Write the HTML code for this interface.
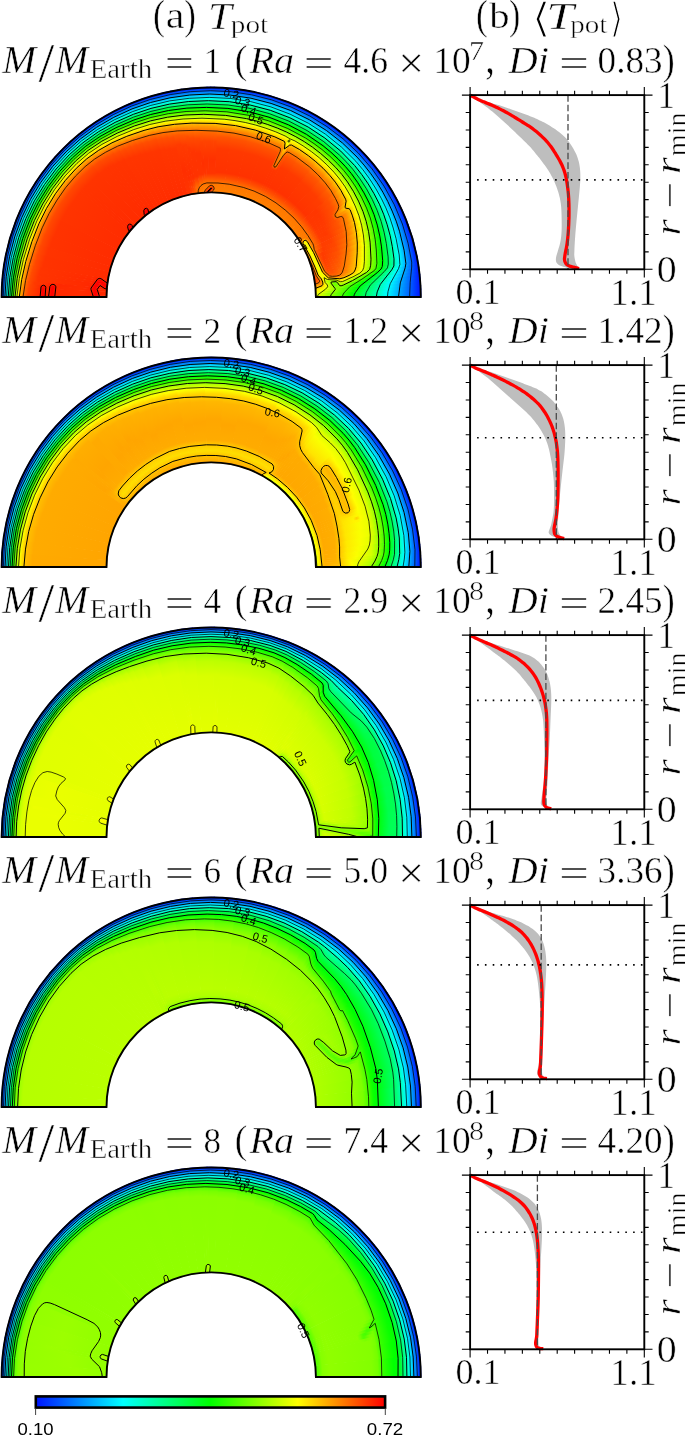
<!DOCTYPE html>
<html><head><meta charset="utf-8"><title>Tpot</title>
<style>
html,body{margin:0;padding:0;background:#fff;overflow:hidden;}
svg{display:block;}
.s{font-family:"Liberation Serif",serif;}
.i{font-family:"Liberation Serif",serif;font-style:italic;}
.a{font-family:"Liberation Sans",sans-serif;}
.d{font-family:"DejaVu Serif","Liberation Serif",serif;}
</style></head>
<body>
<svg width="685" height="1437" viewBox="0 0 685 1437">
<defs>
<linearGradient id="cb" x1="0" x2="1" y1="0" y2="0"><stop offset="0" stop-color="#0014ff"/><stop offset=".25" stop-color="#00ffff"/><stop offset=".5" stop-color="#00ff00"/><stop offset=".75" stop-color="#ffff00"/><stop offset="1" stop-color="#ff0000"/></linearGradient>
<radialGradient id="g0_0" gradientUnits="userSpaceOnUse" cx="211.2" cy="297" r="209.6"><stop offset="0.4995" stop-color="#f1ff00"/><stop offset="0.6228" stop-color="#4aff00"/><stop offset="0.6731" stop-color="#00ff01"/><stop offset="0.8390" stop-color="#00fcff"/><stop offset="1.0000" stop-color="#0014ff"/></radialGradient>
<radialGradient id="g0_1" gradientUnits="userSpaceOnUse" cx="211.2" cy="297" r="209.6"><stop offset="0.4995" stop-color="#fff800"/><stop offset="0.5171" stop-color="#f1ff00"/><stop offset="0.6429" stop-color="#40ff00"/><stop offset="0.6856" stop-color="#00ff03"/><stop offset="0.8441" stop-color="#00fcff"/><stop offset="1.0000" stop-color="#0014ff"/></radialGradient>
<radialGradient id="g0_2" gradientUnits="userSpaceOnUse" cx="211.2" cy="297" r="209.6"><stop offset="0.4995" stop-color="#ffe400"/><stop offset="0.5247" stop-color="#fcff00"/><stop offset="0.5825" stop-color="#a6ff00"/><stop offset="0.6630" stop-color="#32ff00"/><stop offset="0.6957" stop-color="#00ff03"/><stop offset="0.8491" stop-color="#00fdff"/><stop offset="1.0000" stop-color="#0014ff"/></radialGradient>
<radialGradient id="g0_3" gradientUnits="userSpaceOnUse" cx="211.2" cy="297" r="209.6"><stop offset="0.4995" stop-color="#ffcd00"/><stop offset="0.5423" stop-color="#faff00"/><stop offset="0.5750" stop-color="#baff00"/><stop offset="0.5951" stop-color="#87ff00"/><stop offset="0.6228" stop-color="#86ff00"/><stop offset="0.7083" stop-color="#00ff02"/><stop offset="0.8541" stop-color="#00ffff"/><stop offset="1.0000" stop-color="#0014ff"/></radialGradient>
<radialGradient id="g0_4" gradientUnits="userSpaceOnUse" cx="211.2" cy="297" r="209.6"><stop offset="0.4995" stop-color="#ffa800"/><stop offset="0.5297" stop-color="#ffcd00"/><stop offset="0.5498" stop-color="#ffff00"/><stop offset="0.5775" stop-color="#a6ff00"/><stop offset="0.5926" stop-color="#6dff00"/><stop offset="0.6001" stop-color="#6dff00"/><stop offset="0.6177" stop-color="#a5ff00"/><stop offset="0.6303" stop-color="#a7ff00"/><stop offset="0.7284" stop-color="#00ff02"/><stop offset="0.8642" stop-color="#00ffff"/><stop offset="1.0000" stop-color="#0014ff"/></radialGradient>
<radialGradient id="g0_5" gradientUnits="userSpaceOnUse" cx="211.2" cy="297" r="209.6"><stop offset="0.4995" stop-color="#ff8100"/><stop offset="0.5247" stop-color="#ff9d00"/><stop offset="0.5347" stop-color="#ffbd00"/><stop offset="0.5473" stop-color="#feff00"/><stop offset="0.5775" stop-color="#8fff00"/><stop offset="0.5926" stop-color="#6dff00"/><stop offset="0.5976" stop-color="#6cff00"/><stop offset="0.6052" stop-color="#8cff00"/><stop offset="0.6152" stop-color="#c6ff00"/><stop offset="0.6228" stop-color="#dbff00"/><stop offset="0.6353" stop-color="#d8ff00"/><stop offset="0.7234" stop-color="#38ff00"/><stop offset="0.7535" stop-color="#00ff05"/><stop offset="0.8768" stop-color="#00feff"/><stop offset="1.0000" stop-color="#0014ff"/></radialGradient>
<radialGradient id="g0_6" gradientUnits="userSpaceOnUse" cx="211.2" cy="297" r="209.6"><stop offset="0.4995" stop-color="#ff6300"/><stop offset="0.5196" stop-color="#ff7800"/><stop offset="0.5297" stop-color="#ff9900"/><stop offset="0.5398" stop-color="#ffda00"/><stop offset="0.5448" stop-color="#fcff00"/><stop offset="0.5523" stop-color="#c8ff00"/><stop offset="0.5674" stop-color="#a9ff00"/><stop offset="0.5825" stop-color="#a9ff00"/><stop offset="0.6001" stop-color="#c7ff00"/><stop offset="0.6127" stop-color="#fdff00"/><stop offset="0.6228" stop-color="#ffe900"/><stop offset="0.6378" stop-color="#fff200"/><stop offset="0.6504" stop-color="#f8ff00"/><stop offset="0.7334" stop-color="#57ff00"/><stop offset="0.7737" stop-color="#00ff00"/><stop offset="0.8868" stop-color="#00fffe"/><stop offset="1.0000" stop-color="#0014ff"/></radialGradient>
<radialGradient id="g0_7" gradientUnits="userSpaceOnUse" cx="211.2" cy="297" r="209.6"><stop offset="0.4995" stop-color="#ff4b00"/><stop offset="0.5146" stop-color="#ff5b00"/><stop offset="0.5247" stop-color="#ff7d00"/><stop offset="0.5347" stop-color="#ffc000"/><stop offset="0.5423" stop-color="#fffc00"/><stop offset="0.5498" stop-color="#d8ff00"/><stop offset="0.5549" stop-color="#d2ff00"/><stop offset="0.5750" stop-color="#fffc00"/><stop offset="0.6001" stop-color="#ffbe00"/><stop offset="0.6202" stop-color="#ffa600"/><stop offset="0.6429" stop-color="#ffba00"/><stop offset="0.6856" stop-color="#fdff00"/><stop offset="0.7560" stop-color="#66ff00"/><stop offset="0.7988" stop-color="#00ff02"/><stop offset="0.8994" stop-color="#00ffff"/><stop offset="1.0000" stop-color="#0014ff"/></radialGradient>
<radialGradient id="g0_8" gradientUnits="userSpaceOnUse" cx="211.2" cy="297" r="209.6"><stop offset="0.4995" stop-color="#ff4000"/><stop offset="0.5121" stop-color="#ff5300"/><stop offset="0.5222" stop-color="#ff7f00"/><stop offset="0.5398" stop-color="#fdff00"/><stop offset="0.5448" stop-color="#e8ff00"/><stop offset="0.5498" stop-color="#e6ff00"/><stop offset="0.5549" stop-color="#f8ff00"/><stop offset="0.5574" stop-color="#fff700"/><stop offset="0.5674" stop-color="#ffae00"/><stop offset="0.5750" stop-color="#ff9500"/><stop offset="0.5951" stop-color="#ff7600"/><stop offset="0.6202" stop-color="#ff7600"/><stop offset="0.6680" stop-color="#ffab00"/><stop offset="0.7158" stop-color="#feff00"/><stop offset="0.7787" stop-color="#69ff00"/><stop offset="0.8189" stop-color="#00ff03"/><stop offset="0.9095" stop-color="#00feff"/><stop offset="1.0000" stop-color="#0014ff"/></radialGradient>
<radialGradient id="g0_9" gradientUnits="userSpaceOnUse" cx="211.2" cy="297" r="209.6"><stop offset="0.4995" stop-color="#ff4000"/><stop offset="0.5096" stop-color="#ff5a00"/><stop offset="0.5196" stop-color="#ff9200"/><stop offset="0.5322" stop-color="#fff200"/><stop offset="0.5347" stop-color="#fdff00"/><stop offset="0.5398" stop-color="#ecff00"/><stop offset="0.5448" stop-color="#efff00"/><stop offset="0.5498" stop-color="#fffa00"/><stop offset="0.5674" stop-color="#ff8000"/><stop offset="0.5775" stop-color="#ff5e00"/><stop offset="0.6077" stop-color="#ff6000"/><stop offset="0.6605" stop-color="#ff8e00"/><stop offset="0.7083" stop-color="#ffd800"/><stop offset="0.7284" stop-color="#fdff00"/><stop offset="0.7887" stop-color="#67ff00"/><stop offset="0.8265" stop-color="#00ff03"/><stop offset="0.9145" stop-color="#00fbff"/><stop offset="1.0000" stop-color="#0014ff"/></radialGradient>
<radialGradient id="g0_10" gradientUnits="userSpaceOnUse" cx="211.2" cy="297" r="209.6"><stop offset="0.4995" stop-color="#ff4200"/><stop offset="0.5071" stop-color="#ff5b00"/><stop offset="0.5146" stop-color="#ff8e00"/><stop offset="0.5247" stop-color="#ffe400"/><stop offset="0.5297" stop-color="#fcff00"/><stop offset="0.5347" stop-color="#eeff00"/><stop offset="0.5398" stop-color="#f5ff00"/><stop offset="0.5423" stop-color="#ffff00"/><stop offset="0.5624" stop-color="#ff7600"/><stop offset="0.5725" stop-color="#ff5600"/><stop offset="0.5901" stop-color="#ff5100"/><stop offset="0.6504" stop-color="#ff7a00"/><stop offset="0.6982" stop-color="#ffba00"/><stop offset="0.7334" stop-color="#ffff00"/><stop offset="0.7913" stop-color="#6dff00"/><stop offset="0.8290" stop-color="#01ff00"/><stop offset="0.9145" stop-color="#00fffd"/><stop offset="1.0000" stop-color="#0014ff"/></radialGradient>
<radialGradient id="g0_11" gradientUnits="userSpaceOnUse" cx="211.2" cy="297" r="209.6"><stop offset="0.4995" stop-color="#ff4400"/><stop offset="0.5071" stop-color="#ff6000"/><stop offset="0.5146" stop-color="#ff9800"/><stop offset="0.5247" stop-color="#fff200"/><stop offset="0.5272" stop-color="#fcff00"/><stop offset="0.5322" stop-color="#f0ff00"/><stop offset="0.5372" stop-color="#ffff00"/><stop offset="0.5523" stop-color="#ff8b00"/><stop offset="0.5599" stop-color="#ff6400"/><stop offset="0.5699" stop-color="#ff4d00"/><stop offset="0.5976" stop-color="#ff5000"/><stop offset="0.6580" stop-color="#ff7c00"/><stop offset="0.7057" stop-color="#ffbe00"/><stop offset="0.7384" stop-color="#feff00"/><stop offset="0.7963" stop-color="#69ff00"/><stop offset="0.8315" stop-color="#03ff00"/><stop offset="0.9170" stop-color="#00feff"/><stop offset="1.0000" stop-color="#0014ff"/></radialGradient>
<radialGradient id="g0_12" gradientUnits="userSpaceOnUse" cx="211.2" cy="297" r="209.6"><stop offset="0.4995" stop-color="#ff4600"/><stop offset="0.5071" stop-color="#ff6600"/><stop offset="0.5146" stop-color="#ffa200"/><stop offset="0.5247" stop-color="#fff900"/><stop offset="0.5297" stop-color="#f1ff00"/><stop offset="0.5347" stop-color="#f9ff00"/><stop offset="0.5372" stop-color="#fff700"/><stop offset="0.5523" stop-color="#ff7a00"/><stop offset="0.5599" stop-color="#ff5600"/><stop offset="0.5699" stop-color="#ff4700"/><stop offset="0.6278" stop-color="#ff5e00"/><stop offset="0.6806" stop-color="#ff9100"/><stop offset="0.7259" stop-color="#ffdd00"/><stop offset="0.7435" stop-color="#fbff00"/><stop offset="0.8013" stop-color="#63ff00"/><stop offset="0.8340" stop-color="#02ff00"/><stop offset="0.9170" stop-color="#00fffd"/><stop offset="1.0000" stop-color="#0014ff"/></radialGradient>
<radialGradient id="g0_13" gradientUnits="userSpaceOnUse" cx="211.2" cy="297" r="209.6"><stop offset="0.4995" stop-color="#ff4800"/><stop offset="0.5071" stop-color="#ff6d00"/><stop offset="0.5222" stop-color="#ffef00"/><stop offset="0.5247" stop-color="#ffff00"/><stop offset="0.5297" stop-color="#f2ff00"/><stop offset="0.5347" stop-color="#fffe00"/><stop offset="0.5423" stop-color="#ffc300"/><stop offset="0.5523" stop-color="#ff7100"/><stop offset="0.5599" stop-color="#ff5000"/><stop offset="0.5725" stop-color="#ff4400"/><stop offset="0.6378" stop-color="#ff6200"/><stop offset="0.6881" stop-color="#ff9600"/><stop offset="0.7334" stop-color="#ffe500"/><stop offset="0.7460" stop-color="#fdff00"/><stop offset="0.8038" stop-color="#63ff00"/><stop offset="0.8365" stop-color="#01ff00"/><stop offset="0.9195" stop-color="#00fdff"/><stop offset="1.0000" stop-color="#0014ff"/></radialGradient>
<radialGradient id="g0_14" gradientUnits="userSpaceOnUse" cx="211.2" cy="297" r="209.6"><stop offset="0.4995" stop-color="#ff4c00"/><stop offset="0.5071" stop-color="#ff7400"/><stop offset="0.5222" stop-color="#fff600"/><stop offset="0.5272" stop-color="#f3ff00"/><stop offset="0.5322" stop-color="#fbff00"/><stop offset="0.5347" stop-color="#fff600"/><stop offset="0.5498" stop-color="#ff7800"/><stop offset="0.5574" stop-color="#ff5200"/><stop offset="0.5674" stop-color="#ff4300"/><stop offset="0.6278" stop-color="#ff5700"/><stop offset="0.6806" stop-color="#ff8500"/><stop offset="0.7259" stop-color="#ffcd00"/><stop offset="0.7510" stop-color="#fbff00"/><stop offset="0.8089" stop-color="#5dff00"/><stop offset="0.8390" stop-color="#01ff00"/><stop offset="0.9195" stop-color="#00fffd"/><stop offset="1.0000" stop-color="#0014ff"/></radialGradient>
<radialGradient id="g0_15" gradientUnits="userSpaceOnUse" cx="211.2" cy="297" r="209.6"><stop offset="0.4995" stop-color="#ff4f00"/><stop offset="0.5071" stop-color="#ff7d00"/><stop offset="0.5196" stop-color="#ffec00"/><stop offset="0.5222" stop-color="#fffd00"/><stop offset="0.5272" stop-color="#f4ff00"/><stop offset="0.5322" stop-color="#fffc00"/><stop offset="0.5398" stop-color="#ffc100"/><stop offset="0.5498" stop-color="#ff6e00"/><stop offset="0.5574" stop-color="#ff4d00"/><stop offset="0.5699" stop-color="#ff4000"/><stop offset="0.6404" stop-color="#ff5b00"/><stop offset="0.6907" stop-color="#ff8b00"/><stop offset="0.7359" stop-color="#ffd800"/><stop offset="0.7535" stop-color="#feff00"/><stop offset="0.8089" stop-color="#67ff00"/><stop offset="0.8416" stop-color="#02ff00"/><stop offset="0.9220" stop-color="#00fdff"/><stop offset="1.0000" stop-color="#0014ff"/></radialGradient>
<radialGradient id="g0_16" gradientUnits="userSpaceOnUse" cx="211.2" cy="297" r="209.6"><stop offset="0.4995" stop-color="#ff5400"/><stop offset="0.5071" stop-color="#ff8600"/><stop offset="0.5196" stop-color="#fff400"/><stop offset="0.5222" stop-color="#fdff00"/><stop offset="0.5272" stop-color="#f5ff00"/><stop offset="0.5297" stop-color="#fcff00"/><stop offset="0.5347" stop-color="#ffe200"/><stop offset="0.5473" stop-color="#ff7600"/><stop offset="0.5549" stop-color="#ff5000"/><stop offset="0.5649" stop-color="#ff3f00"/><stop offset="0.6278" stop-color="#ff5000"/><stop offset="0.6831" stop-color="#ff7c00"/><stop offset="0.7284" stop-color="#ffc000"/><stop offset="0.7586" stop-color="#fcff00"/><stop offset="0.8139" stop-color="#61ff00"/><stop offset="0.8441" stop-color="#02ff00"/><stop offset="0.9220" stop-color="#00fffd"/><stop offset="1.0000" stop-color="#0014ff"/></radialGradient>
<radialGradient id="g0_17" gradientUnits="userSpaceOnUse" cx="211.2" cy="297" r="209.6"><stop offset="0.4995" stop-color="#ff5c00"/><stop offset="0.5071" stop-color="#ff9400"/><stop offset="0.5171" stop-color="#ffee00"/><stop offset="0.5196" stop-color="#fffd00"/><stop offset="0.5247" stop-color="#f6ff00"/><stop offset="0.5297" stop-color="#fff800"/><stop offset="0.5398" stop-color="#ffa300"/><stop offset="0.5473" stop-color="#ff6800"/><stop offset="0.5549" stop-color="#ff4800"/><stop offset="0.5674" stop-color="#ff3b00"/><stop offset="0.6429" stop-color="#ff5400"/><stop offset="0.6957" stop-color="#ff8200"/><stop offset="0.7384" stop-color="#ffc700"/><stop offset="0.7636" stop-color="#feff00"/><stop offset="0.8164" stop-color="#68ff00"/><stop offset="0.8491" stop-color="#00ff02"/><stop offset="0.9246" stop-color="#00ffff"/><stop offset="1.0000" stop-color="#0014ff"/></radialGradient>
<radialGradient id="g0_18" gradientUnits="userSpaceOnUse" cx="211.2" cy="297" r="209.6"><stop offset="0.4995" stop-color="#ff6400"/><stop offset="0.5096" stop-color="#ffb900"/><stop offset="0.5171" stop-color="#fff700"/><stop offset="0.5222" stop-color="#f7ff00"/><stop offset="0.5272" stop-color="#fffb00"/><stop offset="0.5347" stop-color="#ffc000"/><stop offset="0.5448" stop-color="#ff6b00"/><stop offset="0.5523" stop-color="#ff4800"/><stop offset="0.5699" stop-color="#ff3b00"/><stop offset="0.6404" stop-color="#ff4c00"/><stop offset="0.6957" stop-color="#ff7600"/><stop offset="0.7384" stop-color="#ffb600"/><stop offset="0.7711" stop-color="#ffff00"/><stop offset="0.8214" stop-color="#6bff00"/><stop offset="0.8541" stop-color="#00ff02"/><stop offset="0.9271" stop-color="#00ffff"/><stop offset="1.0000" stop-color="#0014ff"/></radialGradient>
<radialGradient id="g0_19" gradientUnits="userSpaceOnUse" cx="211.2" cy="297" r="209.6"><stop offset="0.4995" stop-color="#ff7800"/><stop offset="0.5020" stop-color="#ff7c00"/><stop offset="0.5146" stop-color="#ffec00"/><stop offset="0.5171" stop-color="#fffc00"/><stop offset="0.5222" stop-color="#f8ff00"/><stop offset="0.5247" stop-color="#fdff00"/><stop offset="0.5297" stop-color="#ffe300"/><stop offset="0.5423" stop-color="#ff7400"/><stop offset="0.5473" stop-color="#ff5b00"/><stop offset="0.5800" stop-color="#ff3c00"/><stop offset="0.6404" stop-color="#ff4700"/><stop offset="0.6982" stop-color="#ff6e00"/><stop offset="0.7410" stop-color="#ffab00"/><stop offset="0.7787" stop-color="#feff00"/><stop offset="0.8290" stop-color="#64ff00"/><stop offset="0.8592" stop-color="#00ff04"/><stop offset="0.9296" stop-color="#00feff"/><stop offset="1.0000" stop-color="#0014ff"/></radialGradient>
<radialGradient id="g0_20" gradientUnits="userSpaceOnUse" cx="211.2" cy="297" r="209.6"><stop offset="0.4995" stop-color="#ff8000"/><stop offset="0.5020" stop-color="#ff8400"/><stop offset="0.5146" stop-color="#fff200"/><stop offset="0.5171" stop-color="#ffff00"/><stop offset="0.5222" stop-color="#faff00"/><stop offset="0.5247" stop-color="#fffc00"/><stop offset="0.5322" stop-color="#ffc400"/><stop offset="0.5398" stop-color="#ff7f00"/><stop offset="0.5423" stop-color="#ff7200"/><stop offset="0.5850" stop-color="#ff3d00"/><stop offset="0.6303" stop-color="#ff4000"/><stop offset="0.6932" stop-color="#ff6000"/><stop offset="0.7359" stop-color="#ff9400"/><stop offset="0.7737" stop-color="#ffe100"/><stop offset="0.7862" stop-color="#fcff00"/><stop offset="0.8340" stop-color="#65ff00"/><stop offset="0.8617" stop-color="#03ff00"/><stop offset="0.9321" stop-color="#00fdff"/><stop offset="1.0000" stop-color="#0014ff"/></radialGradient>
<radialGradient id="g0_21" gradientUnits="userSpaceOnUse" cx="211.2" cy="297" r="209.6"><stop offset="0.4995" stop-color="#ff8100"/><stop offset="0.5020" stop-color="#ff8b00"/><stop offset="0.5121" stop-color="#ffe700"/><stop offset="0.5171" stop-color="#fcff00"/><stop offset="0.5222" stop-color="#fdff00"/><stop offset="0.5272" stop-color="#ffe600"/><stop offset="0.5372" stop-color="#ff8b00"/><stop offset="0.5398" stop-color="#ff7a00"/><stop offset="0.5901" stop-color="#ff3b00"/><stop offset="0.6404" stop-color="#ff3f00"/><stop offset="0.7007" stop-color="#ff5f00"/><stop offset="0.7435" stop-color="#ff9400"/><stop offset="0.7812" stop-color="#ffe300"/><stop offset="0.7913" stop-color="#ffff00"/><stop offset="0.8365" stop-color="#6eff00"/><stop offset="0.8667" stop-color="#00ff01"/><stop offset="0.9346" stop-color="#00fbff"/><stop offset="1.0000" stop-color="#0014ff"/></radialGradient>
<radialGradient id="g0_22" gradientUnits="userSpaceOnUse" cx="211.2" cy="297" r="209.6"><stop offset="0.4995" stop-color="#ff8100"/><stop offset="0.5121" stop-color="#ffed00"/><stop offset="0.5146" stop-color="#fffb00"/><stop offset="0.5196" stop-color="#faff00"/><stop offset="0.5222" stop-color="#fffd00"/><stop offset="0.5272" stop-color="#ffde00"/><stop offset="0.5372" stop-color="#ff8200"/><stop offset="0.5498" stop-color="#ff7100"/><stop offset="0.5875" stop-color="#ff3c00"/><stop offset="0.6253" stop-color="#ff3900"/><stop offset="0.6957" stop-color="#ff5500"/><stop offset="0.7410" stop-color="#ff8400"/><stop offset="0.7762" stop-color="#ffc800"/><stop offset="0.7963" stop-color="#fffd00"/><stop offset="0.8315" stop-color="#8fff00"/><stop offset="0.8692" stop-color="#03ff00"/><stop offset="0.9346" stop-color="#00fffc"/><stop offset="1.0000" stop-color="#0014ff"/></radialGradient>
<radialGradient id="g0_23" gradientUnits="userSpaceOnUse" cx="211.2" cy="297" r="209.6"><stop offset="0.4995" stop-color="#ff8100"/><stop offset="0.5121" stop-color="#ffe600"/><stop offset="0.5171" stop-color="#fff800"/><stop offset="0.5222" stop-color="#fff000"/><stop offset="0.5297" stop-color="#ffbb00"/><stop offset="0.5372" stop-color="#ff7c00"/><stop offset="0.5649" stop-color="#ff5a00"/><stop offset="0.5901" stop-color="#ff3a00"/><stop offset="0.6404" stop-color="#ff3b00"/><stop offset="0.7057" stop-color="#ff5900"/><stop offset="0.7485" stop-color="#ff8900"/><stop offset="0.7837" stop-color="#ffd000"/><stop offset="0.8013" stop-color="#feff00"/><stop offset="0.8466" stop-color="#64ff00"/><stop offset="0.8717" stop-color="#03ff00"/><stop offset="0.9371" stop-color="#00fdff"/><stop offset="1.0000" stop-color="#0014ff"/></radialGradient>
<radialGradient id="g0_24" gradientUnits="userSpaceOnUse" cx="211.2" cy="297" r="209.6"><stop offset="0.4995" stop-color="#ff8000"/><stop offset="0.5046" stop-color="#ff8100"/><stop offset="0.5146" stop-color="#ffac00"/><stop offset="0.5222" stop-color="#ffaa00"/><stop offset="0.5322" stop-color="#ff7e00"/><stop offset="0.5574" stop-color="#ff6600"/><stop offset="0.5875" stop-color="#ff3b00"/><stop offset="0.6278" stop-color="#ff3800"/><stop offset="0.6932" stop-color="#ff4f00"/><stop offset="0.7510" stop-color="#ff8900"/><stop offset="0.7837" stop-color="#ffca00"/><stop offset="0.8038" stop-color="#fdff00"/><stop offset="0.8466" stop-color="#6bff00"/><stop offset="0.8743" stop-color="#00ff01"/><stop offset="0.9371" stop-color="#00fffe"/><stop offset="1.0000" stop-color="#0014ff"/></radialGradient>
<radialGradient id="g0_25" gradientUnits="userSpaceOnUse" cx="211.2" cy="297" r="209.6"><stop offset="0.4995" stop-color="#ff8000"/><stop offset="0.5423" stop-color="#ff7800"/><stop offset="0.5901" stop-color="#ff3900"/><stop offset="0.6429" stop-color="#ff3a00"/><stop offset="0.6907" stop-color="#ff4d00"/><stop offset="0.7133" stop-color="#ff7f00"/><stop offset="0.7560" stop-color="#ff9c00"/><stop offset="0.7862" stop-color="#ffcf00"/><stop offset="0.8063" stop-color="#fcff00"/><stop offset="0.8491" stop-color="#68ff00"/><stop offset="0.8768" stop-color="#00ff05"/><stop offset="0.9371" stop-color="#00fffb"/><stop offset="1.0000" stop-color="#0014ff"/></radialGradient>
<radialGradient id="g0_26" gradientUnits="userSpaceOnUse" cx="211.2" cy="297" r="209.6"><stop offset="0.4995" stop-color="#ff8000"/><stop offset="0.5423" stop-color="#ff7800"/><stop offset="0.5901" stop-color="#ff3800"/><stop offset="0.6429" stop-color="#ff3900"/><stop offset="0.6907" stop-color="#ff4b00"/><stop offset="0.7158" stop-color="#ff8000"/><stop offset="0.7762" stop-color="#ffd200"/><stop offset="0.7963" stop-color="#ffef00"/><stop offset="0.8089" stop-color="#faff00"/><stop offset="0.8441" stop-color="#82ff00"/><stop offset="0.8768" stop-color="#01ff00"/><stop offset="0.9396" stop-color="#00fcff"/><stop offset="1.0000" stop-color="#0014ff"/></radialGradient>
<radialGradient id="g0_27" gradientUnits="userSpaceOnUse" cx="211.2" cy="297" r="209.6"><stop offset="0.4995" stop-color="#ff8000"/><stop offset="0.5423" stop-color="#ff7700"/><stop offset="0.5901" stop-color="#ff3800"/><stop offset="0.6429" stop-color="#ff3800"/><stop offset="0.6982" stop-color="#ff4d00"/><stop offset="0.7460" stop-color="#ff8600"/><stop offset="0.7812" stop-color="#ffd100"/><stop offset="0.7938" stop-color="#ffe600"/><stop offset="0.8114" stop-color="#fbff00"/><stop offset="0.8491" stop-color="#76ff00"/><stop offset="0.8793" stop-color="#00ff03"/><stop offset="0.9396" stop-color="#00feff"/><stop offset="1.0000" stop-color="#0014ff"/></radialGradient>
<radialGradient id="g0_28" gradientUnits="userSpaceOnUse" cx="211.2" cy="297" r="209.6"><stop offset="0.4995" stop-color="#ff8000"/><stop offset="0.5423" stop-color="#ff7700"/><stop offset="0.5901" stop-color="#ff3800"/><stop offset="0.6454" stop-color="#ff3800"/><stop offset="0.7133" stop-color="#ff5100"/><stop offset="0.7535" stop-color="#ff7c00"/><stop offset="0.7887" stop-color="#ffc200"/><stop offset="0.8139" stop-color="#fbff00"/><stop offset="0.8566" stop-color="#60ff00"/><stop offset="0.8793" stop-color="#03ff00"/><stop offset="0.9396" stop-color="#00fffd"/><stop offset="1.0000" stop-color="#0014ff"/></radialGradient>
<radialGradient id="g0_29" gradientUnits="userSpaceOnUse" cx="211.2" cy="297" r="209.6"><stop offset="0.4995" stop-color="#ff8000"/><stop offset="0.5423" stop-color="#ff7700"/><stop offset="0.5901" stop-color="#ff3700"/><stop offset="0.6454" stop-color="#ff3700"/><stop offset="0.7158" stop-color="#ff4f00"/><stop offset="0.7586" stop-color="#ff7b00"/><stop offset="0.7913" stop-color="#ffba00"/><stop offset="0.8164" stop-color="#fdff00"/><stop offset="0.8566" stop-color="#69ff00"/><stop offset="0.8818" stop-color="#01ff00"/><stop offset="0.9422" stop-color="#00fbff"/><stop offset="1.0000" stop-color="#0014ff"/></radialGradient>
<radialGradient id="g0_30" gradientUnits="userSpaceOnUse" cx="211.2" cy="297" r="209.6"><stop offset="0.4995" stop-color="#ff8000"/><stop offset="0.5423" stop-color="#ff7700"/><stop offset="0.5901" stop-color="#ff3700"/><stop offset="0.6479" stop-color="#ff3600"/><stop offset="0.7208" stop-color="#ff4f00"/><stop offset="0.7611" stop-color="#ff7700"/><stop offset="0.7938" stop-color="#ffb500"/><stop offset="0.8189" stop-color="#fffd00"/><stop offset="0.8516" stop-color="#8aff00"/><stop offset="0.8843" stop-color="#01ff00"/><stop offset="0.9422" stop-color="#00fffe"/><stop offset="1.0000" stop-color="#0014ff"/></radialGradient>
<radialGradient id="g0_31" gradientUnits="userSpaceOnUse" cx="211.2" cy="297" r="209.6"><stop offset="0.4995" stop-color="#ff8000"/><stop offset="0.5398" stop-color="#ff7800"/><stop offset="0.5699" stop-color="#ff4f00"/><stop offset="0.5951" stop-color="#ff3300"/><stop offset="0.6881" stop-color="#ff3d00"/><stop offset="0.7435" stop-color="#ff5c00"/><stop offset="0.7787" stop-color="#ff8b00"/><stop offset="0.8089" stop-color="#ffd100"/><stop offset="0.8240" stop-color="#ffff00"/><stop offset="0.8642" stop-color="#64ff00"/><stop offset="0.8868" stop-color="#02ff00"/><stop offset="0.9447" stop-color="#00fbff"/><stop offset="1.0000" stop-color="#0014ff"/></radialGradient>
<radialGradient id="g0_32" gradientUnits="userSpaceOnUse" cx="211.2" cy="297" r="209.6"><stop offset="0.4995" stop-color="#ff7f00"/><stop offset="0.5398" stop-color="#ff7800"/><stop offset="0.5699" stop-color="#ff4f00"/><stop offset="0.5951" stop-color="#ff3300"/><stop offset="0.6932" stop-color="#ff3c00"/><stop offset="0.7485" stop-color="#ff5a00"/><stop offset="0.7837" stop-color="#ff8a00"/><stop offset="0.8139" stop-color="#ffd100"/><stop offset="0.8290" stop-color="#fcff00"/><stop offset="0.8667" stop-color="#68ff00"/><stop offset="0.8893" stop-color="#03ff00"/><stop offset="0.9447" stop-color="#00fffc"/><stop offset="1.0000" stop-color="#0014ff"/></radialGradient>
<radialGradient id="g0_33" gradientUnits="userSpaceOnUse" cx="211.2" cy="297" r="209.6"><stop offset="0.4995" stop-color="#ff7f00"/><stop offset="0.5398" stop-color="#ff7800"/><stop offset="0.5699" stop-color="#ff4e00"/><stop offset="0.5951" stop-color="#ff3300"/><stop offset="0.6957" stop-color="#ff3b00"/><stop offset="0.7510" stop-color="#ff5700"/><stop offset="0.7862" stop-color="#ff8500"/><stop offset="0.8164" stop-color="#ffcc00"/><stop offset="0.8315" stop-color="#fffd00"/><stop offset="0.8617" stop-color="#8bff00"/><stop offset="0.8919" stop-color="#03ff00"/><stop offset="0.9472" stop-color="#00fcff"/><stop offset="1.0000" stop-color="#0014ff"/></radialGradient>
<radialGradient id="g0_34" gradientUnits="userSpaceOnUse" cx="211.2" cy="297" r="209.6"><stop offset="0.4995" stop-color="#ff7f00"/><stop offset="0.5398" stop-color="#ff7800"/><stop offset="0.5699" stop-color="#ff4e00"/><stop offset="0.5951" stop-color="#ff3200"/><stop offset="0.7007" stop-color="#ff3a00"/><stop offset="0.7560" stop-color="#ff5700"/><stop offset="0.7913" stop-color="#ff8600"/><stop offset="0.8214" stop-color="#ffd000"/><stop offset="0.8365" stop-color="#fcff00"/><stop offset="0.8743" stop-color="#60ff00"/><stop offset="0.8944" stop-color="#02ff00"/><stop offset="0.9472" stop-color="#00fffd"/><stop offset="1.0000" stop-color="#0014ff"/></radialGradient>
<radialGradient id="g0_35" gradientUnits="userSpaceOnUse" cx="211.2" cy="297" r="209.6"><stop offset="0.4995" stop-color="#ff7f00"/><stop offset="0.5398" stop-color="#ff7800"/><stop offset="0.5699" stop-color="#ff4e00"/><stop offset="0.5951" stop-color="#ff3200"/><stop offset="0.7007" stop-color="#ff3900"/><stop offset="0.7560" stop-color="#ff5400"/><stop offset="0.7913" stop-color="#ff8100"/><stop offset="0.8189" stop-color="#ffc200"/><stop offset="0.8390" stop-color="#faff00"/><stop offset="0.8743" stop-color="#67ff00"/><stop offset="0.8969" stop-color="#00ff03"/><stop offset="0.9472" stop-color="#00fffa"/><stop offset="0.9623" stop-color="#00bfff"/><stop offset="1.0000" stop-color="#0014ff"/></radialGradient>
<radialGradient id="g0_36" gradientUnits="userSpaceOnUse" cx="211.2" cy="297" r="209.6"><stop offset="0.4995" stop-color="#ff7f00"/><stop offset="0.5398" stop-color="#ff7800"/><stop offset="0.5699" stop-color="#ff4e00"/><stop offset="0.5951" stop-color="#ff3200"/><stop offset="0.6856" stop-color="#ff3800"/><stop offset="0.7535" stop-color="#ff5800"/><stop offset="0.7887" stop-color="#ff8300"/><stop offset="0.8189" stop-color="#ffc900"/><stop offset="0.8365" stop-color="#fffd00"/><stop offset="0.8541" stop-color="#c2ff00"/><stop offset="0.8969" stop-color="#00ff01"/><stop offset="0.9472" stop-color="#00fff9"/><stop offset="0.9547" stop-color="#00e2ff"/><stop offset="1.0000" stop-color="#0014ff"/></radialGradient>
<radialGradient id="g0_37" gradientUnits="userSpaceOnUse" cx="211.2" cy="297" r="209.6"><stop offset="0.4995" stop-color="#ff7f00"/><stop offset="0.5398" stop-color="#ff7800"/><stop offset="0.5699" stop-color="#ff4e00"/><stop offset="0.5951" stop-color="#ff3200"/><stop offset="0.6756" stop-color="#ff3600"/><stop offset="0.6831" stop-color="#ff4700"/><stop offset="0.6932" stop-color="#ff7000"/><stop offset="0.7586" stop-color="#ff9c00"/><stop offset="0.7963" stop-color="#ffd100"/><stop offset="0.8164" stop-color="#fffe00"/><stop offset="0.8315" stop-color="#dcff00"/><stop offset="0.8416" stop-color="#e8ff00"/><stop offset="0.8516" stop-color="#cdff00"/><stop offset="0.8969" stop-color="#00ff01"/><stop offset="0.9472" stop-color="#00fff8"/><stop offset="0.9547" stop-color="#00e3ff"/><stop offset="1.0000" stop-color="#0014ff"/></radialGradient>
<radialGradient id="g0_38" gradientUnits="userSpaceOnUse" cx="211.2" cy="297" r="209.6"><stop offset="0.4995" stop-color="#ff7f00"/><stop offset="0.5398" stop-color="#ff7800"/><stop offset="0.5699" stop-color="#ff4e00"/><stop offset="0.5951" stop-color="#ff3200"/><stop offset="0.6756" stop-color="#ff3600"/><stop offset="0.6831" stop-color="#ff4700"/><stop offset="0.6932" stop-color="#ff7000"/><stop offset="0.7586" stop-color="#ff7600"/><stop offset="0.7913" stop-color="#ff9400"/><stop offset="0.8189" stop-color="#ffcb00"/><stop offset="0.8390" stop-color="#fbff00"/><stop offset="0.8642" stop-color="#98ff00"/><stop offset="0.8969" stop-color="#00ff00"/><stop offset="0.9472" stop-color="#00fff8"/><stop offset="0.9522" stop-color="#00efff"/><stop offset="1.0000" stop-color="#0014ff"/></radialGradient>
<radialGradient id="g0_39" gradientUnits="userSpaceOnUse" cx="211.2" cy="297" r="209.6"><stop offset="0.4995" stop-color="#ff7f00"/><stop offset="0.5398" stop-color="#ff7800"/><stop offset="0.5699" stop-color="#ff4e00"/><stop offset="0.5951" stop-color="#ff3200"/><stop offset="0.7032" stop-color="#ff3900"/><stop offset="0.7586" stop-color="#ff5400"/><stop offset="0.7938" stop-color="#ff8200"/><stop offset="0.8214" stop-color="#ffc300"/><stop offset="0.8390" stop-color="#fffd00"/><stop offset="0.8692" stop-color="#84ff00"/><stop offset="0.8969" stop-color="#02ff00"/><stop offset="0.9497" stop-color="#00fbff"/><stop offset="1.0000" stop-color="#0014ff"/></radialGradient>
<radialGradient id="g0_40" gradientUnits="userSpaceOnUse" cx="211.2" cy="297" r="209.6"><stop offset="0.4995" stop-color="#ff7f00"/><stop offset="0.5398" stop-color="#ff7800"/><stop offset="0.5699" stop-color="#ff4e00"/><stop offset="0.5951" stop-color="#ff3200"/><stop offset="0.7057" stop-color="#ff3900"/><stop offset="0.7611" stop-color="#ff5500"/><stop offset="0.7963" stop-color="#ff8400"/><stop offset="0.8240" stop-color="#ffc700"/><stop offset="0.8416" stop-color="#fbff00"/><stop offset="0.8768" stop-color="#66ff00"/><stop offset="0.8969" stop-color="#05ff00"/><stop offset="0.9095" stop-color="#00ff39"/><stop offset="0.9497" stop-color="#00fcff"/><stop offset="1.0000" stop-color="#0014ff"/></radialGradient>
<radialGradient id="g0_41" gradientUnits="userSpaceOnUse" cx="211.2" cy="297" r="209.6"><stop offset="0.4995" stop-color="#ff7f00"/><stop offset="0.5398" stop-color="#ff7800"/><stop offset="0.5699" stop-color="#ff4e00"/><stop offset="0.5951" stop-color="#ff3200"/><stop offset="0.7057" stop-color="#ff3900"/><stop offset="0.7611" stop-color="#ff5300"/><stop offset="0.7963" stop-color="#ff8000"/><stop offset="0.8240" stop-color="#ffc200"/><stop offset="0.8416" stop-color="#fffd00"/><stop offset="0.8692" stop-color="#8eff00"/><stop offset="0.8994" stop-color="#00ff02"/><stop offset="0.9497" stop-color="#00ffff"/><stop offset="1.0000" stop-color="#0014ff"/></radialGradient>
<radialGradient id="g0_42" gradientUnits="userSpaceOnUse" cx="211.2" cy="297" r="209.6"><stop offset="0.4995" stop-color="#ff7f00"/><stop offset="0.5398" stop-color="#ff7800"/><stop offset="0.5699" stop-color="#ff4e00"/><stop offset="0.5951" stop-color="#ff3200"/><stop offset="0.7083" stop-color="#ff3800"/><stop offset="0.7636" stop-color="#ff5300"/><stop offset="0.7988" stop-color="#ff8100"/><stop offset="0.8265" stop-color="#ffc400"/><stop offset="0.8441" stop-color="#feff00"/><stop offset="0.8793" stop-color="#66ff00"/><stop offset="0.8994" stop-color="#03ff00"/><stop offset="0.9497" stop-color="#00fffc"/><stop offset="1.0000" stop-color="#0014ff"/></radialGradient>
<radialGradient id="g0_43" gradientUnits="userSpaceOnUse" cx="211.2" cy="297" r="209.6"><stop offset="0.4995" stop-color="#ff7f00"/><stop offset="0.5222" stop-color="#ff7400"/><stop offset="0.5372" stop-color="#ff7900"/><stop offset="0.5649" stop-color="#ff5600"/><stop offset="0.5901" stop-color="#ff3400"/><stop offset="0.6555" stop-color="#ff3100"/><stop offset="0.7410" stop-color="#ff4300"/><stop offset="0.7837" stop-color="#ff6700"/><stop offset="0.8139" stop-color="#ff9e00"/><stop offset="0.8416" stop-color="#fff200"/><stop offset="0.8466" stop-color="#f9ff00"/><stop offset="0.8818" stop-color="#5eff00"/><stop offset="0.8994" stop-color="#07ff00"/><stop offset="0.9044" stop-color="#00ff12"/><stop offset="0.9497" stop-color="#00fffa"/><stop offset="1.0000" stop-color="#0014ff"/></radialGradient>
<radialGradient id="g0_44" gradientUnits="userSpaceOnUse" cx="211.2" cy="297" r="209.6"><stop offset="0.4995" stop-color="#ff7a00"/><stop offset="0.5071" stop-color="#ff6600"/><stop offset="0.5171" stop-color="#ff3100"/><stop offset="0.5196" stop-color="#ff3200"/><stop offset="0.5297" stop-color="#ff6b00"/><stop offset="0.5372" stop-color="#ff7800"/><stop offset="0.5624" stop-color="#ff5b00"/><stop offset="0.5901" stop-color="#ff3400"/><stop offset="0.6555" stop-color="#ff3100"/><stop offset="0.7435" stop-color="#ff4400"/><stop offset="0.7837" stop-color="#ff6600"/><stop offset="0.8139" stop-color="#ff9c00"/><stop offset="0.8416" stop-color="#fff000"/><stop offset="0.8466" stop-color="#fbff00"/><stop offset="0.8818" stop-color="#60ff00"/><stop offset="0.9019" stop-color="#00ff04"/><stop offset="0.9497" stop-color="#00fffa"/><stop offset="0.9648" stop-color="#00bcff"/><stop offset="1.0000" stop-color="#0014ff"/></radialGradient>
<radialGradient id="g0_45" gradientUnits="userSpaceOnUse" cx="211.2" cy="297" r="209.6"><stop offset="0.4995" stop-color="#ff6100"/><stop offset="0.5096" stop-color="#ff2700"/><stop offset="0.5146" stop-color="#ff1d00"/><stop offset="0.5196" stop-color="#ff2d00"/><stop offset="0.5297" stop-color="#ff6b00"/><stop offset="0.5372" stop-color="#ff7800"/><stop offset="0.5624" stop-color="#ff5b00"/><stop offset="0.5901" stop-color="#ff3400"/><stop offset="0.6555" stop-color="#ff3100"/><stop offset="0.7435" stop-color="#ff4300"/><stop offset="0.7837" stop-color="#ff6500"/><stop offset="0.8139" stop-color="#ff9b00"/><stop offset="0.8416" stop-color="#ffee00"/><stop offset="0.8466" stop-color="#fdff00"/><stop offset="0.8818" stop-color="#62ff00"/><stop offset="0.9019" stop-color="#00ff02"/><stop offset="0.9497" stop-color="#00fff9"/><stop offset="0.9572" stop-color="#00e1ff"/><stop offset="1.0000" stop-color="#0014ff"/></radialGradient>
<radialGradient id="g0_46" gradientUnits="userSpaceOnUse" cx="211.2" cy="297" r="209.6"><stop offset="0.4995" stop-color="#ff2f00"/><stop offset="0.5046" stop-color="#ff1d00"/><stop offset="0.5096" stop-color="#ff2500"/><stop offset="0.5222" stop-color="#ff6b00"/><stop offset="0.5297" stop-color="#ff7a00"/><stop offset="0.5498" stop-color="#ff6e00"/><stop offset="0.5901" stop-color="#ff3400"/><stop offset="0.6555" stop-color="#ff3100"/><stop offset="0.7435" stop-color="#ff4300"/><stop offset="0.7862" stop-color="#ff6700"/><stop offset="0.8164" stop-color="#ff9f00"/><stop offset="0.8441" stop-color="#fff500"/><stop offset="0.8466" stop-color="#ffff00"/><stop offset="0.8793" stop-color="#70ff00"/><stop offset="0.9019" stop-color="#00ff00"/><stop offset="0.9497" stop-color="#00fff8"/><stop offset="0.9547" stop-color="#00eeff"/><stop offset="1.0000" stop-color="#0014ff"/></radialGradient>
<radialGradient id="g0_47" gradientUnits="userSpaceOnUse" cx="211.2" cy="297" r="209.6"><stop offset="0.4995" stop-color="#ff3200"/><stop offset="0.5020" stop-color="#ff2f00"/><stop offset="0.5071" stop-color="#ff4700"/><stop offset="0.5146" stop-color="#ff6e00"/><stop offset="0.5247" stop-color="#ff7d00"/><stop offset="0.5498" stop-color="#ff6d00"/><stop offset="0.5901" stop-color="#ff3400"/><stop offset="0.6580" stop-color="#ff3100"/><stop offset="0.7460" stop-color="#ff4400"/><stop offset="0.7862" stop-color="#ff6600"/><stop offset="0.8164" stop-color="#ff9d00"/><stop offset="0.8441" stop-color="#fff200"/><stop offset="0.8491" stop-color="#f8ff00"/><stop offset="0.8843" stop-color="#5bff00"/><stop offset="0.9019" stop-color="#02ff00"/><stop offset="0.9522" stop-color="#00fbff"/><stop offset="1.0000" stop-color="#0014ff"/></radialGradient>
<radialGradient id="g0_48" gradientUnits="userSpaceOnUse" cx="211.2" cy="297" r="209.6"><stop offset="0.4995" stop-color="#ff7100"/><stop offset="0.5247" stop-color="#ff7d00"/><stop offset="0.5523" stop-color="#ff6800"/><stop offset="0.5875" stop-color="#ff3500"/><stop offset="0.6404" stop-color="#ff2f00"/><stop offset="0.7410" stop-color="#ff4100"/><stop offset="0.7837" stop-color="#ff6100"/><stop offset="0.8139" stop-color="#ff9500"/><stop offset="0.8416" stop-color="#ffe600"/><stop offset="0.8491" stop-color="#fcff00"/><stop offset="0.8843" stop-color="#5eff00"/><stop offset="0.9019" stop-color="#05ff00"/><stop offset="0.9296" stop-color="#00ff8b"/><stop offset="0.9522" stop-color="#00fcff"/><stop offset="1.0000" stop-color="#0014ff"/></radialGradient>
<radialGradient id="g0_49" gradientUnits="userSpaceOnUse" cx="211.2" cy="297" r="209.6"><stop offset="0.4995" stop-color="#ff7e00"/><stop offset="0.5372" stop-color="#ff7200"/><stop offset="0.5875" stop-color="#ff3300"/><stop offset="0.6881" stop-color="#ff3300"/><stop offset="0.7586" stop-color="#ff4900"/><stop offset="0.7963" stop-color="#ff7000"/><stop offset="0.8240" stop-color="#ffaa00"/><stop offset="0.8491" stop-color="#fffd00"/><stop offset="0.8768" stop-color="#88ff00"/><stop offset="0.9044" stop-color="#00ff04"/><stop offset="0.9522" stop-color="#00feff"/><stop offset="1.0000" stop-color="#0014ff"/></radialGradient>
<radialGradient id="g0_50" gradientUnits="userSpaceOnUse" cx="211.2" cy="297" r="209.6"><stop offset="0.4995" stop-color="#ff7400"/><stop offset="0.5347" stop-color="#ff6400"/><stop offset="0.5800" stop-color="#ff3200"/><stop offset="0.6982" stop-color="#ff3400"/><stop offset="0.7636" stop-color="#ff4a00"/><stop offset="0.7988" stop-color="#ff6f00"/><stop offset="0.8265" stop-color="#ffaa00"/><stop offset="0.8516" stop-color="#ffff00"/><stop offset="0.8843" stop-color="#6bff00"/><stop offset="0.9044" stop-color="#03ff00"/><stop offset="0.9522" stop-color="#00fffc"/><stop offset="1.0000" stop-color="#0014ff"/></radialGradient>
<radialGradient id="g0_51" gradientUnits="userSpaceOnUse" cx="211.2" cy="297" r="209.6"><stop offset="0.4995" stop-color="#ff6400"/><stop offset="0.5347" stop-color="#ff5100"/><stop offset="0.5750" stop-color="#ff3000"/><stop offset="0.7183" stop-color="#ff3700"/><stop offset="0.7737" stop-color="#ff4f00"/><stop offset="0.8063" stop-color="#ff7800"/><stop offset="0.8340" stop-color="#ffba00"/><stop offset="0.8541" stop-color="#fcff00"/><stop offset="0.8868" stop-color="#65ff00"/><stop offset="0.9069" stop-color="#00ff04"/><stop offset="0.9522" stop-color="#00fff9"/><stop offset="0.9623" stop-color="#00d2ff"/><stop offset="1.0000" stop-color="#0014ff"/></radialGradient>
<radialGradient id="g0_52" gradientUnits="userSpaceOnUse" cx="211.2" cy="297" r="209.6"><stop offset="0.4995" stop-color="#ff5600"/><stop offset="0.5498" stop-color="#ff3800"/><stop offset="0.5976" stop-color="#ff2e00"/><stop offset="0.7359" stop-color="#ff3b00"/><stop offset="0.7837" stop-color="#ff5700"/><stop offset="0.8139" stop-color="#ff8300"/><stop offset="0.8390" stop-color="#ffc600"/><stop offset="0.8541" stop-color="#fffd00"/><stop offset="0.8793" stop-color="#90ff00"/><stop offset="0.9069" stop-color="#00ff00"/><stop offset="0.9522" stop-color="#00fff7"/><stop offset="0.9572" stop-color="#00edff"/><stop offset="1.0000" stop-color="#0014ff"/></radialGradient>
<radialGradient id="g0_53" gradientUnits="userSpaceOnUse" cx="211.2" cy="297" r="209.6"><stop offset="0.4995" stop-color="#ff4700"/><stop offset="0.5750" stop-color="#ff2e00"/><stop offset="0.7334" stop-color="#ff3900"/><stop offset="0.7837" stop-color="#ff5500"/><stop offset="0.8139" stop-color="#ff8000"/><stop offset="0.8390" stop-color="#ffc100"/><stop offset="0.8566" stop-color="#fcff00"/><stop offset="0.8893" stop-color="#62ff00"/><stop offset="0.9069" stop-color="#05ff00"/><stop offset="0.9547" stop-color="#00fcff"/><stop offset="1.0000" stop-color="#0014ff"/></radialGradient>
<radialGradient id="g0_54" gradientUnits="userSpaceOnUse" cx="211.2" cy="297" r="209.6"><stop offset="0.4995" stop-color="#ff3600"/><stop offset="0.6127" stop-color="#ff2e00"/><stop offset="0.7435" stop-color="#ff3b00"/><stop offset="0.7887" stop-color="#ff5700"/><stop offset="0.8189" stop-color="#ff8500"/><stop offset="0.8441" stop-color="#ffcb00"/><stop offset="0.8592" stop-color="#faff00"/><stop offset="0.8919" stop-color="#5dff00"/><stop offset="0.9095" stop-color="#00ff02"/><stop offset="0.9547" stop-color="#00ffff"/><stop offset="1.0000" stop-color="#0014ff"/></radialGradient>
<radialGradient id="g0_55" gradientUnits="userSpaceOnUse" cx="211.2" cy="297" r="209.6"><stop offset="0.4995" stop-color="#ff2e00"/><stop offset="0.7284" stop-color="#ff3600"/><stop offset="0.7837" stop-color="#ff4e00"/><stop offset="0.8164" stop-color="#ff7900"/><stop offset="0.8416" stop-color="#ffb800"/><stop offset="0.8617" stop-color="#faff00"/><stop offset="0.8919" stop-color="#68ff00"/><stop offset="0.9095" stop-color="#07ff00"/><stop offset="0.9145" stop-color="#00ff15"/><stop offset="0.9547" stop-color="#00fffa"/><stop offset="1.0000" stop-color="#0014ff"/></radialGradient>
<radialGradient id="g0_56" gradientUnits="userSpaceOnUse" cx="211.2" cy="297" r="209.6"><stop offset="0.4995" stop-color="#ff2d00"/><stop offset="0.7334" stop-color="#ff3600"/><stop offset="0.7887" stop-color="#ff4f00"/><stop offset="0.8189" stop-color="#ff7700"/><stop offset="0.8441" stop-color="#ffb600"/><stop offset="0.8642" stop-color="#fbff00"/><stop offset="0.8944" stop-color="#66ff00"/><stop offset="0.9120" stop-color="#03ff00"/><stop offset="0.9572" stop-color="#00fbff"/><stop offset="1.0000" stop-color="#0014ff"/></radialGradient>
<radialGradient id="g0_57" gradientUnits="userSpaceOnUse" cx="211.2" cy="297" r="209.6"><stop offset="0.4995" stop-color="#ff2d00"/><stop offset="0.7384" stop-color="#ff3600"/><stop offset="0.7913" stop-color="#ff4e00"/><stop offset="0.8214" stop-color="#ff7500"/><stop offset="0.8466" stop-color="#ffb400"/><stop offset="0.8667" stop-color="#fcff00"/><stop offset="0.8969" stop-color="#63ff00"/><stop offset="0.9145" stop-color="#00ff01"/><stop offset="0.9572" stop-color="#00ffff"/><stop offset="1.0000" stop-color="#0014ff"/></radialGradient>
<radialGradient id="g0_58" gradientUnits="userSpaceOnUse" cx="211.2" cy="297" r="209.6"><stop offset="0.4995" stop-color="#ff2d00"/><stop offset="0.7435" stop-color="#ff3500"/><stop offset="0.7963" stop-color="#ff4d00"/><stop offset="0.8265" stop-color="#ff7600"/><stop offset="0.8491" stop-color="#ffb000"/><stop offset="0.8692" stop-color="#fffe00"/><stop offset="0.8969" stop-color="#72ff00"/><stop offset="0.9170" stop-color="#00ff04"/><stop offset="0.9572" stop-color="#00fff8"/><stop offset="0.9648" stop-color="#00dbff"/><stop offset="1.0000" stop-color="#0014ff"/></radialGradient>
<radialGradient id="g0_59" gradientUnits="userSpaceOnUse" cx="211.2" cy="297" r="209.6"><stop offset="0.4995" stop-color="#ff2d00"/><stop offset="0.7485" stop-color="#ff3500"/><stop offset="0.8013" stop-color="#ff4e00"/><stop offset="0.8315" stop-color="#ff7800"/><stop offset="0.8541" stop-color="#ffb500"/><stop offset="0.8717" stop-color="#fffc00"/><stop offset="0.8919" stop-color="#9cff00"/><stop offset="0.9170" stop-color="#08ff00"/><stop offset="0.9220" stop-color="#00ff17"/><stop offset="0.9598" stop-color="#00fcff"/><stop offset="1.0000" stop-color="#0014ff"/></radialGradient>
<radialGradient id="g0_60" gradientUnits="userSpaceOnUse" cx="211.2" cy="297" r="209.6"><stop offset="0.4995" stop-color="#ff2d00"/><stop offset="0.7535" stop-color="#ff3500"/><stop offset="0.8038" stop-color="#ff4c00"/><stop offset="0.8340" stop-color="#ff7600"/><stop offset="0.8566" stop-color="#ffb300"/><stop offset="0.8743" stop-color="#fffb00"/><stop offset="0.8893" stop-color="#b6ff00"/><stop offset="0.9195" stop-color="#03ff00"/><stop offset="0.9598" stop-color="#00fffc"/><stop offset="1.0000" stop-color="#0014ff"/></radialGradient>
<radialGradient id="g0_61" gradientUnits="userSpaceOnUse" cx="211.2" cy="297" r="209.6"><stop offset="0.4995" stop-color="#ff2d00"/><stop offset="0.7586" stop-color="#ff3500"/><stop offset="0.8089" stop-color="#ff4d00"/><stop offset="0.8365" stop-color="#ff7300"/><stop offset="0.8592" stop-color="#ffb000"/><stop offset="0.8768" stop-color="#fff900"/><stop offset="0.8843" stop-color="#e0ff00"/><stop offset="0.9145" stop-color="#2fff00"/><stop offset="0.9220" stop-color="#00ff01"/><stop offset="0.9598" stop-color="#00fff6"/><stop offset="0.9648" stop-color="#00e9ff"/><stop offset="1.0000" stop-color="#0014ff"/></radialGradient>
<radialGradient id="g0_62" gradientUnits="userSpaceOnUse" cx="211.2" cy="297" r="209.6"><stop offset="0.4995" stop-color="#ff2d00"/><stop offset="0.7636" stop-color="#ff3500"/><stop offset="0.8139" stop-color="#ff4d00"/><stop offset="0.8416" stop-color="#ff7500"/><stop offset="0.8642" stop-color="#ffb600"/><stop offset="0.8818" stop-color="#fcff00"/><stop offset="0.9069" stop-color="#6dff00"/><stop offset="0.9246" stop-color="#00ff04"/><stop offset="0.9623" stop-color="#00feff"/><stop offset="1.0000" stop-color="#0014ff"/></radialGradient>
<radialGradient id="g0_63" gradientUnits="userSpaceOnUse" cx="211.2" cy="297" r="209.6"><stop offset="0.4995" stop-color="#ff2d00"/><stop offset="0.7686" stop-color="#ff3500"/><stop offset="0.8164" stop-color="#ff4b00"/><stop offset="0.8441" stop-color="#ff7200"/><stop offset="0.8642" stop-color="#ffa900"/><stop offset="0.8843" stop-color="#feff00"/><stop offset="0.9095" stop-color="#6cff00"/><stop offset="0.9246" stop-color="#09ff00"/><stop offset="0.9296" stop-color="#00ff19"/><stop offset="0.9623" stop-color="#00fffa"/><stop offset="0.9749" stop-color="#00b4ff"/><stop offset="1.0000" stop-color="#0014ff"/></radialGradient>
<radialGradient id="g0_64" gradientUnits="userSpaceOnUse" cx="211.2" cy="297" r="209.6"><stop offset="0.4995" stop-color="#ff2c00"/><stop offset="0.7737" stop-color="#ff3400"/><stop offset="0.8214" stop-color="#ff4b00"/><stop offset="0.8491" stop-color="#ff7300"/><stop offset="0.8692" stop-color="#ffae00"/><stop offset="0.8868" stop-color="#fffd00"/><stop offset="0.9069" stop-color="#8cff00"/><stop offset="0.9271" stop-color="#05ff00"/><stop offset="0.9396" stop-color="#00ff52"/><stop offset="0.9623" stop-color="#00fff3"/><stop offset="0.9648" stop-color="#00faff"/><stop offset="1.0000" stop-color="#0014ff"/></radialGradient>
<radialGradient id="g0_65" gradientUnits="userSpaceOnUse" cx="211.2" cy="297" r="209.6"><stop offset="0.4995" stop-color="#ff2c00"/><stop offset="0.7787" stop-color="#ff3400"/><stop offset="0.8265" stop-color="#ff4b00"/><stop offset="0.8516" stop-color="#ff7000"/><stop offset="0.8717" stop-color="#ffab00"/><stop offset="0.8893" stop-color="#fffb00"/><stop offset="0.9019" stop-color="#bbff00"/><stop offset="0.9296" stop-color="#01ff00"/><stop offset="0.9648" stop-color="#00fffe"/><stop offset="1.0000" stop-color="#0014ff"/></radialGradient>
<radialGradient id="g0_66" gradientUnits="userSpaceOnUse" cx="211.2" cy="297" r="209.6"><stop offset="0.4995" stop-color="#ff2500"/><stop offset="0.5071" stop-color="#ff0f00"/><stop offset="0.5096" stop-color="#ff0200"/><stop offset="0.5196" stop-color="#ff0000"/><stop offset="0.5272" stop-color="#ff2500"/><stop offset="0.5423" stop-color="#ff2d00"/><stop offset="0.7837" stop-color="#ff3400"/><stop offset="0.8290" stop-color="#ff4a00"/><stop offset="0.8541" stop-color="#ff7000"/><stop offset="0.8743" stop-color="#ffab00"/><stop offset="0.8919" stop-color="#fffd00"/><stop offset="0.9120" stop-color="#86ff00"/><stop offset="0.9296" stop-color="#0aff00"/><stop offset="0.9321" stop-color="#00ff08"/><stop offset="0.9648" stop-color="#00fff9"/><stop offset="0.9723" stop-color="#00d1ff"/><stop offset="1.0000" stop-color="#0014ff"/></radialGradient>
<radialGradient id="g0_67" gradientUnits="userSpaceOnUse" cx="211.2" cy="297" r="209.6"><stop offset="0.4995" stop-color="#ff0000"/><stop offset="0.5196" stop-color="#ff0000"/><stop offset="0.5272" stop-color="#ff2500"/><stop offset="0.5423" stop-color="#ff2d00"/><stop offset="0.7862" stop-color="#ff3400"/><stop offset="0.8315" stop-color="#ff4b00"/><stop offset="0.8566" stop-color="#ff7200"/><stop offset="0.8768" stop-color="#ffaf00"/><stop offset="0.8944" stop-color="#faff00"/><stop offset="0.9170" stop-color="#6aff00"/><stop offset="0.9321" stop-color="#00ff02"/><stop offset="0.9648" stop-color="#00fff6"/><stop offset="0.9673" stop-color="#00f6ff"/><stop offset="1.0000" stop-color="#0014ff"/></radialGradient>
<radialGradient id="g0_68" gradientUnits="userSpaceOnUse" cx="211.2" cy="297" r="209.6"><stop offset="0.4995" stop-color="#ff0000"/><stop offset="0.5071" stop-color="#ff0000"/><stop offset="0.5146" stop-color="#ff1f00"/><stop offset="0.5272" stop-color="#ff2c00"/><stop offset="0.7887" stop-color="#ff3400"/><stop offset="0.8340" stop-color="#ff4c00"/><stop offset="0.8592" stop-color="#ff7400"/><stop offset="0.8793" stop-color="#ffb400"/><stop offset="0.8944" stop-color="#fffd00"/><stop offset="0.9120" stop-color="#94ff00"/><stop offset="0.9321" stop-color="#04ff00"/><stop offset="0.9648" stop-color="#00fff3"/><stop offset="0.9673" stop-color="#00f9ff"/><stop offset="1.0000" stop-color="#0014ff"/></radialGradient>
<radialGradient id="g0_69" gradientUnits="userSpaceOnUse" cx="211.2" cy="297" r="209.6"><stop offset="0.4995" stop-color="#ff2c00"/><stop offset="0.7913" stop-color="#ff3400"/><stop offset="0.8365" stop-color="#ff4b00"/><stop offset="0.8617" stop-color="#ff7300"/><stop offset="0.8793" stop-color="#ffaa00"/><stop offset="0.8969" stop-color="#ffff00"/><stop offset="0.9195" stop-color="#6bff00"/><stop offset="0.9346" stop-color="#00ff05"/><stop offset="0.9673" stop-color="#00feff"/><stop offset="1.0000" stop-color="#0014ff"/></radialGradient>
<radialGradient id="g0_70" gradientUnits="userSpaceOnUse" cx="211.2" cy="297" r="209.6"><stop offset="0.4995" stop-color="#ff2c00"/><stop offset="0.7963" stop-color="#ff3400"/><stop offset="0.8390" stop-color="#ff4900"/><stop offset="0.8642" stop-color="#ff7100"/><stop offset="0.8818" stop-color="#ffa800"/><stop offset="0.8994" stop-color="#ffff00"/><stop offset="0.9220" stop-color="#67ff00"/><stop offset="0.9346" stop-color="#08ff00"/><stop offset="0.9396" stop-color="#00ff1f"/><stop offset="0.9673" stop-color="#00fffa"/><stop offset="1.0000" stop-color="#0014ff"/></radialGradient>
<radialGradient id="g0_71" gradientUnits="userSpaceOnUse" cx="211.2" cy="297" r="209.6"><stop offset="0.4995" stop-color="#ff2c00"/><stop offset="0.7963" stop-color="#ff3400"/><stop offset="0.8416" stop-color="#ff4a00"/><stop offset="0.8642" stop-color="#ff6e00"/><stop offset="0.8818" stop-color="#ffa300"/><stop offset="0.8994" stop-color="#fff900"/><stop offset="0.9069" stop-color="#d6ff00"/><stop offset="0.9321" stop-color="#20ff00"/><stop offset="0.9371" stop-color="#00ff07"/><stop offset="0.9673" stop-color="#00fff8"/><stop offset="0.9723" stop-color="#00e1ff"/><stop offset="1.0000" stop-color="#0014ff"/></radialGradient>
<radialGradient id="g0_72" gradientUnits="userSpaceOnUse" cx="211.2" cy="297" r="209.6"><stop offset="0.4995" stop-color="#ff2300"/><stop offset="0.5096" stop-color="#ff0000"/><stop offset="0.5171" stop-color="#ff0000"/><stop offset="0.5247" stop-color="#ff2500"/><stop offset="0.5398" stop-color="#ff2c00"/><stop offset="0.7988" stop-color="#ff3400"/><stop offset="0.8416" stop-color="#ff4a00"/><stop offset="0.8642" stop-color="#ff6c00"/><stop offset="0.8818" stop-color="#ffa200"/><stop offset="0.8994" stop-color="#fff700"/><stop offset="0.9044" stop-color="#e9ff00"/><stop offset="0.9271" stop-color="#49ff00"/><stop offset="0.9371" stop-color="#00ff05"/><stop offset="0.9673" stop-color="#00fff7"/><stop offset="0.9723" stop-color="#00e1ff"/><stop offset="1.0000" stop-color="#0014ff"/></radialGradient>
<radialGradient id="g0_73" gradientUnits="userSpaceOnUse" cx="211.2" cy="297" r="209.6"><stop offset="0.4995" stop-color="#ff0000"/><stop offset="0.5171" stop-color="#ff0000"/><stop offset="0.5247" stop-color="#ff2500"/><stop offset="0.5398" stop-color="#ff2c00"/><stop offset="0.7988" stop-color="#ff3400"/><stop offset="0.8416" stop-color="#ff4900"/><stop offset="0.8642" stop-color="#ff6c00"/><stop offset="0.8818" stop-color="#ffa100"/><stop offset="0.8994" stop-color="#fff600"/><stop offset="0.9019" stop-color="#f9ff00"/><stop offset="0.9246" stop-color="#5dff00"/><stop offset="0.9371" stop-color="#00ff04"/><stop offset="0.9673" stop-color="#00fff6"/><stop offset="0.9723" stop-color="#00e2ff"/><stop offset="1.0000" stop-color="#0014ff"/></radialGradient>
<radialGradient id="g0_74" gradientUnits="userSpaceOnUse" cx="211.2" cy="297" r="209.6"><stop offset="0.4995" stop-color="#ff0000"/><stop offset="0.5071" stop-color="#ff0100"/><stop offset="0.5146" stop-color="#ff2200"/><stop offset="0.5297" stop-color="#ff2c00"/><stop offset="0.7988" stop-color="#ff3400"/><stop offset="0.8416" stop-color="#ff4900"/><stop offset="0.8667" stop-color="#ff7100"/><stop offset="0.8843" stop-color="#ffaa00"/><stop offset="0.9019" stop-color="#fbff00"/><stop offset="0.9246" stop-color="#5eff00"/><stop offset="0.9371" stop-color="#00ff03"/><stop offset="0.9673" stop-color="#00fff6"/><stop offset="0.9698" stop-color="#00f5ff"/><stop offset="1.0000" stop-color="#0014ff"/></radialGradient>
<radialGradient id="g0_75" gradientUnits="userSpaceOnUse" cx="211.2" cy="297" r="209.6"><stop offset="0.4995" stop-color="#ff2c00"/><stop offset="0.7988" stop-color="#ff3400"/><stop offset="0.8416" stop-color="#ff4800"/><stop offset="0.8667" stop-color="#ff6f00"/><stop offset="0.8843" stop-color="#ffa700"/><stop offset="0.9019" stop-color="#feff00"/><stop offset="0.9220" stop-color="#75ff00"/><stop offset="0.9371" stop-color="#00ff00"/><stop offset="0.9673" stop-color="#00fff4"/><stop offset="0.9698" stop-color="#00f6ff"/><stop offset="1.0000" stop-color="#0014ff"/></radialGradient>
<radialGradient id="g0_76" gradientUnits="userSpaceOnUse" cx="211.2" cy="297" r="209.6"><stop offset="0.4995" stop-color="#ff2c00"/><stop offset="0.8013" stop-color="#ff3400"/><stop offset="0.8441" stop-color="#ff4900"/><stop offset="0.8667" stop-color="#ff6d00"/><stop offset="0.8843" stop-color="#ffa400"/><stop offset="0.9019" stop-color="#fffc00"/><stop offset="0.9170" stop-color="#9eff00"/><stop offset="0.9371" stop-color="#03ff00"/><stop offset="0.9673" stop-color="#00fff2"/><stop offset="0.9698" stop-color="#00f8ff"/><stop offset="1.0000" stop-color="#0014ff"/></radialGradient>
<radialGradient id="g0_77" gradientUnits="userSpaceOnUse" cx="211.2" cy="297" r="209.6"><stop offset="0.4995" stop-color="#ff2c00"/><stop offset="0.8013" stop-color="#ff3300"/><stop offset="0.8441" stop-color="#ff4800"/><stop offset="0.8667" stop-color="#ff6a00"/><stop offset="0.8843" stop-color="#ffa000"/><stop offset="0.9019" stop-color="#fff700"/><stop offset="0.9044" stop-color="#f8ff00"/><stop offset="0.9271" stop-color="#58ff00"/><stop offset="0.9371" stop-color="#08ff00"/><stop offset="0.9422" stop-color="#00ff21"/><stop offset="0.9673" stop-color="#00fff0"/><stop offset="0.9698" stop-color="#00faff"/><stop offset="1.0000" stop-color="#0014ff"/></radialGradient>
<radialGradient id="g0_78" gradientUnits="userSpaceOnUse" cx="211.2" cy="297" r="209.6"><stop offset="0.4995" stop-color="#ff2c00"/><stop offset="0.8038" stop-color="#ff3300"/><stop offset="0.8466" stop-color="#ff4800"/><stop offset="0.8692" stop-color="#ff6c00"/><stop offset="0.8868" stop-color="#ffa400"/><stop offset="0.9044" stop-color="#fffe00"/><stop offset="0.9246" stop-color="#73ff00"/><stop offset="0.9371" stop-color="#0fff00"/><stop offset="0.9396" stop-color="#00ff06"/><stop offset="0.9698" stop-color="#00fdff"/><stop offset="1.0000" stop-color="#0014ff"/></radialGradient>
<radialGradient id="g0_79" gradientUnits="userSpaceOnUse" cx="211.2" cy="297" r="209.6"><stop offset="0.4995" stop-color="#ff2c00"/><stop offset="0.8089" stop-color="#ff3400"/><stop offset="0.8491" stop-color="#ff4800"/><stop offset="0.8717" stop-color="#ff6c00"/><stop offset="0.8893" stop-color="#ffa600"/><stop offset="0.9069" stop-color="#fbff00"/><stop offset="0.9271" stop-color="#6aff00"/><stop offset="0.9396" stop-color="#03ff00"/><stop offset="0.9698" stop-color="#00fffc"/><stop offset="1.0000" stop-color="#0014ff"/></radialGradient>
<radialGradient id="g0_80" gradientUnits="userSpaceOnUse" cx="211.2" cy="297" r="209.6"><stop offset="0.4995" stop-color="#ff2c00"/><stop offset="0.8114" stop-color="#ff3300"/><stop offset="0.8516" stop-color="#ff4800"/><stop offset="0.8743" stop-color="#ff6c00"/><stop offset="0.8919" stop-color="#ffa700"/><stop offset="0.9069" stop-color="#fff700"/><stop offset="0.9120" stop-color="#e6ff00"/><stop offset="0.9346" stop-color="#38ff00"/><stop offset="0.9396" stop-color="#0eff00"/><stop offset="0.9422" stop-color="#00ff08"/><stop offset="0.9698" stop-color="#00fff7"/><stop offset="0.9749" stop-color="#00deff"/><stop offset="1.0000" stop-color="#0014ff"/></radialGradient>
<radialGradient id="g0_81" gradientUnits="userSpaceOnUse" cx="211.2" cy="297" r="209.6"><stop offset="0.4995" stop-color="#ff2c00"/><stop offset="0.8139" stop-color="#ff3300"/><stop offset="0.8541" stop-color="#ff4700"/><stop offset="0.8768" stop-color="#ff6c00"/><stop offset="0.8944" stop-color="#ffa800"/><stop offset="0.9095" stop-color="#fffb00"/><stop offset="0.9195" stop-color="#bdff00"/><stop offset="0.9422" stop-color="#03ff00"/><stop offset="0.9698" stop-color="#00fff2"/><stop offset="0.9723" stop-color="#00f7ff"/><stop offset="1.0000" stop-color="#0014ff"/></radialGradient>
<radialGradient id="g0_82" gradientUnits="userSpaceOnUse" cx="211.2" cy="297" r="209.6"><stop offset="0.4995" stop-color="#ff2c00"/><stop offset="0.5423" stop-color="#ff2200"/><stop offset="0.5699" stop-color="#ff2c00"/><stop offset="0.8214" stop-color="#ff3400"/><stop offset="0.8592" stop-color="#ff4a00"/><stop offset="0.8793" stop-color="#ff6d00"/><stop offset="0.8944" stop-color="#ffa000"/><stop offset="0.9120" stop-color="#fdff00"/><stop offset="0.9321" stop-color="#62ff00"/><stop offset="0.9422" stop-color="#0cff00"/><stop offset="0.9447" stop-color="#00ff0b"/><stop offset="0.9723" stop-color="#00fbff"/><stop offset="1.0000" stop-color="#0014ff"/></radialGradient>
<radialGradient id="g0_83" gradientUnits="userSpaceOnUse" cx="211.2" cy="297" r="209.6"><stop offset="0.4995" stop-color="#ff2b00"/><stop offset="0.5222" stop-color="#ff1800"/><stop offset="0.5372" stop-color="#ff0200"/><stop offset="0.5574" stop-color="#ff2900"/><stop offset="0.8265" stop-color="#ff3500"/><stop offset="0.8617" stop-color="#ff4b00"/><stop offset="0.8818" stop-color="#ff6f00"/><stop offset="0.8969" stop-color="#ffa500"/><stop offset="0.9120" stop-color="#fffa00"/><stop offset="0.9195" stop-color="#cfff00"/><stop offset="0.9447" stop-color="#00ff04"/><stop offset="0.9723" stop-color="#00feff"/><stop offset="1.0000" stop-color="#0014ff"/></radialGradient>
<radialGradient id="g0_84" gradientUnits="userSpaceOnUse" cx="211.2" cy="297" r="209.6"><stop offset="0.4995" stop-color="#ff1f00"/><stop offset="0.5222" stop-color="#ff0000"/><stop offset="0.5448" stop-color="#ff0000"/><stop offset="0.5599" stop-color="#ff2600"/><stop offset="0.5951" stop-color="#ff2c00"/><stop offset="0.8265" stop-color="#ff3400"/><stop offset="0.8642" stop-color="#ff4b00"/><stop offset="0.8843" stop-color="#ff7200"/><stop offset="0.8994" stop-color="#ffaa00"/><stop offset="0.9145" stop-color="#fbff00"/><stop offset="0.9321" stop-color="#72ff00"/><stop offset="0.9447" stop-color="#02ff00"/><stop offset="0.9723" stop-color="#00fffd"/><stop offset="1.0000" stop-color="#0014ff"/></radialGradient>
<radialGradient id="g0_85" gradientUnits="userSpaceOnUse" cx="211.2" cy="297" r="209.6"><stop offset="0.4995" stop-color="#ff0700"/><stop offset="0.5146" stop-color="#ff0000"/><stop offset="0.5272" stop-color="#ff0a00"/><stop offset="0.5347" stop-color="#ff1300"/><stop offset="0.5423" stop-color="#ff0000"/><stop offset="0.5523" stop-color="#ff0400"/><stop offset="0.5674" stop-color="#ff2800"/><stop offset="0.8315" stop-color="#ff3500"/><stop offset="0.8667" stop-color="#ff4c00"/><stop offset="0.8868" stop-color="#ff7500"/><stop offset="0.9019" stop-color="#ffb000"/><stop offset="0.9145" stop-color="#fffa00"/><stop offset="0.9220" stop-color="#ccff00"/><stop offset="0.9447" stop-color="#09ff00"/><stop offset="0.9472" stop-color="#00ff0e"/><stop offset="0.9723" stop-color="#00fff9"/><stop offset="0.9824" stop-color="#00adff"/><stop offset="1.0000" stop-color="#0014ff"/></radialGradient>
<radialGradient id="g0_86" gradientUnits="userSpaceOnUse" cx="211.2" cy="297" r="209.6"><stop offset="0.4995" stop-color="#ff0700"/><stop offset="0.5071" stop-color="#ff0400"/><stop offset="0.5322" stop-color="#ff2600"/><stop offset="0.5473" stop-color="#ff0100"/><stop offset="0.5574" stop-color="#ff0200"/><stop offset="0.5725" stop-color="#ff2700"/><stop offset="0.6328" stop-color="#ff2c00"/><stop offset="0.8290" stop-color="#ff3400"/><stop offset="0.8667" stop-color="#ff4a00"/><stop offset="0.8868" stop-color="#ff7000"/><stop offset="0.9019" stop-color="#ffa900"/><stop offset="0.9170" stop-color="#fbff00"/><stop offset="0.9346" stop-color="#6cff00"/><stop offset="0.9447" stop-color="#11ff00"/><stop offset="0.9472" stop-color="#00ff06"/><stop offset="0.9723" stop-color="#00fff5"/><stop offset="0.9749" stop-color="#00f2ff"/><stop offset="1.0000" stop-color="#0014ff"/></radialGradient>
<radialGradient id="g0_87" gradientUnits="userSpaceOnUse" cx="211.2" cy="297" r="209.6"><stop offset="0.4995" stop-color="#ff2000"/><stop offset="0.5347" stop-color="#ff2900"/><stop offset="0.5473" stop-color="#ff1100"/><stop offset="0.5549" stop-color="#ff0000"/><stop offset="0.5649" stop-color="#ff0600"/><stop offset="0.5775" stop-color="#ff2600"/><stop offset="0.6202" stop-color="#ff2c00"/><stop offset="0.7435" stop-color="#ff2800"/><stop offset="0.7586" stop-color="#ff1e00"/><stop offset="0.7837" stop-color="#ff2e00"/><stop offset="0.8466" stop-color="#ff3900"/><stop offset="0.8743" stop-color="#ff5100"/><stop offset="0.8919" stop-color="#ff7a00"/><stop offset="0.9069" stop-color="#ffbb00"/><stop offset="0.9170" stop-color="#fffa00"/><stop offset="0.9246" stop-color="#cbff00"/><stop offset="0.9472" stop-color="#01ff00"/><stop offset="0.9723" stop-color="#00fff1"/><stop offset="0.9749" stop-color="#00f5ff"/><stop offset="1.0000" stop-color="#0014ff"/></radialGradient>
<radialGradient id="g0_88" gradientUnits="userSpaceOnUse" cx="211.2" cy="297" r="209.6"><stop offset="0.4995" stop-color="#ff2b00"/><stop offset="0.5398" stop-color="#ff2800"/><stop offset="0.5549" stop-color="#ff0100"/><stop offset="0.5649" stop-color="#ff0400"/><stop offset="0.5775" stop-color="#ff2600"/><stop offset="0.6202" stop-color="#ff2c00"/><stop offset="0.7359" stop-color="#ff2a00"/><stop offset="0.7460" stop-color="#ff1600"/><stop offset="0.7535" stop-color="#ff0000"/><stop offset="0.7611" stop-color="#ff0200"/><stop offset="0.7737" stop-color="#ff2600"/><stop offset="0.7837" stop-color="#ff2c00"/><stop offset="0.7938" stop-color="#ff1800"/><stop offset="0.8013" stop-color="#ff0500"/><stop offset="0.8089" stop-color="#ff1400"/><stop offset="0.8189" stop-color="#ff2e00"/><stop offset="0.8667" stop-color="#ff4500"/><stop offset="0.8868" stop-color="#ff6600"/><stop offset="0.9019" stop-color="#ff9a00"/><stop offset="0.9145" stop-color="#ffe000"/><stop offset="0.9195" stop-color="#fbff00"/><stop offset="0.9371" stop-color="#68ff00"/><stop offset="0.9472" stop-color="#09ff00"/><stop offset="0.9497" stop-color="#00ff0f"/><stop offset="0.9723" stop-color="#00ffed"/><stop offset="0.9749" stop-color="#00f9ff"/><stop offset="1.0000" stop-color="#0014ff"/></radialGradient>
<radialGradient id="g0_89" gradientUnits="userSpaceOnUse" cx="211.2" cy="297" r="209.6"><stop offset="0.4995" stop-color="#ff2c00"/><stop offset="0.5347" stop-color="#ff2700"/><stop offset="0.5498" stop-color="#ff0000"/><stop offset="0.5599" stop-color="#ff0500"/><stop offset="0.5725" stop-color="#ff2700"/><stop offset="0.6278" stop-color="#ff2c00"/><stop offset="0.7384" stop-color="#ff2900"/><stop offset="0.7485" stop-color="#ff1400"/><stop offset="0.7560" stop-color="#ff0000"/><stop offset="0.7636" stop-color="#ff0300"/><stop offset="0.7762" stop-color="#ff2600"/><stop offset="0.7862" stop-color="#ff2a00"/><stop offset="0.7963" stop-color="#ff0d00"/><stop offset="0.8013" stop-color="#ff0000"/><stop offset="0.8063" stop-color="#ff0300"/><stop offset="0.8189" stop-color="#ff2b00"/><stop offset="0.8717" stop-color="#ff4700"/><stop offset="0.8919" stop-color="#ff6c00"/><stop offset="0.9069" stop-color="#ffa700"/><stop offset="0.9195" stop-color="#fff400"/><stop offset="0.9220" stop-color="#f7ff00"/><stop offset="0.9396" stop-color="#5fff00"/><stop offset="0.9497" stop-color="#00ff03"/><stop offset="0.9749" stop-color="#00feff"/><stop offset="1.0000" stop-color="#0014ff"/></radialGradient>
<radialGradient id="g0_90" gradientUnits="userSpaceOnUse" cx="211.2" cy="297" r="209.6"><stop offset="0.4995" stop-color="#ff2c00"/><stop offset="0.5297" stop-color="#ff2700"/><stop offset="0.5448" stop-color="#ff0000"/><stop offset="0.5549" stop-color="#ff0600"/><stop offset="0.5674" stop-color="#ff2700"/><stop offset="0.6504" stop-color="#ff2c00"/><stop offset="0.7410" stop-color="#ff2900"/><stop offset="0.7535" stop-color="#ff0a00"/><stop offset="0.7611" stop-color="#ff0000"/><stop offset="0.7686" stop-color="#ff0c00"/><stop offset="0.7787" stop-color="#ff2700"/><stop offset="0.7887" stop-color="#ff2800"/><stop offset="0.8013" stop-color="#ff0000"/><stop offset="0.8063" stop-color="#ff0000"/><stop offset="0.8189" stop-color="#ff2900"/><stop offset="0.8743" stop-color="#ff4600"/><stop offset="0.8944" stop-color="#ff6c00"/><stop offset="0.9095" stop-color="#ffa800"/><stop offset="0.9220" stop-color="#fff800"/><stop offset="0.9271" stop-color="#dfff00"/><stop offset="0.9472" stop-color="#23ff00"/><stop offset="0.9497" stop-color="#0aff00"/><stop offset="0.9522" stop-color="#00ff0f"/><stop offset="0.9749" stop-color="#00fff9"/><stop offset="0.9824" stop-color="#00bcff"/><stop offset="1.0000" stop-color="#0014ff"/></radialGradient>
<radialGradient id="g1_0" gradientUnits="userSpaceOnUse" cx="211.2" cy="567" r="209.6"><stop offset="0.4995" stop-color="#e2ff00"/><stop offset="0.5096" stop-color="#f4ff00"/><stop offset="0.5146" stop-color="#fff700"/><stop offset="0.5297" stop-color="#ffc300"/><stop offset="0.5448" stop-color="#ffb100"/><stop offset="0.6052" stop-color="#ffbc00"/><stop offset="0.6731" stop-color="#fcff00"/><stop offset="0.7485" stop-color="#b6ff00"/><stop offset="0.7837" stop-color="#6fff00"/><stop offset="0.8265" stop-color="#00ff02"/><stop offset="0.9145" stop-color="#00fcff"/><stop offset="1.0000" stop-color="#0014ff"/></radialGradient>
<radialGradient id="g1_1" gradientUnits="userSpaceOnUse" cx="211.2" cy="567" r="209.6"><stop offset="0.4995" stop-color="#e3ff00"/><stop offset="0.5096" stop-color="#f5ff00"/><stop offset="0.5146" stop-color="#fff600"/><stop offset="0.5297" stop-color="#ffc200"/><stop offset="0.5448" stop-color="#ffaf00"/><stop offset="0.6026" stop-color="#ffb900"/><stop offset="0.6705" stop-color="#feff00"/><stop offset="0.7535" stop-color="#bdff00"/><stop offset="0.7837" stop-color="#83ff00"/><stop offset="0.8315" stop-color="#02ff00"/><stop offset="0.9170" stop-color="#00feff"/><stop offset="1.0000" stop-color="#0014ff"/></radialGradient>
<radialGradient id="g1_2" gradientUnits="userSpaceOnUse" cx="211.2" cy="567" r="209.6"><stop offset="0.4995" stop-color="#e3ff00"/><stop offset="0.5096" stop-color="#f6ff00"/><stop offset="0.5121" stop-color="#ffff00"/><stop offset="0.5297" stop-color="#ffc100"/><stop offset="0.5448" stop-color="#ffae00"/><stop offset="0.5976" stop-color="#ffb400"/><stop offset="0.6655" stop-color="#fffa00"/><stop offset="0.7460" stop-color="#cfff00"/><stop offset="0.7711" stop-color="#b1ff00"/><stop offset="0.8089" stop-color="#56ff00"/><stop offset="0.8390" stop-color="#00ff02"/><stop offset="0.9195" stop-color="#00fffe"/><stop offset="1.0000" stop-color="#0014ff"/></radialGradient>
<radialGradient id="g1_3" gradientUnits="userSpaceOnUse" cx="211.2" cy="567" r="209.6"><stop offset="0.4995" stop-color="#e4ff00"/><stop offset="0.5096" stop-color="#f6ff00"/><stop offset="0.5121" stop-color="#ffff00"/><stop offset="0.5297" stop-color="#ffc000"/><stop offset="0.5448" stop-color="#ffac00"/><stop offset="0.5951" stop-color="#ffb200"/><stop offset="0.6555" stop-color="#fff100"/><stop offset="0.6907" stop-color="#f9ff00"/><stop offset="0.7661" stop-color="#c7ff00"/><stop offset="0.7938" stop-color="#90ff00"/><stop offset="0.8441" stop-color="#00ff01"/><stop offset="0.9220" stop-color="#00fffe"/><stop offset="1.0000" stop-color="#0014ff"/></radialGradient>
<radialGradient id="g1_4" gradientUnits="userSpaceOnUse" cx="211.2" cy="567" r="209.6"><stop offset="0.4995" stop-color="#e4ff00"/><stop offset="0.5096" stop-color="#f7ff00"/><stop offset="0.5121" stop-color="#fffe00"/><stop offset="0.5297" stop-color="#ffbf00"/><stop offset="0.5448" stop-color="#ffac00"/><stop offset="0.5951" stop-color="#ffb100"/><stop offset="0.6504" stop-color="#ffec00"/><stop offset="0.6982" stop-color="#fbff00"/><stop offset="0.7686" stop-color="#d2ff00"/><stop offset="0.7963" stop-color="#9cff00"/><stop offset="0.8466" stop-color="#09ff00"/><stop offset="0.8516" stop-color="#00ff08"/><stop offset="0.9246" stop-color="#00fffd"/><stop offset="1.0000" stop-color="#0014ff"/></radialGradient>
<radialGradient id="g1_5" gradientUnits="userSpaceOnUse" cx="211.2" cy="567" r="209.6"><stop offset="0.4995" stop-color="#e5ff00"/><stop offset="0.5096" stop-color="#f7ff00"/><stop offset="0.5146" stop-color="#fff400"/><stop offset="0.5297" stop-color="#ffbe00"/><stop offset="0.5448" stop-color="#ffab00"/><stop offset="0.5951" stop-color="#ffaf00"/><stop offset="0.6529" stop-color="#ffea00"/><stop offset="0.7083" stop-color="#faff00"/><stop offset="0.7711" stop-color="#dbff00"/><stop offset="0.7963" stop-color="#aaff00"/><stop offset="0.8416" stop-color="#27ff00"/><stop offset="0.8541" stop-color="#00ff02"/><stop offset="0.9271" stop-color="#00fffe"/><stop offset="1.0000" stop-color="#0014ff"/></radialGradient>
<radialGradient id="g1_6" gradientUnits="userSpaceOnUse" cx="211.2" cy="567" r="209.6"><stop offset="0.4995" stop-color="#e5ff00"/><stop offset="0.5096" stop-color="#f8ff00"/><stop offset="0.5146" stop-color="#fff300"/><stop offset="0.5297" stop-color="#ffbe00"/><stop offset="0.5448" stop-color="#ffaa00"/><stop offset="0.5976" stop-color="#ffae00"/><stop offset="0.6555" stop-color="#ffe900"/><stop offset="0.7183" stop-color="#faff00"/><stop offset="0.7711" stop-color="#e4ff00"/><stop offset="0.7963" stop-color="#b8ff00"/><stop offset="0.8390" stop-color="#3dff00"/><stop offset="0.8566" stop-color="#03ff00"/><stop offset="0.9296" stop-color="#00feff"/><stop offset="1.0000" stop-color="#0014ff"/></radialGradient>
<radialGradient id="g1_7" gradientUnits="userSpaceOnUse" cx="211.2" cy="567" r="209.6"><stop offset="0.4995" stop-color="#e5ff00"/><stop offset="0.5096" stop-color="#f8ff00"/><stop offset="0.5146" stop-color="#fff300"/><stop offset="0.5297" stop-color="#ffbe00"/><stop offset="0.5448" stop-color="#ffaa00"/><stop offset="0.6026" stop-color="#ffaf00"/><stop offset="0.6580" stop-color="#ffe700"/><stop offset="0.7259" stop-color="#faff00"/><stop offset="0.7737" stop-color="#eaff00"/><stop offset="0.7963" stop-color="#c4ff00"/><stop offset="0.8340" stop-color="#5bff00"/><stop offset="0.8617" stop-color="#00ff03"/><stop offset="0.9321" stop-color="#00fbff"/><stop offset="1.0000" stop-color="#0014ff"/></radialGradient>
<radialGradient id="g1_8" gradientUnits="userSpaceOnUse" cx="211.2" cy="567" r="209.6"><stop offset="0.4995" stop-color="#e5ff00"/><stop offset="0.5096" stop-color="#f8ff00"/><stop offset="0.5146" stop-color="#fff300"/><stop offset="0.5297" stop-color="#ffbd00"/><stop offset="0.5448" stop-color="#ffaa00"/><stop offset="0.6052" stop-color="#ffae00"/><stop offset="0.6605" stop-color="#ffe600"/><stop offset="0.7359" stop-color="#faff00"/><stop offset="0.7787" stop-color="#ebff00"/><stop offset="0.8038" stop-color="#bcff00"/><stop offset="0.8441" stop-color="#45ff00"/><stop offset="0.8642" stop-color="#00ff01"/><stop offset="0.9321" stop-color="#00fffe"/><stop offset="1.0000" stop-color="#0014ff"/></radialGradient>
<radialGradient id="g1_9" gradientUnits="userSpaceOnUse" cx="211.2" cy="567" r="209.6"><stop offset="0.4995" stop-color="#e5ff00"/><stop offset="0.5096" stop-color="#f8ff00"/><stop offset="0.5146" stop-color="#fff300"/><stop offset="0.5297" stop-color="#ffbd00"/><stop offset="0.5448" stop-color="#ffaa00"/><stop offset="0.6077" stop-color="#ffae00"/><stop offset="0.6630" stop-color="#ffe500"/><stop offset="0.7208" stop-color="#fff600"/><stop offset="0.7359" stop-color="#fff500"/><stop offset="0.7485" stop-color="#faff00"/><stop offset="0.7837" stop-color="#e8ff00"/><stop offset="0.8089" stop-color="#b6ff00"/><stop offset="0.8491" stop-color="#3bff00"/><stop offset="0.8667" stop-color="#00ff04"/><stop offset="0.9346" stop-color="#00fbff"/><stop offset="1.0000" stop-color="#0014ff"/></radialGradient>
<radialGradient id="g1_10" gradientUnits="userSpaceOnUse" cx="211.2" cy="567" r="209.6"><stop offset="0.4995" stop-color="#e5ff00"/><stop offset="0.5096" stop-color="#f8ff00"/><stop offset="0.5146" stop-color="#fff300"/><stop offset="0.5297" stop-color="#ffbd00"/><stop offset="0.5448" stop-color="#ffaa00"/><stop offset="0.6077" stop-color="#ffad00"/><stop offset="0.6630" stop-color="#ffe400"/><stop offset="0.7158" stop-color="#fff300"/><stop offset="0.7309" stop-color="#ffd200"/><stop offset="0.7384" stop-color="#ffde00"/><stop offset="0.7485" stop-color="#fffe00"/><stop offset="0.7862" stop-color="#e6ff00"/><stop offset="0.8114" stop-color="#b3ff00"/><stop offset="0.8516" stop-color="#35ff00"/><stop offset="0.8667" stop-color="#00ff01"/><stop offset="0.9346" stop-color="#00fcff"/><stop offset="1.0000" stop-color="#0014ff"/></radialGradient>
<radialGradient id="g1_11" gradientUnits="userSpaceOnUse" cx="211.2" cy="567" r="209.6"><stop offset="0.4995" stop-color="#e5ff00"/><stop offset="0.5096" stop-color="#f8ff00"/><stop offset="0.5146" stop-color="#fff300"/><stop offset="0.5297" stop-color="#ffbd00"/><stop offset="0.5448" stop-color="#ffa900"/><stop offset="0.6102" stop-color="#ffae00"/><stop offset="0.6630" stop-color="#ffe100"/><stop offset="0.7158" stop-color="#ffef00"/><stop offset="0.7384" stop-color="#fff700"/><stop offset="0.7535" stop-color="#f8ff00"/><stop offset="0.7862" stop-color="#e8ff00"/><stop offset="0.8114" stop-color="#b5ff00"/><stop offset="0.8516" stop-color="#38ff00"/><stop offset="0.8667" stop-color="#02ff00"/><stop offset="0.9346" stop-color="#00fdff"/><stop offset="1.0000" stop-color="#0014ff"/></radialGradient>
<radialGradient id="g1_12" gradientUnits="userSpaceOnUse" cx="211.2" cy="567" r="209.6"><stop offset="0.4995" stop-color="#e5ff00"/><stop offset="0.5096" stop-color="#f8ff00"/><stop offset="0.5146" stop-color="#fff300"/><stop offset="0.5297" stop-color="#ffbd00"/><stop offset="0.5448" stop-color="#ffa900"/><stop offset="0.6102" stop-color="#ffad00"/><stop offset="0.6605" stop-color="#ffdd00"/><stop offset="0.7083" stop-color="#ffdd00"/><stop offset="0.7485" stop-color="#fcff00"/><stop offset="0.7862" stop-color="#e9ff00"/><stop offset="0.8089" stop-color="#beff00"/><stop offset="0.8466" stop-color="#4cff00"/><stop offset="0.8692" stop-color="#00ff05"/><stop offset="0.9346" stop-color="#00ffff"/><stop offset="1.0000" stop-color="#0014ff"/></radialGradient>
<radialGradient id="g1_13" gradientUnits="userSpaceOnUse" cx="211.2" cy="567" r="209.6"><stop offset="0.4995" stop-color="#e5ff00"/><stop offset="0.5096" stop-color="#f8ff00"/><stop offset="0.5146" stop-color="#fff300"/><stop offset="0.5297" stop-color="#ffbd00"/><stop offset="0.5448" stop-color="#ffa900"/><stop offset="0.6127" stop-color="#ffad00"/><stop offset="0.6605" stop-color="#ffd800"/><stop offset="0.7032" stop-color="#ffc800"/><stop offset="0.7284" stop-color="#ffe500"/><stop offset="0.7510" stop-color="#feff00"/><stop offset="0.7887" stop-color="#e7ff00"/><stop offset="0.8139" stop-color="#b4ff00"/><stop offset="0.8541" stop-color="#35ff00"/><stop offset="0.8692" stop-color="#00ff02"/><stop offset="0.9346" stop-color="#00fffe"/><stop offset="1.0000" stop-color="#0014ff"/></radialGradient>
<radialGradient id="g1_14" gradientUnits="userSpaceOnUse" cx="211.2" cy="567" r="209.6"><stop offset="0.4995" stop-color="#e6ff00"/><stop offset="0.5096" stop-color="#f8ff00"/><stop offset="0.5146" stop-color="#fff300"/><stop offset="0.5297" stop-color="#ffbd00"/><stop offset="0.5448" stop-color="#ffa900"/><stop offset="0.6177" stop-color="#ffae00"/><stop offset="0.6605" stop-color="#ffd300"/><stop offset="0.6856" stop-color="#ffc400"/><stop offset="0.7057" stop-color="#ffb900"/><stop offset="0.7259" stop-color="#ffd200"/><stop offset="0.7535" stop-color="#fffe00"/><stop offset="0.7938" stop-color="#e4ff00"/><stop offset="0.8189" stop-color="#aeff00"/><stop offset="0.8592" stop-color="#2bff00"/><stop offset="0.8717" stop-color="#00ff04"/><stop offset="0.9346" stop-color="#00fffa"/><stop offset="0.9774" stop-color="#0067ff"/><stop offset="1.0000" stop-color="#0014ff"/></radialGradient>
<radialGradient id="g1_15" gradientUnits="userSpaceOnUse" cx="211.2" cy="567" r="209.6"><stop offset="0.4995" stop-color="#e6ff00"/><stop offset="0.5096" stop-color="#f8ff00"/><stop offset="0.5146" stop-color="#fff200"/><stop offset="0.5297" stop-color="#ffbd00"/><stop offset="0.5448" stop-color="#ffa900"/><stop offset="0.6228" stop-color="#ffac00"/><stop offset="0.6680" stop-color="#ffd300"/><stop offset="0.6932" stop-color="#ffc300"/><stop offset="0.7133" stop-color="#ffb900"/><stop offset="0.7334" stop-color="#ffd300"/><stop offset="0.7611" stop-color="#feff00"/><stop offset="0.8013" stop-color="#dfff00"/><stop offset="0.8265" stop-color="#a5ff00"/><stop offset="0.8667" stop-color="#1cff00"/><stop offset="0.8743" stop-color="#00ff01"/><stop offset="0.9371" stop-color="#00fffe"/><stop offset="1.0000" stop-color="#0014ff"/></radialGradient>
<radialGradient id="g1_16" gradientUnits="userSpaceOnUse" cx="211.2" cy="567" r="209.6"><stop offset="0.4995" stop-color="#e6ff00"/><stop offset="0.5096" stop-color="#f9ff00"/><stop offset="0.5146" stop-color="#fff200"/><stop offset="0.5297" stop-color="#ffbd00"/><stop offset="0.5448" stop-color="#ffa900"/><stop offset="0.6303" stop-color="#ffad00"/><stop offset="0.6731" stop-color="#ffd100"/><stop offset="0.6982" stop-color="#ffc000"/><stop offset="0.7183" stop-color="#ffb800"/><stop offset="0.7410" stop-color="#ffd800"/><stop offset="0.7661" stop-color="#feff00"/><stop offset="0.8063" stop-color="#dfff00"/><stop offset="0.8290" stop-color="#acff00"/><stop offset="0.8667" stop-color="#2aff00"/><stop offset="0.8768" stop-color="#03ff00"/><stop offset="0.9396" stop-color="#00fdff"/><stop offset="1.0000" stop-color="#0014ff"/></radialGradient>
<radialGradient id="g1_17" gradientUnits="userSpaceOnUse" cx="211.2" cy="567" r="209.6"><stop offset="0.4995" stop-color="#e6ff00"/><stop offset="0.5096" stop-color="#f9ff00"/><stop offset="0.5146" stop-color="#fff200"/><stop offset="0.5297" stop-color="#ffbc00"/><stop offset="0.5448" stop-color="#ffa900"/><stop offset="0.6353" stop-color="#ffac00"/><stop offset="0.6781" stop-color="#ffcd00"/><stop offset="0.7183" stop-color="#ffb500"/><stop offset="0.7384" stop-color="#ffcc00"/><stop offset="0.7686" stop-color="#fffe00"/><stop offset="0.8114" stop-color="#e0ff00"/><stop offset="0.8340" stop-color="#acff00"/><stop offset="0.8692" stop-color="#30ff00"/><stop offset="0.8818" stop-color="#00ff03"/><stop offset="0.9396" stop-color="#00fff9"/><stop offset="0.9497" stop-color="#00dcff"/><stop offset="1.0000" stop-color="#0014ff"/></radialGradient>
<radialGradient id="g1_18" gradientUnits="userSpaceOnUse" cx="211.2" cy="567" r="209.6"><stop offset="0.4995" stop-color="#e6ff00"/><stop offset="0.5096" stop-color="#f9ff00"/><stop offset="0.5146" stop-color="#fff200"/><stop offset="0.5297" stop-color="#ffbc00"/><stop offset="0.5448" stop-color="#ffa800"/><stop offset="0.6429" stop-color="#ffac00"/><stop offset="0.6831" stop-color="#ffc900"/><stop offset="0.7208" stop-color="#ffb300"/><stop offset="0.7410" stop-color="#ffc900"/><stop offset="0.7737" stop-color="#fffd00"/><stop offset="0.8139" stop-color="#e5ff00"/><stop offset="0.8340" stop-color="#bcff00"/><stop offset="0.8642" stop-color="#55ff00"/><stop offset="0.8843" stop-color="#03ff00"/><stop offset="0.9422" stop-color="#00fffc"/><stop offset="1.0000" stop-color="#0014ff"/></radialGradient>
<radialGradient id="g1_19" gradientUnits="userSpaceOnUse" cx="211.2" cy="567" r="209.6"><stop offset="0.4995" stop-color="#e6ff00"/><stop offset="0.5096" stop-color="#f9ff00"/><stop offset="0.5146" stop-color="#fff200"/><stop offset="0.5297" stop-color="#ffbc00"/><stop offset="0.5448" stop-color="#ffa800"/><stop offset="0.6454" stop-color="#ffab00"/><stop offset="0.6856" stop-color="#ffc600"/><stop offset="0.7234" stop-color="#ffb300"/><stop offset="0.7435" stop-color="#ffcb00"/><stop offset="0.7762" stop-color="#fffd00"/><stop offset="0.8189" stop-color="#e3ff00"/><stop offset="0.8390" stop-color="#b7ff00"/><stop offset="0.8692" stop-color="#4cff00"/><stop offset="0.8868" stop-color="#03ff00"/><stop offset="0.9447" stop-color="#00fdff"/><stop offset="1.0000" stop-color="#0014ff"/></radialGradient>
<radialGradient id="g1_20" gradientUnits="userSpaceOnUse" cx="211.2" cy="567" r="209.6"><stop offset="0.4995" stop-color="#e6ff00"/><stop offset="0.5096" stop-color="#f9ff00"/><stop offset="0.5146" stop-color="#fff200"/><stop offset="0.5297" stop-color="#ffbc00"/><stop offset="0.5448" stop-color="#ffa800"/><stop offset="0.6479" stop-color="#ffab00"/><stop offset="0.6907" stop-color="#ffc800"/><stop offset="0.7259" stop-color="#ffc100"/><stop offset="0.7787" stop-color="#fffe00"/><stop offset="0.8214" stop-color="#e2ff00"/><stop offset="0.8416" stop-color="#b5ff00"/><stop offset="0.8717" stop-color="#47ff00"/><stop offset="0.8893" stop-color="#00ff03"/><stop offset="0.9447" stop-color="#00ffff"/><stop offset="1.0000" stop-color="#0014ff"/></radialGradient>
<radialGradient id="g1_21" gradientUnits="userSpaceOnUse" cx="211.2" cy="567" r="209.6"><stop offset="0.4995" stop-color="#e6ff00"/><stop offset="0.5096" stop-color="#f9ff00"/><stop offset="0.5146" stop-color="#fff200"/><stop offset="0.5297" stop-color="#ffbc00"/><stop offset="0.5448" stop-color="#ffa800"/><stop offset="0.6504" stop-color="#ffab00"/><stop offset="0.6982" stop-color="#ffcf00"/><stop offset="0.7359" stop-color="#ffd800"/><stop offset="0.7837" stop-color="#fcff00"/><stop offset="0.8214" stop-color="#e3ff00"/><stop offset="0.8416" stop-color="#b9ff00"/><stop offset="0.8717" stop-color="#4cff00"/><stop offset="0.8893" stop-color="#01ff00"/><stop offset="0.9447" stop-color="#00fffc"/><stop offset="1.0000" stop-color="#0014ff"/></radialGradient>
<radialGradient id="g1_22" gradientUnits="userSpaceOnUse" cx="211.2" cy="567" r="209.6"><stop offset="0.4995" stop-color="#e6ff00"/><stop offset="0.5096" stop-color="#f9ff00"/><stop offset="0.5146" stop-color="#fff200"/><stop offset="0.5297" stop-color="#ffbc00"/><stop offset="0.5448" stop-color="#ffa800"/><stop offset="0.6555" stop-color="#ffac00"/><stop offset="0.7133" stop-color="#ffe000"/><stop offset="0.7887" stop-color="#faff00"/><stop offset="0.8265" stop-color="#dfff00"/><stop offset="0.8466" stop-color="#b1ff00"/><stop offset="0.8768" stop-color="#40ff00"/><stop offset="0.8919" stop-color="#00ff02"/><stop offset="0.9472" stop-color="#00fbff"/><stop offset="1.0000" stop-color="#0014ff"/></radialGradient>
<radialGradient id="g1_23" gradientUnits="userSpaceOnUse" cx="211.2" cy="567" r="209.6"><stop offset="0.4995" stop-color="#e6ff00"/><stop offset="0.5096" stop-color="#f9ff00"/><stop offset="0.5146" stop-color="#fff200"/><stop offset="0.5297" stop-color="#ffbc00"/><stop offset="0.5448" stop-color="#ffa800"/><stop offset="0.6630" stop-color="#ffab00"/><stop offset="0.7234" stop-color="#ffe400"/><stop offset="0.7913" stop-color="#faff00"/><stop offset="0.8315" stop-color="#daff00"/><stop offset="0.8516" stop-color="#acff00"/><stop offset="0.8793" stop-color="#42ff00"/><stop offset="0.8944" stop-color="#00ff02"/><stop offset="0.9472" stop-color="#00fffe"/><stop offset="1.0000" stop-color="#0014ff"/></radialGradient>
<radialGradient id="g1_24" gradientUnits="userSpaceOnUse" cx="211.2" cy="567" r="209.6"><stop offset="0.4995" stop-color="#e6ff00"/><stop offset="0.5096" stop-color="#f9ff00"/><stop offset="0.5146" stop-color="#fff200"/><stop offset="0.5297" stop-color="#ffbc00"/><stop offset="0.5448" stop-color="#ffa800"/><stop offset="0.6705" stop-color="#ffab00"/><stop offset="0.7309" stop-color="#ffe500"/><stop offset="0.7963" stop-color="#faff00"/><stop offset="0.8340" stop-color="#dbff00"/><stop offset="0.8541" stop-color="#acff00"/><stop offset="0.8818" stop-color="#40ff00"/><stop offset="0.8969" stop-color="#00ff05"/><stop offset="0.9472" stop-color="#00fff9"/><stop offset="0.9572" stop-color="#00d6ff"/><stop offset="1.0000" stop-color="#0014ff"/></radialGradient>
<radialGradient id="g1_25" gradientUnits="userSpaceOnUse" cx="211.2" cy="567" r="209.6"><stop offset="0.4995" stop-color="#e6ff00"/><stop offset="0.5096" stop-color="#f9ff00"/><stop offset="0.5146" stop-color="#fff200"/><stop offset="0.5297" stop-color="#ffbc00"/><stop offset="0.5448" stop-color="#ffa800"/><stop offset="0.6756" stop-color="#ffac00"/><stop offset="0.7410" stop-color="#ffe400"/><stop offset="0.8139" stop-color="#faff00"/><stop offset="0.8365" stop-color="#e0ff00"/><stop offset="0.8566" stop-color="#a9ff00"/><stop offset="0.8868" stop-color="#2eff00"/><stop offset="0.8969" stop-color="#00ff01"/><stop offset="0.9497" stop-color="#00fbff"/><stop offset="1.0000" stop-color="#0014ff"/></radialGradient>
<radialGradient id="g1_26" gradientUnits="userSpaceOnUse" cx="211.2" cy="567" r="209.6"><stop offset="0.4995" stop-color="#e6ff00"/><stop offset="0.5096" stop-color="#f9ff00"/><stop offset="0.5146" stop-color="#fff200"/><stop offset="0.5297" stop-color="#ffbc00"/><stop offset="0.5448" stop-color="#ffa800"/><stop offset="0.6806" stop-color="#ffac00"/><stop offset="0.7535" stop-color="#ffe200"/><stop offset="0.8240" stop-color="#fbff00"/><stop offset="0.8441" stop-color="#d3ff00"/><stop offset="0.8692" stop-color="#7dff00"/><stop offset="0.8969" stop-color="#02ff00"/><stop offset="0.9497" stop-color="#00fcff"/><stop offset="1.0000" stop-color="#0014ff"/></radialGradient>
<radialGradient id="g1_27" gradientUnits="userSpaceOnUse" cx="211.2" cy="567" r="209.6"><stop offset="0.4995" stop-color="#e6ff00"/><stop offset="0.5096" stop-color="#f9ff00"/><stop offset="0.5146" stop-color="#fff200"/><stop offset="0.5297" stop-color="#ffbc00"/><stop offset="0.5423" stop-color="#ffaa00"/><stop offset="0.6831" stop-color="#ffaa00"/><stop offset="0.7686" stop-color="#ffdb00"/><stop offset="0.8139" stop-color="#ffee00"/><stop offset="0.8290" stop-color="#fbff00"/><stop offset="0.8516" stop-color="#c0ff00"/><stop offset="0.8818" stop-color="#4aff00"/><stop offset="0.8969" stop-color="#04ff00"/><stop offset="0.9346" stop-color="#00ffb5"/><stop offset="0.9497" stop-color="#00fdff"/><stop offset="1.0000" stop-color="#0014ff"/></radialGradient>
<radialGradient id="g1_28" gradientUnits="userSpaceOnUse" cx="211.2" cy="567" r="209.6"><stop offset="0.4995" stop-color="#e6ff00"/><stop offset="0.5096" stop-color="#f9ff00"/><stop offset="0.5146" stop-color="#fff200"/><stop offset="0.5297" stop-color="#ffbc00"/><stop offset="0.5398" stop-color="#ffb000"/><stop offset="0.6479" stop-color="#ffa600"/><stop offset="0.7133" stop-color="#ffb200"/><stop offset="0.8089" stop-color="#ffe000"/><stop offset="0.8290" stop-color="#ffff00"/><stop offset="0.8541" stop-color="#baff00"/><stop offset="0.8843" stop-color="#41ff00"/><stop offset="0.8994" stop-color="#00ff05"/><stop offset="0.9497" stop-color="#00feff"/><stop offset="1.0000" stop-color="#0014ff"/></radialGradient>
<radialGradient id="g1_29" gradientUnits="userSpaceOnUse" cx="211.2" cy="567" r="209.6"><stop offset="0.4995" stop-color="#e6ff00"/><stop offset="0.5096" stop-color="#f9ff00"/><stop offset="0.5146" stop-color="#fff200"/><stop offset="0.5297" stop-color="#ffbc00"/><stop offset="0.5398" stop-color="#ffb900"/><stop offset="0.6202" stop-color="#ffa600"/><stop offset="0.7284" stop-color="#ffb100"/><stop offset="0.7988" stop-color="#ffd000"/><stop offset="0.8265" stop-color="#fff700"/><stop offset="0.8340" stop-color="#f6ff00"/><stop offset="0.8592" stop-color="#abff00"/><stop offset="0.8919" stop-color="#21ff00"/><stop offset="0.8994" stop-color="#00ff03"/><stop offset="0.9497" stop-color="#00ffff"/><stop offset="1.0000" stop-color="#0014ff"/></radialGradient>
<radialGradient id="g1_30" gradientUnits="userSpaceOnUse" cx="211.2" cy="567" r="209.6"><stop offset="0.4995" stop-color="#e6ff00"/><stop offset="0.5096" stop-color="#f9ff00"/><stop offset="0.5146" stop-color="#fff200"/><stop offset="0.5272" stop-color="#ffc300"/><stop offset="0.5574" stop-color="#ffc400"/><stop offset="0.6026" stop-color="#ffa700"/><stop offset="0.7384" stop-color="#ffaf00"/><stop offset="0.7938" stop-color="#ffc800"/><stop offset="0.8240" stop-color="#fff000"/><stop offset="0.8340" stop-color="#f8ff00"/><stop offset="0.8592" stop-color="#adff00"/><stop offset="0.8893" stop-color="#2fff00"/><stop offset="0.8994" stop-color="#00ff01"/><stop offset="0.9497" stop-color="#00fffd"/><stop offset="1.0000" stop-color="#0014ff"/></radialGradient>
<radialGradient id="g1_31" gradientUnits="userSpaceOnUse" cx="211.2" cy="567" r="209.6"><stop offset="0.4995" stop-color="#eaff00"/><stop offset="0.5096" stop-color="#fcff00"/><stop offset="0.5247" stop-color="#ffc900"/><stop offset="0.5523" stop-color="#ffd300"/><stop offset="0.5976" stop-color="#ffaa00"/><stop offset="0.7234" stop-color="#ffab00"/><stop offset="0.7862" stop-color="#ffc100"/><stop offset="0.8189" stop-color="#ffe600"/><stop offset="0.8340" stop-color="#faff00"/><stop offset="0.8592" stop-color="#b0ff00"/><stop offset="0.8893" stop-color="#32ff00"/><stop offset="0.8994" stop-color="#02ff00"/><stop offset="0.9497" stop-color="#00fffc"/><stop offset="1.0000" stop-color="#0014ff"/></radialGradient>
<radialGradient id="g1_32" gradientUnits="userSpaceOnUse" cx="211.2" cy="567" r="209.6"><stop offset="0.4995" stop-color="#fffa00"/><stop offset="0.5096" stop-color="#ffec00"/><stop offset="0.5222" stop-color="#ffc700"/><stop offset="0.5448" stop-color="#ffdd00"/><stop offset="0.5649" stop-color="#ffcf00"/><stop offset="0.5976" stop-color="#ffab00"/><stop offset="0.7032" stop-color="#ffa900"/><stop offset="0.7787" stop-color="#ffbc00"/><stop offset="0.8139" stop-color="#ffdd00"/><stop offset="0.8340" stop-color="#fcff00"/><stop offset="0.8592" stop-color="#b2ff00"/><stop offset="0.8893" stop-color="#34ff00"/><stop offset="0.8994" stop-color="#04ff00"/><stop offset="0.9497" stop-color="#00fffb"/><stop offset="1.0000" stop-color="#0014ff"/></radialGradient>
<radialGradient id="g1_33" gradientUnits="userSpaceOnUse" cx="211.2" cy="567" r="209.6"><stop offset="0.4995" stop-color="#ffd700"/><stop offset="0.5196" stop-color="#ffc200"/><stop offset="0.5448" stop-color="#ffde00"/><stop offset="0.5649" stop-color="#ffd000"/><stop offset="0.5976" stop-color="#ffab00"/><stop offset="0.6982" stop-color="#ffa800"/><stop offset="0.7762" stop-color="#ffba00"/><stop offset="0.8139" stop-color="#ffdc00"/><stop offset="0.8340" stop-color="#feff00"/><stop offset="0.8592" stop-color="#b4ff00"/><stop offset="0.8893" stop-color="#36ff00"/><stop offset="0.8994" stop-color="#06ff00"/><stop offset="0.9069" stop-color="#00ff1f"/><stop offset="0.9497" stop-color="#00fffa"/><stop offset="0.9673" stop-color="#00b0ff"/><stop offset="1.0000" stop-color="#0014ff"/></radialGradient>
<radialGradient id="g1_34" gradientUnits="userSpaceOnUse" cx="211.2" cy="567" r="209.6"><stop offset="0.4995" stop-color="#ffbb00"/><stop offset="0.5146" stop-color="#ffbb00"/><stop offset="0.5448" stop-color="#ffde00"/><stop offset="0.5649" stop-color="#ffd100"/><stop offset="0.5976" stop-color="#ffab00"/><stop offset="0.6907" stop-color="#ffa800"/><stop offset="0.7762" stop-color="#ffb900"/><stop offset="0.8139" stop-color="#ffdb00"/><stop offset="0.8340" stop-color="#ffff00"/><stop offset="0.8592" stop-color="#b7ff00"/><stop offset="0.8893" stop-color="#39ff00"/><stop offset="0.9019" stop-color="#00ff04"/><stop offset="0.9497" stop-color="#00fff9"/><stop offset="0.9572" stop-color="#00e1ff"/><stop offset="1.0000" stop-color="#0014ff"/></radialGradient>
<radialGradient id="g1_35" gradientUnits="userSpaceOnUse" cx="211.2" cy="567" r="209.6"><stop offset="0.4995" stop-color="#ffab00"/><stop offset="0.5473" stop-color="#ffde00"/><stop offset="0.5674" stop-color="#ffd000"/><stop offset="0.5976" stop-color="#ffac00"/><stop offset="0.6731" stop-color="#ffa700"/><stop offset="0.7711" stop-color="#ffb500"/><stop offset="0.8114" stop-color="#ffd300"/><stop offset="0.8365" stop-color="#ffff00"/><stop offset="0.8617" stop-color="#b5ff00"/><stop offset="0.8919" stop-color="#35ff00"/><stop offset="0.9019" stop-color="#04ff00"/><stop offset="0.9522" stop-color="#00fcff"/><stop offset="1.0000" stop-color="#0014ff"/></radialGradient>
<radialGradient id="g1_36" gradientUnits="userSpaceOnUse" cx="211.2" cy="567" r="209.6"><stop offset="0.4995" stop-color="#ffaa00"/><stop offset="0.5297" stop-color="#ffca00"/><stop offset="0.5498" stop-color="#ffde00"/><stop offset="0.5699" stop-color="#ffd000"/><stop offset="0.6026" stop-color="#ffab00"/><stop offset="0.7057" stop-color="#ffa800"/><stop offset="0.7837" stop-color="#ffb900"/><stop offset="0.8214" stop-color="#ffdb00"/><stop offset="0.8416" stop-color="#fdff00"/><stop offset="0.8667" stop-color="#afff00"/><stop offset="0.8969" stop-color="#29ff00"/><stop offset="0.9044" stop-color="#03ff00"/><stop offset="0.9522" stop-color="#00fffc"/><stop offset="1.0000" stop-color="#0014ff"/></radialGradient>
<radialGradient id="g1_37" gradientUnits="userSpaceOnUse" cx="211.2" cy="567" r="209.6"><stop offset="0.4995" stop-color="#ffa800"/><stop offset="0.5272" stop-color="#ffc200"/><stop offset="0.5523" stop-color="#ffde00"/><stop offset="0.5725" stop-color="#ffd000"/><stop offset="0.6052" stop-color="#ffab00"/><stop offset="0.7057" stop-color="#ffa800"/><stop offset="0.7862" stop-color="#ffb800"/><stop offset="0.8240" stop-color="#ffda00"/><stop offset="0.8441" stop-color="#fdff00"/><stop offset="0.8667" stop-color="#b8ff00"/><stop offset="0.8944" stop-color="#3eff00"/><stop offset="0.9069" stop-color="#00ff02"/><stop offset="0.9522" stop-color="#00fff7"/><stop offset="0.9572" stop-color="#00edff"/><stop offset="1.0000" stop-color="#0014ff"/></radialGradient>
<radialGradient id="g1_38" gradientUnits="userSpaceOnUse" cx="211.2" cy="567" r="209.6"><stop offset="0.4995" stop-color="#ffa800"/><stop offset="0.5272" stop-color="#ffbf00"/><stop offset="0.5523" stop-color="#ffdd00"/><stop offset="0.5699" stop-color="#ffd600"/><stop offset="0.6052" stop-color="#ffac00"/><stop offset="0.6806" stop-color="#ffa600"/><stop offset="0.7812" stop-color="#ffb500"/><stop offset="0.8214" stop-color="#ffd400"/><stop offset="0.8466" stop-color="#fbff00"/><stop offset="0.8692" stop-color="#b4ff00"/><stop offset="0.8969" stop-color="#37ff00"/><stop offset="0.9069" stop-color="#03ff00"/><stop offset="0.9547" stop-color="#00fcff"/><stop offset="1.0000" stop-color="#0014ff"/></radialGradient>
<radialGradient id="g1_39" gradientUnits="userSpaceOnUse" cx="211.2" cy="567" r="209.6"><stop offset="0.4995" stop-color="#ffa700"/><stop offset="0.5272" stop-color="#ffbe00"/><stop offset="0.5549" stop-color="#ffde00"/><stop offset="0.5750" stop-color="#ffd100"/><stop offset="0.6077" stop-color="#ffab00"/><stop offset="0.7057" stop-color="#ffa700"/><stop offset="0.7887" stop-color="#ffb700"/><stop offset="0.8265" stop-color="#ffd800"/><stop offset="0.8466" stop-color="#fffe00"/><stop offset="0.8692" stop-color="#baff00"/><stop offset="0.8969" stop-color="#3eff00"/><stop offset="0.9095" stop-color="#00ff04"/><stop offset="0.9547" stop-color="#00ffff"/><stop offset="1.0000" stop-color="#0014ff"/></radialGradient>
<radialGradient id="g1_40" gradientUnits="userSpaceOnUse" cx="211.2" cy="567" r="209.6"><stop offset="0.4995" stop-color="#ffa700"/><stop offset="0.5272" stop-color="#ffbd00"/><stop offset="0.5549" stop-color="#ffde00"/><stop offset="0.5750" stop-color="#ffd200"/><stop offset="0.6077" stop-color="#ffac00"/><stop offset="0.6932" stop-color="#ffa600"/><stop offset="0.7887" stop-color="#ffb500"/><stop offset="0.8265" stop-color="#ffd300"/><stop offset="0.8516" stop-color="#fbff00"/><stop offset="0.8743" stop-color="#b0ff00"/><stop offset="0.9019" stop-color="#2eff00"/><stop offset="0.9095" stop-color="#06ff00"/><stop offset="0.9170" stop-color="#00ff24"/><stop offset="0.9547" stop-color="#00fffa"/><stop offset="0.9799" stop-color="#007fff"/><stop offset="1.0000" stop-color="#0014ff"/></radialGradient>
<radialGradient id="g1_41" gradientUnits="userSpaceOnUse" cx="211.2" cy="567" r="209.6"><stop offset="0.4995" stop-color="#ffa700"/><stop offset="0.5272" stop-color="#ffbc00"/><stop offset="0.5549" stop-color="#ffdd00"/><stop offset="0.5725" stop-color="#ffd600"/><stop offset="0.6077" stop-color="#ffac00"/><stop offset="0.6856" stop-color="#ffa600"/><stop offset="0.7913" stop-color="#ffb400"/><stop offset="0.8290" stop-color="#ffd100"/><stop offset="0.8541" stop-color="#fdff00"/><stop offset="0.8768" stop-color="#b2ff00"/><stop offset="0.9019" stop-color="#3aff00"/><stop offset="0.9120" stop-color="#04ff00"/><stop offset="0.9572" stop-color="#00fcff"/><stop offset="1.0000" stop-color="#0014ff"/></radialGradient>
<radialGradient id="g1_42" gradientUnits="userSpaceOnUse" cx="211.2" cy="567" r="209.6"><stop offset="0.4995" stop-color="#ffa700"/><stop offset="0.5272" stop-color="#ffbb00"/><stop offset="0.5574" stop-color="#ffde00"/><stop offset="0.5775" stop-color="#ffd000"/><stop offset="0.6102" stop-color="#ffab00"/><stop offset="0.7158" stop-color="#ffa700"/><stop offset="0.8013" stop-color="#ffb600"/><stop offset="0.8365" stop-color="#ffd500"/><stop offset="0.8566" stop-color="#fffe00"/><stop offset="0.8768" stop-color="#bfff00"/><stop offset="0.9019" stop-color="#48ff00"/><stop offset="0.9145" stop-color="#02ff00"/><stop offset="0.9572" stop-color="#00fffc"/><stop offset="1.0000" stop-color="#0014ff"/></radialGradient>
<radialGradient id="g1_43" gradientUnits="userSpaceOnUse" cx="211.2" cy="567" r="209.6"><stop offset="0.4995" stop-color="#ffa700"/><stop offset="0.5272" stop-color="#ffba00"/><stop offset="0.5574" stop-color="#ffde00"/><stop offset="0.5775" stop-color="#ffd100"/><stop offset="0.6102" stop-color="#ffab00"/><stop offset="0.7057" stop-color="#ffa600"/><stop offset="0.8013" stop-color="#ffb300"/><stop offset="0.8365" stop-color="#ffcf00"/><stop offset="0.8617" stop-color="#feff00"/><stop offset="0.8818" stop-color="#b8ff00"/><stop offset="0.9069" stop-color="#3bff00"/><stop offset="0.9170" stop-color="#02ff00"/><stop offset="0.9598" stop-color="#00faff"/><stop offset="1.0000" stop-color="#0014ff"/></radialGradient>
<radialGradient id="g1_44" gradientUnits="userSpaceOnUse" cx="211.2" cy="567" r="209.6"><stop offset="0.4995" stop-color="#ffa700"/><stop offset="0.5272" stop-color="#ffba00"/><stop offset="0.5574" stop-color="#ffde00"/><stop offset="0.5775" stop-color="#ffd100"/><stop offset="0.6102" stop-color="#ffab00"/><stop offset="0.7032" stop-color="#ffa600"/><stop offset="0.8038" stop-color="#ffb200"/><stop offset="0.8390" stop-color="#ffcd00"/><stop offset="0.8617" stop-color="#fff700"/><stop offset="0.8692" stop-color="#f2ff00"/><stop offset="0.8893" stop-color="#a4ff00"/><stop offset="0.9145" stop-color="#1eff00"/><stop offset="0.9195" stop-color="#00ff01"/><stop offset="0.9598" stop-color="#00fffd"/><stop offset="1.0000" stop-color="#0014ff"/></radialGradient>
<radialGradient id="g1_45" gradientUnits="userSpaceOnUse" cx="211.2" cy="567" r="209.6"><stop offset="0.4995" stop-color="#ffa700"/><stop offset="0.5272" stop-color="#ffbc00"/><stop offset="0.5549" stop-color="#ffdd00"/><stop offset="0.5725" stop-color="#ffd600"/><stop offset="0.6077" stop-color="#ffac00"/><stop offset="0.6856" stop-color="#ffa500"/><stop offset="0.8038" stop-color="#ffb100"/><stop offset="0.8416" stop-color="#ffcb00"/><stop offset="0.8642" stop-color="#fff500"/><stop offset="0.8717" stop-color="#f4ff00"/><stop offset="0.8919" stop-color="#a5ff00"/><stop offset="0.9170" stop-color="#1bff00"/><stop offset="0.9220" stop-color="#00ff04"/><stop offset="0.9598" stop-color="#00fff7"/><stop offset="0.9648" stop-color="#00e8ff"/><stop offset="1.0000" stop-color="#0014ff"/></radialGradient>
<radialGradient id="g1_46" gradientUnits="userSpaceOnUse" cx="211.2" cy="567" r="209.6"><stop offset="0.4995" stop-color="#ffa700"/><stop offset="0.5272" stop-color="#ffbd00"/><stop offset="0.5549" stop-color="#ffde00"/><stop offset="0.5750" stop-color="#ffd100"/><stop offset="0.6077" stop-color="#ffab00"/><stop offset="0.7108" stop-color="#ffa600"/><stop offset="0.8139" stop-color="#ffb200"/><stop offset="0.8491" stop-color="#ffcf00"/><stop offset="0.8717" stop-color="#ffff00"/><stop offset="0.8893" stop-color="#bfff00"/><stop offset="0.9120" stop-color="#48ff00"/><stop offset="0.9220" stop-color="#0aff00"/><stop offset="0.9246" stop-color="#00ff06"/><stop offset="0.9623" stop-color="#00feff"/><stop offset="1.0000" stop-color="#0014ff"/></radialGradient>
<radialGradient id="g1_47" gradientUnits="userSpaceOnUse" cx="211.2" cy="567" r="209.6"><stop offset="0.4995" stop-color="#ffa800"/><stop offset="0.5272" stop-color="#ffbf00"/><stop offset="0.5523" stop-color="#ffdd00"/><stop offset="0.5699" stop-color="#ffd600"/><stop offset="0.6052" stop-color="#ffac00"/><stop offset="0.6856" stop-color="#ffa500"/><stop offset="0.8139" stop-color="#ffb000"/><stop offset="0.8491" stop-color="#ffca00"/><stop offset="0.8717" stop-color="#fff500"/><stop offset="0.8793" stop-color="#f2ff00"/><stop offset="0.8969" stop-color="#a9ff00"/><stop offset="0.9195" stop-color="#28ff00"/><stop offset="0.9246" stop-color="#07ff00"/><stop offset="0.9296" stop-color="#00ff1a"/><stop offset="0.9623" stop-color="#00fff9"/><stop offset="0.9723" stop-color="#00c4ff"/><stop offset="1.0000" stop-color="#0014ff"/></radialGradient>
<radialGradient id="g1_48" gradientUnits="userSpaceOnUse" cx="211.2" cy="567" r="209.6"><stop offset="0.4995" stop-color="#ffa800"/><stop offset="0.5272" stop-color="#ffc000"/><stop offset="0.5523" stop-color="#ffde00"/><stop offset="0.5725" stop-color="#ffd100"/><stop offset="0.6052" stop-color="#ffab00"/><stop offset="0.7032" stop-color="#ffa500"/><stop offset="0.8189" stop-color="#ffb000"/><stop offset="0.8541" stop-color="#ffcb00"/><stop offset="0.8793" stop-color="#fcff00"/><stop offset="0.8969" stop-color="#b5ff00"/><stop offset="0.9170" stop-color="#44ff00"/><stop offset="0.9271" stop-color="#02ff00"/><stop offset="0.9623" stop-color="#00fff3"/><stop offset="0.9648" stop-color="#00faff"/><stop offset="1.0000" stop-color="#0014ff"/></radialGradient>
<radialGradient id="g1_49" gradientUnits="userSpaceOnUse" cx="211.2" cy="567" r="209.6"><stop offset="0.4995" stop-color="#ffa800"/><stop offset="0.5272" stop-color="#ffc200"/><stop offset="0.5523" stop-color="#ffde00"/><stop offset="0.5725" stop-color="#ffd000"/><stop offset="0.6052" stop-color="#ffab00"/><stop offset="0.7259" stop-color="#ffa500"/><stop offset="0.8265" stop-color="#ffb200"/><stop offset="0.8592" stop-color="#ffce00"/><stop offset="0.8818" stop-color="#fdff00"/><stop offset="0.8994" stop-color="#b5ff00"/><stop offset="0.9195" stop-color="#41ff00"/><stop offset="0.9296" stop-color="#00ff03"/><stop offset="0.9648" stop-color="#00fffe"/><stop offset="1.0000" stop-color="#0014ff"/></radialGradient>
<radialGradient id="g1_50" gradientUnits="userSpaceOnUse" cx="211.2" cy="567" r="209.6"><stop offset="0.4995" stop-color="#ffa900"/><stop offset="0.5272" stop-color="#ffc300"/><stop offset="0.5523" stop-color="#ffde00"/><stop offset="0.5725" stop-color="#ffcf00"/><stop offset="0.6026" stop-color="#ffab00"/><stop offset="0.6881" stop-color="#ffa500"/><stop offset="0.8240" stop-color="#ffaf00"/><stop offset="0.8592" stop-color="#ffc900"/><stop offset="0.8793" stop-color="#fff000"/><stop offset="0.8843" stop-color="#feff00"/><stop offset="0.9019" stop-color="#b5ff00"/><stop offset="0.9220" stop-color="#3dff00"/><stop offset="0.9296" stop-color="#09ff00"/><stop offset="0.9321" stop-color="#00ff08"/><stop offset="0.9648" stop-color="#00fff8"/><stop offset="0.9698" stop-color="#00e3ff"/><stop offset="1.0000" stop-color="#0014ff"/></radialGradient>
<radialGradient id="g1_51" gradientUnits="userSpaceOnUse" cx="211.2" cy="567" r="209.6"><stop offset="0.4995" stop-color="#ffa900"/><stop offset="0.5272" stop-color="#ffc400"/><stop offset="0.5498" stop-color="#ffde00"/><stop offset="0.5699" stop-color="#ffd100"/><stop offset="0.6026" stop-color="#ffab00"/><stop offset="0.7108" stop-color="#ffa500"/><stop offset="0.8290" stop-color="#ffaf00"/><stop offset="0.8617" stop-color="#ffc800"/><stop offset="0.8818" stop-color="#ffef00"/><stop offset="0.8868" stop-color="#ffff00"/><stop offset="0.9044" stop-color="#b4ff00"/><stop offset="0.9246" stop-color="#39ff00"/><stop offset="0.9321" stop-color="#03ff00"/><stop offset="0.9648" stop-color="#00fff2"/><stop offset="0.9673" stop-color="#00faff"/><stop offset="1.0000" stop-color="#0014ff"/></radialGradient>
<radialGradient id="g1_52" gradientUnits="userSpaceOnUse" cx="211.2" cy="567" r="209.6"><stop offset="0.4995" stop-color="#ffaa00"/><stop offset="0.5297" stop-color="#ffca00"/><stop offset="0.5498" stop-color="#ffde00"/><stop offset="0.5699" stop-color="#ffcf00"/><stop offset="0.6001" stop-color="#ffac00"/><stop offset="0.6806" stop-color="#ffa500"/><stop offset="0.8290" stop-color="#ffae00"/><stop offset="0.8642" stop-color="#ffc600"/><stop offset="0.8843" stop-color="#ffed00"/><stop offset="0.8919" stop-color="#f9ff00"/><stop offset="0.9095" stop-color="#a7ff00"/><stop offset="0.9296" stop-color="#24ff00"/><stop offset="0.9346" stop-color="#00ff01"/><stop offset="0.9673" stop-color="#00fffe"/><stop offset="1.0000" stop-color="#0014ff"/></radialGradient>
<radialGradient id="g1_53" gradientUnits="userSpaceOnUse" cx="211.2" cy="567" r="209.6"><stop offset="0.4995" stop-color="#ffaa00"/><stop offset="0.5322" stop-color="#ffd000"/><stop offset="0.5523" stop-color="#ffde00"/><stop offset="0.5775" stop-color="#ffc200"/><stop offset="0.6052" stop-color="#ffa800"/><stop offset="0.8189" stop-color="#ffaa00"/><stop offset="0.8617" stop-color="#ffbe00"/><stop offset="0.8843" stop-color="#ffe400"/><stop offset="0.8944" stop-color="#fbff00"/><stop offset="0.9095" stop-color="#b6ff00"/><stop offset="0.9271" stop-color="#45ff00"/><stop offset="0.9346" stop-color="#0dff00"/><stop offset="0.9371" stop-color="#00ff06"/><stop offset="0.9673" stop-color="#00fff6"/><stop offset="0.9723" stop-color="#00e2ff"/><stop offset="1.0000" stop-color="#0014ff"/></radialGradient>
<radialGradient id="g1_54" gradientUnits="userSpaceOnUse" cx="211.2" cy="567" r="209.6"><stop offset="0.4995" stop-color="#ffab00"/><stop offset="0.5448" stop-color="#ffdd00"/><stop offset="0.5649" stop-color="#ffd200"/><stop offset="0.5976" stop-color="#ffab00"/><stop offset="0.6957" stop-color="#ffa500"/><stop offset="0.8390" stop-color="#ffae00"/><stop offset="0.8717" stop-color="#ffc600"/><stop offset="0.8919" stop-color="#fff200"/><stop offset="0.8969" stop-color="#fbff00"/><stop offset="0.9120" stop-color="#b4ff00"/><stop offset="0.9296" stop-color="#40ff00"/><stop offset="0.9371" stop-color="#06ff00"/><stop offset="0.9447" stop-color="#00ff36"/><stop offset="0.9673" stop-color="#00ffef"/><stop offset="0.9698" stop-color="#00faff"/><stop offset="1.0000" stop-color="#0014ff"/></radialGradient>
<radialGradient id="g1_55" gradientUnits="userSpaceOnUse" cx="211.2" cy="567" r="209.6"><stop offset="0.4995" stop-color="#ffac00"/><stop offset="0.5448" stop-color="#ffde00"/><stop offset="0.5649" stop-color="#ffcf00"/><stop offset="0.5951" stop-color="#ffac00"/><stop offset="0.6756" stop-color="#ffa500"/><stop offset="0.8390" stop-color="#ffad00"/><stop offset="0.8717" stop-color="#ffc400"/><stop offset="0.8919" stop-color="#ffec00"/><stop offset="0.8969" stop-color="#fffd00"/><stop offset="0.9095" stop-color="#caff00"/><stop offset="0.9271" stop-color="#5bff00"/><stop offset="0.9371" stop-color="#0eff00"/><stop offset="0.9396" stop-color="#00ff06"/><stop offset="0.9698" stop-color="#00feff"/><stop offset="1.0000" stop-color="#0014ff"/></radialGradient>
<radialGradient id="g1_56" gradientUnits="userSpaceOnUse" cx="211.2" cy="567" r="209.6"><stop offset="0.4995" stop-color="#ffab00"/><stop offset="0.5448" stop-color="#ffd400"/><stop offset="0.5674" stop-color="#ffc500"/><stop offset="0.6001" stop-color="#ffa800"/><stop offset="0.8265" stop-color="#ffaa00"/><stop offset="0.8667" stop-color="#ffbd00"/><stop offset="0.8868" stop-color="#ffdd00"/><stop offset="0.8994" stop-color="#faff00"/><stop offset="0.9145" stop-color="#b1ff00"/><stop offset="0.9321" stop-color="#39ff00"/><stop offset="0.9396" stop-color="#00ff03"/><stop offset="0.9698" stop-color="#00fffe"/><stop offset="1.0000" stop-color="#0014ff"/></radialGradient>
<radialGradient id="g1_57" gradientUnits="userSpaceOnUse" cx="211.2" cy="567" r="209.6"><stop offset="0.4995" stop-color="#ffa900"/><stop offset="0.5473" stop-color="#ffc700"/><stop offset="0.6052" stop-color="#ffa600"/><stop offset="0.8340" stop-color="#ffab00"/><stop offset="0.8717" stop-color="#ffc200"/><stop offset="0.8919" stop-color="#ffe900"/><stop offset="0.8994" stop-color="#fcff00"/><stop offset="0.9145" stop-color="#b3ff00"/><stop offset="0.9321" stop-color="#3bff00"/><stop offset="0.9396" stop-color="#00ff01"/><stop offset="0.9698" stop-color="#00fffe"/><stop offset="1.0000" stop-color="#0014ff"/></radialGradient>
<radialGradient id="g1_58" gradientUnits="userSpaceOnUse" cx="211.2" cy="567" r="209.6"><stop offset="0.4995" stop-color="#ffa700"/><stop offset="0.5549" stop-color="#ffb300"/><stop offset="0.6228" stop-color="#ffa500"/><stop offset="0.8365" stop-color="#ffac00"/><stop offset="0.8717" stop-color="#ffc100"/><stop offset="0.8919" stop-color="#ffe700"/><stop offset="0.8994" stop-color="#feff00"/><stop offset="0.9145" stop-color="#b6ff00"/><stop offset="0.9321" stop-color="#3dff00"/><stop offset="0.9396" stop-color="#02ff00"/><stop offset="0.9698" stop-color="#00fffc"/><stop offset="1.0000" stop-color="#0014ff"/></radialGradient>
<radialGradient id="g1_59" gradientUnits="userSpaceOnUse" cx="211.2" cy="567" r="209.6"><stop offset="0.4995" stop-color="#ffa500"/><stop offset="0.8340" stop-color="#ffab00"/><stop offset="0.8717" stop-color="#ffbf00"/><stop offset="0.8919" stop-color="#ffe300"/><stop offset="0.9019" stop-color="#f9ff00"/><stop offset="0.9170" stop-color="#aeff00"/><stop offset="0.9346" stop-color="#31ff00"/><stop offset="0.9396" stop-color="#08ff00"/><stop offset="0.9447" stop-color="#00ff21"/><stop offset="0.9698" stop-color="#00fff9"/><stop offset="0.9774" stop-color="#00c9ff"/><stop offset="1.0000" stop-color="#0014ff"/></radialGradient>
<radialGradient id="g1_60" gradientUnits="userSpaceOnUse" cx="211.2" cy="567" r="209.6"><stop offset="0.4995" stop-color="#ffa500"/><stop offset="0.8390" stop-color="#ffab00"/><stop offset="0.8743" stop-color="#ffbf00"/><stop offset="0.8944" stop-color="#ffe500"/><stop offset="0.9019" stop-color="#fffd00"/><stop offset="0.9145" stop-color="#c6ff00"/><stop offset="0.9296" stop-color="#62ff00"/><stop offset="0.9422" stop-color="#00ff03"/><stop offset="0.9698" stop-color="#00fff4"/><stop offset="0.9723" stop-color="#00f5ff"/><stop offset="1.0000" stop-color="#0014ff"/></radialGradient>
<radialGradient id="g1_61" gradientUnits="userSpaceOnUse" cx="211.2" cy="567" r="209.6"><stop offset="0.4995" stop-color="#ffa500"/><stop offset="0.8416" stop-color="#ffab00"/><stop offset="0.8768" stop-color="#ffbf00"/><stop offset="0.8969" stop-color="#ffe600"/><stop offset="0.9044" stop-color="#ffff00"/><stop offset="0.9195" stop-color="#b2ff00"/><stop offset="0.9371" stop-color="#31ff00"/><stop offset="0.9422" stop-color="#07ff00"/><stop offset="0.9472" stop-color="#00ff24"/><stop offset="0.9698" stop-color="#00ffee"/><stop offset="0.9723" stop-color="#00faff"/><stop offset="1.0000" stop-color="#0014ff"/></radialGradient>
<radialGradient id="g1_62" gradientUnits="userSpaceOnUse" cx="211.2" cy="567" r="209.6"><stop offset="0.4995" stop-color="#ffa500"/><stop offset="0.8441" stop-color="#ffab00"/><stop offset="0.8793" stop-color="#ffbf00"/><stop offset="0.8969" stop-color="#ffdf00"/><stop offset="0.9069" stop-color="#fdff00"/><stop offset="0.9195" stop-color="#beff00"/><stop offset="0.9346" stop-color="#52ff00"/><stop offset="0.9447" stop-color="#00ff03"/><stop offset="0.9723" stop-color="#00ffff"/><stop offset="1.0000" stop-color="#0014ff"/></radialGradient>
<radialGradient id="g1_63" gradientUnits="userSpaceOnUse" cx="211.2" cy="567" r="209.6"><stop offset="0.4995" stop-color="#ffa500"/><stop offset="0.8491" stop-color="#ffab00"/><stop offset="0.8818" stop-color="#ffbe00"/><stop offset="0.8994" stop-color="#ffdf00"/><stop offset="0.9095" stop-color="#fdff00"/><stop offset="0.9220" stop-color="#baff00"/><stop offset="0.9371" stop-color="#4aff00"/><stop offset="0.9447" stop-color="#09ff00"/><stop offset="0.9472" stop-color="#00ff0e"/><stop offset="0.9723" stop-color="#00fff8"/><stop offset="0.9799" stop-color="#00c3ff"/><stop offset="1.0000" stop-color="#0014ff"/></radialGradient>
<radialGradient id="g1_64" gradientUnits="userSpaceOnUse" cx="211.2" cy="567" r="209.6"><stop offset="0.4995" stop-color="#ffa500"/><stop offset="0.8516" stop-color="#ffab00"/><stop offset="0.8843" stop-color="#ffbe00"/><stop offset="0.9019" stop-color="#ffdf00"/><stop offset="0.9120" stop-color="#fbff00"/><stop offset="0.9246" stop-color="#b6ff00"/><stop offset="0.9396" stop-color="#42ff00"/><stop offset="0.9472" stop-color="#00ff02"/><stop offset="0.9723" stop-color="#00fff2"/><stop offset="0.9749" stop-color="#00f5ff"/><stop offset="1.0000" stop-color="#0014ff"/></radialGradient>
<radialGradient id="g1_65" gradientUnits="userSpaceOnUse" cx="211.2" cy="567" r="209.6"><stop offset="0.4995" stop-color="#ffa500"/><stop offset="0.8541" stop-color="#ffaa00"/><stop offset="0.8868" stop-color="#ffbe00"/><stop offset="0.9044" stop-color="#ffe000"/><stop offset="0.9120" stop-color="#fffa00"/><stop offset="0.9195" stop-color="#e0ff00"/><stop offset="0.9321" stop-color="#8cff00"/><stop offset="0.9472" stop-color="#09ff00"/><stop offset="0.9497" stop-color="#00ff0e"/><stop offset="0.9723" stop-color="#00ffec"/><stop offset="0.9749" stop-color="#00faff"/><stop offset="1.0000" stop-color="#0014ff"/></radialGradient>
<radialGradient id="g2_0" gradientUnits="userSpaceOnUse" cx="211.2" cy="837" r="209.6"><stop offset="0.4995" stop-color="#6fff00"/><stop offset="0.5096" stop-color="#7fff00"/><stop offset="0.5297" stop-color="#c0ff00"/><stop offset="0.5473" stop-color="#d2ff00"/><stop offset="0.6253" stop-color="#bbff00"/><stop offset="0.6932" stop-color="#8bff00"/><stop offset="0.7234" stop-color="#65ff00"/><stop offset="0.7510" stop-color="#48ff00"/><stop offset="0.7686" stop-color="#4aff00"/><stop offset="0.7887" stop-color="#01ff00"/><stop offset="0.8441" stop-color="#00ff50"/><stop offset="0.8692" stop-color="#00ff55"/><stop offset="0.8843" stop-color="#00ff61"/><stop offset="0.9069" stop-color="#00ffa1"/><stop offset="0.9346" stop-color="#00fcff"/><stop offset="1.0000" stop-color="#0014ff"/></radialGradient>
<radialGradient id="g2_1" gradientUnits="userSpaceOnUse" cx="211.2" cy="837" r="209.6"><stop offset="0.4995" stop-color="#6fff00"/><stop offset="0.5096" stop-color="#7fff00"/><stop offset="0.5297" stop-color="#c0ff00"/><stop offset="0.5423" stop-color="#cfff00"/><stop offset="0.6001" stop-color="#b2ff00"/><stop offset="0.7158" stop-color="#5dff00"/><stop offset="0.7510" stop-color="#67ff00"/><stop offset="0.7611" stop-color="#6cff00"/><stop offset="0.7862" stop-color="#0bff00"/><stop offset="0.7938" stop-color="#00ff08"/><stop offset="0.8491" stop-color="#00ff53"/><stop offset="0.8793" stop-color="#00ff58"/><stop offset="0.8944" stop-color="#00ff77"/><stop offset="0.9346" stop-color="#00fdff"/><stop offset="1.0000" stop-color="#0014ff"/></radialGradient>
<radialGradient id="g2_2" gradientUnits="userSpaceOnUse" cx="211.2" cy="837" r="209.6"><stop offset="0.4995" stop-color="#6fff00"/><stop offset="0.5096" stop-color="#80ff00"/><stop offset="0.5297" stop-color="#c1ff00"/><stop offset="0.5372" stop-color="#c3ff00"/><stop offset="0.6303" stop-color="#7bff00"/><stop offset="0.6881" stop-color="#73ff00"/><stop offset="0.7309" stop-color="#82ff00"/><stop offset="0.7535" stop-color="#87ff00"/><stop offset="0.7686" stop-color="#53ff00"/><stop offset="0.7862" stop-color="#0eff00"/><stop offset="0.7938" stop-color="#00ff06"/><stop offset="0.8491" stop-color="#00ff52"/><stop offset="0.8818" stop-color="#00ff5a"/><stop offset="0.8994" stop-color="#00ff84"/><stop offset="0.9346" stop-color="#00ffff"/><stop offset="1.0000" stop-color="#0014ff"/></radialGradient>
<radialGradient id="g2_3" gradientUnits="userSpaceOnUse" cx="211.2" cy="837" r="209.6"><stop offset="0.4995" stop-color="#6fff00"/><stop offset="0.5096" stop-color="#80ff00"/><stop offset="0.5247" stop-color="#b1ff00"/><stop offset="0.5926" stop-color="#7fff00"/><stop offset="0.6454" stop-color="#89ff00"/><stop offset="0.7133" stop-color="#9dff00"/><stop offset="0.7485" stop-color="#92ff00"/><stop offset="0.7611" stop-color="#75ff00"/><stop offset="0.7862" stop-color="#10ff00"/><stop offset="0.7938" stop-color="#00ff03"/><stop offset="0.8516" stop-color="#00ff53"/><stop offset="0.8818" stop-color="#00ff58"/><stop offset="0.8994" stop-color="#00ff82"/><stop offset="0.9346" stop-color="#00fffe"/><stop offset="1.0000" stop-color="#0014ff"/></radialGradient>
<radialGradient id="g2_4" gradientUnits="userSpaceOnUse" cx="211.2" cy="837" r="209.6"><stop offset="0.4995" stop-color="#70ff00"/><stop offset="0.5096" stop-color="#80ff00"/><stop offset="0.5171" stop-color="#98ff00"/><stop offset="0.5624" stop-color="#83ff00"/><stop offset="0.6026" stop-color="#95ff00"/><stop offset="0.6454" stop-color="#aeff00"/><stop offset="0.7007" stop-color="#afff00"/><stop offset="0.7485" stop-color="#94ff00"/><stop offset="0.7611" stop-color="#78ff00"/><stop offset="0.7887" stop-color="#0cff00"/><stop offset="0.7963" stop-color="#00ff07"/><stop offset="0.8516" stop-color="#00ff51"/><stop offset="0.8818" stop-color="#00ff57"/><stop offset="0.8994" stop-color="#00ff80"/><stop offset="0.9346" stop-color="#00fffc"/><stop offset="1.0000" stop-color="#0014ff"/></radialGradient>
<radialGradient id="g2_5" gradientUnits="userSpaceOnUse" cx="211.2" cy="837" r="209.6"><stop offset="0.4995" stop-color="#70ff00"/><stop offset="0.5096" stop-color="#80ff00"/><stop offset="0.5146" stop-color="#87ff00"/><stop offset="0.5549" stop-color="#92ff00"/><stop offset="0.6202" stop-color="#bfff00"/><stop offset="0.6856" stop-color="#b9ff00"/><stop offset="0.7460" stop-color="#99ff00"/><stop offset="0.7611" stop-color="#7aff00"/><stop offset="0.7887" stop-color="#0eff00"/><stop offset="0.7963" stop-color="#00ff04"/><stop offset="0.8516" stop-color="#00ff50"/><stop offset="0.8818" stop-color="#00ff56"/><stop offset="0.8969" stop-color="#00ff76"/><stop offset="0.9371" stop-color="#00faff"/><stop offset="1.0000" stop-color="#0014ff"/></radialGradient>
<radialGradient id="g2_6" gradientUnits="userSpaceOnUse" cx="211.2" cy="837" r="209.6"><stop offset="0.4995" stop-color="#70ff00"/><stop offset="0.5096" stop-color="#80ff00"/><stop offset="0.5171" stop-color="#95ff00"/><stop offset="0.5875" stop-color="#c6ff00"/><stop offset="0.6479" stop-color="#c5ff00"/><stop offset="0.7359" stop-color="#a2ff00"/><stop offset="0.7560" stop-color="#8bff00"/><stop offset="0.7711" stop-color="#57ff00"/><stop offset="0.7887" stop-color="#11ff00"/><stop offset="0.7963" stop-color="#00ff02"/><stop offset="0.8516" stop-color="#00ff4f"/><stop offset="0.8843" stop-color="#00ff58"/><stop offset="0.9019" stop-color="#00ff83"/><stop offset="0.9371" stop-color="#00fcff"/><stop offset="1.0000" stop-color="#0014ff"/></radialGradient>
<radialGradient id="g2_7" gradientUnits="userSpaceOnUse" cx="211.2" cy="837" r="209.6"><stop offset="0.4995" stop-color="#70ff00"/><stop offset="0.5096" stop-color="#81ff00"/><stop offset="0.5272" stop-color="#bbff00"/><stop offset="0.5775" stop-color="#cfff00"/><stop offset="0.6806" stop-color="#bdff00"/><stop offset="0.7485" stop-color="#99ff00"/><stop offset="0.7636" stop-color="#78ff00"/><stop offset="0.7887" stop-color="#14ff00"/><stop offset="0.7963" stop-color="#00ff00"/><stop offset="0.8541" stop-color="#00ff50"/><stop offset="0.8843" stop-color="#00ff56"/><stop offset="0.9019" stop-color="#00ff81"/><stop offset="0.9371" stop-color="#00fdff"/><stop offset="1.0000" stop-color="#0014ff"/></radialGradient>
<radialGradient id="g2_8" gradientUnits="userSpaceOnUse" cx="211.2" cy="837" r="209.6"><stop offset="0.4995" stop-color="#71ff00"/><stop offset="0.5096" stop-color="#81ff00"/><stop offset="0.5297" stop-color="#c3ff00"/><stop offset="0.5473" stop-color="#d4ff00"/><stop offset="0.6781" stop-color="#bfff00"/><stop offset="0.7485" stop-color="#9dff00"/><stop offset="0.7636" stop-color="#7fff00"/><stop offset="0.7913" stop-color="#13ff00"/><stop offset="0.7988" stop-color="#00ff00"/><stop offset="0.8541" stop-color="#00ff4d"/><stop offset="0.8843" stop-color="#00ff53"/><stop offset="0.8994" stop-color="#00ff74"/><stop offset="0.9371" stop-color="#00fffc"/><stop offset="1.0000" stop-color="#0014ff"/></radialGradient>
<radialGradient id="g2_9" gradientUnits="userSpaceOnUse" cx="211.2" cy="837" r="209.6"><stop offset="0.4995" stop-color="#71ff00"/><stop offset="0.5096" stop-color="#82ff00"/><stop offset="0.5297" stop-color="#c4ff00"/><stop offset="0.5473" stop-color="#d6ff00"/><stop offset="0.6806" stop-color="#c1ff00"/><stop offset="0.7510" stop-color="#a0ff00"/><stop offset="0.7661" stop-color="#83ff00"/><stop offset="0.7938" stop-color="#16ff00"/><stop offset="0.8038" stop-color="#00ff02"/><stop offset="0.8592" stop-color="#00ff4b"/><stop offset="0.8868" stop-color="#00ff51"/><stop offset="0.9019" stop-color="#00ff72"/><stop offset="0.9396" stop-color="#00ffff"/><stop offset="1.0000" stop-color="#0014ff"/></radialGradient>
<radialGradient id="g2_10" gradientUnits="userSpaceOnUse" cx="211.2" cy="837" r="209.6"><stop offset="0.4995" stop-color="#72ff00"/><stop offset="0.5096" stop-color="#83ff00"/><stop offset="0.5297" stop-color="#c5ff00"/><stop offset="0.5473" stop-color="#d7ff00"/><stop offset="0.6856" stop-color="#c3ff00"/><stop offset="0.7535" stop-color="#a3ff00"/><stop offset="0.7686" stop-color="#86ff00"/><stop offset="0.7963" stop-color="#1aff00"/><stop offset="0.8089" stop-color="#00ff02"/><stop offset="0.8617" stop-color="#00ff48"/><stop offset="0.8893" stop-color="#00ff4e"/><stop offset="0.9044" stop-color="#00ff71"/><stop offset="0.9422" stop-color="#00fcff"/><stop offset="1.0000" stop-color="#0014ff"/></radialGradient>
<radialGradient id="g2_11" gradientUnits="userSpaceOnUse" cx="211.2" cy="837" r="209.6"><stop offset="0.4995" stop-color="#73ff00"/><stop offset="0.5096" stop-color="#84ff00"/><stop offset="0.5297" stop-color="#c6ff00"/><stop offset="0.5473" stop-color="#d8ff00"/><stop offset="0.6881" stop-color="#c5ff00"/><stop offset="0.7560" stop-color="#a7ff00"/><stop offset="0.7711" stop-color="#8aff00"/><stop offset="0.7988" stop-color="#1eff00"/><stop offset="0.8139" stop-color="#00ff02"/><stop offset="0.8642" stop-color="#00ff44"/><stop offset="0.8919" stop-color="#00ff4b"/><stop offset="0.9069" stop-color="#00ff6f"/><stop offset="0.9422" stop-color="#00fffa"/><stop offset="0.9749" stop-color="#007eff"/><stop offset="1.0000" stop-color="#0014ff"/></radialGradient>
<radialGradient id="g2_12" gradientUnits="userSpaceOnUse" cx="211.2" cy="837" r="209.6"><stop offset="0.4995" stop-color="#73ff00"/><stop offset="0.5096" stop-color="#84ff00"/><stop offset="0.5297" stop-color="#c6ff00"/><stop offset="0.5473" stop-color="#d9ff00"/><stop offset="0.6907" stop-color="#c7ff00"/><stop offset="0.7586" stop-color="#a9ff00"/><stop offset="0.7737" stop-color="#8dff00"/><stop offset="0.8013" stop-color="#20ff00"/><stop offset="0.8164" stop-color="#01ff00"/><stop offset="0.8667" stop-color="#00ff40"/><stop offset="0.8944" stop-color="#00ff49"/><stop offset="0.9095" stop-color="#00ff6e"/><stop offset="0.9447" stop-color="#00fffe"/><stop offset="1.0000" stop-color="#0014ff"/></radialGradient>
<radialGradient id="g2_13" gradientUnits="userSpaceOnUse" cx="211.2" cy="837" r="209.6"><stop offset="0.4995" stop-color="#74ff00"/><stop offset="0.5096" stop-color="#85ff00"/><stop offset="0.5297" stop-color="#c7ff00"/><stop offset="0.5473" stop-color="#d9ff00"/><stop offset="0.6932" stop-color="#c7ff00"/><stop offset="0.7284" stop-color="#b7ff00"/><stop offset="0.7510" stop-color="#8fff00"/><stop offset="0.7711" stop-color="#97ff00"/><stop offset="0.7837" stop-color="#6dff00"/><stop offset="0.8038" stop-color="#1eff00"/><stop offset="0.8189" stop-color="#00ff00"/><stop offset="0.8692" stop-color="#00ff3f"/><stop offset="0.8944" stop-color="#00ff46"/><stop offset="0.9095" stop-color="#00ff6a"/><stop offset="0.9447" stop-color="#00fffa"/><stop offset="0.9824" stop-color="#0061ff"/><stop offset="1.0000" stop-color="#0014ff"/></radialGradient>
<radialGradient id="g2_14" gradientUnits="userSpaceOnUse" cx="211.2" cy="837" r="209.6"><stop offset="0.4995" stop-color="#74ff00"/><stop offset="0.5096" stop-color="#85ff00"/><stop offset="0.5297" stop-color="#c7ff00"/><stop offset="0.5473" stop-color="#d9ff00"/><stop offset="0.6957" stop-color="#c7ff00"/><stop offset="0.7234" stop-color="#b8ff00"/><stop offset="0.7334" stop-color="#97ff00"/><stop offset="0.7460" stop-color="#4cff00"/><stop offset="0.7510" stop-color="#3cff00"/><stop offset="0.7837" stop-color="#6eff00"/><stop offset="0.8038" stop-color="#21ff00"/><stop offset="0.8214" stop-color="#00ff01"/><stop offset="0.8692" stop-color="#00ff3e"/><stop offset="0.8969" stop-color="#00ff48"/><stop offset="0.9120" stop-color="#00ff70"/><stop offset="0.9472" stop-color="#00fbff"/><stop offset="1.0000" stop-color="#0014ff"/></radialGradient>
<radialGradient id="g2_15" gradientUnits="userSpaceOnUse" cx="211.2" cy="837" r="209.6"><stop offset="0.4995" stop-color="#74ff00"/><stop offset="0.5096" stop-color="#85ff00"/><stop offset="0.5297" stop-color="#c7ff00"/><stop offset="0.5473" stop-color="#daff00"/><stop offset="0.6957" stop-color="#c8ff00"/><stop offset="0.7234" stop-color="#b9ff00"/><stop offset="0.7334" stop-color="#98ff00"/><stop offset="0.7460" stop-color="#4dff00"/><stop offset="0.7586" stop-color="#2eff00"/><stop offset="0.7762" stop-color="#1eff00"/><stop offset="0.7988" stop-color="#32ff00"/><stop offset="0.8164" stop-color="#08ff00"/><stop offset="0.8290" stop-color="#00ff09"/><stop offset="0.8692" stop-color="#00ff3d"/><stop offset="0.8969" stop-color="#00ff47"/><stop offset="0.9120" stop-color="#00ff6e"/><stop offset="0.9472" stop-color="#00fcff"/><stop offset="1.0000" stop-color="#0014ff"/></radialGradient>
<radialGradient id="g2_16" gradientUnits="userSpaceOnUse" cx="211.2" cy="837" r="209.6"><stop offset="0.4995" stop-color="#74ff00"/><stop offset="0.5096" stop-color="#85ff00"/><stop offset="0.5297" stop-color="#c7ff00"/><stop offset="0.5473" stop-color="#daff00"/><stop offset="0.6957" stop-color="#c8ff00"/><stop offset="0.7284" stop-color="#b9ff00"/><stop offset="0.7661" stop-color="#6aff00"/><stop offset="0.7988" stop-color="#14ff00"/><stop offset="0.8164" stop-color="#02ff00"/><stop offset="0.8315" stop-color="#00ff0b"/><stop offset="0.8717" stop-color="#00ff3f"/><stop offset="0.8969" stop-color="#00ff48"/><stop offset="0.9120" stop-color="#00ff6c"/><stop offset="0.9472" stop-color="#00feff"/><stop offset="1.0000" stop-color="#0014ff"/></radialGradient>
<radialGradient id="g2_17" gradientUnits="userSpaceOnUse" cx="211.2" cy="837" r="209.6"><stop offset="0.4995" stop-color="#74ff00"/><stop offset="0.5096" stop-color="#85ff00"/><stop offset="0.5297" stop-color="#c8ff00"/><stop offset="0.5473" stop-color="#daff00"/><stop offset="0.6982" stop-color="#c8ff00"/><stop offset="0.7560" stop-color="#adff00"/><stop offset="0.7787" stop-color="#90ff00"/><stop offset="0.8063" stop-color="#24ff00"/><stop offset="0.8240" stop-color="#00ff00"/><stop offset="0.8743" stop-color="#00ff42"/><stop offset="0.8994" stop-color="#00ff4d"/><stop offset="0.9145" stop-color="#00ff74"/><stop offset="0.9472" stop-color="#00ffff"/><stop offset="1.0000" stop-color="#0014ff"/></radialGradient>
<radialGradient id="g2_18" gradientUnits="userSpaceOnUse" cx="211.2" cy="837" r="209.6"><stop offset="0.4995" stop-color="#74ff00"/><stop offset="0.5096" stop-color="#85ff00"/><stop offset="0.5297" stop-color="#c8ff00"/><stop offset="0.5473" stop-color="#daff00"/><stop offset="0.6982" stop-color="#c9ff00"/><stop offset="0.7661" stop-color="#acff00"/><stop offset="0.7812" stop-color="#91ff00"/><stop offset="0.8114" stop-color="#1dff00"/><stop offset="0.8265" stop-color="#00ff01"/><stop offset="0.8768" stop-color="#00ff46"/><stop offset="0.9019" stop-color="#00ff53"/><stop offset="0.9170" stop-color="#00ff7b"/><stop offset="0.9472" stop-color="#00fffd"/><stop offset="1.0000" stop-color="#0014ff"/></radialGradient>
<radialGradient id="g2_19" gradientUnits="userSpaceOnUse" cx="211.2" cy="837" r="209.6"><stop offset="0.4995" stop-color="#74ff00"/><stop offset="0.5096" stop-color="#85ff00"/><stop offset="0.5297" stop-color="#c8ff00"/><stop offset="0.5473" stop-color="#daff00"/><stop offset="0.6982" stop-color="#caff00"/><stop offset="0.7711" stop-color="#aaff00"/><stop offset="0.7862" stop-color="#8cff00"/><stop offset="0.8139" stop-color="#1fff00"/><stop offset="0.8290" stop-color="#00ff01"/><stop offset="0.8818" stop-color="#00ff4d"/><stop offset="0.9069" stop-color="#00ff5f"/><stop offset="0.9220" stop-color="#00ff8b"/><stop offset="0.9472" stop-color="#00fffa"/><stop offset="0.9849" stop-color="#0059ff"/><stop offset="1.0000" stop-color="#0014ff"/></radialGradient>
<radialGradient id="g2_20" gradientUnits="userSpaceOnUse" cx="211.2" cy="837" r="209.6"><stop offset="0.4995" stop-color="#75ff00"/><stop offset="0.5096" stop-color="#86ff00"/><stop offset="0.5297" stop-color="#c8ff00"/><stop offset="0.5473" stop-color="#dbff00"/><stop offset="0.7007" stop-color="#caff00"/><stop offset="0.7737" stop-color="#abff00"/><stop offset="0.7887" stop-color="#8fff00"/><stop offset="0.8189" stop-color="#19ff00"/><stop offset="0.8315" stop-color="#00ff02"/><stop offset="0.8868" stop-color="#00ff55"/><stop offset="0.9095" stop-color="#00ff67"/><stop offset="0.9246" stop-color="#00ff93"/><stop offset="0.9497" stop-color="#00fbff"/><stop offset="1.0000" stop-color="#0014ff"/></radialGradient>
<radialGradient id="g2_21" gradientUnits="userSpaceOnUse" cx="211.2" cy="837" r="209.6"><stop offset="0.4995" stop-color="#75ff00"/><stop offset="0.5096" stop-color="#86ff00"/><stop offset="0.5297" stop-color="#c8ff00"/><stop offset="0.5473" stop-color="#dbff00"/><stop offset="0.7007" stop-color="#cbff00"/><stop offset="0.7762" stop-color="#abff00"/><stop offset="0.7913" stop-color="#91ff00"/><stop offset="0.8214" stop-color="#1bff00"/><stop offset="0.8340" stop-color="#00ff02"/><stop offset="0.8919" stop-color="#00ff5d"/><stop offset="0.9145" stop-color="#00ff74"/><stop offset="0.9296" stop-color="#00ffa5"/><stop offset="0.9497" stop-color="#00fdff"/><stop offset="1.0000" stop-color="#0014ff"/></radialGradient>
<radialGradient id="g2_22" gradientUnits="userSpaceOnUse" cx="211.2" cy="837" r="209.6"><stop offset="0.4995" stop-color="#75ff00"/><stop offset="0.5096" stop-color="#86ff00"/><stop offset="0.5297" stop-color="#c9ff00"/><stop offset="0.5473" stop-color="#dbff00"/><stop offset="0.7032" stop-color="#cbff00"/><stop offset="0.7787" stop-color="#abff00"/><stop offset="0.7938" stop-color="#94ff00"/><stop offset="0.8089" stop-color="#5bff00"/><stop offset="0.8265" stop-color="#16ff00"/><stop offset="0.8365" stop-color="#00ff02"/><stop offset="0.8969" stop-color="#00ff66"/><stop offset="0.9195" stop-color="#00ff84"/><stop offset="0.9346" stop-color="#00ffb8"/><stop offset="0.9497" stop-color="#00ffff"/><stop offset="1.0000" stop-color="#0014ff"/></radialGradient>
<radialGradient id="g2_23" gradientUnits="userSpaceOnUse" cx="211.2" cy="837" r="209.6"><stop offset="0.4995" stop-color="#75ff00"/><stop offset="0.5096" stop-color="#86ff00"/><stop offset="0.5297" stop-color="#c9ff00"/><stop offset="0.5473" stop-color="#dbff00"/><stop offset="0.7057" stop-color="#cbff00"/><stop offset="0.7812" stop-color="#abff00"/><stop offset="0.7988" stop-color="#91ff00"/><stop offset="0.8164" stop-color="#4cff00"/><stop offset="0.8340" stop-color="#0bff00"/><stop offset="0.8416" stop-color="#00ff06"/><stop offset="0.9019" stop-color="#00ff71"/><stop offset="0.9220" stop-color="#00ff8d"/><stop offset="0.9371" stop-color="#00ffc1"/><stop offset="0.9497" stop-color="#00fffc"/><stop offset="1.0000" stop-color="#0014ff"/></radialGradient>
<radialGradient id="g2_24" gradientUnits="userSpaceOnUse" cx="211.2" cy="837" r="209.6"><stop offset="0.4995" stop-color="#75ff00"/><stop offset="0.5096" stop-color="#86ff00"/><stop offset="0.5297" stop-color="#c9ff00"/><stop offset="0.5473" stop-color="#dcff00"/><stop offset="0.7057" stop-color="#ccff00"/><stop offset="0.7837" stop-color="#acff00"/><stop offset="0.8013" stop-color="#95ff00"/><stop offset="0.8164" stop-color="#60ff00"/><stop offset="0.8365" stop-color="#0fff00"/><stop offset="0.8441" stop-color="#00ff05"/><stop offset="0.9095" stop-color="#00ff7f"/><stop offset="0.9296" stop-color="#00ffa4"/><stop offset="0.9472" stop-color="#00ffec"/><stop offset="0.9522" stop-color="#00faff"/><stop offset="1.0000" stop-color="#0014ff"/></radialGradient>
<radialGradient id="g2_25" gradientUnits="userSpaceOnUse" cx="211.2" cy="837" r="209.6"><stop offset="0.4995" stop-color="#75ff00"/><stop offset="0.5096" stop-color="#87ff00"/><stop offset="0.5297" stop-color="#c9ff00"/><stop offset="0.5473" stop-color="#dcff00"/><stop offset="0.7083" stop-color="#cdff00"/><stop offset="0.7862" stop-color="#adff00"/><stop offset="0.8063" stop-color="#94ff00"/><stop offset="0.8214" stop-color="#5dff00"/><stop offset="0.8416" stop-color="#0cff00"/><stop offset="0.8491" stop-color="#00ff08"/><stop offset="0.9170" stop-color="#00ff8e"/><stop offset="0.9346" stop-color="#00ffb5"/><stop offset="0.9522" stop-color="#00feff"/><stop offset="1.0000" stop-color="#0014ff"/></radialGradient>
<radialGradient id="g2_26" gradientUnits="userSpaceOnUse" cx="211.2" cy="837" r="209.6"><stop offset="0.4995" stop-color="#79ff00"/><stop offset="0.5096" stop-color="#8aff00"/><stop offset="0.5297" stop-color="#caff00"/><stop offset="0.5473" stop-color="#dcff00"/><stop offset="0.7108" stop-color="#cdff00"/><stop offset="0.7887" stop-color="#aeff00"/><stop offset="0.8089" stop-color="#96ff00"/><stop offset="0.8214" stop-color="#6cff00"/><stop offset="0.8441" stop-color="#0eff00"/><stop offset="0.8491" stop-color="#00ff01"/><stop offset="0.9220" stop-color="#00ff99"/><stop offset="0.9396" stop-color="#00ffc5"/><stop offset="0.9522" stop-color="#00fffd"/><stop offset="1.0000" stop-color="#0014ff"/></radialGradient>
<radialGradient id="g2_27" gradientUnits="userSpaceOnUse" cx="211.2" cy="837" r="209.6"><stop offset="0.4995" stop-color="#91ff00"/><stop offset="0.5121" stop-color="#a5ff00"/><stop offset="0.5322" stop-color="#d3ff00"/><stop offset="0.5599" stop-color="#deff00"/><stop offset="0.7259" stop-color="#caff00"/><stop offset="0.7963" stop-color="#aaff00"/><stop offset="0.8139" stop-color="#8fff00"/><stop offset="0.8290" stop-color="#55ff00"/><stop offset="0.8466" stop-color="#0dff00"/><stop offset="0.8541" stop-color="#00ff08"/><stop offset="0.9044" stop-color="#00ff77"/><stop offset="0.9371" stop-color="#00ffbd"/><stop offset="0.9522" stop-color="#00fffa"/><stop offset="0.9723" stop-color="#00a1ff"/><stop offset="1.0000" stop-color="#0014ff"/></radialGradient>
<radialGradient id="g2_28" gradientUnits="userSpaceOnUse" cx="211.2" cy="837" r="209.6"><stop offset="0.4995" stop-color="#b2ff00"/><stop offset="0.5222" stop-color="#ceff00"/><stop offset="0.5448" stop-color="#deff00"/><stop offset="0.7183" stop-color="#cdff00"/><stop offset="0.7938" stop-color="#aeff00"/><stop offset="0.8139" stop-color="#95ff00"/><stop offset="0.8290" stop-color="#60ff00"/><stop offset="0.8491" stop-color="#0cff00"/><stop offset="0.8566" stop-color="#00ff09"/><stop offset="0.9371" stop-color="#00ffb9"/><stop offset="0.9547" stop-color="#00fbff"/><stop offset="1.0000" stop-color="#0014ff"/></radialGradient>
<radialGradient id="g2_29" gradientUnits="userSpaceOnUse" cx="211.2" cy="837" r="209.6"><stop offset="0.4995" stop-color="#ccff00"/><stop offset="0.5473" stop-color="#dfff00"/><stop offset="0.7259" stop-color="#ccff00"/><stop offset="0.7988" stop-color="#acff00"/><stop offset="0.8189" stop-color="#91ff00"/><stop offset="0.8365" stop-color="#50ff00"/><stop offset="0.8566" stop-color="#05ff00"/><stop offset="0.8843" stop-color="#00ff3b"/><stop offset="0.9321" stop-color="#00ff9e"/><stop offset="0.9472" stop-color="#00ffda"/><stop offset="0.9547" stop-color="#00feff"/><stop offset="1.0000" stop-color="#0014ff"/></radialGradient>
<radialGradient id="g2_30" gradientUnits="userSpaceOnUse" cx="211.2" cy="837" r="209.6"><stop offset="0.4995" stop-color="#d9ff00"/><stop offset="0.6026" stop-color="#ddff00"/><stop offset="0.7460" stop-color="#c8ff00"/><stop offset="0.8089" stop-color="#a6ff00"/><stop offset="0.8290" stop-color="#85ff00"/><stop offset="0.8692" stop-color="#02ff00"/><stop offset="0.9246" stop-color="#00ff74"/><stop offset="0.9422" stop-color="#00ffbb"/><stop offset="0.9547" stop-color="#00fffc"/><stop offset="1.0000" stop-color="#0014ff"/></radialGradient>
<radialGradient id="g2_31" gradientUnits="userSpaceOnUse" cx="211.2" cy="837" r="209.6"><stop offset="0.4995" stop-color="#dfff00"/><stop offset="0.7057" stop-color="#d2ff00"/><stop offset="0.7913" stop-color="#b5ff00"/><stop offset="0.8290" stop-color="#94ff00"/><stop offset="0.8541" stop-color="#5dff00"/><stop offset="0.8919" stop-color="#00ff01"/><stop offset="0.9170" stop-color="#00ff46"/><stop offset="0.9396" stop-color="#00ffa8"/><stop offset="0.9547" stop-color="#00fff9"/><stop offset="0.9623" stop-color="#00deff"/><stop offset="1.0000" stop-color="#0014ff"/></radialGradient>
<radialGradient id="g2_32" gradientUnits="userSpaceOnUse" cx="211.2" cy="837" r="209.6"><stop offset="0.4995" stop-color="#e1ff00"/><stop offset="0.7183" stop-color="#d1ff00"/><stop offset="0.7988" stop-color="#b3ff00"/><stop offset="0.8416" stop-color="#89ff00"/><stop offset="0.8768" stop-color="#45ff00"/><stop offset="0.9019" stop-color="#00ff01"/><stop offset="0.9271" stop-color="#00ff66"/><stop offset="0.9572" stop-color="#00fbff"/><stop offset="1.0000" stop-color="#0014ff"/></radialGradient>
<radialGradient id="g2_33" gradientUnits="userSpaceOnUse" cx="211.2" cy="837" r="209.6"><stop offset="0.4995" stop-color="#e1ff00"/><stop offset="0.7234" stop-color="#d1ff00"/><stop offset="0.8038" stop-color="#b3ff00"/><stop offset="0.8491" stop-color="#86ff00"/><stop offset="0.8818" stop-color="#47ff00"/><stop offset="0.9044" stop-color="#02ff00"/><stop offset="0.9271" stop-color="#00ff5b"/><stop offset="0.9572" stop-color="#00fffb"/><stop offset="1.0000" stop-color="#0014ff"/></radialGradient>
<radialGradient id="g2_34" gradientUnits="userSpaceOnUse" cx="211.2" cy="837" r="209.6"><stop offset="0.4995" stop-color="#e2ff00"/><stop offset="0.7309" stop-color="#d2ff00"/><stop offset="0.8089" stop-color="#b6ff00"/><stop offset="0.8516" stop-color="#8cff00"/><stop offset="0.8818" stop-color="#54ff00"/><stop offset="0.9095" stop-color="#00ff01"/><stop offset="0.9346" stop-color="#00ff71"/><stop offset="0.9598" stop-color="#00ffff"/><stop offset="1.0000" stop-color="#0014ff"/></radialGradient>
<radialGradient id="g2_35" gradientUnits="userSpaceOnUse" cx="211.2" cy="837" r="209.6"><stop offset="0.4995" stop-color="#e2ff00"/><stop offset="0.7359" stop-color="#d3ff00"/><stop offset="0.8139" stop-color="#b7ff00"/><stop offset="0.8566" stop-color="#8dff00"/><stop offset="0.8868" stop-color="#53ff00"/><stop offset="0.9120" stop-color="#03ff00"/><stop offset="0.9296" stop-color="#00ff4a"/><stop offset="0.9572" stop-color="#00ffe6"/><stop offset="0.9623" stop-color="#00f9ff"/><stop offset="1.0000" stop-color="#0014ff"/></radialGradient>
<radialGradient id="g2_36" gradientUnits="userSpaceOnUse" cx="211.2" cy="837" r="209.6"><stop offset="0.4995" stop-color="#e2ff00"/><stop offset="0.7435" stop-color="#d4ff00"/><stop offset="0.8189" stop-color="#b9ff00"/><stop offset="0.8617" stop-color="#8eff00"/><stop offset="0.8919" stop-color="#51ff00"/><stop offset="0.9170" stop-color="#00ff04"/><stop offset="0.9396" stop-color="#00ff72"/><stop offset="0.9623" stop-color="#00fffc"/><stop offset="1.0000" stop-color="#0014ff"/></radialGradient>
<radialGradient id="g2_37" gradientUnits="userSpaceOnUse" cx="211.2" cy="837" r="209.6"><stop offset="0.4995" stop-color="#e3ff00"/><stop offset="0.7485" stop-color="#d5ff00"/><stop offset="0.8240" stop-color="#baff00"/><stop offset="0.8642" stop-color="#92ff00"/><stop offset="0.8919" stop-color="#5cff00"/><stop offset="0.9145" stop-color="#14ff00"/><stop offset="0.9195" stop-color="#00ff01"/><stop offset="0.9422" stop-color="#00ff73"/><stop offset="0.9648" stop-color="#00fbff"/><stop offset="1.0000" stop-color="#0014ff"/></radialGradient>
<radialGradient id="g2_38" gradientUnits="userSpaceOnUse" cx="211.2" cy="837" r="209.6"><stop offset="0.4995" stop-color="#e3ff00"/><stop offset="0.7560" stop-color="#d6ff00"/><stop offset="0.8290" stop-color="#bcff00"/><stop offset="0.8692" stop-color="#94ff00"/><stop offset="0.8969" stop-color="#5bff00"/><stop offset="0.9195" stop-color="#0eff00"/><stop offset="0.9246" stop-color="#00ff08"/><stop offset="0.9447" stop-color="#00ff74"/><stop offset="0.9648" stop-color="#00fff9"/><stop offset="0.9723" stop-color="#00d2ff"/><stop offset="1.0000" stop-color="#0014ff"/></radialGradient>
<radialGradient id="g2_39" gradientUnits="userSpaceOnUse" cx="211.2" cy="837" r="209.6"><stop offset="0.4995" stop-color="#e3ff00"/><stop offset="0.7611" stop-color="#d6ff00"/><stop offset="0.8340" stop-color="#bcff00"/><stop offset="0.8717" stop-color="#96ff00"/><stop offset="0.8994" stop-color="#5dff00"/><stop offset="0.9195" stop-color="#18ff00"/><stop offset="0.9246" stop-color="#02ff00"/><stop offset="0.9422" stop-color="#00ff5b"/><stop offset="0.9673" stop-color="#00faff"/><stop offset="1.0000" stop-color="#0014ff"/></radialGradient>
<radialGradient id="g2_40" gradientUnits="userSpaceOnUse" cx="211.2" cy="837" r="209.6"><stop offset="0.4995" stop-color="#e3ff00"/><stop offset="0.7636" stop-color="#d6ff00"/><stop offset="0.8365" stop-color="#bcff00"/><stop offset="0.8743" stop-color="#93ff00"/><stop offset="0.8994" stop-color="#5dff00"/><stop offset="0.9195" stop-color="#18ff00"/><stop offset="0.9246" stop-color="#02ff00"/><stop offset="0.9422" stop-color="#00ff5c"/><stop offset="0.9648" stop-color="#00fff3"/><stop offset="0.9673" stop-color="#00f9ff"/><stop offset="1.0000" stop-color="#0014ff"/></radialGradient>
<radialGradient id="g2_41" gradientUnits="userSpaceOnUse" cx="211.2" cy="837" r="209.6"><stop offset="0.4995" stop-color="#e3ff00"/><stop offset="0.7636" stop-color="#d7ff00"/><stop offset="0.8365" stop-color="#bdff00"/><stop offset="0.8743" stop-color="#95ff00"/><stop offset="0.8994" stop-color="#60ff00"/><stop offset="0.9195" stop-color="#1aff00"/><stop offset="0.9246" stop-color="#03ff00"/><stop offset="0.9396" stop-color="#00ff4c"/><stop offset="0.9623" stop-color="#00ffe1"/><stop offset="0.9673" stop-color="#00f9ff"/><stop offset="1.0000" stop-color="#0014ff"/></radialGradient>
<radialGradient id="g2_42" gradientUnits="userSpaceOnUse" cx="211.2" cy="837" r="209.6"><stop offset="0.4995" stop-color="#f7ff00"/><stop offset="0.5247" stop-color="#f5ff00"/><stop offset="0.5347" stop-color="#e4ff00"/><stop offset="0.7737" stop-color="#d6ff00"/><stop offset="0.8416" stop-color="#bbff00"/><stop offset="0.8768" stop-color="#92ff00"/><stop offset="0.9019" stop-color="#5aff00"/><stop offset="0.9220" stop-color="#10ff00"/><stop offset="0.9271" stop-color="#00ff08"/><stop offset="0.9472" stop-color="#00ff79"/><stop offset="0.9648" stop-color="#00fff3"/><stop offset="0.9673" stop-color="#00f9ff"/><stop offset="1.0000" stop-color="#0014ff"/></radialGradient>
<radialGradient id="g2_43" gradientUnits="userSpaceOnUse" cx="211.2" cy="837" r="209.6"><stop offset="0.4995" stop-color="#f7ff00"/><stop offset="0.5247" stop-color="#f5ff00"/><stop offset="0.5347" stop-color="#e4ff00"/><stop offset="0.7737" stop-color="#d6ff00"/><stop offset="0.8416" stop-color="#bbff00"/><stop offset="0.8768" stop-color="#93ff00"/><stop offset="0.9019" stop-color="#5aff00"/><stop offset="0.9220" stop-color="#10ff00"/><stop offset="0.9271" stop-color="#00ff07"/><stop offset="0.9472" stop-color="#00ff79"/><stop offset="0.9648" stop-color="#00fff3"/><stop offset="0.9673" stop-color="#00f9ff"/><stop offset="1.0000" stop-color="#0014ff"/></radialGradient>
<radialGradient id="g2_44" gradientUnits="userSpaceOnUse" cx="211.2" cy="837" r="209.6"><stop offset="0.4995" stop-color="#e4ff00"/><stop offset="0.7686" stop-color="#d8ff00"/><stop offset="0.8390" stop-color="#beff00"/><stop offset="0.8768" stop-color="#95ff00"/><stop offset="0.9019" stop-color="#5dff00"/><stop offset="0.9220" stop-color="#12ff00"/><stop offset="0.9271" stop-color="#00ff05"/><stop offset="0.9472" stop-color="#00ff78"/><stop offset="0.9648" stop-color="#00fff2"/><stop offset="0.9673" stop-color="#00faff"/><stop offset="1.0000" stop-color="#0014ff"/></radialGradient>
<radialGradient id="g2_45" gradientUnits="userSpaceOnUse" cx="211.2" cy="837" r="209.6"><stop offset="0.4995" stop-color="#e4ff00"/><stop offset="0.7762" stop-color="#d9ff00"/><stop offset="0.8441" stop-color="#c0ff00"/><stop offset="0.8793" stop-color="#97ff00"/><stop offset="0.9019" stop-color="#63ff00"/><stop offset="0.9220" stop-color="#18ff00"/><stop offset="0.9271" stop-color="#00ff00"/><stop offset="0.9472" stop-color="#00ff76"/><stop offset="0.9673" stop-color="#00faff"/><stop offset="1.0000" stop-color="#0014ff"/></radialGradient>
<radialGradient id="g2_46" gradientUnits="userSpaceOnUse" cx="211.2" cy="837" r="209.6"><stop offset="0.4995" stop-color="#f8ff00"/><stop offset="0.5347" stop-color="#fffd00"/><stop offset="0.5423" stop-color="#e6ff00"/><stop offset="0.7938" stop-color="#d7ff00"/><stop offset="0.8516" stop-color="#bdff00"/><stop offset="0.8843" stop-color="#93ff00"/><stop offset="0.9069" stop-color="#58ff00"/><stop offset="0.9271" stop-color="#03ff00"/><stop offset="0.9422" stop-color="#00ff53"/><stop offset="0.9673" stop-color="#00fbff"/><stop offset="1.0000" stop-color="#0014ff"/></radialGradient>
<radialGradient id="g2_47" gradientUnits="userSpaceOnUse" cx="211.2" cy="837" r="209.6"><stop offset="0.4995" stop-color="#f8ff00"/><stop offset="0.5549" stop-color="#e4ff00"/><stop offset="0.7913" stop-color="#d8ff00"/><stop offset="0.8516" stop-color="#bfff00"/><stop offset="0.8843" stop-color="#95ff00"/><stop offset="0.9069" stop-color="#5aff00"/><stop offset="0.9271" stop-color="#05ff00"/><stop offset="0.9371" stop-color="#00ff33"/><stop offset="0.9623" stop-color="#00ffde"/><stop offset="0.9673" stop-color="#00fbff"/><stop offset="1.0000" stop-color="#0014ff"/></radialGradient>
<radialGradient id="g2_48" gradientUnits="userSpaceOnUse" cx="211.2" cy="837" r="209.6"><stop offset="0.4995" stop-color="#e4ff00"/><stop offset="0.7913" stop-color="#dbff00"/><stop offset="0.8516" stop-color="#c4ff00"/><stop offset="0.8818" stop-color="#a0ff00"/><stop offset="0.9044" stop-color="#69ff00"/><stop offset="0.9220" stop-color="#23ff00"/><stop offset="0.9296" stop-color="#00ff04"/><stop offset="0.9497" stop-color="#00ff82"/><stop offset="0.9673" stop-color="#00fcff"/><stop offset="1.0000" stop-color="#0014ff"/></radialGradient>
<radialGradient id="g2_49" gradientUnits="userSpaceOnUse" cx="211.2" cy="837" r="209.6"><stop offset="0.4995" stop-color="#e5ff00"/><stop offset="0.8063" stop-color="#dcff00"/><stop offset="0.8592" stop-color="#c6ff00"/><stop offset="0.8868" stop-color="#a2ff00"/><stop offset="0.9069" stop-color="#6cff00"/><stop offset="0.9246" stop-color="#20ff00"/><stop offset="0.9296" stop-color="#04ff00"/><stop offset="0.9422" stop-color="#00ff4a"/><stop offset="0.9673" stop-color="#00fdff"/><stop offset="1.0000" stop-color="#0014ff"/></radialGradient>
<radialGradient id="g2_50" gradientUnits="userSpaceOnUse" cx="211.2" cy="837" r="209.6"><stop offset="0.4995" stop-color="#e5ff00"/><stop offset="0.8164" stop-color="#ddff00"/><stop offset="0.8667" stop-color="#c7ff00"/><stop offset="0.8919" stop-color="#a2ff00"/><stop offset="0.9095" stop-color="#70ff00"/><stop offset="0.9271" stop-color="#1eff00"/><stop offset="0.9321" stop-color="#00ff00"/><stop offset="0.9547" stop-color="#00ff9c"/><stop offset="0.9673" stop-color="#00fffd"/><stop offset="1.0000" stop-color="#0014ff"/></radialGradient>
<radialGradient id="g2_51" gradientUnits="userSpaceOnUse" cx="211.2" cy="837" r="209.6"><stop offset="0.4995" stop-color="#e5ff00"/><stop offset="0.8265" stop-color="#ddff00"/><stop offset="0.8717" stop-color="#c8ff00"/><stop offset="0.8969" stop-color="#a2ff00"/><stop offset="0.9145" stop-color="#69ff00"/><stop offset="0.9321" stop-color="#0eff00"/><stop offset="0.9346" stop-color="#00ff02"/><stop offset="0.9572" stop-color="#00ffa6"/><stop offset="0.9673" stop-color="#00fff6"/><stop offset="0.9698" stop-color="#00f5ff"/><stop offset="1.0000" stop-color="#0014ff"/></radialGradient>
<radialGradient id="g2_52" gradientUnits="userSpaceOnUse" cx="211.2" cy="837" r="209.6"><stop offset="0.4995" stop-color="#e5ff00"/><stop offset="0.8340" stop-color="#deff00"/><stop offset="0.8768" stop-color="#c9ff00"/><stop offset="0.8994" stop-color="#a6ff00"/><stop offset="0.9170" stop-color="#6cff00"/><stop offset="0.9321" stop-color="#1cff00"/><stop offset="0.9371" stop-color="#00ff05"/><stop offset="0.9623" stop-color="#00ffc5"/><stop offset="0.9698" stop-color="#00fbff"/><stop offset="1.0000" stop-color="#0014ff"/></radialGradient>
<radialGradient id="g2_53" gradientUnits="userSpaceOnUse" cx="211.2" cy="837" r="209.6"><stop offset="0.4995" stop-color="#f8ff00"/><stop offset="0.5247" stop-color="#fffb00"/><stop offset="0.5347" stop-color="#e6ff00"/><stop offset="0.8416" stop-color="#deff00"/><stop offset="0.8818" stop-color="#c9ff00"/><stop offset="0.9019" stop-color="#a8ff00"/><stop offset="0.9170" stop-color="#77ff00"/><stop offset="0.9321" stop-color="#28ff00"/><stop offset="0.9371" stop-color="#07ff00"/><stop offset="0.9422" stop-color="#00ff1c"/><stop offset="0.9698" stop-color="#00fffc"/><stop offset="1.0000" stop-color="#0014ff"/></radialGradient>
<radialGradient id="g2_54" gradientUnits="userSpaceOnUse" cx="211.2" cy="837" r="209.6"><stop offset="0.4995" stop-color="#f8ff00"/><stop offset="0.5398" stop-color="#e5ff00"/><stop offset="0.8466" stop-color="#ddff00"/><stop offset="0.8843" stop-color="#c9ff00"/><stop offset="0.9044" stop-color="#a7ff00"/><stop offset="0.9195" stop-color="#73ff00"/><stop offset="0.9346" stop-color="#21ff00"/><stop offset="0.9396" stop-color="#00ff02"/><stop offset="0.9648" stop-color="#00ffcc"/><stop offset="0.9698" stop-color="#00fff8"/><stop offset="0.9749" stop-color="#00ddff"/><stop offset="1.0000" stop-color="#0014ff"/></radialGradient>
<radialGradient id="g2_55" gradientUnits="userSpaceOnUse" cx="211.2" cy="837" r="209.6"><stop offset="0.4995" stop-color="#e5ff00"/><stop offset="0.8516" stop-color="#deff00"/><stop offset="0.8893" stop-color="#c9ff00"/><stop offset="0.9095" stop-color="#a3ff00"/><stop offset="0.9246" stop-color="#68ff00"/><stop offset="0.9396" stop-color="#0bff00"/><stop offset="0.9422" stop-color="#00ff07"/><stop offset="0.9673" stop-color="#00ffda"/><stop offset="0.9723" stop-color="#00f8ff"/><stop offset="1.0000" stop-color="#0014ff"/></radialGradient>
<radialGradient id="g2_56" gradientUnits="userSpaceOnUse" cx="211.2" cy="837" r="209.6"><stop offset="0.4995" stop-color="#e5ff00"/><stop offset="0.8592" stop-color="#dfff00"/><stop offset="0.8944" stop-color="#caff00"/><stop offset="0.9120" stop-color="#a9ff00"/><stop offset="0.9246" stop-color="#7aff00"/><stop offset="0.9371" stop-color="#30ff00"/><stop offset="0.9422" stop-color="#0cff00"/><stop offset="0.9447" stop-color="#00ff08"/><stop offset="0.9723" stop-color="#00fffd"/><stop offset="1.0000" stop-color="#0014ff"/></radialGradient>
<radialGradient id="g2_57" gradientUnits="userSpaceOnUse" cx="211.2" cy="837" r="209.6"><stop offset="0.4995" stop-color="#e5ff00"/><stop offset="0.8667" stop-color="#dfff00"/><stop offset="0.8994" stop-color="#ccff00"/><stop offset="0.9170" stop-color="#a7ff00"/><stop offset="0.9296" stop-color="#72ff00"/><stop offset="0.9422" stop-color="#1fff00"/><stop offset="0.9447" stop-color="#0bff00"/><stop offset="0.9472" stop-color="#00ff0a"/><stop offset="0.9723" stop-color="#00fff2"/><stop offset="0.9749" stop-color="#00f4ff"/><stop offset="1.0000" stop-color="#0014ff"/></radialGradient>
<radialGradient id="g2_58" gradientUnits="userSpaceOnUse" cx="211.2" cy="837" r="209.6"><stop offset="0.4995" stop-color="#e5ff00"/><stop offset="0.8768" stop-color="#dfff00"/><stop offset="0.9044" stop-color="#ccff00"/><stop offset="0.9195" stop-color="#acff00"/><stop offset="0.9321" stop-color="#75ff00"/><stop offset="0.9447" stop-color="#1dff00"/><stop offset="0.9472" stop-color="#08ff00"/><stop offset="0.9522" stop-color="#00ff25"/><stop offset="0.9749" stop-color="#00fdff"/><stop offset="1.0000" stop-color="#0014ff"/></radialGradient>
<radialGradient id="g2_59" gradientUnits="userSpaceOnUse" cx="211.2" cy="837" r="209.6"><stop offset="0.4995" stop-color="#e5ff00"/><stop offset="0.8818" stop-color="#dfff00"/><stop offset="0.9095" stop-color="#ccff00"/><stop offset="0.9246" stop-color="#a7ff00"/><stop offset="0.9346" stop-color="#76ff00"/><stop offset="0.9472" stop-color="#18ff00"/><stop offset="0.9497" stop-color="#02ff00"/><stop offset="0.9723" stop-color="#00ffdf"/><stop offset="0.9749" stop-color="#00fff9"/><stop offset="0.9874" stop-color="#008cff"/><stop offset="1.0000" stop-color="#0014ff"/></radialGradient>
<radialGradient id="g2_60" gradientUnits="userSpaceOnUse" cx="211.2" cy="837" r="209.6"><stop offset="0.4995" stop-color="#e5ff00"/><stop offset="0.8893" stop-color="#dfff00"/><stop offset="0.9145" stop-color="#cbff00"/><stop offset="0.9271" stop-color="#a9ff00"/><stop offset="0.9371" stop-color="#75ff00"/><stop offset="0.9497" stop-color="#11ff00"/><stop offset="0.9522" stop-color="#00ff07"/><stop offset="0.9749" stop-color="#00fff2"/><stop offset="0.9774" stop-color="#00f2ff"/><stop offset="1.0000" stop-color="#0014ff"/></radialGradient>
<radialGradient id="g2_61" gradientUnits="userSpaceOnUse" cx="211.2" cy="837" r="209.6"><stop offset="0.4995" stop-color="#e5ff00"/><stop offset="0.8944" stop-color="#e0ff00"/><stop offset="0.9170" stop-color="#ccff00"/><stop offset="0.9296" stop-color="#a7ff00"/><stop offset="0.9396" stop-color="#6dff00"/><stop offset="0.9522" stop-color="#00ff01"/><stop offset="0.9749" stop-color="#00ffef"/><stop offset="0.9774" stop-color="#00f5ff"/><stop offset="1.0000" stop-color="#0014ff"/></radialGradient>
<radialGradient id="g2_62" gradientUnits="userSpaceOnUse" cx="211.2" cy="837" r="209.6"><stop offset="0.4995" stop-color="#f8ff00"/><stop offset="0.5196" stop-color="#fffa00"/><stop offset="0.5297" stop-color="#e6ff00"/><stop offset="0.8969" stop-color="#e0ff00"/><stop offset="0.9170" stop-color="#ceff00"/><stop offset="0.9296" stop-color="#a9ff00"/><stop offset="0.9396" stop-color="#6dff00"/><stop offset="0.9522" stop-color="#00ff02"/><stop offset="0.9749" stop-color="#00fff0"/><stop offset="0.9774" stop-color="#00f4ff"/><stop offset="1.0000" stop-color="#0014ff"/></radialGradient>
<radialGradient id="g2_63" gradientUnits="userSpaceOnUse" cx="211.2" cy="837" r="209.6"><stop offset="0.4995" stop-color="#f8ff00"/><stop offset="0.5322" stop-color="#e5ff00"/><stop offset="0.8969" stop-color="#e0ff00"/><stop offset="0.9170" stop-color="#ceff00"/><stop offset="0.9296" stop-color="#a9ff00"/><stop offset="0.9396" stop-color="#6dff00"/><stop offset="0.9522" stop-color="#00ff03"/><stop offset="0.9749" stop-color="#00fff1"/><stop offset="0.9774" stop-color="#00f3ff"/><stop offset="1.0000" stop-color="#0014ff"/></radialGradient>
<radialGradient id="g2_64" gradientUnits="userSpaceOnUse" cx="211.2" cy="837" r="209.6"><stop offset="0.4995" stop-color="#e5ff00"/><stop offset="0.8994" stop-color="#dfff00"/><stop offset="0.9195" stop-color="#caff00"/><stop offset="0.9296" stop-color="#a8ff00"/><stop offset="0.9396" stop-color="#6aff00"/><stop offset="0.9497" stop-color="#11ff00"/><stop offset="0.9522" stop-color="#00ff08"/><stop offset="0.9749" stop-color="#00fff4"/><stop offset="0.9774" stop-color="#00f1ff"/><stop offset="1.0000" stop-color="#0014ff"/></radialGradient>
<radialGradient id="g2_65" gradientUnits="userSpaceOnUse" cx="211.2" cy="837" r="209.6"><stop offset="0.4995" stop-color="#e5ff00"/><stop offset="0.8969" stop-color="#e0ff00"/><stop offset="0.9170" stop-color="#cdff00"/><stop offset="0.9271" stop-color="#aeff00"/><stop offset="0.9371" stop-color="#74ff00"/><stop offset="0.9497" stop-color="#07ff00"/><stop offset="0.9547" stop-color="#00ff2b"/><stop offset="0.9749" stop-color="#00fffa"/><stop offset="0.9899" stop-color="#0074ff"/><stop offset="1.0000" stop-color="#0014ff"/></radialGradient>
<radialGradient id="g2_66" gradientUnits="userSpaceOnUse" cx="211.2" cy="837" r="209.6"><stop offset="0.4995" stop-color="#e5ff00"/><stop offset="0.8944" stop-color="#e0ff00"/><stop offset="0.9145" stop-color="#cfff00"/><stop offset="0.9271" stop-color="#a9ff00"/><stop offset="0.9371" stop-color="#6cff00"/><stop offset="0.9497" stop-color="#00ff02"/><stop offset="0.9749" stop-color="#00fffe"/><stop offset="1.0000" stop-color="#0014ff"/></radialGradient>
<radialGradient id="g2_67" gradientUnits="userSpaceOnUse" cx="211.2" cy="837" r="209.6"><stop offset="0.4995" stop-color="#f8ff00"/><stop offset="0.5196" stop-color="#fffa00"/><stop offset="0.5297" stop-color="#e6ff00"/><stop offset="0.8868" stop-color="#e3ff00"/><stop offset="0.9120" stop-color="#d3ff00"/><stop offset="0.9246" stop-color="#b2ff00"/><stop offset="0.9346" stop-color="#7cff00"/><stop offset="0.9497" stop-color="#00ff03"/><stop offset="0.9749" stop-color="#00ffff"/><stop offset="1.0000" stop-color="#0014ff"/></radialGradient>
<radialGradient id="g2_68" gradientUnits="userSpaceOnUse" cx="211.2" cy="837" r="209.6"><stop offset="0.4995" stop-color="#f8ff00"/><stop offset="0.5322" stop-color="#e5ff00"/><stop offset="0.8818" stop-color="#e4ff00"/><stop offset="0.9120" stop-color="#d3ff00"/><stop offset="0.9246" stop-color="#b2ff00"/><stop offset="0.9346" stop-color="#7cff00"/><stop offset="0.9497" stop-color="#00ff04"/><stop offset="0.9749" stop-color="#00ffff"/><stop offset="1.0000" stop-color="#0014ff"/></radialGradient>
<radialGradient id="g2_69" gradientUnits="userSpaceOnUse" cx="211.2" cy="837" r="209.6"><stop offset="0.4995" stop-color="#e5ff00"/><stop offset="0.7938" stop-color="#eaff00"/><stop offset="0.8843" stop-color="#e6ff00"/><stop offset="0.9120" stop-color="#d3ff00"/><stop offset="0.9246" stop-color="#b2ff00"/><stop offset="0.9346" stop-color="#7cff00"/><stop offset="0.9497" stop-color="#00ff03"/><stop offset="0.9749" stop-color="#00ffff"/><stop offset="1.0000" stop-color="#0014ff"/></radialGradient>
<radialGradient id="g2_70" gradientUnits="userSpaceOnUse" cx="211.2" cy="837" r="209.6"><stop offset="0.4995" stop-color="#e5ff00"/><stop offset="0.7410" stop-color="#eaff00"/><stop offset="0.8768" stop-color="#eaff00"/><stop offset="0.9095" stop-color="#d7ff00"/><stop offset="0.9220" stop-color="#bcff00"/><stop offset="0.9321" stop-color="#8dff00"/><stop offset="0.9422" stop-color="#42ff00"/><stop offset="0.9497" stop-color="#00ff03"/><stop offset="0.9749" stop-color="#00ffff"/><stop offset="1.0000" stop-color="#0014ff"/></radialGradient>
<radialGradient id="g2_71" gradientUnits="userSpaceOnUse" cx="211.2" cy="837" r="209.6"><stop offset="0.4995" stop-color="#e6ff00"/><stop offset="0.5322" stop-color="#eaff00"/><stop offset="0.6152" stop-color="#e5ff00"/><stop offset="0.8592" stop-color="#edff00"/><stop offset="0.9044" stop-color="#dcff00"/><stop offset="0.9195" stop-color="#c3ff00"/><stop offset="0.9296" stop-color="#9bff00"/><stop offset="0.9396" stop-color="#57ff00"/><stop offset="0.9497" stop-color="#00ff03"/><stop offset="0.9749" stop-color="#00ffff"/><stop offset="1.0000" stop-color="#0014ff"/></radialGradient>
<radialGradient id="g2_72" gradientUnits="userSpaceOnUse" cx="211.2" cy="837" r="209.6"><stop offset="0.4995" stop-color="#fcff00"/><stop offset="0.5297" stop-color="#fffb00"/><stop offset="0.5423" stop-color="#e6ff00"/><stop offset="0.7334" stop-color="#eaff00"/><stop offset="0.8768" stop-color="#eaff00"/><stop offset="0.9095" stop-color="#d7ff00"/><stop offset="0.9220" stop-color="#bcff00"/><stop offset="0.9321" stop-color="#8dff00"/><stop offset="0.9422" stop-color="#42ff00"/><stop offset="0.9497" stop-color="#00ff03"/><stop offset="0.9749" stop-color="#00ffff"/><stop offset="1.0000" stop-color="#0014ff"/></radialGradient>
<radialGradient id="g2_73" gradientUnits="userSpaceOnUse" cx="211.2" cy="837" r="209.6"><stop offset="0.4995" stop-color="#fcff00"/><stop offset="0.5498" stop-color="#e5ff00"/><stop offset="0.7435" stop-color="#ebff00"/><stop offset="0.8768" stop-color="#eaff00"/><stop offset="0.9095" stop-color="#d7ff00"/><stop offset="0.9220" stop-color="#bcff00"/><stop offset="0.9321" stop-color="#8dff00"/><stop offset="0.9422" stop-color="#42ff00"/><stop offset="0.9497" stop-color="#00ff03"/><stop offset="0.9749" stop-color="#00ffff"/><stop offset="1.0000" stop-color="#0014ff"/></radialGradient>
<radialGradient id="g2_74" gradientUnits="userSpaceOnUse" cx="211.2" cy="837" r="209.6"><stop offset="0.4995" stop-color="#e5ff00"/><stop offset="0.7535" stop-color="#eaff00"/><stop offset="0.8768" stop-color="#eaff00"/><stop offset="0.9095" stop-color="#d7ff00"/><stop offset="0.9220" stop-color="#bcff00"/><stop offset="0.9321" stop-color="#8dff00"/><stop offset="0.9422" stop-color="#42ff00"/><stop offset="0.9497" stop-color="#00ff03"/><stop offset="0.9749" stop-color="#00ffff"/><stop offset="1.0000" stop-color="#0014ff"/></radialGradient>
<radialGradient id="g2_75" gradientUnits="userSpaceOnUse" cx="211.2" cy="837" r="209.6"><stop offset="0.4995" stop-color="#e5ff00"/><stop offset="0.7259" stop-color="#ebff00"/><stop offset="0.8768" stop-color="#eaff00"/><stop offset="0.9095" stop-color="#d7ff00"/><stop offset="0.9220" stop-color="#bcff00"/><stop offset="0.9321" stop-color="#8dff00"/><stop offset="0.9422" stop-color="#42ff00"/><stop offset="0.9497" stop-color="#00ff03"/><stop offset="0.9749" stop-color="#00ffff"/><stop offset="1.0000" stop-color="#0014ff"/></radialGradient>
<radialGradient id="g3_0" gradientUnits="userSpaceOnUse" cx="211.2" cy="1107" r="209.6"><stop offset="0.4995" stop-color="#aeff00"/><stop offset="0.6655" stop-color="#96ff00"/><stop offset="0.7259" stop-color="#7aff00"/><stop offset="0.7460" stop-color="#53ff00"/><stop offset="0.7737" stop-color="#0eff00"/><stop offset="0.7862" stop-color="#00ff04"/><stop offset="0.8566" stop-color="#00ff54"/><stop offset="0.8818" stop-color="#00ff6d"/><stop offset="0.9069" stop-color="#00ffaf"/><stop offset="0.9321" stop-color="#00fbff"/><stop offset="1.0000" stop-color="#0014ff"/></radialGradient>
<radialGradient id="g3_1" gradientUnits="userSpaceOnUse" cx="211.2" cy="1107" r="209.6"><stop offset="0.4995" stop-color="#afff00"/><stop offset="0.6680" stop-color="#97ff00"/><stop offset="0.7259" stop-color="#7dff00"/><stop offset="0.7460" stop-color="#57ff00"/><stop offset="0.7737" stop-color="#12ff00"/><stop offset="0.7887" stop-color="#00ff02"/><stop offset="0.8566" stop-color="#00ff4e"/><stop offset="0.8818" stop-color="#00ff66"/><stop offset="0.9044" stop-color="#00ffa1"/><stop offset="0.9321" stop-color="#00ffff"/><stop offset="1.0000" stop-color="#0014ff"/></radialGradient>
<radialGradient id="g3_2" gradientUnits="userSpaceOnUse" cx="211.2" cy="1107" r="209.6"><stop offset="0.4995" stop-color="#b0ff00"/><stop offset="0.6705" stop-color="#99ff00"/><stop offset="0.7259" stop-color="#81ff00"/><stop offset="0.7460" stop-color="#5aff00"/><stop offset="0.7737" stop-color="#16ff00"/><stop offset="0.7938" stop-color="#00ff03"/><stop offset="0.8566" stop-color="#00ff47"/><stop offset="0.8818" stop-color="#00ff5f"/><stop offset="0.9044" stop-color="#00ff9a"/><stop offset="0.9346" stop-color="#00fcff"/><stop offset="1.0000" stop-color="#0014ff"/></radialGradient>
<radialGradient id="g3_3" gradientUnits="userSpaceOnUse" cx="211.2" cy="1107" r="209.6"><stop offset="0.4995" stop-color="#b0ff00"/><stop offset="0.6580" stop-color="#9bff00"/><stop offset="0.6957" stop-color="#8bff00"/><stop offset="0.7284" stop-color="#7fff00"/><stop offset="0.7485" stop-color="#57ff00"/><stop offset="0.7737" stop-color="#19ff00"/><stop offset="0.7963" stop-color="#00ff04"/><stop offset="0.8566" stop-color="#00ff46"/><stop offset="0.8818" stop-color="#00ff5d"/><stop offset="0.9044" stop-color="#00ff97"/><stop offset="0.9346" stop-color="#00feff"/><stop offset="1.0000" stop-color="#0014ff"/></radialGradient>
<radialGradient id="g3_4" gradientUnits="userSpaceOnUse" cx="211.2" cy="1107" r="209.6"><stop offset="0.4995" stop-color="#b0ff00"/><stop offset="0.6353" stop-color="#9fff00"/><stop offset="0.6655" stop-color="#85ff00"/><stop offset="0.6856" stop-color="#67ff00"/><stop offset="0.7309" stop-color="#7aff00"/><stop offset="0.7435" stop-color="#65ff00"/><stop offset="0.7737" stop-color="#1aff00"/><stop offset="0.7963" stop-color="#00ff04"/><stop offset="0.8566" stop-color="#00ff47"/><stop offset="0.8818" stop-color="#00ff5d"/><stop offset="0.9044" stop-color="#00ff96"/><stop offset="0.9346" stop-color="#00ffff"/><stop offset="1.0000" stop-color="#0014ff"/></radialGradient>
<radialGradient id="g3_5" gradientUnits="userSpaceOnUse" cx="211.2" cy="1107" r="209.6"><stop offset="0.4995" stop-color="#b0ff00"/><stop offset="0.6228" stop-color="#a0ff00"/><stop offset="0.6806" stop-color="#4aff00"/><stop offset="0.7133" stop-color="#4cff00"/><stop offset="0.7460" stop-color="#61ff00"/><stop offset="0.7737" stop-color="#1bff00"/><stop offset="0.7963" stop-color="#00ff03"/><stop offset="0.8592" stop-color="#00ff48"/><stop offset="0.8843" stop-color="#00ff61"/><stop offset="0.9069" stop-color="#00ff9d"/><stop offset="0.9346" stop-color="#00ffff"/><stop offset="1.0000" stop-color="#0014ff"/></radialGradient>
<radialGradient id="g3_6" gradientUnits="userSpaceOnUse" cx="211.2" cy="1107" r="209.6"><stop offset="0.4995" stop-color="#b0ff00"/><stop offset="0.6152" stop-color="#a2ff00"/><stop offset="0.6278" stop-color="#8eff00"/><stop offset="0.6454" stop-color="#5aff00"/><stop offset="0.6655" stop-color="#4fff00"/><stop offset="0.6881" stop-color="#63ff00"/><stop offset="0.7309" stop-color="#38ff00"/><stop offset="0.7435" stop-color="#3fff00"/><stop offset="0.7535" stop-color="#4eff00"/><stop offset="0.7787" stop-color="#14ff00"/><stop offset="0.7988" stop-color="#00ff05"/><stop offset="0.8592" stop-color="#00ff48"/><stop offset="0.8843" stop-color="#00ff60"/><stop offset="0.9069" stop-color="#00ff9c"/><stop offset="0.9346" stop-color="#00fffe"/><stop offset="1.0000" stop-color="#0014ff"/></radialGradient>
<radialGradient id="g3_7" gradientUnits="userSpaceOnUse" cx="211.2" cy="1107" r="209.6"><stop offset="0.4995" stop-color="#b0ff00"/><stop offset="0.6077" stop-color="#a4ff00"/><stop offset="0.6228" stop-color="#89ff00"/><stop offset="0.6404" stop-color="#54ff00"/><stop offset="0.6479" stop-color="#55ff00"/><stop offset="0.6856" stop-color="#88ff00"/><stop offset="0.7208" stop-color="#68ff00"/><stop offset="0.7309" stop-color="#52ff00"/><stop offset="0.7435" stop-color="#34ff00"/><stop offset="0.7560" stop-color="#37ff00"/><stop offset="0.7611" stop-color="#3bff00"/><stop offset="0.7837" stop-color="#0dff00"/><stop offset="0.8013" stop-color="#00ff07"/><stop offset="0.8592" stop-color="#00ff47"/><stop offset="0.8843" stop-color="#00ff5f"/><stop offset="0.9069" stop-color="#00ff9b"/><stop offset="0.9346" stop-color="#00fffd"/><stop offset="1.0000" stop-color="#0014ff"/></radialGradient>
<radialGradient id="g3_8" gradientUnits="userSpaceOnUse" cx="211.2" cy="1107" r="209.6"><stop offset="0.4995" stop-color="#b1ff00"/><stop offset="0.6001" stop-color="#a5ff00"/><stop offset="0.6152" stop-color="#8cff00"/><stop offset="0.6328" stop-color="#56ff00"/><stop offset="0.6404" stop-color="#56ff00"/><stop offset="0.6630" stop-color="#90ff00"/><stop offset="0.6957" stop-color="#92ff00"/><stop offset="0.7259" stop-color="#7dff00"/><stop offset="0.7460" stop-color="#48ff00"/><stop offset="0.7586" stop-color="#2bff00"/><stop offset="0.7711" stop-color="#25ff00"/><stop offset="0.7963" stop-color="#00ff00"/><stop offset="0.8617" stop-color="#00ff48"/><stop offset="0.8868" stop-color="#00ff63"/><stop offset="0.9095" stop-color="#00ffa2"/><stop offset="0.9346" stop-color="#00fffb"/><stop offset="1.0000" stop-color="#0014ff"/></radialGradient>
<radialGradient id="g3_9" gradientUnits="userSpaceOnUse" cx="211.2" cy="1107" r="209.6"><stop offset="0.4995" stop-color="#b1ff00"/><stop offset="0.5951" stop-color="#a4ff00"/><stop offset="0.6077" stop-color="#8eff00"/><stop offset="0.6253" stop-color="#58ff00"/><stop offset="0.6328" stop-color="#57ff00"/><stop offset="0.6555" stop-color="#92ff00"/><stop offset="0.6756" stop-color="#9aff00"/><stop offset="0.7309" stop-color="#82ff00"/><stop offset="0.7510" stop-color="#5cff00"/><stop offset="0.7711" stop-color="#24ff00"/><stop offset="0.7988" stop-color="#00ff02"/><stop offset="0.8617" stop-color="#00ff48"/><stop offset="0.8868" stop-color="#00ff62"/><stop offset="0.9095" stop-color="#00ffa0"/><stop offset="0.9371" stop-color="#00fbff"/><stop offset="1.0000" stop-color="#0014ff"/></radialGradient>
<radialGradient id="g3_10" gradientUnits="userSpaceOnUse" cx="211.2" cy="1107" r="209.6"><stop offset="0.4995" stop-color="#b1ff00"/><stop offset="0.5901" stop-color="#a6ff00"/><stop offset="0.6026" stop-color="#8aff00"/><stop offset="0.6177" stop-color="#5aff00"/><stop offset="0.6253" stop-color="#58ff00"/><stop offset="0.6504" stop-color="#97ff00"/><stop offset="0.6756" stop-color="#9bff00"/><stop offset="0.7309" stop-color="#84ff00"/><stop offset="0.7510" stop-color="#5eff00"/><stop offset="0.7787" stop-color="#1aff00"/><stop offset="0.8013" stop-color="#00ff03"/><stop offset="0.8617" stop-color="#00ff47"/><stop offset="0.8868" stop-color="#00ff60"/><stop offset="0.9095" stop-color="#00ff9e"/><stop offset="0.9371" stop-color="#00fcff"/><stop offset="1.0000" stop-color="#0014ff"/></radialGradient>
<radialGradient id="g3_11" gradientUnits="userSpaceOnUse" cx="211.2" cy="1107" r="209.6"><stop offset="0.4995" stop-color="#b1ff00"/><stop offset="0.5850" stop-color="#a8ff00"/><stop offset="0.5976" stop-color="#90ff00"/><stop offset="0.6127" stop-color="#5bff00"/><stop offset="0.6202" stop-color="#5aff00"/><stop offset="0.6404" stop-color="#94ff00"/><stop offset="0.6580" stop-color="#9fff00"/><stop offset="0.7284" stop-color="#87ff00"/><stop offset="0.7485" stop-color="#67ff00"/><stop offset="0.7787" stop-color="#1bff00"/><stop offset="0.8013" stop-color="#00ff02"/><stop offset="0.8642" stop-color="#00ff47"/><stop offset="0.8868" stop-color="#00ff5f"/><stop offset="0.9095" stop-color="#00ff9c"/><stop offset="0.9371" stop-color="#00feff"/><stop offset="1.0000" stop-color="#0014ff"/></radialGradient>
<radialGradient id="g3_12" gradientUnits="userSpaceOnUse" cx="211.2" cy="1107" r="209.6"><stop offset="0.4995" stop-color="#b1ff00"/><stop offset="0.5825" stop-color="#a7ff00"/><stop offset="0.5951" stop-color="#8eff00"/><stop offset="0.6102" stop-color="#5aff00"/><stop offset="0.6177" stop-color="#5cff00"/><stop offset="0.6378" stop-color="#99ff00"/><stop offset="0.6580" stop-color="#a0ff00"/><stop offset="0.7309" stop-color="#86ff00"/><stop offset="0.7510" stop-color="#62ff00"/><stop offset="0.7787" stop-color="#1dff00"/><stop offset="0.8038" stop-color="#00ff03"/><stop offset="0.8642" stop-color="#00ff46"/><stop offset="0.8868" stop-color="#00ff5d"/><stop offset="0.9069" stop-color="#00ff92"/><stop offset="0.9371" stop-color="#00ffff"/><stop offset="1.0000" stop-color="#0014ff"/></radialGradient>
<radialGradient id="g3_13" gradientUnits="userSpaceOnUse" cx="211.2" cy="1107" r="209.6"><stop offset="0.4995" stop-color="#b1ff00"/><stop offset="0.5800" stop-color="#a7ff00"/><stop offset="0.5926" stop-color="#8cff00"/><stop offset="0.6052" stop-color="#5eff00"/><stop offset="0.6127" stop-color="#5aff00"/><stop offset="0.6328" stop-color="#97ff00"/><stop offset="0.6479" stop-color="#a2ff00"/><stop offset="0.7284" stop-color="#89ff00"/><stop offset="0.7485" stop-color="#6bff00"/><stop offset="0.7787" stop-color="#1fff00"/><stop offset="0.8038" stop-color="#00ff01"/><stop offset="0.8642" stop-color="#00ff45"/><stop offset="0.8893" stop-color="#00ff60"/><stop offset="0.9120" stop-color="#00ffa0"/><stop offset="0.9371" stop-color="#00fffd"/><stop offset="1.0000" stop-color="#0014ff"/></radialGradient>
<radialGradient id="g3_14" gradientUnits="userSpaceOnUse" cx="211.2" cy="1107" r="209.6"><stop offset="0.4995" stop-color="#b2ff00"/><stop offset="0.5750" stop-color="#a9ff00"/><stop offset="0.5875" stop-color="#92ff00"/><stop offset="0.6026" stop-color="#5dff00"/><stop offset="0.6102" stop-color="#5cff00"/><stop offset="0.6303" stop-color="#9aff00"/><stop offset="0.6479" stop-color="#a3ff00"/><stop offset="0.7309" stop-color="#88ff00"/><stop offset="0.7510" stop-color="#67ff00"/><stop offset="0.7812" stop-color="#1dff00"/><stop offset="0.8063" stop-color="#00ff02"/><stop offset="0.8642" stop-color="#00ff44"/><stop offset="0.8893" stop-color="#00ff5e"/><stop offset="0.9120" stop-color="#00ff9e"/><stop offset="0.9371" stop-color="#00fffb"/><stop offset="0.9925" stop-color="#0031ff"/><stop offset="1.0000" stop-color="#0014ff"/></radialGradient>
<radialGradient id="g3_15" gradientUnits="userSpaceOnUse" cx="211.2" cy="1107" r="209.6"><stop offset="0.4995" stop-color="#b2ff00"/><stop offset="0.5725" stop-color="#a9ff00"/><stop offset="0.5850" stop-color="#90ff00"/><stop offset="0.6001" stop-color="#5cff00"/><stop offset="0.6077" stop-color="#5fff00"/><stop offset="0.6278" stop-color="#9cff00"/><stop offset="0.6479" stop-color="#a4ff00"/><stop offset="0.7309" stop-color="#8aff00"/><stop offset="0.7510" stop-color="#69ff00"/><stop offset="0.7812" stop-color="#1fff00"/><stop offset="0.8089" stop-color="#00ff03"/><stop offset="0.8667" stop-color="#00ff44"/><stop offset="0.8893" stop-color="#00ff5c"/><stop offset="0.9095" stop-color="#00ff93"/><stop offset="0.9396" stop-color="#00fbff"/><stop offset="1.0000" stop-color="#0014ff"/></radialGradient>
<radialGradient id="g3_16" gradientUnits="userSpaceOnUse" cx="211.2" cy="1107" r="209.6"><stop offset="0.4995" stop-color="#b2ff00"/><stop offset="0.5699" stop-color="#a9ff00"/><stop offset="0.5825" stop-color="#8dff00"/><stop offset="0.5951" stop-color="#60ff00"/><stop offset="0.6026" stop-color="#5cff00"/><stop offset="0.6228" stop-color="#9aff00"/><stop offset="0.6404" stop-color="#a5ff00"/><stop offset="0.7309" stop-color="#8bff00"/><stop offset="0.7510" stop-color="#6cff00"/><stop offset="0.7812" stop-color="#20ff00"/><stop offset="0.8089" stop-color="#00ff02"/><stop offset="0.8667" stop-color="#00ff43"/><stop offset="0.8893" stop-color="#00ff5a"/><stop offset="0.9095" stop-color="#00ff90"/><stop offset="0.9396" stop-color="#00fdff"/><stop offset="1.0000" stop-color="#0014ff"/></radialGradient>
<radialGradient id="g3_17" gradientUnits="userSpaceOnUse" cx="211.2" cy="1107" r="209.6"><stop offset="0.4995" stop-color="#b2ff00"/><stop offset="0.5674" stop-color="#a9ff00"/><stop offset="0.5800" stop-color="#8aff00"/><stop offset="0.5926" stop-color="#5fff00"/><stop offset="0.6001" stop-color="#5fff00"/><stop offset="0.6202" stop-color="#9dff00"/><stop offset="0.6378" stop-color="#a6ff00"/><stop offset="0.7309" stop-color="#8cff00"/><stop offset="0.7510" stop-color="#6eff00"/><stop offset="0.7837" stop-color="#1eff00"/><stop offset="0.8114" stop-color="#00ff03"/><stop offset="0.8692" stop-color="#00ff44"/><stop offset="0.8919" stop-color="#00ff5e"/><stop offset="0.9145" stop-color="#00ff9f"/><stop offset="0.9396" stop-color="#00ffff"/><stop offset="1.0000" stop-color="#0014ff"/></radialGradient>
<radialGradient id="g3_18" gradientUnits="userSpaceOnUse" cx="211.2" cy="1107" r="209.6"><stop offset="0.4995" stop-color="#b2ff00"/><stop offset="0.5674" stop-color="#a9ff00"/><stop offset="0.5800" stop-color="#8bff00"/><stop offset="0.5926" stop-color="#64ff00"/><stop offset="0.6001" stop-color="#6aff00"/><stop offset="0.6177" stop-color="#9fff00"/><stop offset="0.6378" stop-color="#a7ff00"/><stop offset="0.7309" stop-color="#8dff00"/><stop offset="0.7510" stop-color="#72ff00"/><stop offset="0.7837" stop-color="#21ff00"/><stop offset="0.8139" stop-color="#00ff04"/><stop offset="0.8717" stop-color="#00ff46"/><stop offset="0.8944" stop-color="#00ff62"/><stop offset="0.9170" stop-color="#00ffa6"/><stop offset="0.9396" stop-color="#00fffd"/><stop offset="1.0000" stop-color="#0014ff"/></radialGradient>
<radialGradient id="g3_19" gradientUnits="userSpaceOnUse" cx="211.2" cy="1107" r="209.6"><stop offset="0.4995" stop-color="#b3ff00"/><stop offset="0.5699" stop-color="#aaff00"/><stop offset="0.5951" stop-color="#8bff00"/><stop offset="0.6228" stop-color="#a8ff00"/><stop offset="0.7259" stop-color="#91ff00"/><stop offset="0.7485" stop-color="#7bff00"/><stop offset="0.7862" stop-color="#20ff00"/><stop offset="0.8139" stop-color="#00ff02"/><stop offset="0.8743" stop-color="#00ff48"/><stop offset="0.8969" stop-color="#00ff66"/><stop offset="0.9195" stop-color="#00ffac"/><stop offset="0.9396" stop-color="#00fffb"/><stop offset="0.9849" stop-color="#0051ff"/><stop offset="1.0000" stop-color="#0014ff"/></radialGradient>
<radialGradient id="g3_20" gradientUnits="userSpaceOnUse" cx="211.2" cy="1107" r="209.6"><stop offset="0.4995" stop-color="#b3ff00"/><stop offset="0.6907" stop-color="#9eff00"/><stop offset="0.7410" stop-color="#8aff00"/><stop offset="0.7611" stop-color="#64ff00"/><stop offset="0.7887" stop-color="#20ff00"/><stop offset="0.8164" stop-color="#00ff02"/><stop offset="0.8768" stop-color="#00ff49"/><stop offset="0.8969" stop-color="#00ff63"/><stop offset="0.9170" stop-color="#00ff9f"/><stop offset="0.9422" stop-color="#00fdff"/><stop offset="1.0000" stop-color="#0014ff"/></radialGradient>
<radialGradient id="g3_21" gradientUnits="userSpaceOnUse" cx="211.2" cy="1107" r="209.6"><stop offset="0.4995" stop-color="#b3ff00"/><stop offset="0.6907" stop-color="#9fff00"/><stop offset="0.7435" stop-color="#8aff00"/><stop offset="0.7636" stop-color="#65ff00"/><stop offset="0.7913" stop-color="#21ff00"/><stop offset="0.8214" stop-color="#00ff04"/><stop offset="0.8818" stop-color="#00ff4d"/><stop offset="0.9019" stop-color="#00ff6c"/><stop offset="0.9246" stop-color="#00ffb6"/><stop offset="0.9422" stop-color="#00fffe"/><stop offset="1.0000" stop-color="#0014ff"/></radialGradient>
<radialGradient id="g3_22" gradientUnits="userSpaceOnUse" cx="211.2" cy="1107" r="209.6"><stop offset="0.4995" stop-color="#b3ff00"/><stop offset="0.6932" stop-color="#9fff00"/><stop offset="0.7435" stop-color="#8bff00"/><stop offset="0.7586" stop-color="#6aff00"/><stop offset="0.7737" stop-color="#3dff00"/><stop offset="0.7837" stop-color="#34ff00"/><stop offset="0.8089" stop-color="#0cff00"/><stop offset="0.8265" stop-color="#00ff08"/><stop offset="0.8843" stop-color="#00ff4e"/><stop offset="0.9044" stop-color="#00ff70"/><stop offset="0.9296" stop-color="#00ffc7"/><stop offset="0.9422" stop-color="#00fffb"/><stop offset="0.9950" stop-color="#0029ff"/><stop offset="1.0000" stop-color="#0014ff"/></radialGradient>
<radialGradient id="g3_23" gradientUnits="userSpaceOnUse" cx="211.2" cy="1107" r="209.6"><stop offset="0.4995" stop-color="#b4ff00"/><stop offset="0.6957" stop-color="#a0ff00"/><stop offset="0.7460" stop-color="#8bff00"/><stop offset="0.7586" stop-color="#70ff00"/><stop offset="0.7762" stop-color="#35ff00"/><stop offset="0.7887" stop-color="#2fff00"/><stop offset="0.8189" stop-color="#04ff00"/><stop offset="0.8516" stop-color="#00ff26"/><stop offset="0.9019" stop-color="#00ff67"/><stop offset="0.9220" stop-color="#00ffa5"/><stop offset="0.9447" stop-color="#00fcff"/><stop offset="1.0000" stop-color="#0014ff"/></radialGradient>
<radialGradient id="g3_24" gradientUnits="userSpaceOnUse" cx="211.2" cy="1107" r="209.6"><stop offset="0.4995" stop-color="#b4ff00"/><stop offset="0.6982" stop-color="#a1ff00"/><stop offset="0.7510" stop-color="#8cff00"/><stop offset="0.7636" stop-color="#73ff00"/><stop offset="0.7812" stop-color="#37ff00"/><stop offset="0.7938" stop-color="#2cff00"/><stop offset="0.8265" stop-color="#00ff00"/><stop offset="0.9044" stop-color="#00ff69"/><stop offset="0.9246" stop-color="#00ffa8"/><stop offset="0.9447" stop-color="#00fffc"/><stop offset="1.0000" stop-color="#0014ff"/></radialGradient>
<radialGradient id="g3_25" gradientUnits="userSpaceOnUse" cx="211.2" cy="1107" r="209.6"><stop offset="0.4995" stop-color="#b4ff00"/><stop offset="0.7007" stop-color="#a2ff00"/><stop offset="0.7535" stop-color="#8eff00"/><stop offset="0.7711" stop-color="#6fff00"/><stop offset="0.7887" stop-color="#34ff00"/><stop offset="0.8315" stop-color="#00ff02"/><stop offset="0.9069" stop-color="#00ff6c"/><stop offset="0.9271" stop-color="#00ffac"/><stop offset="0.9472" stop-color="#00fcff"/><stop offset="1.0000" stop-color="#0014ff"/></radialGradient>
<radialGradient id="g3_26" gradientUnits="userSpaceOnUse" cx="211.2" cy="1107" r="209.6"><stop offset="0.4995" stop-color="#b5ff00"/><stop offset="0.7007" stop-color="#a3ff00"/><stop offset="0.7560" stop-color="#8fff00"/><stop offset="0.7762" stop-color="#6bff00"/><stop offset="0.7963" stop-color="#30ff00"/><stop offset="0.8340" stop-color="#00ff01"/><stop offset="0.9095" stop-color="#00ff72"/><stop offset="0.9271" stop-color="#00ffa8"/><stop offset="0.9472" stop-color="#00ffff"/><stop offset="1.0000" stop-color="#0014ff"/></radialGradient>
<radialGradient id="g3_27" gradientUnits="userSpaceOnUse" cx="211.2" cy="1107" r="209.6"><stop offset="0.4995" stop-color="#b3ff00"/><stop offset="0.6907" stop-color="#a6ff00"/><stop offset="0.7611" stop-color="#8eff00"/><stop offset="0.7812" stop-color="#69ff00"/><stop offset="0.8089" stop-color="#24ff00"/><stop offset="0.8390" stop-color="#00ff05"/><stop offset="0.9120" stop-color="#00ff78"/><stop offset="0.9296" stop-color="#00ffaf"/><stop offset="0.9472" stop-color="#00fffb"/><stop offset="0.9950" stop-color="#002bff"/><stop offset="1.0000" stop-color="#0014ff"/></radialGradient>
<radialGradient id="g3_28" gradientUnits="userSpaceOnUse" cx="211.2" cy="1107" r="209.6"><stop offset="0.4995" stop-color="#a8ff00"/><stop offset="0.5599" stop-color="#b3ff00"/><stop offset="0.7259" stop-color="#9fff00"/><stop offset="0.7686" stop-color="#8aff00"/><stop offset="0.7887" stop-color="#5fff00"/><stop offset="0.8139" stop-color="#21ff00"/><stop offset="0.8390" stop-color="#00ff02"/><stop offset="0.9095" stop-color="#00ff74"/><stop offset="0.9271" stop-color="#00ffa3"/><stop offset="0.9497" stop-color="#00fbff"/><stop offset="1.0000" stop-color="#0014ff"/></radialGradient>
<radialGradient id="g3_29" gradientUnits="userSpaceOnUse" cx="211.2" cy="1107" r="209.6"><stop offset="0.4995" stop-color="#99ff00"/><stop offset="0.5423" stop-color="#b3ff00"/><stop offset="0.7158" stop-color="#a2ff00"/><stop offset="0.7686" stop-color="#8dff00"/><stop offset="0.7887" stop-color="#67ff00"/><stop offset="0.8164" stop-color="#21ff00"/><stop offset="0.8416" stop-color="#00ff03"/><stop offset="0.9044" stop-color="#00ff6d"/><stop offset="0.9246" stop-color="#00ff9a"/><stop offset="0.9447" stop-color="#00ffea"/><stop offset="0.9497" stop-color="#00fdff"/><stop offset="1.0000" stop-color="#0014ff"/></radialGradient>
<radialGradient id="g3_30" gradientUnits="userSpaceOnUse" cx="211.2" cy="1107" r="209.6"><stop offset="0.4995" stop-color="#85ff00"/><stop offset="0.5171" stop-color="#99ff00"/><stop offset="0.5398" stop-color="#b1ff00"/><stop offset="0.7057" stop-color="#a5ff00"/><stop offset="0.7711" stop-color="#8dff00"/><stop offset="0.7913" stop-color="#67ff00"/><stop offset="0.8189" stop-color="#20ff00"/><stop offset="0.8441" stop-color="#00ff04"/><stop offset="0.8893" stop-color="#00ff52"/><stop offset="0.9220" stop-color="#00ff93"/><stop offset="0.9422" stop-color="#00ffdc"/><stop offset="0.9497" stop-color="#00ffff"/><stop offset="1.0000" stop-color="#0014ff"/></radialGradient>
<radialGradient id="g3_31" gradientUnits="userSpaceOnUse" cx="211.2" cy="1107" r="209.6"><stop offset="0.4995" stop-color="#74ff00"/><stop offset="0.5121" stop-color="#84ff00"/><stop offset="0.5322" stop-color="#abff00"/><stop offset="0.5649" stop-color="#b3ff00"/><stop offset="0.7309" stop-color="#a0ff00"/><stop offset="0.7762" stop-color="#8bff00"/><stop offset="0.7963" stop-color="#64ff00"/><stop offset="0.8240" stop-color="#1dff00"/><stop offset="0.8466" stop-color="#00ff05"/><stop offset="0.8868" stop-color="#00ff4b"/><stop offset="0.9271" stop-color="#00ffa2"/><stop offset="0.9472" stop-color="#00fff0"/><stop offset="0.9522" stop-color="#00f7ff"/><stop offset="1.0000" stop-color="#0014ff"/></radialGradient>
<radialGradient id="g3_32" gradientUnits="userSpaceOnUse" cx="211.2" cy="1107" r="209.6"><stop offset="0.4995" stop-color="#74ff00"/><stop offset="0.5121" stop-color="#84ff00"/><stop offset="0.5322" stop-color="#abff00"/><stop offset="0.5649" stop-color="#b4ff00"/><stop offset="0.7334" stop-color="#a1ff00"/><stop offset="0.7812" stop-color="#8bff00"/><stop offset="0.8013" stop-color="#65ff00"/><stop offset="0.8315" stop-color="#17ff00"/><stop offset="0.8491" stop-color="#00ff04"/><stop offset="0.8868" stop-color="#00ff47"/><stop offset="0.9296" stop-color="#00ffaa"/><stop offset="0.9522" stop-color="#00faff"/><stop offset="1.0000" stop-color="#0014ff"/></radialGradient>
<radialGradient id="g3_33" gradientUnits="userSpaceOnUse" cx="211.2" cy="1107" r="209.6"><stop offset="0.4995" stop-color="#75ff00"/><stop offset="0.5121" stop-color="#84ff00"/><stop offset="0.5322" stop-color="#abff00"/><stop offset="0.5649" stop-color="#b4ff00"/><stop offset="0.7359" stop-color="#a1ff00"/><stop offset="0.7862" stop-color="#8aff00"/><stop offset="0.8063" stop-color="#63ff00"/><stop offset="0.8365" stop-color="#17ff00"/><stop offset="0.8516" stop-color="#00ff02"/><stop offset="0.9120" stop-color="#00ff73"/><stop offset="0.9321" stop-color="#00ffaa"/><stop offset="0.9522" stop-color="#00fdff"/><stop offset="1.0000" stop-color="#0014ff"/></radialGradient>
<radialGradient id="g3_34" gradientUnits="userSpaceOnUse" cx="211.2" cy="1107" r="209.6"><stop offset="0.4995" stop-color="#75ff00"/><stop offset="0.5121" stop-color="#84ff00"/><stop offset="0.5322" stop-color="#abff00"/><stop offset="0.5649" stop-color="#b4ff00"/><stop offset="0.7359" stop-color="#a1ff00"/><stop offset="0.7913" stop-color="#88ff00"/><stop offset="0.8139" stop-color="#5fff00"/><stop offset="0.8516" stop-color="#0aff00"/><stop offset="0.8617" stop-color="#00ff07"/><stop offset="0.9145" stop-color="#00ff6a"/><stop offset="0.9346" stop-color="#00ffac"/><stop offset="0.9522" stop-color="#00fffe"/><stop offset="1.0000" stop-color="#0014ff"/></radialGradient>
<radialGradient id="g3_35" gradientUnits="userSpaceOnUse" cx="211.2" cy="1107" r="209.6"><stop offset="0.4995" stop-color="#75ff00"/><stop offset="0.5121" stop-color="#85ff00"/><stop offset="0.5322" stop-color="#abff00"/><stop offset="0.5649" stop-color="#b4ff00"/><stop offset="0.7384" stop-color="#a1ff00"/><stop offset="0.7988" stop-color="#85ff00"/><stop offset="0.8265" stop-color="#58ff00"/><stop offset="0.8717" stop-color="#00ff00"/><stop offset="0.9069" stop-color="#00ff44"/><stop offset="0.9271" stop-color="#00ff87"/><stop offset="0.9522" stop-color="#00fffc"/><stop offset="1.0000" stop-color="#0014ff"/></radialGradient>
<radialGradient id="g3_36" gradientUnits="userSpaceOnUse" cx="211.2" cy="1107" r="209.6"><stop offset="0.4995" stop-color="#75ff00"/><stop offset="0.5121" stop-color="#85ff00"/><stop offset="0.5322" stop-color="#acff00"/><stop offset="0.5649" stop-color="#b4ff00"/><stop offset="0.7384" stop-color="#a2ff00"/><stop offset="0.8038" stop-color="#85ff00"/><stop offset="0.8390" stop-color="#58ff00"/><stop offset="0.8868" stop-color="#00ff00"/><stop offset="0.9120" stop-color="#00ff46"/><stop offset="0.9371" stop-color="#00ffaf"/><stop offset="0.9522" stop-color="#00fffa"/><stop offset="0.9723" stop-color="#00a1ff"/><stop offset="1.0000" stop-color="#0014ff"/></radialGradient>
<radialGradient id="g3_37" gradientUnits="userSpaceOnUse" cx="211.2" cy="1107" r="209.6"><stop offset="0.4995" stop-color="#75ff00"/><stop offset="0.5121" stop-color="#85ff00"/><stop offset="0.5322" stop-color="#acff00"/><stop offset="0.5649" stop-color="#b5ff00"/><stop offset="0.7410" stop-color="#a2ff00"/><stop offset="0.8114" stop-color="#83ff00"/><stop offset="0.8541" stop-color="#54ff00"/><stop offset="0.8868" stop-color="#11ff00"/><stop offset="0.8944" stop-color="#00ff04"/><stop offset="0.9220" stop-color="#00ff66"/><stop offset="0.9547" stop-color="#00fbff"/><stop offset="1.0000" stop-color="#0014ff"/></radialGradient>
<radialGradient id="g3_38" gradientUnits="userSpaceOnUse" cx="211.2" cy="1107" r="209.6"><stop offset="0.4995" stop-color="#75ff00"/><stop offset="0.5121" stop-color="#85ff00"/><stop offset="0.5322" stop-color="#acff00"/><stop offset="0.5649" stop-color="#b5ff00"/><stop offset="0.7460" stop-color="#a3ff00"/><stop offset="0.8164" stop-color="#83ff00"/><stop offset="0.8592" stop-color="#53ff00"/><stop offset="0.8893" stop-color="#13ff00"/><stop offset="0.8969" stop-color="#00ff02"/><stop offset="0.9220" stop-color="#00ff5d"/><stop offset="0.9522" stop-color="#00ffee"/><stop offset="0.9547" stop-color="#00fffc"/><stop offset="1.0000" stop-color="#0014ff"/></radialGradient>
<radialGradient id="g3_39" gradientUnits="userSpaceOnUse" cx="211.2" cy="1107" r="209.6"><stop offset="0.4995" stop-color="#76ff00"/><stop offset="0.5121" stop-color="#86ff00"/><stop offset="0.5322" stop-color="#adff00"/><stop offset="0.5649" stop-color="#b6ff00"/><stop offset="0.7510" stop-color="#a5ff00"/><stop offset="0.8214" stop-color="#85ff00"/><stop offset="0.8617" stop-color="#58ff00"/><stop offset="0.8919" stop-color="#18ff00"/><stop offset="0.9019" stop-color="#00ff06"/><stop offset="0.9271" stop-color="#00ff67"/><stop offset="0.9572" stop-color="#00fdff"/><stop offset="1.0000" stop-color="#0014ff"/></radialGradient>
<radialGradient id="g3_40" gradientUnits="userSpaceOnUse" cx="211.2" cy="1107" r="209.6"><stop offset="0.4995" stop-color="#76ff00"/><stop offset="0.5121" stop-color="#86ff00"/><stop offset="0.5322" stop-color="#adff00"/><stop offset="0.5649" stop-color="#b6ff00"/><stop offset="0.7560" stop-color="#a6ff00"/><stop offset="0.8240" stop-color="#89ff00"/><stop offset="0.8642" stop-color="#5dff00"/><stop offset="0.8919" stop-color="#24ff00"/><stop offset="0.9044" stop-color="#00ff02"/><stop offset="0.9296" stop-color="#00ff66"/><stop offset="0.9572" stop-color="#00fff9"/><stop offset="0.9648" stop-color="#00dcff"/><stop offset="1.0000" stop-color="#0014ff"/></radialGradient>
<radialGradient id="g3_41" gradientUnits="userSpaceOnUse" cx="211.2" cy="1107" r="209.6"><stop offset="0.4995" stop-color="#76ff00"/><stop offset="0.5121" stop-color="#86ff00"/><stop offset="0.5322" stop-color="#aeff00"/><stop offset="0.5649" stop-color="#b7ff00"/><stop offset="0.7636" stop-color="#a8ff00"/><stop offset="0.8315" stop-color="#8bff00"/><stop offset="0.8692" stop-color="#60ff00"/><stop offset="0.8969" stop-color="#23ff00"/><stop offset="0.9095" stop-color="#00ff05"/><stop offset="0.9321" stop-color="#00ff65"/><stop offset="0.9598" stop-color="#00ffff"/><stop offset="1.0000" stop-color="#0014ff"/></radialGradient>
<radialGradient id="g3_42" gradientUnits="userSpaceOnUse" cx="211.2" cy="1107" r="209.6"><stop offset="0.4995" stop-color="#77ff00"/><stop offset="0.5121" stop-color="#87ff00"/><stop offset="0.5322" stop-color="#aeff00"/><stop offset="0.5649" stop-color="#b8ff00"/><stop offset="0.7711" stop-color="#aaff00"/><stop offset="0.8365" stop-color="#8eff00"/><stop offset="0.8743" stop-color="#62ff00"/><stop offset="0.8994" stop-color="#29ff00"/><stop offset="0.9120" stop-color="#00ff01"/><stop offset="0.9346" stop-color="#00ff65"/><stop offset="0.9598" stop-color="#00fff6"/><stop offset="0.9648" stop-color="#00eaff"/><stop offset="1.0000" stop-color="#0014ff"/></radialGradient>
<radialGradient id="g3_43" gradientUnits="userSpaceOnUse" cx="211.2" cy="1107" r="209.6"><stop offset="0.4995" stop-color="#77ff00"/><stop offset="0.5121" stop-color="#87ff00"/><stop offset="0.5322" stop-color="#afff00"/><stop offset="0.5649" stop-color="#b8ff00"/><stop offset="0.7787" stop-color="#acff00"/><stop offset="0.8416" stop-color="#91ff00"/><stop offset="0.8768" stop-color="#67ff00"/><stop offset="0.9019" stop-color="#2dff00"/><stop offset="0.9145" stop-color="#01ff00"/><stop offset="0.9346" stop-color="#00ff5b"/><stop offset="0.9623" stop-color="#00feff"/><stop offset="1.0000" stop-color="#0014ff"/></radialGradient>
<radialGradient id="g3_44" gradientUnits="userSpaceOnUse" cx="211.2" cy="1107" r="209.6"><stop offset="0.4995" stop-color="#78ff00"/><stop offset="0.5121" stop-color="#88ff00"/><stop offset="0.5322" stop-color="#afff00"/><stop offset="0.5649" stop-color="#b9ff00"/><stop offset="0.7862" stop-color="#adff00"/><stop offset="0.8466" stop-color="#93ff00"/><stop offset="0.8793" stop-color="#6cff00"/><stop offset="0.9044" stop-color="#2eff00"/><stop offset="0.9170" stop-color="#01ff00"/><stop offset="0.9371" stop-color="#00ff61"/><stop offset="0.9623" stop-color="#00fffc"/><stop offset="1.0000" stop-color="#0014ff"/></radialGradient>
<radialGradient id="g3_45" gradientUnits="userSpaceOnUse" cx="211.2" cy="1107" r="209.6"><stop offset="0.4995" stop-color="#78ff00"/><stop offset="0.5121" stop-color="#88ff00"/><stop offset="0.5322" stop-color="#afff00"/><stop offset="0.5649" stop-color="#b9ff00"/><stop offset="0.7938" stop-color="#aeff00"/><stop offset="0.8516" stop-color="#96ff00"/><stop offset="0.8818" stop-color="#70ff00"/><stop offset="0.9044" stop-color="#39ff00"/><stop offset="0.9195" stop-color="#00ff00"/><stop offset="0.9396" stop-color="#00ff67"/><stop offset="0.9623" stop-color="#00fff8"/><stop offset="0.9673" stop-color="#00e6ff"/><stop offset="1.0000" stop-color="#0014ff"/></radialGradient>
<radialGradient id="g3_46" gradientUnits="userSpaceOnUse" cx="211.2" cy="1107" r="209.6"><stop offset="0.4995" stop-color="#78ff00"/><stop offset="0.5121" stop-color="#88ff00"/><stop offset="0.5322" stop-color="#b0ff00"/><stop offset="0.5649" stop-color="#b9ff00"/><stop offset="0.8038" stop-color="#b0ff00"/><stop offset="0.8566" stop-color="#99ff00"/><stop offset="0.8868" stop-color="#71ff00"/><stop offset="0.9069" stop-color="#3cff00"/><stop offset="0.9220" stop-color="#00ff00"/><stop offset="0.9422" stop-color="#00ff6e"/><stop offset="0.9623" stop-color="#00fff3"/><stop offset="0.9648" stop-color="#00faff"/><stop offset="1.0000" stop-color="#0014ff"/></radialGradient>
<radialGradient id="g3_47" gradientUnits="userSpaceOnUse" cx="211.2" cy="1107" r="209.6"><stop offset="0.4995" stop-color="#78ff00"/><stop offset="0.5121" stop-color="#88ff00"/><stop offset="0.5322" stop-color="#b0ff00"/><stop offset="0.5649" stop-color="#baff00"/><stop offset="0.8139" stop-color="#b1ff00"/><stop offset="0.8642" stop-color="#9aff00"/><stop offset="0.8919" stop-color="#72ff00"/><stop offset="0.9120" stop-color="#37ff00"/><stop offset="0.9246" stop-color="#00ff01"/><stop offset="0.9447" stop-color="#00ff75"/><stop offset="0.9648" stop-color="#00ffff"/><stop offset="1.0000" stop-color="#0014ff"/></radialGradient>
<radialGradient id="g3_48" gradientUnits="userSpaceOnUse" cx="211.2" cy="1107" r="209.6"><stop offset="0.4995" stop-color="#78ff00"/><stop offset="0.5121" stop-color="#88ff00"/><stop offset="0.5322" stop-color="#b0ff00"/><stop offset="0.5649" stop-color="#baff00"/><stop offset="0.8214" stop-color="#b2ff00"/><stop offset="0.8692" stop-color="#9bff00"/><stop offset="0.8944" stop-color="#76ff00"/><stop offset="0.9120" stop-color="#42ff00"/><stop offset="0.9271" stop-color="#00ff02"/><stop offset="0.9472" stop-color="#00ff7d"/><stop offset="0.9648" stop-color="#00fffa"/><stop offset="0.9824" stop-color="#008cff"/><stop offset="1.0000" stop-color="#0014ff"/></radialGradient>
<radialGradient id="g3_49" gradientUnits="userSpaceOnUse" cx="211.2" cy="1107" r="209.6"><stop offset="0.4995" stop-color="#89ff00"/><stop offset="0.5171" stop-color="#9eff00"/><stop offset="0.5398" stop-color="#b7ff00"/><stop offset="0.8189" stop-color="#b3ff00"/><stop offset="0.8692" stop-color="#9eff00"/><stop offset="0.8944" stop-color="#7bff00"/><stop offset="0.9120" stop-color="#49ff00"/><stop offset="0.9271" stop-color="#05ff00"/><stop offset="0.9346" stop-color="#00ff26"/><stop offset="0.9598" stop-color="#00ffd1"/><stop offset="0.9648" stop-color="#00fff6"/><stop offset="0.9673" stop-color="#00f6ff"/><stop offset="1.0000" stop-color="#0014ff"/></radialGradient>
<radialGradient id="g3_50" gradientUnits="userSpaceOnUse" cx="211.2" cy="1107" r="209.6"><stop offset="0.4995" stop-color="#9dff00"/><stop offset="0.5423" stop-color="#b9ff00"/><stop offset="0.8265" stop-color="#b3ff00"/><stop offset="0.8743" stop-color="#9cff00"/><stop offset="0.8969" stop-color="#79ff00"/><stop offset="0.9145" stop-color="#44ff00"/><stop offset="0.9296" stop-color="#00ff03"/><stop offset="0.9497" stop-color="#00ff84"/><stop offset="0.9648" stop-color="#00fff3"/><stop offset="0.9673" stop-color="#00f9ff"/><stop offset="1.0000" stop-color="#0014ff"/></radialGradient>
<radialGradient id="g3_51" gradientUnits="userSpaceOnUse" cx="211.2" cy="1107" r="209.6"><stop offset="0.4995" stop-color="#b2ff00"/><stop offset="0.6052" stop-color="#baff00"/><stop offset="0.8365" stop-color="#b2ff00"/><stop offset="0.8793" stop-color="#9bff00"/><stop offset="0.9019" stop-color="#74ff00"/><stop offset="0.9195" stop-color="#38ff00"/><stop offset="0.9296" stop-color="#06ff00"/><stop offset="0.9346" stop-color="#00ff17"/><stop offset="0.9572" stop-color="#00ffb4"/><stop offset="0.9673" stop-color="#00feff"/><stop offset="1.0000" stop-color="#0014ff"/></radialGradient>
<radialGradient id="g3_52" gradientUnits="userSpaceOnUse" cx="211.2" cy="1107" r="209.6"><stop offset="0.4995" stop-color="#b9ff00"/><stop offset="0.8390" stop-color="#b3ff00"/><stop offset="0.8818" stop-color="#9eff00"/><stop offset="0.9044" stop-color="#78ff00"/><stop offset="0.9220" stop-color="#3aff00"/><stop offset="0.9321" stop-color="#06ff00"/><stop offset="0.9396" stop-color="#00ff29"/><stop offset="0.9673" stop-color="#00fff8"/><stop offset="0.9749" stop-color="#00ceff"/><stop offset="1.0000" stop-color="#0014ff"/></radialGradient>
<radialGradient id="g3_53" gradientUnits="userSpaceOnUse" cx="211.2" cy="1107" r="209.6"><stop offset="0.4995" stop-color="#baff00"/><stop offset="0.8466" stop-color="#b3ff00"/><stop offset="0.8868" stop-color="#9eff00"/><stop offset="0.9069" stop-color="#7cff00"/><stop offset="0.9220" stop-color="#48ff00"/><stop offset="0.9346" stop-color="#06ff00"/><stop offset="0.9396" stop-color="#00ff1a"/><stop offset="0.9623" stop-color="#00ffc6"/><stop offset="0.9698" stop-color="#00fbff"/><stop offset="1.0000" stop-color="#0014ff"/></radialGradient>
<radialGradient id="g3_54" gradientUnits="userSpaceOnUse" cx="211.2" cy="1107" r="209.6"><stop offset="0.4995" stop-color="#baff00"/><stop offset="0.8541" stop-color="#b4ff00"/><stop offset="0.8919" stop-color="#9fff00"/><stop offset="0.9120" stop-color="#7aff00"/><stop offset="0.9271" stop-color="#40ff00"/><stop offset="0.9371" stop-color="#07ff00"/><stop offset="0.9422" stop-color="#00ff1b"/><stop offset="0.9673" stop-color="#00ffe5"/><stop offset="0.9698" stop-color="#00fffa"/><stop offset="1.0000" stop-color="#0014ff"/></radialGradient>
<radialGradient id="g3_55" gradientUnits="userSpaceOnUse" cx="211.2" cy="1107" r="209.6"><stop offset="0.4995" stop-color="#baff00"/><stop offset="0.8642" stop-color="#b3ff00"/><stop offset="0.8969" stop-color="#a0ff00"/><stop offset="0.9145" stop-color="#7fff00"/><stop offset="0.9271" stop-color="#50ff00"/><stop offset="0.9396" stop-color="#07ff00"/><stop offset="0.9447" stop-color="#00ff1d"/><stop offset="0.9698" stop-color="#00fff0"/><stop offset="0.9723" stop-color="#00f8ff"/><stop offset="1.0000" stop-color="#0014ff"/></radialGradient>
<radialGradient id="g3_56" gradientUnits="userSpaceOnUse" cx="211.2" cy="1107" r="209.6"><stop offset="0.4995" stop-color="#baff00"/><stop offset="0.8717" stop-color="#b4ff00"/><stop offset="0.9019" stop-color="#a1ff00"/><stop offset="0.9195" stop-color="#7cff00"/><stop offset="0.9321" stop-color="#47ff00"/><stop offset="0.9422" stop-color="#07ff00"/><stop offset="0.9472" stop-color="#00ff20"/><stop offset="0.9723" stop-color="#00fffd"/><stop offset="1.0000" stop-color="#0014ff"/></radialGradient>
<radialGradient id="g3_57" gradientUnits="userSpaceOnUse" cx="211.2" cy="1107" r="209.6"><stop offset="0.4995" stop-color="#baff00"/><stop offset="0.8793" stop-color="#b4ff00"/><stop offset="0.9069" stop-color="#a1ff00"/><stop offset="0.9220" stop-color="#80ff00"/><stop offset="0.9346" stop-color="#48ff00"/><stop offset="0.9447" stop-color="#04ff00"/><stop offset="0.9547" stop-color="#00ff50"/><stop offset="0.9723" stop-color="#00fff5"/><stop offset="0.9749" stop-color="#00f2ff"/><stop offset="1.0000" stop-color="#0014ff"/></radialGradient>
<radialGradient id="g3_58" gradientUnits="userSpaceOnUse" cx="211.2" cy="1107" r="209.6"><stop offset="0.4995" stop-color="#baff00"/><stop offset="0.8843" stop-color="#b4ff00"/><stop offset="0.9120" stop-color="#a0ff00"/><stop offset="0.9271" stop-color="#79ff00"/><stop offset="0.9396" stop-color="#37ff00"/><stop offset="0.9472" stop-color="#00ff02"/><stop offset="0.9698" stop-color="#00ffd4"/><stop offset="0.9749" stop-color="#00f9ff"/><stop offset="1.0000" stop-color="#0014ff"/></radialGradient>
<radialGradient id="g3_59" gradientUnits="userSpaceOnUse" cx="211.2" cy="1107" r="209.6"><stop offset="0.4995" stop-color="#baff00"/><stop offset="0.8919" stop-color="#b4ff00"/><stop offset="0.9145" stop-color="#a3ff00"/><stop offset="0.9271" stop-color="#84ff00"/><stop offset="0.9371" stop-color="#54ff00"/><stop offset="0.9472" stop-color="#0bff00"/><stop offset="0.9497" stop-color="#00ff0a"/><stop offset="0.9749" stop-color="#00ffff"/><stop offset="1.0000" stop-color="#0014ff"/></radialGradient>
<radialGradient id="g3_60" gradientUnits="userSpaceOnUse" cx="211.2" cy="1107" r="209.6"><stop offset="0.4995" stop-color="#baff00"/><stop offset="0.8969" stop-color="#b5ff00"/><stop offset="0.9195" stop-color="#a0ff00"/><stop offset="0.9321" stop-color="#78ff00"/><stop offset="0.9422" stop-color="#3aff00"/><stop offset="0.9497" stop-color="#00ff04"/><stop offset="0.9749" stop-color="#00fffd"/><stop offset="1.0000" stop-color="#0014ff"/></radialGradient>
<radialGradient id="g3_61" gradientUnits="userSpaceOnUse" cx="211.2" cy="1107" r="209.6"><stop offset="0.4995" stop-color="#baff00"/><stop offset="0.8994" stop-color="#b5ff00"/><stop offset="0.9195" stop-color="#a3ff00"/><stop offset="0.9296" stop-color="#85ff00"/><stop offset="0.9396" stop-color="#4dff00"/><stop offset="0.9472" stop-color="#10ff00"/><stop offset="0.9497" stop-color="#00ff07"/><stop offset="0.9749" stop-color="#00ffff"/><stop offset="1.0000" stop-color="#0014ff"/></radialGradient>
<radialGradient id="g3_62" gradientUnits="userSpaceOnUse" cx="211.2" cy="1107" r="209.6"><stop offset="0.4995" stop-color="#baff00"/><stop offset="0.8994" stop-color="#b5ff00"/><stop offset="0.9195" stop-color="#a2ff00"/><stop offset="0.9296" stop-color="#83ff00"/><stop offset="0.9396" stop-color="#48ff00"/><stop offset="0.9472" stop-color="#0aff00"/><stop offset="0.9497" stop-color="#00ff0d"/><stop offset="0.9749" stop-color="#00fbff"/><stop offset="1.0000" stop-color="#0014ff"/></radialGradient>
<radialGradient id="g3_63" gradientUnits="userSpaceOnUse" cx="211.2" cy="1107" r="209.6"><stop offset="0.4995" stop-color="#baff00"/><stop offset="0.8994" stop-color="#b5ff00"/><stop offset="0.9195" stop-color="#a0ff00"/><stop offset="0.9296" stop-color="#7fff00"/><stop offset="0.9396" stop-color="#42ff00"/><stop offset="0.9472" stop-color="#04ff00"/><stop offset="0.9648" stop-color="#00ffa4"/><stop offset="0.9723" stop-color="#00ffee"/><stop offset="0.9749" stop-color="#00f8ff"/><stop offset="1.0000" stop-color="#0014ff"/></radialGradient>
<radialGradient id="g3_64" gradientUnits="userSpaceOnUse" cx="211.2" cy="1107" r="209.6"><stop offset="0.4995" stop-color="#baff00"/><stop offset="0.8994" stop-color="#b5ff00"/><stop offset="0.9195" stop-color="#9fff00"/><stop offset="0.9296" stop-color="#7dff00"/><stop offset="0.9396" stop-color="#40ff00"/><stop offset="0.9472" stop-color="#01ff00"/><stop offset="0.9723" stop-color="#00ffef"/><stop offset="0.9749" stop-color="#00f7ff"/><stop offset="1.0000" stop-color="#0014ff"/></radialGradient>
<radialGradient id="g3_65" gradientUnits="userSpaceOnUse" cx="211.2" cy="1107" r="209.6"><stop offset="0.4995" stop-color="#baff00"/><stop offset="0.8994" stop-color="#b5ff00"/><stop offset="0.9195" stop-color="#9fff00"/><stop offset="0.9296" stop-color="#7dff00"/><stop offset="0.9396" stop-color="#40ff00"/><stop offset="0.9472" stop-color="#01ff00"/><stop offset="0.9723" stop-color="#00ffef"/><stop offset="0.9749" stop-color="#00f7ff"/><stop offset="1.0000" stop-color="#0014ff"/></radialGradient>
<radialGradient id="g3_66" gradientUnits="userSpaceOnUse" cx="211.2" cy="1107" r="209.6"><stop offset="0.4995" stop-color="#baff00"/><stop offset="0.8994" stop-color="#b5ff00"/><stop offset="0.9195" stop-color="#9fff00"/><stop offset="0.9296" stop-color="#7dff00"/><stop offset="0.9396" stop-color="#40ff00"/><stop offset="0.9472" stop-color="#01ff00"/><stop offset="0.9723" stop-color="#00ffef"/><stop offset="0.9749" stop-color="#00f7ff"/><stop offset="1.0000" stop-color="#0014ff"/></radialGradient>
<radialGradient id="g3_67" gradientUnits="userSpaceOnUse" cx="211.2" cy="1107" r="209.6"><stop offset="0.4995" stop-color="#baff00"/><stop offset="0.8994" stop-color="#b5ff00"/><stop offset="0.9195" stop-color="#9fff00"/><stop offset="0.9296" stop-color="#7dff00"/><stop offset="0.9396" stop-color="#40ff00"/><stop offset="0.9472" stop-color="#01ff00"/><stop offset="0.9723" stop-color="#00ffef"/><stop offset="0.9749" stop-color="#00f7ff"/><stop offset="1.0000" stop-color="#0014ff"/></radialGradient>
<radialGradient id="g4_0" gradientUnits="userSpaceOnUse" cx="211.2" cy="1377" r="209.6"><stop offset="0.4995" stop-color="#4eff00"/><stop offset="0.5121" stop-color="#5eff00"/><stop offset="0.5322" stop-color="#86ff00"/><stop offset="0.5649" stop-color="#90ff00"/><stop offset="0.7661" stop-color="#83ff00"/><stop offset="0.7963" stop-color="#74ff00"/><stop offset="0.8240" stop-color="#31ff00"/><stop offset="0.8717" stop-color="#02ff00"/><stop offset="0.8893" stop-color="#00ff07"/><stop offset="0.9069" stop-color="#00ff3c"/><stop offset="0.9371" stop-color="#00ffbf"/><stop offset="0.9497" stop-color="#00fffc"/><stop offset="1.0000" stop-color="#0014ff"/></radialGradient>
<radialGradient id="g4_1" gradientUnits="userSpaceOnUse" cx="211.2" cy="1377" r="209.6"><stop offset="0.4995" stop-color="#4eff00"/><stop offset="0.5121" stop-color="#5eff00"/><stop offset="0.5322" stop-color="#86ff00"/><stop offset="0.5649" stop-color="#90ff00"/><stop offset="0.7737" stop-color="#84ff00"/><stop offset="0.7988" stop-color="#75ff00"/><stop offset="0.8265" stop-color="#33ff00"/><stop offset="0.8743" stop-color="#08ff00"/><stop offset="0.8919" stop-color="#00ff01"/><stop offset="0.9095" stop-color="#00ff38"/><stop offset="0.9396" stop-color="#00ffbf"/><stop offset="0.9522" stop-color="#00feff"/><stop offset="1.0000" stop-color="#0014ff"/></radialGradient>
<radialGradient id="g4_2" gradientUnits="userSpaceOnUse" cx="211.2" cy="1377" r="209.6"><stop offset="0.4995" stop-color="#4fff00"/><stop offset="0.5121" stop-color="#5fff00"/><stop offset="0.5322" stop-color="#86ff00"/><stop offset="0.5649" stop-color="#90ff00"/><stop offset="0.7762" stop-color="#84ff00"/><stop offset="0.7988" stop-color="#78ff00"/><stop offset="0.8265" stop-color="#36ff00"/><stop offset="0.8743" stop-color="#0bff00"/><stop offset="0.8919" stop-color="#03ff00"/><stop offset="0.9019" stop-color="#00ff17"/><stop offset="0.9271" stop-color="#00ff7e"/><stop offset="0.9522" stop-color="#00fffc"/><stop offset="1.0000" stop-color="#0014ff"/></radialGradient>
<radialGradient id="g4_3" gradientUnits="userSpaceOnUse" cx="211.2" cy="1377" r="209.6"><stop offset="0.4995" stop-color="#4fff00"/><stop offset="0.5121" stop-color="#5fff00"/><stop offset="0.5322" stop-color="#86ff00"/><stop offset="0.5649" stop-color="#90ff00"/><stop offset="0.7309" stop-color="#87ff00"/><stop offset="0.7560" stop-color="#79ff00"/><stop offset="0.7862" stop-color="#82ff00"/><stop offset="0.8013" stop-color="#75ff00"/><stop offset="0.8265" stop-color="#37ff00"/><stop offset="0.8743" stop-color="#0bff00"/><stop offset="0.8919" stop-color="#04ff00"/><stop offset="0.9019" stop-color="#00ff15"/><stop offset="0.9271" stop-color="#00ff7c"/><stop offset="0.9522" stop-color="#00fffb"/><stop offset="1.0000" stop-color="#0014ff"/></radialGradient>
<radialGradient id="g4_4" gradientUnits="userSpaceOnUse" cx="211.2" cy="1377" r="209.6"><stop offset="0.4995" stop-color="#4fff00"/><stop offset="0.5121" stop-color="#5eff00"/><stop offset="0.5322" stop-color="#86ff00"/><stop offset="0.5649" stop-color="#90ff00"/><stop offset="0.7234" stop-color="#89ff00"/><stop offset="0.7359" stop-color="#74ff00"/><stop offset="0.7485" stop-color="#54ff00"/><stop offset="0.7560" stop-color="#54ff00"/><stop offset="0.7812" stop-color="#7bff00"/><stop offset="0.7988" stop-color="#7aff00"/><stop offset="0.8290" stop-color="#34ff00"/><stop offset="0.8743" stop-color="#0bff00"/><stop offset="0.8919" stop-color="#04ff00"/><stop offset="0.8994" stop-color="#00ff0d"/><stop offset="0.9220" stop-color="#00ff64"/><stop offset="0.9522" stop-color="#00fffa"/><stop offset="0.9749" stop-color="#0093ff"/><stop offset="1.0000" stop-color="#0014ff"/></radialGradient>
<radialGradient id="g4_5" gradientUnits="userSpaceOnUse" cx="211.2" cy="1377" r="209.6"><stop offset="0.4995" stop-color="#4fff00"/><stop offset="0.5121" stop-color="#5fff00"/><stop offset="0.5322" stop-color="#86ff00"/><stop offset="0.5649" stop-color="#90ff00"/><stop offset="0.7234" stop-color="#89ff00"/><stop offset="0.7359" stop-color="#74ff00"/><stop offset="0.7510" stop-color="#4fff00"/><stop offset="0.7636" stop-color="#47ff00"/><stop offset="0.7988" stop-color="#78ff00"/><stop offset="0.8089" stop-color="#65ff00"/><stop offset="0.8265" stop-color="#39ff00"/><stop offset="0.8743" stop-color="#0bff00"/><stop offset="0.8919" stop-color="#05ff00"/><stop offset="0.8994" stop-color="#00ff0c"/><stop offset="0.9220" stop-color="#00ff63"/><stop offset="0.9522" stop-color="#00fff9"/><stop offset="0.9623" stop-color="#00d2ff"/><stop offset="1.0000" stop-color="#0014ff"/></radialGradient>
<radialGradient id="g4_6" gradientUnits="userSpaceOnUse" cx="211.2" cy="1377" r="209.6"><stop offset="0.4995" stop-color="#4fff00"/><stop offset="0.5121" stop-color="#5fff00"/><stop offset="0.5322" stop-color="#86ff00"/><stop offset="0.5649" stop-color="#90ff00"/><stop offset="0.7309" stop-color="#88ff00"/><stop offset="0.7535" stop-color="#6aff00"/><stop offset="0.7737" stop-color="#46ff00"/><stop offset="0.7862" stop-color="#4aff00"/><stop offset="0.8089" stop-color="#67ff00"/><stop offset="0.8290" stop-color="#36ff00"/><stop offset="0.8768" stop-color="#0aff00"/><stop offset="0.8969" stop-color="#00ff05"/><stop offset="0.9170" stop-color="#00ff4c"/><stop offset="0.9497" stop-color="#00ffeb"/><stop offset="0.9547" stop-color="#00f8ff"/><stop offset="1.0000" stop-color="#0014ff"/></radialGradient>
<radialGradient id="g4_7" gradientUnits="userSpaceOnUse" cx="211.2" cy="1377" r="209.6"><stop offset="0.4995" stop-color="#4fff00"/><stop offset="0.5121" stop-color="#5fff00"/><stop offset="0.5322" stop-color="#86ff00"/><stop offset="0.5649" stop-color="#90ff00"/><stop offset="0.7460" stop-color="#87ff00"/><stop offset="0.7661" stop-color="#71ff00"/><stop offset="0.7913" stop-color="#43ff00"/><stop offset="0.8063" stop-color="#45ff00"/><stop offset="0.8164" stop-color="#52ff00"/><stop offset="0.8340" stop-color="#31ff00"/><stop offset="0.8768" stop-color="#0aff00"/><stop offset="0.8969" stop-color="#00ff04"/><stop offset="0.9145" stop-color="#00ff41"/><stop offset="0.9447" stop-color="#00ffd0"/><stop offset="0.9522" stop-color="#00fff8"/><stop offset="0.9572" stop-color="#00ecff"/><stop offset="1.0000" stop-color="#0014ff"/></radialGradient>
<radialGradient id="g4_8" gradientUnits="userSpaceOnUse" cx="211.2" cy="1377" r="209.6"><stop offset="0.4995" stop-color="#4fff00"/><stop offset="0.5121" stop-color="#5fff00"/><stop offset="0.5322" stop-color="#86ff00"/><stop offset="0.5649" stop-color="#90ff00"/><stop offset="0.7611" stop-color="#86ff00"/><stop offset="0.7862" stop-color="#6cff00"/><stop offset="0.8139" stop-color="#3bff00"/><stop offset="0.8290" stop-color="#38ff00"/><stop offset="0.8768" stop-color="#0aff00"/><stop offset="0.8969" stop-color="#00ff04"/><stop offset="0.9145" stop-color="#00ff40"/><stop offset="0.9447" stop-color="#00ffcf"/><stop offset="0.9547" stop-color="#00f9ff"/><stop offset="1.0000" stop-color="#0014ff"/></radialGradient>
<radialGradient id="g4_9" gradientUnits="userSpaceOnUse" cx="211.2" cy="1377" r="209.6"><stop offset="0.4995" stop-color="#4fff00"/><stop offset="0.5121" stop-color="#5fff00"/><stop offset="0.5322" stop-color="#86ff00"/><stop offset="0.5649" stop-color="#90ff00"/><stop offset="0.7737" stop-color="#85ff00"/><stop offset="0.8013" stop-color="#70ff00"/><stop offset="0.8340" stop-color="#31ff00"/><stop offset="0.8793" stop-color="#09ff00"/><stop offset="0.8969" stop-color="#00ff04"/><stop offset="0.9145" stop-color="#00ff3f"/><stop offset="0.9447" stop-color="#00ffcf"/><stop offset="0.9547" stop-color="#00faff"/><stop offset="1.0000" stop-color="#0014ff"/></radialGradient>
<radialGradient id="g4_10" gradientUnits="userSpaceOnUse" cx="211.2" cy="1377" r="209.6"><stop offset="0.4995" stop-color="#4fff00"/><stop offset="0.5121" stop-color="#5fff00"/><stop offset="0.5322" stop-color="#86ff00"/><stop offset="0.5649" stop-color="#90ff00"/><stop offset="0.7837" stop-color="#85ff00"/><stop offset="0.8063" stop-color="#77ff00"/><stop offset="0.8315" stop-color="#39ff00"/><stop offset="0.8818" stop-color="#07ff00"/><stop offset="0.8969" stop-color="#00ff03"/><stop offset="0.9120" stop-color="#00ff31"/><stop offset="0.9396" stop-color="#00ffb2"/><stop offset="0.9547" stop-color="#00fcff"/><stop offset="1.0000" stop-color="#0014ff"/></radialGradient>
<radialGradient id="g4_11" gradientUnits="userSpaceOnUse" cx="211.2" cy="1377" r="209.6"><stop offset="0.4995" stop-color="#4fff00"/><stop offset="0.5121" stop-color="#5fff00"/><stop offset="0.5322" stop-color="#86ff00"/><stop offset="0.5649" stop-color="#90ff00"/><stop offset="0.7862" stop-color="#86ff00"/><stop offset="0.8089" stop-color="#79ff00"/><stop offset="0.8365" stop-color="#37ff00"/><stop offset="0.8868" stop-color="#04ff00"/><stop offset="0.8994" stop-color="#00ff06"/><stop offset="0.9120" stop-color="#00ff2b"/><stop offset="0.9396" stop-color="#00ffad"/><stop offset="0.9547" stop-color="#00ffff"/><stop offset="1.0000" stop-color="#0014ff"/></radialGradient>
<radialGradient id="g4_12" gradientUnits="userSpaceOnUse" cx="211.2" cy="1377" r="209.6"><stop offset="0.4995" stop-color="#4fff00"/><stop offset="0.5121" stop-color="#5fff00"/><stop offset="0.5322" stop-color="#86ff00"/><stop offset="0.5649" stop-color="#90ff00"/><stop offset="0.7913" stop-color="#86ff00"/><stop offset="0.8139" stop-color="#79ff00"/><stop offset="0.8416" stop-color="#36ff00"/><stop offset="0.8893" stop-color="#00ff01"/><stop offset="0.9044" stop-color="#00ff11"/><stop offset="0.9195" stop-color="#00ff45"/><stop offset="0.9497" stop-color="#00ffdf"/><stop offset="0.9547" stop-color="#00fffb"/><stop offset="1.0000" stop-color="#0014ff"/></radialGradient>
<radialGradient id="g4_13" gradientUnits="userSpaceOnUse" cx="211.2" cy="1377" r="209.6"><stop offset="0.4995" stop-color="#4fff00"/><stop offset="0.5121" stop-color="#5fff00"/><stop offset="0.5322" stop-color="#87ff00"/><stop offset="0.5649" stop-color="#90ff00"/><stop offset="0.7963" stop-color="#86ff00"/><stop offset="0.8189" stop-color="#79ff00"/><stop offset="0.8466" stop-color="#35ff00"/><stop offset="0.8893" stop-color="#00ff04"/><stop offset="0.9095" stop-color="#00ff1e"/><stop offset="0.9246" stop-color="#00ff57"/><stop offset="0.9547" stop-color="#00fff8"/><stop offset="0.9598" stop-color="#00ebff"/><stop offset="1.0000" stop-color="#0014ff"/></radialGradient>
<radialGradient id="g4_14" gradientUnits="userSpaceOnUse" cx="211.2" cy="1377" r="209.6"><stop offset="0.4995" stop-color="#60ff00"/><stop offset="0.5171" stop-color="#75ff00"/><stop offset="0.5398" stop-color="#8eff00"/><stop offset="0.7862" stop-color="#89ff00"/><stop offset="0.8189" stop-color="#7dff00"/><stop offset="0.8340" stop-color="#5aff00"/><stop offset="0.8516" stop-color="#32ff00"/><stop offset="0.8893" stop-color="#00ff03"/><stop offset="0.9120" stop-color="#00ff24"/><stop offset="0.9246" stop-color="#00ff53"/><stop offset="0.9572" stop-color="#00fbff"/><stop offset="1.0000" stop-color="#0014ff"/></radialGradient>
<radialGradient id="g4_15" gradientUnits="userSpaceOnUse" cx="211.2" cy="1377" r="209.6"><stop offset="0.4995" stop-color="#74ff00"/><stop offset="0.5423" stop-color="#8fff00"/><stop offset="0.7938" stop-color="#88ff00"/><stop offset="0.8214" stop-color="#7cff00"/><stop offset="0.8516" stop-color="#33ff00"/><stop offset="0.8893" stop-color="#00ff03"/><stop offset="0.9145" stop-color="#00ff2b"/><stop offset="0.9296" stop-color="#00ff6a"/><stop offset="0.9572" stop-color="#00fcff"/><stop offset="1.0000" stop-color="#0014ff"/></radialGradient>
<radialGradient id="g4_16" gradientUnits="userSpaceOnUse" cx="211.2" cy="1377" r="209.6"><stop offset="0.4995" stop-color="#89ff00"/><stop offset="0.6052" stop-color="#90ff00"/><stop offset="0.8038" stop-color="#86ff00"/><stop offset="0.8240" stop-color="#7bff00"/><stop offset="0.8541" stop-color="#32ff00"/><stop offset="0.8893" stop-color="#00ff02"/><stop offset="0.9145" stop-color="#00ff2b"/><stop offset="0.9271" stop-color="#00ff5c"/><stop offset="0.9572" stop-color="#00fdff"/><stop offset="1.0000" stop-color="#0014ff"/></radialGradient>
<radialGradient id="g4_17" gradientUnits="userSpaceOnUse" cx="211.2" cy="1377" r="209.6"><stop offset="0.4995" stop-color="#90ff00"/><stop offset="0.7988" stop-color="#88ff00"/><stop offset="0.8265" stop-color="#7cff00"/><stop offset="0.8566" stop-color="#32ff00"/><stop offset="0.8919" stop-color="#00ff05"/><stop offset="0.9170" stop-color="#00ff33"/><stop offset="0.9296" stop-color="#00ff64"/><stop offset="0.9572" stop-color="#00ffff"/><stop offset="1.0000" stop-color="#0014ff"/></radialGradient>
<radialGradient id="g4_18" gradientUnits="userSpaceOnUse" cx="211.2" cy="1377" r="209.6"><stop offset="0.4995" stop-color="#91ff00"/><stop offset="0.8013" stop-color="#89ff00"/><stop offset="0.8315" stop-color="#7cff00"/><stop offset="0.8491" stop-color="#4fff00"/><stop offset="0.8667" stop-color="#29ff00"/><stop offset="0.8919" stop-color="#00ff03"/><stop offset="0.9246" stop-color="#00ff50"/><stop offset="0.9396" stop-color="#00ff96"/><stop offset="0.9572" stop-color="#00fffc"/><stop offset="1.0000" stop-color="#0014ff"/></radialGradient>
<radialGradient id="g4_19" gradientUnits="userSpaceOnUse" cx="211.2" cy="1377" r="209.6"><stop offset="0.4995" stop-color="#91ff00"/><stop offset="0.8038" stop-color="#89ff00"/><stop offset="0.8365" stop-color="#7cff00"/><stop offset="0.8516" stop-color="#57ff00"/><stop offset="0.8692" stop-color="#2aff00"/><stop offset="0.8919" stop-color="#00ff00"/><stop offset="0.9296" stop-color="#00ff66"/><stop offset="0.9447" stop-color="#00ffaf"/><stop offset="0.9572" stop-color="#00fff9"/><stop offset="0.9698" stop-color="#00beff"/><stop offset="1.0000" stop-color="#0014ff"/></radialGradient>
<radialGradient id="g4_20" gradientUnits="userSpaceOnUse" cx="211.2" cy="1377" r="209.6"><stop offset="0.4995" stop-color="#91ff00"/><stop offset="0.8089" stop-color="#89ff00"/><stop offset="0.8416" stop-color="#7bff00"/><stop offset="0.8566" stop-color="#57ff00"/><stop offset="0.8768" stop-color="#21ff00"/><stop offset="0.8944" stop-color="#00ff02"/><stop offset="0.9346" stop-color="#00ff7d"/><stop offset="0.9497" stop-color="#00ffca"/><stop offset="0.9572" stop-color="#00fff7"/><stop offset="0.9623" stop-color="#00eaff"/><stop offset="1.0000" stop-color="#0014ff"/></radialGradient>
<radialGradient id="g4_21" gradientUnits="userSpaceOnUse" cx="211.2" cy="1377" r="209.6"><stop offset="0.4995" stop-color="#91ff00"/><stop offset="0.8114" stop-color="#89ff00"/><stop offset="0.8466" stop-color="#7aff00"/><stop offset="0.8592" stop-color="#5fff00"/><stop offset="0.8818" stop-color="#1dff00"/><stop offset="0.8969" stop-color="#00ff05"/><stop offset="0.9346" stop-color="#00ff82"/><stop offset="0.9497" stop-color="#00ffc8"/><stop offset="0.9598" stop-color="#00fbff"/><stop offset="1.0000" stop-color="#0014ff"/></radialGradient>
<radialGradient id="g4_22" gradientUnits="userSpaceOnUse" cx="211.2" cy="1377" r="209.6"><stop offset="0.4995" stop-color="#91ff00"/><stop offset="0.8139" stop-color="#89ff00"/><stop offset="0.8516" stop-color="#79ff00"/><stop offset="0.8642" stop-color="#5dff00"/><stop offset="0.8868" stop-color="#17ff00"/><stop offset="0.8969" stop-color="#00ff02"/><stop offset="0.9195" stop-color="#00ff4c"/><stop offset="0.9472" stop-color="#00ffbb"/><stop offset="0.9598" stop-color="#00fdff"/><stop offset="1.0000" stop-color="#0014ff"/></radialGradient>
<radialGradient id="g4_23" gradientUnits="userSpaceOnUse" cx="211.2" cy="1377" r="209.6"><stop offset="0.4995" stop-color="#91ff00"/><stop offset="0.8164" stop-color="#89ff00"/><stop offset="0.8566" stop-color="#77ff00"/><stop offset="0.8717" stop-color="#58ff00"/><stop offset="0.8994" stop-color="#02ff00"/><stop offset="0.9296" stop-color="#00ff63"/><stop offset="0.9472" stop-color="#00ffb4"/><stop offset="0.9598" stop-color="#00feff"/><stop offset="1.0000" stop-color="#0014ff"/></radialGradient>
<radialGradient id="g4_24" gradientUnits="userSpaceOnUse" cx="211.2" cy="1377" r="209.6"><stop offset="0.4995" stop-color="#91ff00"/><stop offset="0.8164" stop-color="#89ff00"/><stop offset="0.8617" stop-color="#75ff00"/><stop offset="0.8818" stop-color="#54ff00"/><stop offset="0.9095" stop-color="#01ff00"/><stop offset="0.9296" stop-color="#00ff50"/><stop offset="0.9547" stop-color="#00ffe0"/><stop offset="0.9598" stop-color="#00ffff"/><stop offset="1.0000" stop-color="#0014ff"/></radialGradient>
<radialGradient id="g4_25" gradientUnits="userSpaceOnUse" cx="211.2" cy="1377" r="209.6"><stop offset="0.4995" stop-color="#91ff00"/><stop offset="0.8189" stop-color="#8aff00"/><stop offset="0.8642" stop-color="#75ff00"/><stop offset="0.8893" stop-color="#50ff00"/><stop offset="0.9095" stop-color="#14ff00"/><stop offset="0.9145" stop-color="#00ff00"/><stop offset="0.9371" stop-color="#00ff74"/><stop offset="0.9598" stop-color="#00fffe"/><stop offset="1.0000" stop-color="#0014ff"/></radialGradient>
<radialGradient id="g4_26" gradientUnits="userSpaceOnUse" cx="211.2" cy="1377" r="209.6"><stop offset="0.4995" stop-color="#91ff00"/><stop offset="0.8290" stop-color="#8aff00"/><stop offset="0.8692" stop-color="#75ff00"/><stop offset="0.8919" stop-color="#51ff00"/><stop offset="0.9095" stop-color="#19ff00"/><stop offset="0.9145" stop-color="#04ff00"/><stop offset="0.9271" stop-color="#00ff3a"/><stop offset="0.9598" stop-color="#00ffff"/><stop offset="1.0000" stop-color="#0014ff"/></radialGradient>
<radialGradient id="g4_27" gradientUnits="userSpaceOnUse" cx="211.2" cy="1377" r="209.6"><stop offset="0.4995" stop-color="#91ff00"/><stop offset="0.8390" stop-color="#8bff00"/><stop offset="0.8743" stop-color="#77ff00"/><stop offset="0.8944" stop-color="#53ff00"/><stop offset="0.9120" stop-color="#15ff00"/><stop offset="0.9170" stop-color="#00ff03"/><stop offset="0.9447" stop-color="#00ffa1"/><stop offset="0.9598" stop-color="#00ffff"/><stop offset="1.0000" stop-color="#0014ff"/></radialGradient>
<radialGradient id="g4_28" gradientUnits="userSpaceOnUse" cx="211.2" cy="1377" r="209.6"><stop offset="0.4995" stop-color="#91ff00"/><stop offset="0.8491" stop-color="#8bff00"/><stop offset="0.8793" stop-color="#77ff00"/><stop offset="0.8969" stop-color="#53ff00"/><stop offset="0.9145" stop-color="#0eff00"/><stop offset="0.9170" stop-color="#01ff00"/><stop offset="0.9447" stop-color="#00ffa1"/><stop offset="0.9598" stop-color="#00feff"/><stop offset="1.0000" stop-color="#0014ff"/></radialGradient>
<radialGradient id="g4_29" gradientUnits="userSpaceOnUse" cx="211.2" cy="1377" r="209.6"><stop offset="0.4995" stop-color="#91ff00"/><stop offset="0.8541" stop-color="#8cff00"/><stop offset="0.8818" stop-color="#79ff00"/><stop offset="0.8994" stop-color="#53ff00"/><stop offset="0.9145" stop-color="#15ff00"/><stop offset="0.9195" stop-color="#00ff05"/><stop offset="0.9598" stop-color="#00fffd"/><stop offset="1.0000" stop-color="#0014ff"/></radialGradient>
<radialGradient id="g4_30" gradientUnits="userSpaceOnUse" cx="211.2" cy="1377" r="209.6"><stop offset="0.4995" stop-color="#91ff00"/><stop offset="0.8592" stop-color="#8bff00"/><stop offset="0.8868" stop-color="#76ff00"/><stop offset="0.9019" stop-color="#52ff00"/><stop offset="0.9170" stop-color="#11ff00"/><stop offset="0.9195" stop-color="#04ff00"/><stop offset="0.9371" stop-color="#00ff66"/><stop offset="0.9598" stop-color="#00fff8"/><stop offset="0.9648" stop-color="#00e7ff"/><stop offset="1.0000" stop-color="#0014ff"/></radialGradient>
<radialGradient id="g4_31" gradientUnits="userSpaceOnUse" cx="211.2" cy="1377" r="209.6"><stop offset="0.4995" stop-color="#a6ff00"/><stop offset="0.5272" stop-color="#b2ff00"/><stop offset="0.5398" stop-color="#92ff00"/><stop offset="0.8617" stop-color="#8bff00"/><stop offset="0.8868" stop-color="#78ff00"/><stop offset="0.9019" stop-color="#56ff00"/><stop offset="0.9170" stop-color="#16ff00"/><stop offset="0.9220" stop-color="#00ff05"/><stop offset="0.9598" stop-color="#00fff5"/><stop offset="0.9623" stop-color="#00f9ff"/><stop offset="1.0000" stop-color="#0014ff"/></radialGradient>
<radialGradient id="g4_32" gradientUnits="userSpaceOnUse" cx="211.2" cy="1377" r="209.6"><stop offset="0.4995" stop-color="#a6ff00"/><stop offset="0.5473" stop-color="#91ff00"/><stop offset="0.8617" stop-color="#8bff00"/><stop offset="0.8868" stop-color="#79ff00"/><stop offset="0.9019" stop-color="#58ff00"/><stop offset="0.9170" stop-color="#19ff00"/><stop offset="0.9220" stop-color="#00ff03"/><stop offset="0.9598" stop-color="#00fff4"/><stop offset="0.9623" stop-color="#00faff"/><stop offset="1.0000" stop-color="#0014ff"/></radialGradient>
<radialGradient id="g4_33" gradientUnits="userSpaceOnUse" cx="211.2" cy="1377" r="209.6"><stop offset="0.4995" stop-color="#91ff00"/><stop offset="0.8642" stop-color="#8bff00"/><stop offset="0.8893" stop-color="#78ff00"/><stop offset="0.9044" stop-color="#55ff00"/><stop offset="0.9195" stop-color="#12ff00"/><stop offset="0.9220" stop-color="#04ff00"/><stop offset="0.9346" stop-color="#00ff48"/><stop offset="0.9623" stop-color="#00feff"/><stop offset="1.0000" stop-color="#0014ff"/></radialGradient>
<radialGradient id="g4_34" gradientUnits="userSpaceOnUse" cx="211.2" cy="1377" r="209.6"><stop offset="0.4995" stop-color="#91ff00"/><stop offset="0.8667" stop-color="#8cff00"/><stop offset="0.8919" stop-color="#79ff00"/><stop offset="0.9069" stop-color="#55ff00"/><stop offset="0.9220" stop-color="#11ff00"/><stop offset="0.9246" stop-color="#02ff00"/><stop offset="0.9472" stop-color="#00ff91"/><stop offset="0.9623" stop-color="#00fff9"/><stop offset="0.9698" stop-color="#00d5ff"/><stop offset="1.0000" stop-color="#0014ff"/></radialGradient>
<radialGradient id="g4_35" gradientUnits="userSpaceOnUse" cx="211.2" cy="1377" r="209.6"><stop offset="0.4995" stop-color="#91ff00"/><stop offset="0.8717" stop-color="#8bff00"/><stop offset="0.8969" stop-color="#76ff00"/><stop offset="0.9120" stop-color="#4dff00"/><stop offset="0.9271" stop-color="#01ff00"/><stop offset="0.9572" stop-color="#00ffcd"/><stop offset="0.9648" stop-color="#00fbff"/><stop offset="1.0000" stop-color="#0014ff"/></radialGradient>
<radialGradient id="g4_36" gradientUnits="userSpaceOnUse" cx="211.2" cy="1377" r="209.6"><stop offset="0.4995" stop-color="#91ff00"/><stop offset="0.8743" stop-color="#8cff00"/><stop offset="0.8994" stop-color="#77ff00"/><stop offset="0.9145" stop-color="#4dff00"/><stop offset="0.9296" stop-color="#00ff02"/><stop offset="0.9648" stop-color="#00fffb"/><stop offset="1.0000" stop-color="#0014ff"/></radialGradient>
<radialGradient id="g4_37" gradientUnits="userSpaceOnUse" cx="211.2" cy="1377" r="209.6"><stop offset="0.4995" stop-color="#91ff00"/><stop offset="0.8793" stop-color="#8bff00"/><stop offset="0.9019" stop-color="#77ff00"/><stop offset="0.9145" stop-color="#56ff00"/><stop offset="0.9271" stop-color="#1aff00"/><stop offset="0.9321" stop-color="#00ff06"/><stop offset="0.9648" stop-color="#00fff4"/><stop offset="0.9673" stop-color="#00f8ff"/><stop offset="1.0000" stop-color="#0014ff"/></radialGradient>
<radialGradient id="g4_38" gradientUnits="userSpaceOnUse" cx="211.2" cy="1377" r="209.6"><stop offset="0.4995" stop-color="#91ff00"/><stop offset="0.8793" stop-color="#8cff00"/><stop offset="0.9019" stop-color="#7aff00"/><stop offset="0.9170" stop-color="#52ff00"/><stop offset="0.9296" stop-color="#12ff00"/><stop offset="0.9321" stop-color="#02ff00"/><stop offset="0.9522" stop-color="#00ff8f"/><stop offset="0.9673" stop-color="#00fcff"/><stop offset="1.0000" stop-color="#0014ff"/></radialGradient>
<radialGradient id="g4_39" gradientUnits="userSpaceOnUse" cx="211.2" cy="1377" r="209.6"><stop offset="0.4995" stop-color="#a4ff00"/><stop offset="0.5222" stop-color="#b2ff00"/><stop offset="0.5272" stop-color="#a5ff00"/><stop offset="0.5347" stop-color="#92ff00"/><stop offset="0.8818" stop-color="#8bff00"/><stop offset="0.9044" stop-color="#77ff00"/><stop offset="0.9170" stop-color="#55ff00"/><stop offset="0.9296" stop-color="#16ff00"/><stop offset="0.9321" stop-color="#06ff00"/><stop offset="0.9396" stop-color="#00ff2e"/><stop offset="0.9673" stop-color="#00fdff"/><stop offset="1.0000" stop-color="#0014ff"/></radialGradient>
<radialGradient id="g4_40" gradientUnits="userSpaceOnUse" cx="211.2" cy="1377" r="209.6"><stop offset="0.4995" stop-color="#a4ff00"/><stop offset="0.5398" stop-color="#91ff00"/><stop offset="0.8818" stop-color="#8cff00"/><stop offset="0.9044" stop-color="#79ff00"/><stop offset="0.9170" stop-color="#57ff00"/><stop offset="0.9296" stop-color="#19ff00"/><stop offset="0.9346" stop-color="#00ff07"/><stop offset="0.9673" stop-color="#00ffff"/><stop offset="1.0000" stop-color="#0014ff"/></radialGradient>
<radialGradient id="g4_41" gradientUnits="userSpaceOnUse" cx="211.2" cy="1377" r="209.6"><stop offset="0.4995" stop-color="#91ff00"/><stop offset="0.8843" stop-color="#8cff00"/><stop offset="0.9069" stop-color="#78ff00"/><stop offset="0.9195" stop-color="#54ff00"/><stop offset="0.9321" stop-color="#12ff00"/><stop offset="0.9346" stop-color="#02ff00"/><stop offset="0.9598" stop-color="#00ffbd"/><stop offset="0.9673" stop-color="#00fff9"/><stop offset="0.9799" stop-color="#00a8ff"/><stop offset="1.0000" stop-color="#0014ff"/></radialGradient>
<radialGradient id="g4_42" gradientUnits="userSpaceOnUse" cx="211.2" cy="1377" r="209.6"><stop offset="0.4995" stop-color="#91ff00"/><stop offset="0.8868" stop-color="#8cff00"/><stop offset="0.9095" stop-color="#79ff00"/><stop offset="0.9220" stop-color="#55ff00"/><stop offset="0.9346" stop-color="#10ff00"/><stop offset="0.9371" stop-color="#00ff01"/><stop offset="0.9673" stop-color="#00fff0"/><stop offset="0.9698" stop-color="#00f9ff"/><stop offset="1.0000" stop-color="#0014ff"/></radialGradient>
<radialGradient id="g4_43" gradientUnits="userSpaceOnUse" cx="211.2" cy="1377" r="209.6"><stop offset="0.4995" stop-color="#91ff00"/><stop offset="0.8919" stop-color="#8cff00"/><stop offset="0.9120" stop-color="#7aff00"/><stop offset="0.9246" stop-color="#55ff00"/><stop offset="0.9396" stop-color="#00ff04"/><stop offset="0.9698" stop-color="#00fffd"/><stop offset="1.0000" stop-color="#0014ff"/></radialGradient>
<radialGradient id="g4_44" gradientUnits="userSpaceOnUse" cx="211.2" cy="1377" r="209.6"><stop offset="0.4995" stop-color="#91ff00"/><stop offset="0.8944" stop-color="#8cff00"/><stop offset="0.9145" stop-color="#7aff00"/><stop offset="0.9271" stop-color="#55ff00"/><stop offset="0.9396" stop-color="#0aff00"/><stop offset="0.9422" stop-color="#00ff08"/><stop offset="0.9698" stop-color="#00fff4"/><stop offset="0.9723" stop-color="#00f5ff"/><stop offset="1.0000" stop-color="#0014ff"/></radialGradient>
<radialGradient id="g4_45" gradientUnits="userSpaceOnUse" cx="211.2" cy="1377" r="209.6"><stop offset="0.4995" stop-color="#91ff00"/><stop offset="0.8969" stop-color="#8cff00"/><stop offset="0.9170" stop-color="#79ff00"/><stop offset="0.9296" stop-color="#50ff00"/><stop offset="0.9422" stop-color="#01ff00"/><stop offset="0.9648" stop-color="#00ffc1"/><stop offset="0.9723" stop-color="#00f9ff"/><stop offset="1.0000" stop-color="#0014ff"/></radialGradient>
<radialGradient id="g4_46" gradientUnits="userSpaceOnUse" cx="211.2" cy="1377" r="209.6"><stop offset="0.4995" stop-color="#a4ff00"/><stop offset="0.5196" stop-color="#b0ff00"/><stop offset="0.5272" stop-color="#95ff00"/><stop offset="0.8994" stop-color="#8bff00"/><stop offset="0.9195" stop-color="#75ff00"/><stop offset="0.9296" stop-color="#53ff00"/><stop offset="0.9396" stop-color="#18ff00"/><stop offset="0.9422" stop-color="#05ff00"/><stop offset="0.9497" stop-color="#00ff38"/><stop offset="0.9723" stop-color="#00fcff"/><stop offset="1.0000" stop-color="#0014ff"/></radialGradient>
<radialGradient id="g4_47" gradientUnits="userSpaceOnUse" cx="211.2" cy="1377" r="209.6"><stop offset="0.4995" stop-color="#a4ff00"/><stop offset="0.5322" stop-color="#91ff00"/><stop offset="0.8994" stop-color="#8cff00"/><stop offset="0.9195" stop-color="#76ff00"/><stop offset="0.9296" stop-color="#55ff00"/><stop offset="0.9396" stop-color="#1aff00"/><stop offset="0.9422" stop-color="#08ff00"/><stop offset="0.9472" stop-color="#00ff20"/><stop offset="0.9723" stop-color="#00fdff"/><stop offset="1.0000" stop-color="#0014ff"/></radialGradient>
<radialGradient id="g4_48" gradientUnits="userSpaceOnUse" cx="211.2" cy="1377" r="209.6"><stop offset="0.4995" stop-color="#91ff00"/><stop offset="0.8994" stop-color="#8cff00"/><stop offset="0.9195" stop-color="#79ff00"/><stop offset="0.9296" stop-color="#5aff00"/><stop offset="0.9396" stop-color="#21ff00"/><stop offset="0.9447" stop-color="#00ff04"/><stop offset="0.9723" stop-color="#00fffd"/><stop offset="1.0000" stop-color="#0014ff"/></radialGradient>
<radialGradient id="g4_49" gradientUnits="userSpaceOnUse" cx="211.2" cy="1377" r="209.6"><stop offset="0.4995" stop-color="#91ff00"/><stop offset="0.9019" stop-color="#8cff00"/><stop offset="0.9220" stop-color="#78ff00"/><stop offset="0.9321" stop-color="#58ff00"/><stop offset="0.9422" stop-color="#1cff00"/><stop offset="0.9447" stop-color="#08ff00"/><stop offset="0.9472" stop-color="#00ff0c"/><stop offset="0.9723" stop-color="#00fff5"/><stop offset="0.9749" stop-color="#00f2ff"/><stop offset="1.0000" stop-color="#0014ff"/></radialGradient>
<radialGradient id="g4_50" gradientUnits="userSpaceOnUse" cx="211.2" cy="1377" r="209.6"><stop offset="0.4995" stop-color="#91ff00"/><stop offset="0.9044" stop-color="#8cff00"/><stop offset="0.9220" stop-color="#7cff00"/><stop offset="0.9321" stop-color="#5eff00"/><stop offset="0.9422" stop-color="#24ff00"/><stop offset="0.9472" stop-color="#00ff04"/><stop offset="0.9723" stop-color="#00fff0"/><stop offset="0.9749" stop-color="#00f6ff"/><stop offset="1.0000" stop-color="#0014ff"/></radialGradient>
<radialGradient id="g4_51" gradientUnits="userSpaceOnUse" cx="211.2" cy="1377" r="209.6"><stop offset="0.4995" stop-color="#a4ff00"/><stop offset="0.5222" stop-color="#b2ff00"/><stop offset="0.5272" stop-color="#a5ff00"/><stop offset="0.5347" stop-color="#92ff00"/><stop offset="0.9044" stop-color="#8cff00"/><stop offset="0.9220" stop-color="#7dff00"/><stop offset="0.9321" stop-color="#60ff00"/><stop offset="0.9422" stop-color="#27ff00"/><stop offset="0.9472" stop-color="#00ff01"/><stop offset="0.9723" stop-color="#00ffee"/><stop offset="0.9749" stop-color="#00f8ff"/><stop offset="1.0000" stop-color="#0014ff"/></radialGradient>
<radialGradient id="g4_52" gradientUnits="userSpaceOnUse" cx="211.2" cy="1377" r="209.6"><stop offset="0.4995" stop-color="#a4ff00"/><stop offset="0.5398" stop-color="#91ff00"/><stop offset="0.9044" stop-color="#8dff00"/><stop offset="0.9246" stop-color="#78ff00"/><stop offset="0.9346" stop-color="#56ff00"/><stop offset="0.9447" stop-color="#16ff00"/><stop offset="0.9472" stop-color="#01ff00"/><stop offset="0.9673" stop-color="#00ffbc"/><stop offset="0.9723" stop-color="#00ffed"/><stop offset="0.9749" stop-color="#00f9ff"/><stop offset="1.0000" stop-color="#0014ff"/></radialGradient>
<radialGradient id="g4_53" gradientUnits="userSpaceOnUse" cx="211.2" cy="1377" r="209.6"><stop offset="0.4995" stop-color="#91ff00"/><stop offset="0.9019" stop-color="#8eff00"/><stop offset="0.9220" stop-color="#7fff00"/><stop offset="0.9321" stop-color="#65ff00"/><stop offset="0.9422" stop-color="#2eff00"/><stop offset="0.9472" stop-color="#08ff00"/><stop offset="0.9522" stop-color="#00ff25"/><stop offset="0.9749" stop-color="#00fcff"/><stop offset="1.0000" stop-color="#0014ff"/></radialGradient>
<radialGradient id="g4_54" gradientUnits="userSpaceOnUse" cx="211.2" cy="1377" r="209.6"><stop offset="0.4995" stop-color="#91ff00"/><stop offset="0.7384" stop-color="#9aff00"/><stop offset="0.8919" stop-color="#94ff00"/><stop offset="0.9220" stop-color="#82ff00"/><stop offset="0.9346" stop-color="#60ff00"/><stop offset="0.9447" stop-color="#24ff00"/><stop offset="0.9497" stop-color="#00ff05"/><stop offset="0.9749" stop-color="#00fffd"/><stop offset="1.0000" stop-color="#0014ff"/></radialGradient>
<radialGradient id="g4_55" gradientUnits="userSpaceOnUse" cx="211.2" cy="1377" r="209.6"><stop offset="0.4995" stop-color="#91ff00"/><stop offset="0.7309" stop-color="#9cff00"/><stop offset="0.8893" stop-color="#96ff00"/><stop offset="0.9220" stop-color="#84ff00"/><stop offset="0.9346" stop-color="#64ff00"/><stop offset="0.9447" stop-color="#2aff00"/><stop offset="0.9497" stop-color="#01ff00"/><stop offset="0.9673" stop-color="#00ffac"/><stop offset="0.9749" stop-color="#00fffa"/><stop offset="0.9874" stop-color="#008cff"/><stop offset="1.0000" stop-color="#0014ff"/></radialGradient>
<radialGradient id="g4_56" gradientUnits="userSpaceOnUse" cx="211.2" cy="1377" r="209.6"><stop offset="0.4995" stop-color="#93ff00"/><stop offset="0.5322" stop-color="#96ff00"/><stop offset="0.5775" stop-color="#93ff00"/><stop offset="0.7083" stop-color="#9cff00"/><stop offset="0.8868" stop-color="#97ff00"/><stop offset="0.9220" stop-color="#84ff00"/><stop offset="0.9346" stop-color="#66ff00"/><stop offset="0.9447" stop-color="#2dff00"/><stop offset="0.9497" stop-color="#05ff00"/><stop offset="0.9572" stop-color="#00ff42"/><stop offset="0.9749" stop-color="#00fff8"/><stop offset="0.9799" stop-color="#00d5ff"/><stop offset="1.0000" stop-color="#0014ff"/></radialGradient>
<radialGradient id="g4_57" gradientUnits="userSpaceOnUse" cx="211.2" cy="1377" r="209.6"><stop offset="0.4995" stop-color="#a8ff00"/><stop offset="0.5297" stop-color="#afff00"/><stop offset="0.5398" stop-color="#93ff00"/><stop offset="0.7762" stop-color="#9cff00"/><stop offset="0.8919" stop-color="#95ff00"/><stop offset="0.9246" stop-color="#81ff00"/><stop offset="0.9346" stop-color="#67ff00"/><stop offset="0.9447" stop-color="#2eff00"/><stop offset="0.9497" stop-color="#06ff00"/><stop offset="0.9547" stop-color="#00ff29"/><stop offset="0.9749" stop-color="#00fff7"/><stop offset="0.9799" stop-color="#00d6ff"/><stop offset="1.0000" stop-color="#0014ff"/></radialGradient>
<radialGradient id="g4_58" gradientUnits="userSpaceOnUse" cx="211.2" cy="1377" r="209.6"><stop offset="0.4995" stop-color="#a8ff00"/><stop offset="0.5473" stop-color="#91ff00"/><stop offset="0.7108" stop-color="#9cff00"/><stop offset="0.8868" stop-color="#97ff00"/><stop offset="0.9220" stop-color="#85ff00"/><stop offset="0.9346" stop-color="#67ff00"/><stop offset="0.9447" stop-color="#2fff00"/><stop offset="0.9497" stop-color="#07ff00"/><stop offset="0.9547" stop-color="#00ff28"/><stop offset="0.9749" stop-color="#00fff7"/><stop offset="0.9799" stop-color="#00d6ff"/><stop offset="1.0000" stop-color="#0014ff"/></radialGradient>
<radialGradient id="g4_59" gradientUnits="userSpaceOnUse" cx="211.2" cy="1377" r="209.6"><stop offset="0.4995" stop-color="#91ff00"/><stop offset="0.6831" stop-color="#9cff00"/><stop offset="0.8868" stop-color="#96ff00"/><stop offset="0.9220" stop-color="#85ff00"/><stop offset="0.9346" stop-color="#69ff00"/><stop offset="0.9447" stop-color="#31ff00"/><stop offset="0.9497" stop-color="#09ff00"/><stop offset="0.9522" stop-color="#00ff0e"/><stop offset="0.9749" stop-color="#00fff5"/><stop offset="0.9774" stop-color="#00f0ff"/><stop offset="1.0000" stop-color="#0014ff"/></radialGradient>
<radialGradient id="g4_60" gradientUnits="userSpaceOnUse" cx="211.2" cy="1377" r="209.6"><stop offset="0.4995" stop-color="#92ff00"/><stop offset="0.6429" stop-color="#9cff00"/><stop offset="0.8843" stop-color="#97ff00"/><stop offset="0.9220" stop-color="#86ff00"/><stop offset="0.9346" stop-color="#6aff00"/><stop offset="0.9422" stop-color="#45ff00"/><stop offset="0.9497" stop-color="#0cff00"/><stop offset="0.9522" stop-color="#00ff0b"/><stop offset="0.9749" stop-color="#00fff3"/><stop offset="0.9774" stop-color="#00f1ff"/><stop offset="1.0000" stop-color="#0014ff"/></radialGradient>
</defs>
<rect width="685" height="1437" fill="#fff"/>
<path d="M421.4 297A210.2 210.2 0 0 0 421.23 288.56L315.22 292.82A104.1 104.1 0 0 1 315.3 297Z" fill="url(#g0_0)"/>
<path d="M421.27 289.66A210.2 210.2 0 0 0 421.05 284.9L315.13 291.01A104.1 104.1 0 0 1 315.24 293.37Z" fill="url(#g0_1)"/>
<path d="M421.11 286A210.2 210.2 0 0 0 420.81 281.24L315.01 289.19A104.1 104.1 0 0 1 315.16 291.55Z" fill="url(#g0_2)"/>
<path d="M420.89 282.34A210.2 210.2 0 0 0 420.5 277.58L314.85 287.38A104.1 104.1 0 0 1 315.05 289.74Z" fill="url(#g0_3)"/>
<path d="M420.6 278.68A210.2 210.2 0 0 0 420.13 273.93L314.67 285.58A104.1 104.1 0 0 1 314.9 287.93Z" fill="url(#g0_4)"/>
<path d="M420.25 275.03A210.2 210.2 0 0 0 419.7 270.29L314.46 283.77A104.1 104.1 0 0 1 314.73 286.12Z" fill="url(#g0_5)"/>
<path d="M419.83 271.38A210.2 210.2 0 0 0 419.2 266.66L314.21 281.97A104.1 104.1 0 0 1 314.52 284.31Z" fill="url(#g0_6)"/>
<path d="M419.35 267.75A210.2 210.2 0 0 0 418.64 263.03L313.93 280.18A104.1 104.1 0 0 1 314.29 282.51Z" fill="url(#g0_7)"/>
<path d="M418.81 264.12A210.2 210.2 0 0 0 418.01 259.42L313.62 278.39A104.1 104.1 0 0 1 314.02 280.72Z" fill="url(#g0_8)"/>
<path d="M418.21 260.5A210.2 210.2 0 0 0 417.33 255.81L313.28 276.6A104.1 104.1 0 0 1 313.72 278.92Z" fill="url(#g0_9)"/>
<path d="M417.54 256.89A210.2 210.2 0 0 0 416.57 252.22L312.91 274.82A104.1 104.1 0 0 1 313.39 277.14Z" fill="url(#g0_10)"/>
<path d="M416.81 253.3A210.2 210.2 0 0 0 415.76 248.64L312.51 273.05A104.1 104.1 0 0 1 313.03 275.36Z" fill="url(#g0_11)"/>
<path d="M416.01 249.72A210.2 210.2 0 0 0 414.89 245.08L312.07 271.29A104.1 104.1 0 0 1 312.63 273.58Z" fill="url(#g0_12)"/>
<path d="M415.16 246.15A210.2 210.2 0 0 0 413.95 241.53L311.61 269.53A104.1 104.1 0 0 1 312.21 271.82Z" fill="url(#g0_13)"/>
<path d="M414.24 242.6A210.2 210.2 0 0 0 412.95 238L311.12 267.78A104.1 104.1 0 0 1 311.75 270.06Z" fill="url(#g0_14)"/>
<path d="M413.26 239.06A210.2 210.2 0 0 0 411.89 234.49L310.59 266.04A104.1 104.1 0 0 1 311.27 268.31Z" fill="url(#g0_15)"/>
<path d="M412.22 235.54A210.2 210.2 0 0 0 410.77 231L310.04 264.31A104.1 104.1 0 0 1 310.75 266.56Z" fill="url(#g0_16)"/>
<path d="M411.11 232.04A210.2 210.2 0 0 0 408.34 224.07L308.83 260.88A104.1 104.1 0 0 1 310.2 264.83Z" fill="url(#g0_17)"/>
<path d="M408.72 225.11A210.2 210.2 0 0 0 405.68 217.24L307.51 257.5A104.1 104.1 0 0 1 309.02 261.4Z" fill="url(#g0_18)"/>
<path d="M406.09 218.26A210.2 210.2 0 0 0 402.78 210.5L306.08 254.16A104.1 104.1 0 0 1 307.72 258Z" fill="url(#g0_19)"/>
<path d="M403.23 211.5A210.2 210.2 0 0 0 399.64 203.87L304.52 250.88A104.1 104.1 0 0 1 306.3 254.66Z" fill="url(#g0_20)"/>
<path d="M400.13 204.85A210.2 210.2 0 0 0 396.28 197.35L302.86 247.65A104.1 104.1 0 0 1 304.76 251.37Z" fill="url(#g0_21)"/>
<path d="M396.8 198.32A210.2 210.2 0 0 0 392.69 190.95L301.08 244.48A104.1 104.1 0 0 1 303.11 248.13Z" fill="url(#g0_22)"/>
<path d="M393.24 191.9A210.2 210.2 0 0 0 390.81 187.8L300.15 242.92A104.1 104.1 0 0 1 301.35 244.95Z" fill="url(#g0_23)"/>
<path d="M391.38 188.74A210.2 210.2 0 0 0 388.87 184.68L299.19 241.37A104.1 104.1 0 0 1 300.43 243.38Z" fill="url(#g0_24)"/>
<path d="M389.46 185.61A210.2 210.2 0 0 0 386.89 181.6L298.21 239.85A104.1 104.1 0 0 1 299.48 241.84Z" fill="url(#g0_25)"/>
<path d="M387.49 182.52A210.2 210.2 0 0 0 384.85 178.55L297.2 238.34A104.1 104.1 0 0 1 298.51 240.3Z" fill="url(#g0_26)"/>
<path d="M385.46 179.46A210.2 210.2 0 0 0 382.75 175.53L296.16 236.85A104.1 104.1 0 0 1 297.5 238.79Z" fill="url(#g0_27)"/>
<path d="M383.39 176.43A210.2 210.2 0 0 0 380.61 172.56L295.1 235.37A104.1 104.1 0 0 1 296.47 237.29Z" fill="url(#g0_28)"/>
<path d="M381.26 173.45A210.2 210.2 0 0 0 376.16 166.72L292.9 232.48A104.1 104.1 0 0 1 295.42 235.81Z" fill="url(#g0_29)"/>
<path d="M376.84 167.59A210.2 210.2 0 0 0 371.51 161.04L290.59 229.67A104.1 104.1 0 0 1 293.23 232.91Z" fill="url(#g0_30)"/>
<path d="M372.22 161.89A210.2 210.2 0 0 0 364.18 152.84L286.96 225.61A104.1 104.1 0 0 1 290.95 230.09Z" fill="url(#g0_31)"/>
<path d="M364.93 153.64A210.2 210.2 0 0 0 353.75 142.52L281.8 220.5A104.1 104.1 0 0 1 287.33 226Z" fill="url(#g0_32)"/>
<path d="M354.56 143.27A210.2 210.2 0 0 0 339.74 130.68L274.86 214.63A104.1 104.1 0 0 1 282.2 220.87Z" fill="url(#g0_33)"/>
<path d="M340.61 131.36A210.2 210.2 0 0 0 321.65 118.16L265.9 208.43A104.1 104.1 0 0 1 275.29 214.97Z" fill="url(#g0_34)"/>
<path d="M322.59 118.74A210.2 210.2 0 0 0 308.91 110.89L259.59 204.83A104.1 104.1 0 0 1 266.36 208.72Z" fill="url(#g0_35)"/>
<path d="M309.88 111.4A210.2 210.2 0 0 0 305.65 109.21L257.97 204A104.1 104.1 0 0 1 260.07 205.09Z" fill="url(#g0_36)"/>
<path d="M306.63 109.71A210.2 210.2 0 0 0 302.36 107.59L256.34 203.2A104.1 104.1 0 0 1 258.46 204.25Z" fill="url(#g0_37)"/>
<path d="M303.35 108.07A210.2 210.2 0 0 0 299.04 106.03L254.7 202.42A104.1 104.1 0 0 1 256.83 203.44Z" fill="url(#g0_38)"/>
<path d="M300.03 106.49A210.2 210.2 0 0 0 278.59 97.9L244.58 198.4A104.1 104.1 0 0 1 255.19 202.65Z" fill="url(#g0_39)"/>
<path d="M279.63 98.25A210.2 210.2 0 0 0 257.41 91.94L234.09 195.45A104.1 104.1 0 0 1 245.09 198.57Z" fill="url(#g0_40)"/>
<path d="M258.48 92.19A210.2 210.2 0 0 0 235.72 88.24L223.35 193.61A104.1 104.1 0 0 1 234.62 195.57Z" fill="url(#g0_41)"/>
<path d="M236.82 88.37A210.2 210.2 0 0 0 217.44 86.89L214.29 192.95A104.1 104.1 0 0 1 223.89 193.68Z" fill="url(#g0_42)"/>
<path d="M218.54 86.93A210.2 210.2 0 0 0 213.77 86.82L212.47 192.91A104.1 104.1 0 0 1 214.83 192.96Z" fill="url(#g0_43)"/>
<path d="M214.87 86.83A210.2 210.2 0 0 0 210.1 86.8L210.65 192.9A104.1 104.1 0 0 1 213.02 192.92Z" fill="url(#g0_44)"/>
<path d="M211.2 86.8A210.2 210.2 0 0 0 206.43 86.85L208.84 192.93A104.1 104.1 0 0 1 211.2 192.9Z" fill="url(#g0_45)"/>
<path d="M207.53 86.83A210.2 210.2 0 0 0 202.76 86.97L207.02 192.98A104.1 104.1 0 0 1 209.38 192.92Z" fill="url(#g0_46)"/>
<path d="M203.86 86.93A210.2 210.2 0 0 0 199.1 87.15L205.21 193.07A104.1 104.1 0 0 1 207.57 192.96Z" fill="url(#g0_47)"/>
<path d="M200.2 87.09A210.2 210.2 0 0 0 195.44 87.39L203.39 193.19A104.1 104.1 0 0 1 205.75 193.04Z" fill="url(#g0_48)"/>
<path d="M196.54 87.31A210.2 210.2 0 0 0 188.13 88.07L199.78 193.53A104.1 104.1 0 0 1 203.94 193.15Z" fill="url(#g0_49)"/>
<path d="M189.23 87.95A210.2 210.2 0 0 0 180.86 89L196.17 193.99A104.1 104.1 0 0 1 200.32 193.47Z" fill="url(#g0_50)"/>
<path d="M181.95 88.85A210.2 210.2 0 0 0 177.23 89.56L194.38 194.27A104.1 104.1 0 0 1 196.71 193.91Z" fill="url(#g0_51)"/>
<path d="M178.32 89.39A210.2 210.2 0 0 0 173.62 90.19L192.59 194.58A104.1 104.1 0 0 1 194.92 194.18Z" fill="url(#g0_52)"/>
<path d="M174.7 89.99A210.2 210.2 0 0 0 170.01 90.87L190.8 194.92A104.1 104.1 0 0 1 193.12 194.48Z" fill="url(#g0_53)"/>
<path d="M171.09 90.66A210.2 210.2 0 0 0 162.84 92.44L187.25 195.69A104.1 104.1 0 0 1 191.34 194.81Z" fill="url(#g0_54)"/>
<path d="M163.92 92.19A210.2 210.2 0 0 0 155.73 94.25L183.73 196.59A104.1 104.1 0 0 1 187.78 195.57Z" fill="url(#g0_55)"/>
<path d="M156.8 93.96A210.2 210.2 0 0 0 148.69 96.31L180.24 197.61A104.1 104.1 0 0 1 184.26 196.45Z" fill="url(#g0_56)"/>
<path d="M149.74 95.98A210.2 210.2 0 0 0 141.73 98.61L176.79 198.75A104.1 104.1 0 0 1 180.76 197.45Z" fill="url(#g0_57)"/>
<path d="M142.77 98.25A210.2 210.2 0 0 0 131.44 102.52L171.7 200.69A104.1 104.1 0 0 1 177.31 198.57Z" fill="url(#g0_58)"/>
<path d="M132.46 102.11A210.2 210.2 0 0 0 124.7 105.42L168.36 202.12A104.1 104.1 0 0 1 172.2 200.48Z" fill="url(#g0_59)"/>
<path d="M125.7 104.97A210.2 210.2 0 0 0 118.07 108.56L165.08 203.68A104.1 104.1 0 0 1 168.86 201.9Z" fill="url(#g0_60)"/>
<path d="M119.05 108.07A210.2 210.2 0 0 0 111.55 111.92L161.85 205.34A104.1 104.1 0 0 1 165.57 203.44Z" fill="url(#g0_61)"/>
<path d="M112.52 111.4A210.2 210.2 0 0 0 105.15 115.51L158.68 207.12A104.1 104.1 0 0 1 162.33 205.09Z" fill="url(#g0_62)"/>
<path d="M106.1 114.96A210.2 210.2 0 0 0 98.88 119.33L155.57 209.01A104.1 104.1 0 0 1 159.15 206.85Z" fill="url(#g0_63)"/>
<path d="M99.81 118.74A210.2 210.2 0 0 0 92.75 123.35L152.54 211A104.1 104.1 0 0 1 156.04 208.72Z" fill="url(#g0_64)"/>
<path d="M93.66 122.74A210.2 210.2 0 0 0 86.76 127.59L149.57 213.1A104.1 104.1 0 0 1 152.99 210.7Z" fill="url(#g0_65)"/>
<path d="M87.65 126.94A210.2 210.2 0 0 0 83.82 129.79L148.12 214.19A104.1 104.1 0 0 1 150.01 212.78Z" fill="url(#g0_66)"/>
<path d="M84.7 129.13A210.2 210.2 0 0 0 80.92 132.04L146.68 215.3A104.1 104.1 0 0 1 148.55 213.86Z" fill="url(#g0_67)"/>
<path d="M81.79 131.36A210.2 210.2 0 0 0 78.06 134.34L145.27 216.44A104.1 104.1 0 0 1 147.11 214.97Z" fill="url(#g0_68)"/>
<path d="M78.92 133.64A210.2 210.2 0 0 0 69.73 141.53L141.14 220A104.1 104.1 0 0 1 145.69 216.1Z" fill="url(#g0_69)"/>
<path d="M70.55 140.79A210.2 210.2 0 0 0 59.23 151.78L135.94 225.08A104.1 104.1 0 0 1 141.54 219.64Z" fill="url(#g0_70)"/>
<path d="M59.99 150.98A210.2 210.2 0 0 0 54.26 157.17L133.47 227.75A104.1 104.1 0 0 1 136.32 224.69Z" fill="url(#g0_71)"/>
<path d="M54.99 156.35A210.2 210.2 0 0 0 51.84 159.93L132.28 229.12A104.1 104.1 0 0 1 133.84 227.34Z" fill="url(#g0_72)"/>
<path d="M52.56 159.1A210.2 210.2 0 0 0 49.47 162.73L131.11 230.5A104.1 104.1 0 0 1 132.63 228.7Z" fill="url(#g0_73)"/>
<path d="M50.18 161.89A210.2 210.2 0 0 0 47.15 165.57L129.96 231.91A104.1 104.1 0 0 1 131.45 230.09Z" fill="url(#g0_74)"/>
<path d="M47.84 164.72A210.2 210.2 0 0 0 34.31 183.44L123.6 240.76A104.1 104.1 0 0 1 130.3 231.49Z" fill="url(#g0_75)"/>
<path d="M34.91 182.52A210.2 210.2 0 0 0 23.41 202.55L118.2 250.23A104.1 104.1 0 0 1 123.89 240.3Z" fill="url(#g0_76)"/>
<path d="M23.91 201.57A210.2 210.2 0 0 0 14.57 222.7L113.82 260.2A104.1 104.1 0 0 1 118.45 249.74Z" fill="url(#g0_77)"/>
<path d="M14.96 221.67A210.2 210.2 0 0 0 9.87 236.6L111.49 267.09A104.1 104.1 0 0 1 114.01 259.69Z" fill="url(#g0_78)"/>
<path d="M10.18 235.54A210.2 210.2 0 0 0 6.98 247.22L110.06 272.35A104.1 104.1 0 0 1 111.65 266.56Z" fill="url(#g0_79)"/>
<path d="M7.24 246.15A210.2 210.2 0 0 0 5.37 254.37L109.26 275.89A104.1 104.1 0 0 1 110.19 271.82Z" fill="url(#g0_80)"/>
<path d="M5.59 253.3A210.2 210.2 0 0 0 4.01 261.58L108.59 279.46A104.1 104.1 0 0 1 109.37 275.36Z" fill="url(#g0_81)"/>
<path d="M4.19 260.5A210.2 210.2 0 0 0 3.42 265.2L108.3 281.25A104.1 104.1 0 0 1 108.68 278.92Z" fill="url(#g0_82)"/>
<path d="M3.59 264.12A210.2 210.2 0 0 0 2.9 268.84L108.04 283.05A104.1 104.1 0 0 1 108.38 280.72Z" fill="url(#g0_83)"/>
<path d="M3.05 267.75A210.2 210.2 0 0 0 2.44 272.48L107.81 284.85A104.1 104.1 0 0 1 108.11 282.51Z" fill="url(#g0_84)"/>
<path d="M2.57 271.38A210.2 210.2 0 0 0 2.04 276.12L107.61 286.66A104.1 104.1 0 0 1 107.88 284.31Z" fill="url(#g0_85)"/>
<path d="M2.15 275.03A210.2 210.2 0 0 0 1.71 279.78L107.45 288.47A104.1 104.1 0 0 1 107.67 286.12Z" fill="url(#g0_86)"/>
<path d="M1.8 278.68A210.2 210.2 0 0 0 1.44 283.44L107.32 290.28A104.1 104.1 0 0 1 107.5 287.93Z" fill="url(#g0_87)"/>
<path d="M1.51 282.34A210.2 210.2 0 0 0 1.23 287.1L107.22 292.1A104.1 104.1 0 0 1 107.35 289.74Z" fill="url(#g0_88)"/>
<path d="M1.29 286A210.2 210.2 0 0 0 1.02 294.43L107.11 295.73A104.1 104.1 0 0 1 107.24 291.55Z" fill="url(#g0_89)"/>
<path d="M1.03 293.33A210.2 210.2 0 0 0 1 297L107.1 297A104.1 104.1 0 0 1 107.12 295.18Z" fill="url(#g0_90)"/>
<path d="M3.2 297l1.2 -20.4l3.1 -20.1l5.2 -20.2l6.9 -19.2l8.8 -18.4l10.5 -17.4l12.2 -16.3l13.5 -14.8l14.8 -13.3l16.4 -12l17.5 -10.3l18.4 -8.6l18.8 -6.6l19.7 -4.8l20 -2.9l20.3 -1l20.7 1l20.4 3.1l20.1 5.1l19.4 7.1l18.7 9l17.2 10.6l16.1 12.2l15.1 14.1l13.9 16l12 17.3l10.2 18.4l8.1 19.4l5.7 19.3l3.6 18.8l0 4.9l-1.5 15.2l-0.6 14.8M6.5 297l1.5 -20l3.3 -19.8l5.3 -19.7l7 -19.2l8.7 -18l10.2 -16.7l11.9 -15.9l13.2 -14.4l14 -12.5l15.8 -11.2l16.8 -9.7l18.4 -8.3l18.3 -6.2l18.8 -4.5l19.5 -2.6l20 -0.9l20.9 1l20.6 3.2l20.2 5.3l19.1 7.2l18.3 9.1l17.2 11l15.9 12.8l14.5 14.3l6.9 8.3l6.7 9.1l6 9.4l5.7 10.1l4.7 9.7l4 9.9l3.3 10.2l2.9 10.7l3.1 16.2l0.7 9.6l-1.4 4.2l-8.3 15l-2.2 7.9l-0.6 5.4M9.8 297l1.8 -19.7l3.5 -19.3l5.5 -19.8l7.2 -19.1l8.6 -17.5l10.1 -16.3l11.5 -15.2l12.7 -13.7l13.4 -11.7l15.2 -10.7l16.3 -9l18 -7.9l17.4 -5.7l17.9 -4.1l18.9 -2.5l19.4 -0.8l21 1l20.8 3.2l20.2 5.4l19.6 7.5l18.3 9.5l16.7 11.1l15.6 13.3l7.4 7.4l6 6.9l7 9.3l6.6 10.1l5.9 10.9l4.9 10.9l3.9 10.8l3 11l2.2 11.1l1.8 13.5l0.2 7.2l-0.9 3.8l-3 3.5l-14.2 13.8l-4 7.1l-1.1 4.7M13.2 297l2 -18.9l3.9 -19.3l5.8 -20.1l7.2 -18.7l8.3 -16.8l9.9 -15.8l11.1 -14.6l12.4 -13.3l12.9 -11.1l14.3 -9.7l16 -8.6l17.3 -7.2l16.6 -5.4l17.3 -3.8l17.9 -2.2l19.2 -0.7l21.5 1l21.2 3.4l20.3 5.5l19.5 7.8l17.8 9.5l8.4 5.6l8.1 6l7.7 6.5l7.5 7.3l6.5 7.1l5.7 7.2l6.3 9.3l5.6 10l5.2 11.1l3.7 9.9l2.9 10.6l2 10.7l1.1 10.7l0.6 13.3l-0.9 5l-1.5 2.1l-12.6 8.8l-12.1 7.5l-5.8 6.2l-1.2 2.1l-0.5 2M16.9 297l2.4 -18.6l4.1 -18.8l6.2 -20.3l7.2 -18.2l8.2 -16.3l9.5 -15.1l10.6 -13.8l11.9 -12.6l11.6 -10l13.3 -8.9l15.3 -8l16.5 -6.8l16.1 -5.1l16 -3.4l17.3 -2.1l18.9 -0.8l22.2 1l10.8 1.4l10.3 1.9l10.2 2.5l10.3 3.2l9.9 3.6l9.5 4.2l4.7 2.8l5 2.1l8.2 5l8.3 5.7l7.9 6.2l7.6 7l7.2 7.5l5.6 6.8l5.3 7.5l5.4 9.2l4.8 10.2l3.8 9.8l2.6 9.4l1.8 9.8l1 10.3l0 16.3l-0.6 5.7l-1.2 3.3l-2.8 2.5l-5.8 3.2l-11.5 5.3l-2.1 0.1l-4.2 -1.6l-8.8 -0.6l-3.3 -1.8l1 4.8l2.3 2.5l0.3 1.8l-2.3 2.5l-7 5.1l-1.4 2.6M288 140.9l0.3 1.1l0.8 0l0.7 -0.6l0.2 -1.1l-1 -0.5l-1 1.1M308 257l4.7 9.5l3.6 9.3l3.2 4.8l0 1.2l-0.7 0.9l-3.6 1.6M23 297l2.6 -16.6l3.9 -16.1l5.8 -18.6l6.9 -17.9l6.9 -14.3l7.9 -13.4l8.6 -12.4l9.8 -11.5l9.6 -9.5l9.3 -7.4l11 -6.9l12.3 -6.2l14.8 -5.7l16.9 -5.1l13.7 -2.8l14.2 -1.7l18.8 -0.6l21.1 0.8l16.9 2l16.2 3.6l16.8 5.4l13.1 5.9l0.4 1.6l-0.4 2.1l-6.3 14l0.6 1.5l1.5 -0.3l7.2 -11.1l2.6 -2.9l1.6 -0.9l2.1 0.7l7.6 4.7l12.3 9.3l8.3 7.7l7.6 8.4l5.5 7.4l4.8 8.3l2.7 5.7l0.6 2.5l-0.9 3.1l-2.9 4.8l0.3 2.1l2 0.9l3 -1l1.6 0l1 0.8l0.7 1.9l2.6 12.2l0.6 13l-0.7 9.4l-1.8 12l-1.9 6.2l-1.4 2l-1.7 1.2l-3.1 0.8l-3.8 0.2l-2.8 -0.3l-5 -4.7l-10.5 -22.1l-0.4 -3.4l-0.9 -2.3l-4.7 -7.7l-6.6 -9.1l-7.4 -8.5l-8.4 -7.8l-9.7 -7.5l-10.6 -6.5l-11.3 -5.3l-10.8 -3.7l-14.1 -3.2l-11.2 -1.2l-11.2 -0.1l-3.7 1.1l-2.1 1.5l-1.7 2.2l-1 2.6l-0.2 2.8M204.7 192.5l0 -1.3l0.8 -1.3l3.9 -4l1.7 -0.7l2 0.8l1.1 2.1l-0.5 1.9l-2.4 2.3" fill="none" stroke="#000" stroke-width="0.75"/>
<path d="M4.9 297l1.3 -20.2l3.3 -20l5.2 -19.9l7.1 -19.4l8.7 -18.2l10.2 -16.8l12.1 -16.2l13.3 -14.5l14.4 -12.9l15.9 -11.5l17.4 -10.1l18.2 -8.4l18.5 -6.4l19.5 -4.7l19.7 -2.8l20 -1l20.7 1.1l20.6 3.1l20.1 5.2l19.6 7.1l18.6 9.2l17.2 10.8l16 12.5l14.6 14.1l7 8l6.8 8.7l6.3 9l5.7 9.4l4.9 9.3l4.4 9.6l4 10l3.3 10.1l4.6 19l1.8 13.3l-0.7 4.2l-4.9 15.2l-1.8 14.1M8.2 297l1.6 -19.8l3.5 -19.6l5.4 -20l7.1 -18.9l8.6 -17.8l10.1 -16.4l11.6 -15.5l13.1 -14.2l13.8 -12.1l15.4 -10.9l16.7 -9.4l18.3 -8.1l17.6 -5.9l18.5 -4.3l19.2 -2.6l19.7 -0.8l21 1l20.7 3.3l20.2 5.3l19.6 7.5l18.3 9.3l16.7 11l15.8 13l13.9 14.4l7.1 9l6.5 9.4l5.8 9.8l5.4 10.5l4.2 10l3.6 10.6l3 11l2.1 10.9l1.7 12.2l-0.1 7.1l-2.2 3.9l-11.4 14.5l-3.1 7.5l-0.9 5.1M11.5 297l1.9 -19.1l3.7 -19.5l5.7 -20l7.2 -18.9l8.3 -16.9l10 -16.1l11.4 -15.1l12.6 -13.5l12.9 -11.3l14.8 -10.1l16 -8.8l17.9 -7.7l16.8 -5.5l17.9 -4l18.3 -2.4l19.5 -0.7l21.5 1l20.8 3.3l20.3 5.5l19.6 7.7l17.8 9.4l16.6 11.4l7.9 6.5l7.5 7l6.8 7.1l6.1 7.2l6.6 9.3l6.1 10.1l5.7 11.1l4.3 10.5l3.3 10.6l2.5 11l1.7 10.8l1.2 13.6l-0.4 5.9l-1.1 2.5l-4 3.8l-17 13.2l-4.9 6.7l-1.1 2.2l-0.4 2.2M15 297l2.2 -18.7l4 -19.1l6 -20.3l7.2 -18.4l8.3 -16.5l9.8 -15.7l11 -14.3l12 -12.9l12.4 -10.6l13.9 -9.3l15.4 -8.1l17.1 -7.1l16.4 -5.2l16.7 -3.6l17.6 -2.2l18.8 -0.7l21.9 1.1l20.8 3.2l10.4 2.5l10.3 3.2l10 3.7l9.5 4.1l9.1 4.6l8.6 5l8.2 5.5l8.1 6.3l7.7 6.7l7.3 7.2l6.2 7.1l5.6 7.5l5.8 9.2l5.2 9.9l4.5 10.4l3.2 9.8l2.4 10.4l1.5 10.5l0.9 17l-0.3 6l-1 4.2l-3.1 3l-14.1 8.2l-9.2 4.5l-2.2 0.7l-1.5 -0.2l-2.1 -3l-1.5 -1l-4.8 0.4l-0.2 1.1l4.1 5.5l0.2 0.8l-4.1 5.2l-0.9 2.4M19.3 297l2.4 -17.4l4.1 -18.2l6.1 -19.7l7 -17.9l7.6 -15.4l8.9 -14.6l10 -13.4l10.9 -12.1l10.5 -9.5l11.9 -8.5l13.3 -7.5l14.8 -6.5l17.2 -5.9l14.1 -3.6l16.4 -2.5l17.4 -1.2l23.2 0.3l20.4 2.2l19.8 4.5l19.6 6.8l9.5 4.5l0.6 1.9l-0.6 5.7l5.2 -3.8l1.8 -0.2l7.9 4.4l9.2 6.4l7.3 5.9l7.2 6.5l6.7 7.1l5.6 6.8l5.6 8.3l4.7 8.8l0.5 2l-1.1 6.3l0.9 0.7l3.1 0.5l1.1 1l2.1 5.4l2.3 7.5l1.9 10.1l0.9 10.3l-0.1 9.8l-1 13.7l-1.1 3.5l-1.4 2.5l-3.8 2.5l-6 2.7l-4.1 1.1l-11.5 -0.9l-5.7 -5.6l-8.9 -19.6l-6.4 -11.2l-1.5 -1.1l-1.7 0.2l-1.1 1.4l0.1 1.6l6.9 12.4l5.1 11.4l2.9 7.6l3.4 4l1.3 3.1l0.2 2.2l-0.9 1.4l-6.5 2.7M207.4 192.4l0 -0.8l3.5 -3.5l0.6 0l0 0.7l-3.8 3.6M144.9 215.9l-0.7 -1.3l-0.4 -4l1 -1.9l1.7 -0.4l1.4 0.8l0.8 3.8M129.5 231.5l-1 -1.1l-0.9 -3.6l0.6 -2l1.5 -0.7l1.6 0.4l0.8 1l0.6 2.2M93.4 297l-2.4 -7.4l0 -1.5l6.5 -8.9l1.7 -0.8l1.7 0.2l6.5 4.6M106.8 288.9l-1.9 -0.2l-4.8 -3.2l-2.9 3.8l2.4 7.7M48.5 297l1.4 -10.6l1.1 -1.5l1.9 -0.6l1.9 0.6l1.1 1.9l-1.2 10.2M40.1 297l0.9 -10l0.9 -1.3l1.5 -0.5l1.6 0.6l0.8 1.4l-0.7 9.8" fill="none" stroke="#000" stroke-width="1.0"/>
<path d="M1.6 297A209.6 209.6 0 0 1 420.8 297M106.5 297A104.7 104.7 0 0 1 315.9 297M0.7 297H107.4M315 297H421.7" fill="none" stroke="#000" stroke-width="1.9"/>
<path d="M421.4 567A210.2 210.2 0 0 0 421.35 562.23L315.27 564.64A104.1 104.1 0 0 1 315.3 567Z" fill="url(#g1_0)"/>
<path d="M421.37 563.33A210.2 210.2 0 0 0 421.23 558.56L315.22 562.82A104.1 104.1 0 0 1 315.28 565.18Z" fill="url(#g1_1)"/>
<path d="M421.27 559.66A210.2 210.2 0 0 0 421.05 554.9L315.13 561.01A104.1 104.1 0 0 1 315.24 563.37Z" fill="url(#g1_2)"/>
<path d="M421.11 556A210.2 210.2 0 0 0 420.81 551.24L315.01 559.19A104.1 104.1 0 0 1 315.16 561.55Z" fill="url(#g1_3)"/>
<path d="M420.89 552.34A210.2 210.2 0 0 0 420.13 543.93L314.67 555.58A104.1 104.1 0 0 1 315.05 559.74Z" fill="url(#g1_4)"/>
<path d="M420.25 545.03A210.2 210.2 0 0 0 419.2 536.66L314.21 551.97A104.1 104.1 0 0 1 314.73 556.12Z" fill="url(#g1_5)"/>
<path d="M419.35 537.75A210.2 210.2 0 0 0 417.33 525.81L313.28 546.6A104.1 104.1 0 0 1 314.29 552.51Z" fill="url(#g1_6)"/>
<path d="M417.54 526.89A210.2 210.2 0 0 0 414.89 515.08L312.07 541.29A104.1 104.1 0 0 1 313.39 547.14Z" fill="url(#g1_7)"/>
<path d="M415.16 516.15A210.2 210.2 0 0 0 411.89 504.49L310.59 536.04A104.1 104.1 0 0 1 312.21 541.82Z" fill="url(#g1_8)"/>
<path d="M412.22 505.54A210.2 210.2 0 0 0 410.77 501L310.04 534.31A104.1 104.1 0 0 1 310.75 536.56Z" fill="url(#g1_9)"/>
<path d="M411.11 502.04A210.2 210.2 0 0 0 409.59 497.53L309.45 532.59A104.1 104.1 0 0 1 310.2 534.83Z" fill="url(#g1_10)"/>
<path d="M409.95 498.57A210.2 210.2 0 0 0 408.34 494.07L308.83 530.88A104.1 104.1 0 0 1 309.63 533.11Z" fill="url(#g1_11)"/>
<path d="M408.72 495.11A210.2 210.2 0 0 0 407.04 490.64L308.19 529.19A104.1 104.1 0 0 1 309.02 531.4Z" fill="url(#g1_12)"/>
<path d="M407.44 491.67A210.2 210.2 0 0 0 405.68 487.24L307.51 527.5A104.1 104.1 0 0 1 308.39 529.69Z" fill="url(#g1_13)"/>
<path d="M406.09 488.26A210.2 210.2 0 0 0 397.99 470.59L303.71 519.25A104.1 104.1 0 0 1 307.72 528Z" fill="url(#g1_14)"/>
<path d="M398.49 471.57A210.2 210.2 0 0 0 390.81 457.8L300.15 512.92A104.1 104.1 0 0 1 303.95 519.74Z" fill="url(#g1_15)"/>
<path d="M391.38 458.74A210.2 210.2 0 0 0 384.85 448.55L297.2 508.34A104.1 104.1 0 0 1 300.43 513.38Z" fill="url(#g1_16)"/>
<path d="M385.46 449.46A210.2 210.2 0 0 0 378.41 439.62L294.01 503.92A104.1 104.1 0 0 1 297.5 508.79Z" fill="url(#g1_17)"/>
<path d="M379.07 440.5A210.2 210.2 0 0 0 371.51 431.04L290.59 499.67A104.1 104.1 0 0 1 294.34 504.35Z" fill="url(#g1_18)"/>
<path d="M372.22 431.89A210.2 210.2 0 0 0 369.12 428.27L289.41 498.29A104.1 104.1 0 0 1 290.95 500.09Z" fill="url(#g1_19)"/>
<path d="M369.84 429.1A210.2 210.2 0 0 0 366.67 425.53L288.2 496.94A104.1 104.1 0 0 1 289.77 498.7Z" fill="url(#g1_20)"/>
<path d="M367.41 426.35A210.2 210.2 0 0 0 364.18 422.84L286.96 495.61A104.1 104.1 0 0 1 288.56 497.34Z" fill="url(#g1_21)"/>
<path d="M364.93 423.64A210.2 210.2 0 0 0 356.42 415.03L283.12 491.74A104.1 104.1 0 0 1 287.33 496Z" fill="url(#g1_22)"/>
<path d="M357.22 415.79A210.2 210.2 0 0 0 345.47 405.27L277.7 486.91A104.1 104.1 0 0 1 283.51 492.12Z" fill="url(#g1_23)"/>
<path d="M346.31 405.98A210.2 210.2 0 0 0 339.74 400.68L274.86 484.63A104.1 104.1 0 0 1 278.11 487.25Z" fill="url(#g1_24)"/>
<path d="M340.61 401.36A210.2 210.2 0 0 0 336.82 398.47L273.41 483.54A104.1 104.1 0 0 1 275.29 484.97Z" fill="url(#g1_25)"/>
<path d="M337.7 399.13A210.2 210.2 0 0 0 333.86 396.3L271.95 482.46A104.1 104.1 0 0 1 273.85 483.86Z" fill="url(#g1_26)"/>
<path d="M334.75 396.94A210.2 210.2 0 0 0 330.86 394.19L270.46 481.41A104.1 104.1 0 0 1 272.39 482.78Z" fill="url(#g1_27)"/>
<path d="M331.77 394.81A210.2 210.2 0 0 0 327.83 392.12L268.96 480.39A104.1 104.1 0 0 1 270.91 481.73Z" fill="url(#g1_28)"/>
<path d="M328.74 392.74A210.2 210.2 0 0 0 324.76 390.11L267.44 479.4A104.1 104.1 0 0 1 269.41 480.7Z" fill="url(#g1_29)"/>
<path d="M325.68 390.71A210.2 210.2 0 0 0 321.65 388.16L265.9 478.43A104.1 104.1 0 0 1 267.9 479.69Z" fill="url(#g1_30)"/>
<path d="M322.59 388.74A210.2 210.2 0 0 0 318.52 386.26L264.35 477.49A104.1 104.1 0 0 1 266.36 478.72Z" fill="url(#g1_31)"/>
<path d="M319.46 386.82A210.2 210.2 0 0 0 315.35 384.41L262.78 476.58A104.1 104.1 0 0 1 264.82 477.77Z" fill="url(#g1_32)"/>
<path d="M316.3 384.96A210.2 210.2 0 0 0 312.14 382.62L261.19 475.69A104.1 104.1 0 0 1 263.25 476.85Z" fill="url(#g1_33)"/>
<path d="M313.11 383.15A210.2 210.2 0 0 0 308.91 380.89L259.59 474.83A104.1 104.1 0 0 1 261.67 475.95Z" fill="url(#g1_34)"/>
<path d="M309.88 381.4A210.2 210.2 0 0 0 288.92 371.7L249.69 470.28A104.1 104.1 0 0 1 260.07 475.09Z" fill="url(#g1_35)"/>
<path d="M289.94 372.11A210.2 210.2 0 0 0 268.08 364.64L239.37 466.78A104.1 104.1 0 0 1 250.2 470.48Z" fill="url(#g1_36)"/>
<path d="M269.14 364.94A210.2 210.2 0 0 0 246.62 359.81L228.74 464.39A104.1 104.1 0 0 1 239.89 466.93Z" fill="url(#g1_37)"/>
<path d="M247.7 359.99A210.2 210.2 0 0 0 224.76 357.24L217.92 463.12A104.1 104.1 0 0 1 229.28 464.48Z" fill="url(#g1_38)"/>
<path d="M225.86 357.31A210.2 210.2 0 0 0 202.76 356.97L207.02 462.98A104.1 104.1 0 0 1 218.46 463.15Z" fill="url(#g1_39)"/>
<path d="M203.86 356.93A210.2 210.2 0 0 0 184.49 358.5L197.97 463.74A104.1 104.1 0 0 1 207.57 462.96Z" fill="url(#g1_40)"/>
<path d="M185.58 358.37A210.2 210.2 0 0 0 170.01 360.87L190.8 464.92A104.1 104.1 0 0 1 198.51 463.68Z" fill="url(#g1_41)"/>
<path d="M171.09 360.66A210.2 210.2 0 0 0 155.73 364.25L183.73 466.59A104.1 104.1 0 0 1 191.34 464.81Z" fill="url(#g1_42)"/>
<path d="M156.8 363.96A210.2 210.2 0 0 0 141.73 368.61L176.79 468.75A104.1 104.1 0 0 1 184.26 466.45Z" fill="url(#g1_43)"/>
<path d="M142.77 368.25A210.2 210.2 0 0 0 131.44 372.52L171.7 470.69A104.1 104.1 0 0 1 177.31 468.57Z" fill="url(#g1_44)"/>
<path d="M132.46 372.11A210.2 210.2 0 0 0 121.37 376.96L166.71 472.89A104.1 104.1 0 0 1 172.2 470.48Z" fill="url(#g1_45)"/>
<path d="M122.37 376.49A210.2 210.2 0 0 0 111.55 381.92L161.85 475.34A104.1 104.1 0 0 1 167.21 472.65Z" fill="url(#g1_46)"/>
<path d="M112.52 381.4A210.2 210.2 0 0 0 105.15 385.51L158.68 477.12A104.1 104.1 0 0 1 162.33 475.09Z" fill="url(#g1_47)"/>
<path d="M106.1 384.96A210.2 210.2 0 0 0 98.88 389.33L155.57 479.01A104.1 104.1 0 0 1 159.15 476.85Z" fill="url(#g1_48)"/>
<path d="M99.81 388.74A210.2 210.2 0 0 0 92.75 393.35L152.54 481A104.1 104.1 0 0 1 156.04 478.72Z" fill="url(#g1_49)"/>
<path d="M93.66 392.74A210.2 210.2 0 0 0 86.76 397.59L149.57 483.1A104.1 104.1 0 0 1 152.99 480.7Z" fill="url(#g1_50)"/>
<path d="M87.65 396.94A210.2 210.2 0 0 0 80.92 402.04L146.68 485.3A104.1 104.1 0 0 1 150.01 482.78Z" fill="url(#g1_51)"/>
<path d="M81.79 401.36A210.2 210.2 0 0 0 72.47 409.08L142.49 488.79A104.1 104.1 0 0 1 147.11 484.97Z" fill="url(#g1_52)"/>
<path d="M73.3 408.36A210.2 210.2 0 0 0 64.39 416.56L138.49 492.5A104.1 104.1 0 0 1 142.9 488.43Z" fill="url(#g1_53)"/>
<path d="M65.18 415.79A210.2 210.2 0 0 0 51.84 429.93L132.28 499.12A104.1 104.1 0 0 1 138.89 492.12Z" fill="url(#g1_54)"/>
<path d="M52.56 429.1A210.2 210.2 0 0 0 47.15 435.57L129.96 501.91A104.1 104.1 0 0 1 132.63 498.7Z" fill="url(#g1_55)"/>
<path d="M47.84 434.72A210.2 210.2 0 0 0 44.88 438.46L128.83 503.34A104.1 104.1 0 0 1 130.3 501.49Z" fill="url(#g1_56)"/>
<path d="M45.56 437.59A210.2 210.2 0 0 0 42.67 441.38L127.74 504.79A104.1 104.1 0 0 1 129.17 502.91Z" fill="url(#g1_57)"/>
<path d="M43.33 440.5A210.2 210.2 0 0 0 38.39 447.34L125.61 507.74A104.1 104.1 0 0 1 128.06 504.35Z" fill="url(#g1_58)"/>
<path d="M39.01 446.43A210.2 210.2 0 0 0 26.82 466.06L119.89 517.01A104.1 104.1 0 0 1 125.93 507.29Z" fill="url(#g1_59)"/>
<path d="M27.35 465.09A210.2 210.2 0 0 0 17.28 485.88L115.16 526.83A104.1 104.1 0 0 1 120.15 516.53Z" fill="url(#g1_60)"/>
<path d="M17.71 484.87A210.2 210.2 0 0 0 10.95 503.09L112.03 535.35A104.1 104.1 0 0 1 115.38 526.32Z" fill="url(#g1_61)"/>
<path d="M11.29 502.04A210.2 210.2 0 0 0 6.14 520.79L109.65 544.11A104.1 104.1 0 0 1 112.2 534.83Z" fill="url(#g1_62)"/>
<path d="M6.39 519.72A210.2 210.2 0 0 0 2.9 538.84L108.04 553.05A104.1 104.1 0 0 1 109.77 543.58Z" fill="url(#g1_63)"/>
<path d="M3.05 537.75A210.2 210.2 0 0 0 1.44 553.44L107.32 560.28A104.1 104.1 0 0 1 108.11 552.51Z" fill="url(#g1_64)"/>
<path d="M1.51 552.34A210.2 210.2 0 0 0 1 567L107.1 567A104.1 104.1 0 0 1 107.35 559.74Z" fill="url(#g1_65)"/>
<path d="M3.3 567l1.1 -20.4l3 -20.2l5 -19.7l6.9 -19.2l8.8 -18.4l10.5 -17.5l12.2 -16.3l13.4 -14.8l14.8 -13.3l16.4 -12.1l17.5 -10.4l18.4 -8.6l19.2 -6.8l19.7 -4.9l20 -3l20.3 -0.9l20.3 0.9l20 3l19.7 4.9l19.1 6.8l18.3 8.7l17.7 10.7l16.2 12.1l14.9 13.7l13.5 15.1l12.1 16.7l10.4 17.8l8.6 18.8l6.6 19.4l4.6 20.1l2.5 20.4l-0.2 17.4M6.8 567l1.1 -19.6l3.1 -19.8l5 -19.4l6.8 -18.8l8.6 -18.1l10.4 -17.1l11.9 -16l13.2 -14.4l14.3 -12.7l15.8 -11.4l17.2 -10l18.4 -8.4l18.3 -6.3l19.2 -4.7l19.5 -2.8l20.1 -0.9l20.1 0.9l19.5 2.9l19 4.8l18.5 6.7l17.7 8.5l17.1 10.5l15.5 11.8l14.3 13.4l12.7 14.8l11.5 16.7l10.5 19.2l8.1 19l6 19.6l3.7 20.2l1 16.6l-0.6 6.8l-1.3 8M10.2 567l1.2 -19.3l3.1 -19.4l5 -19l6.8 -18.5l8.6 -17.6l10.2 -16.8l11.5 -15.3l13 -14l13.7 -12.1l15.2 -10.7l16.9 -9.6l18 -8l17.9 -6.1l18.7 -4.4l18.9 -2.6l19.5 -0.9l19.5 0.9l19.3 2.8l18 4.5l17.9 6.5l17.5 8.5l16.4 10.2l15 11.5l13.6 13l12 14.5l11.1 17.1l10.5 20.1l7.7 19.4l2.9 9.8l2.2 9.6l1.7 10l0.9 9.3l-0.1 13.8l-1.2 5.6l-2.4 7.2M13.8 567l1.3 -18.9l3.2 -19.1l4.9 -18.2l6.7 -18l8.4 -17.3l9.8 -16l11.3 -15l12.7 -13.7l13.1 -11.5l14.6 -10.1l16.2 -9l17.8 -7.7l17.6 -5.9l17.8 -4.1l18.8 -2.6l18.9 -0.8l19.2 0.9l18.7 2.6l17.4 4.3l17.3 6.3l16.8 8.3l16.1 10.1l14.7 11.5l12.9 12.7l5.7 6.7l5.5 7.4l10.4 17l10.3 21.2l3.8 9.8l3.2 9.7l2.4 9.4l1.8 9.9l1.1 9.2l0.3 8.4l-0.4 7.4l-0.7 3.8l-1.8 5l-3.2 6.3M18.5 567l1.4 -18.4l3.2 -18.2l4.9 -17.7l6.6 -17.5l8.2 -16.8l9.6 -15.6l11 -14.5l12.2 -13l12.2 -10.4l13.5 -9.3l15.5 -8.3l17.1 -7.2l17.3 -5.7l17 -3.8l18 -2.4l18.5 -0.8l20.3 1l19.4 2.9l17.7 4.7l17.3 6.9l16.7 9l15.5 10.7l5 4.8l5.3 8.1l8.4 7.4l5.5 5.7l5.4 7.2l4.2 6.8l13.5 27.4l6.2 16.3l3.8 15l1.4 13.7l-0.2 5.7l-0.7 4.3l-1.6 4l-8.9 12.8l-1.1 2.6l-0.4 2.6M317 567l-1.6 -15.1l-2.6 -12.1l-4.4 -12.8l-6.1 -12.4l-7.3 -10.8l-8.4 -9.7l-9.4 -8.7l-10.7 -7.3" fill="none" stroke="#000" stroke-width="0.75"/>
<path d="M5 567l1.1 -20.2l3.1 -20l5 -19.6l6.9 -19l8.7 -18.2l10.5 -17.3l12.1 -16.2l13.3 -14.5l14.7 -13.1l15.9 -11.6l17.4 -10.2l18.6 -8.6l18.5 -6.4l19.5 -4.8l19.8 -2.8l20 -1l20.4 1l19.7 2.9l18.9 4.8l18.8 6.7l18 8.6l17.5 10.5l15.9 12l14.6 13.5l13 15l12 16.9l10.6 18.7l8.3 18.9l6.3 19.5l4.2 20.2l1.6 18.6l-1.1 15.7M8.5 567l1.2 -19.4l3.1 -19.7l4.9 -19.2l6.9 -18.6l8.5 -17.9l10.1 -16.5l11.8 -15.9l13.1 -14.2l14.1 -12.5l15.3 -11l17.1 -9.8l18.2 -8.2l18.1 -6.3l18.9 -4.5l19.2 -2.8l19.9 -0.9l19.7 0.9l19.6 2.9l18.4 4.6l18.2 6.6l17.4 8.3l16.7 10.3l15.7 12l13.9 13.2l12.4 14.6l11.3 16.9l10.3 19.3l8 19.4l5.6 19.3l1.9 10.2l1.3 9.9l0.4 15.4l-0.9 6.1l-1.8 7.5M12 567l1.3 -19.1l3.1 -19.2l5 -18.8l6.6 -17.9l8.5 -17.5l10.1 -16.6l11.4 -15.1l12.8 -13.9l13.3 -11.6l15 -10.6l16.4 -9.2l18.3 -8l17.6 -6l18.4 -4.3l18.7 -2.5l19.2 -0.9l19.6 0.9l18.9 2.8l17.8 4.4l17.5 6.4l17.2 8.4l16.1 10.1l15 11.6l13.3 12.9l5.9 6.8l5.7 7.5l10.8 17.2l10.2 20.6l7.4 19.4l2.7 9.6l2 9.8l1.3 9.5l0.7 9l-0.1 7.5l-0.6 4.7l-1.6 5.6l-2.7 6.5M15.9 567l1.4 -18.7l3.1 -18.4l4.8 -18l6.7 -17.9l8.3 -17l9.7 -15.9l11.1 -14.8l12.6 -13.5l12.7 -11l14.4 -9.9l16.1 -8.7l17.4 -7.5l17.1 -5.7l17.5 -4l18.5 -2.5l18.5 -0.8l19.3 0.9l18.2 2.5l17.1 4.3l17 6.1l16.8 8.3l15.7 10l13.7 10.8l13.3 13.2l5.4 6.4l5.2 7.3l10.1 17.3l10.2 22l3.7 10l2.9 9.4l2.1 9.2l1.5 10l0.7 8.6l0 7.8l-0.6 6l-1.1 3.7l-2.1 4.6l-3.7 5.9M23.9 567l1.6 -17.9l3.2 -17.6l4.9 -17.1l6.5 -16.6l7.8 -15.9l9.3 -15l10.5 -13.7l11.7 -12.5l11.4 -9.7l12.6 -8.3l14.2 -7.4l16.3 -6.6l16.7 -5.3l16.3 -3.7l17.3 -2.2l17.5 -0.7l14.9 0.5l14 1.4l13.1 2.3l12.1 3.3l12.1 4.4l11.9 5.6l12.3 7.2l8.8 6.5l0.9 1.4l0.3 1.6l-2.4 10.8l0 3.7l1 3.7l1.8 3.4l11.4 15.1l5.8 6.6l8.1 20.1l6.5 19l2.7 12.7l1.9 12.3l0.7 8.5l0 10l1.1 10.1M322.1 567l-1.9 -17.5l-3.2 -14.1l-5.8 -15.1l-6.8 -12.4l-7.8 -10.8l-9.2 -9.8l-10.1 -8.6l-8.3 -5.7l2.9 -1.2l1.6 -2.4l0.1 -3l-1.5 -2.5l-12.9 -7.5l-12.9 -5.4l-10.2 -3.1l-8.8 -1.8l-10.6 -1.1l-10.4 -0.2l-16.5 1.6l-10.3 2.1l-10.2 3l-14.9 7.4l-8.7 5.6l-8.4 6.5l-7.7 7.2l-7.1 7.8l-3.7 4.8l-0.6 3.2l0.8 2.2l1.8 1.7l2.5 0.7l2.4 -0.6l1.6 -1.2l9.7 -11.2l6.9 -6.4l7.9 -6.1l8.1 -5.3l13 -6.4l13.9 -3.8l9.7 -1.6l9.7 -0.6l9.7 0.1l9.7 1l10.9 2.4l15.2 5.7l14.5 7.9l-2.6 1l-1.8 1.9M322.3 467.7l1.5 -1.5l1.6 -0.7l2 0l1.7 0.7l2.3 3l5.1 8.3l5.8 11.1l5.8 15.4l1.6 5.6l-0.5 1.8l-1.2 1.4l-2.8 0.3l-2.3 -1.7l-4.1 -11.9l-3.4 -7.9l-7.2 -10.8l-7 -7.8l-0.2 -2.4l1.3 -2.9" fill="none" stroke="#000" stroke-width="1.0"/>
<path d="M1.6 567A209.6 209.6 0 0 1 420.8 567M106.5 567A104.7 104.7 0 0 1 315.9 567M0.7 567H107.4M315 567H421.7" fill="none" stroke="#000" stroke-width="1.9"/>
<path d="M421.4 837A210.2 210.2 0 0 0 421.35 832.23L315.27 834.64A104.1 104.1 0 0 1 315.3 837Z" fill="url(#g2_0)"/>
<path d="M421.37 833.33A210.2 210.2 0 0 0 421.23 828.56L315.22 832.82A104.1 104.1 0 0 1 315.28 835.18Z" fill="url(#g2_1)"/>
<path d="M421.27 829.66A210.2 210.2 0 0 0 421.05 824.9L315.13 831.01A104.1 104.1 0 0 1 315.24 833.37Z" fill="url(#g2_2)"/>
<path d="M421.11 826A210.2 210.2 0 0 0 420.81 821.24L315.01 829.19A104.1 104.1 0 0 1 315.16 831.55Z" fill="url(#g2_3)"/>
<path d="M420.89 822.34A210.2 210.2 0 0 0 420.5 817.58L314.85 827.38A104.1 104.1 0 0 1 315.05 829.74Z" fill="url(#g2_4)"/>
<path d="M420.6 818.68A210.2 210.2 0 0 0 420.13 813.93L314.67 825.58A104.1 104.1 0 0 1 314.9 827.93Z" fill="url(#g2_5)"/>
<path d="M420.25 815.03A210.2 210.2 0 0 0 419.7 810.29L314.46 823.77A104.1 104.1 0 0 1 314.73 826.12Z" fill="url(#g2_6)"/>
<path d="M419.83 811.38A210.2 210.2 0 0 0 419.2 806.66L314.21 821.97A104.1 104.1 0 0 1 314.52 824.31Z" fill="url(#g2_7)"/>
<path d="M419.35 807.75A210.2 210.2 0 0 0 416.57 792.22L312.91 814.82A104.1 104.1 0 0 1 314.29 822.51Z" fill="url(#g2_8)"/>
<path d="M416.81 793.3A210.2 210.2 0 0 0 412.95 778L311.12 807.78A104.1 104.1 0 0 1 313.03 815.36Z" fill="url(#g2_9)"/>
<path d="M413.26 779.06A210.2 210.2 0 0 0 408.34 764.07L308.83 800.88A104.1 104.1 0 0 1 311.27 808.31Z" fill="url(#g2_10)"/>
<path d="M408.72 765.11A210.2 210.2 0 0 0 402.78 750.5L306.08 794.16A104.1 104.1 0 0 1 309.02 801.4Z" fill="url(#g2_11)"/>
<path d="M403.23 751.5A210.2 210.2 0 0 0 397.99 740.59L303.71 789.25A104.1 104.1 0 0 1 306.3 794.66Z" fill="url(#g2_12)"/>
<path d="M398.49 741.57A210.2 210.2 0 0 0 396.28 737.35L302.86 787.65A104.1 104.1 0 0 1 303.95 789.74Z" fill="url(#g2_13)"/>
<path d="M396.8 738.32A210.2 210.2 0 0 0 394.51 734.13L301.98 786.06A104.1 104.1 0 0 1 303.11 788.13Z" fill="url(#g2_14)"/>
<path d="M395.05 735.09A210.2 210.2 0 0 0 392.69 730.95L301.08 784.48A104.1 104.1 0 0 1 302.25 786.53Z" fill="url(#g2_15)"/>
<path d="M393.24 731.9A210.2 210.2 0 0 0 390.81 727.8L300.15 782.92A104.1 104.1 0 0 1 301.35 784.95Z" fill="url(#g2_16)"/>
<path d="M391.38 728.74A210.2 210.2 0 0 0 388.87 724.68L299.19 781.37A104.1 104.1 0 0 1 300.43 783.38Z" fill="url(#g2_17)"/>
<path d="M389.46 725.61A210.2 210.2 0 0 0 384.85 718.55L297.2 778.34A104.1 104.1 0 0 1 299.48 781.84Z" fill="url(#g2_18)"/>
<path d="M385.46 719.46A210.2 210.2 0 0 0 380.61 712.56L295.1 775.37A104.1 104.1 0 0 1 297.5 778.79Z" fill="url(#g2_19)"/>
<path d="M381.26 713.45A210.2 210.2 0 0 0 376.16 706.72L292.9 772.48A104.1 104.1 0 0 1 295.42 775.81Z" fill="url(#g2_20)"/>
<path d="M376.84 707.59A210.2 210.2 0 0 0 371.51 701.04L290.59 769.67A104.1 104.1 0 0 1 293.23 772.91Z" fill="url(#g2_21)"/>
<path d="M372.22 701.89A210.2 210.2 0 0 0 366.67 695.53L288.2 766.94A104.1 104.1 0 0 1 290.95 770.09Z" fill="url(#g2_22)"/>
<path d="M367.41 696.35A210.2 210.2 0 0 0 361.64 690.19L285.7 764.29A104.1 104.1 0 0 1 288.56 767.34Z" fill="url(#g2_23)"/>
<path d="M362.41 690.98A210.2 210.2 0 0 0 356.42 685.03L283.12 761.74A104.1 104.1 0 0 1 286.08 764.69Z" fill="url(#g2_24)"/>
<path d="M357.22 685.79A210.2 210.2 0 0 0 351.03 680.06L280.45 759.27A104.1 104.1 0 0 1 283.51 762.12Z" fill="url(#g2_25)"/>
<path d="M351.85 680.79A210.2 210.2 0 0 0 348.27 677.64L279.08 758.08A104.1 104.1 0 0 1 280.86 759.64Z" fill="url(#g2_26)"/>
<path d="M349.1 678.36A210.2 210.2 0 0 0 345.47 675.27L277.7 756.91A104.1 104.1 0 0 1 279.5 758.43Z" fill="url(#g2_27)"/>
<path d="M346.31 675.98A210.2 210.2 0 0 0 342.63 672.95L276.29 755.76A104.1 104.1 0 0 1 278.11 757.25Z" fill="url(#g2_28)"/>
<path d="M343.48 673.64A210.2 210.2 0 0 0 339.74 670.68L274.86 754.63A104.1 104.1 0 0 1 276.71 756.1Z" fill="url(#g2_29)"/>
<path d="M340.61 671.36A210.2 210.2 0 0 0 336.82 668.47L273.41 753.54A104.1 104.1 0 0 1 275.29 754.97Z" fill="url(#g2_30)"/>
<path d="M337.7 669.13A210.2 210.2 0 0 0 333.86 666.3L271.95 752.46A104.1 104.1 0 0 1 273.85 753.86Z" fill="url(#g2_31)"/>
<path d="M334.75 666.94A210.2 210.2 0 0 0 330.86 664.19L270.46 751.41A104.1 104.1 0 0 1 272.39 752.78Z" fill="url(#g2_32)"/>
<path d="M331.77 664.81A210.2 210.2 0 0 0 321.65 658.16L265.9 748.43A104.1 104.1 0 0 1 270.91 751.73Z" fill="url(#g2_33)"/>
<path d="M322.59 658.74A210.2 210.2 0 0 0 312.14 652.62L261.19 745.69A104.1 104.1 0 0 1 266.36 748.72Z" fill="url(#g2_34)"/>
<path d="M313.11 653.15A210.2 210.2 0 0 0 305.65 649.21L257.97 744A104.1 104.1 0 0 1 261.67 745.95Z" fill="url(#g2_35)"/>
<path d="M306.63 649.71A210.2 210.2 0 0 0 299.04 646.03L254.7 742.42A104.1 104.1 0 0 1 258.46 744.25Z" fill="url(#g2_36)"/>
<path d="M300.03 646.49A210.2 210.2 0 0 0 292.32 643.08L251.37 740.96A104.1 104.1 0 0 1 255.19 742.65Z" fill="url(#g2_37)"/>
<path d="M293.33 643.51A210.2 210.2 0 0 0 282.06 639.1L246.29 738.99A104.1 104.1 0 0 1 251.88 741.18Z" fill="url(#g2_38)"/>
<path d="M283.09 639.48A210.2 210.2 0 0 0 260.98 632.78L235.85 735.86A104.1 104.1 0 0 1 246.8 739.18Z" fill="url(#g2_39)"/>
<path d="M262.05 633.04A210.2 210.2 0 0 0 239.36 628.7L225.15 733.84A104.1 104.1 0 0 1 236.38 735.99Z" fill="url(#g2_40)"/>
<path d="M240.45 628.85A210.2 210.2 0 0 0 221.1 627.03L216.1 733.02A104.1 104.1 0 0 1 225.69 733.91Z" fill="url(#g2_41)"/>
<path d="M222.2 627.09A210.2 210.2 0 0 0 217.44 626.89L214.29 732.95A104.1 104.1 0 0 1 216.65 733.04Z" fill="url(#g2_42)"/>
<path d="M218.54 626.93A210.2 210.2 0 0 0 213.77 626.82L212.47 732.91A104.1 104.1 0 0 1 214.83 732.96Z" fill="url(#g2_43)"/>
<path d="M214.87 626.83A210.2 210.2 0 0 0 191.78 627.7L201.58 733.35A104.1 104.1 0 0 1 213.02 732.92Z" fill="url(#g2_44)"/>
<path d="M192.88 627.6A210.2 210.2 0 0 0 177.23 629.56L194.38 734.27A104.1 104.1 0 0 1 202.13 733.3Z" fill="url(#g2_45)"/>
<path d="M178.32 629.39A210.2 210.2 0 0 0 173.62 630.19L192.59 734.58A104.1 104.1 0 0 1 194.92 734.18Z" fill="url(#g2_46)"/>
<path d="M174.7 629.99A210.2 210.2 0 0 0 170.01 630.87L190.8 734.92A104.1 104.1 0 0 1 193.12 734.48Z" fill="url(#g2_47)"/>
<path d="M171.09 630.66A210.2 210.2 0 0 0 148.69 636.31L180.24 737.61A104.1 104.1 0 0 1 191.34 734.81Z" fill="url(#g2_48)"/>
<path d="M149.74 635.98A210.2 210.2 0 0 0 131.44 642.52L171.7 740.69A104.1 104.1 0 0 1 180.76 737.45Z" fill="url(#g2_49)"/>
<path d="M132.46 642.11A210.2 210.2 0 0 0 121.37 646.96L166.71 742.89A104.1 104.1 0 0 1 172.2 740.48Z" fill="url(#g2_50)"/>
<path d="M122.37 646.49A210.2 210.2 0 0 0 114.79 650.21L163.45 744.49A104.1 104.1 0 0 1 167.21 742.65Z" fill="url(#g2_51)"/>
<path d="M115.77 649.71A210.2 210.2 0 0 0 108.33 653.69L160.26 746.22A104.1 104.1 0 0 1 163.94 744.25Z" fill="url(#g2_52)"/>
<path d="M109.29 653.15A210.2 210.2 0 0 0 105.15 655.51L158.68 747.12A104.1 104.1 0 0 1 160.73 745.95Z" fill="url(#g2_53)"/>
<path d="M106.1 654.96A210.2 210.2 0 0 0 102 657.39L157.12 748.05A104.1 104.1 0 0 1 159.15 746.85Z" fill="url(#g2_54)"/>
<path d="M102.94 656.82A210.2 210.2 0 0 0 95.8 661.31L154.05 749.99A104.1 104.1 0 0 1 157.58 747.77Z" fill="url(#g2_55)"/>
<path d="M96.72 660.71A210.2 210.2 0 0 0 89.73 665.45L151.05 752.04A104.1 104.1 0 0 1 154.5 749.69Z" fill="url(#g2_56)"/>
<path d="M90.63 664.81A210.2 210.2 0 0 0 83.82 669.79L148.12 754.19A104.1 104.1 0 0 1 151.49 751.73Z" fill="url(#g2_57)"/>
<path d="M84.7 669.13A210.2 210.2 0 0 0 78.06 674.34L145.27 756.44A104.1 104.1 0 0 1 148.55 753.86Z" fill="url(#g2_58)"/>
<path d="M78.92 673.64A210.2 210.2 0 0 0 72.47 679.08L142.49 758.79A104.1 104.1 0 0 1 145.69 756.1Z" fill="url(#g2_59)"/>
<path d="M73.3 678.36A210.2 210.2 0 0 0 64.39 686.56L138.49 762.5A104.1 104.1 0 0 1 142.9 758.43Z" fill="url(#g2_60)"/>
<path d="M65.18 685.79A210.2 210.2 0 0 0 51.84 699.93L132.28 769.12A104.1 104.1 0 0 1 138.89 762.12Z" fill="url(#g2_61)"/>
<path d="M52.56 699.1A210.2 210.2 0 0 0 49.47 702.73L131.11 770.5A104.1 104.1 0 0 1 132.63 768.7Z" fill="url(#g2_62)"/>
<path d="M50.18 701.89A210.2 210.2 0 0 0 47.15 705.57L129.96 771.91A104.1 104.1 0 0 1 131.45 770.09Z" fill="url(#g2_63)"/>
<path d="M47.84 704.72A210.2 210.2 0 0 0 34.31 723.44L123.6 780.76A104.1 104.1 0 0 1 130.3 771.49Z" fill="url(#g2_64)"/>
<path d="M34.91 722.52A210.2 210.2 0 0 0 23.41 742.55L118.2 790.23A104.1 104.1 0 0 1 123.89 780.3Z" fill="url(#g2_65)"/>
<path d="M23.91 741.57A210.2 210.2 0 0 0 14.57 762.7L113.82 800.2A104.1 104.1 0 0 1 118.45 789.74Z" fill="url(#g2_66)"/>
<path d="M14.96 761.67A210.2 210.2 0 0 0 13.3 766.14L113.19 801.91A104.1 104.1 0 0 1 114.01 799.69Z" fill="url(#g2_67)"/>
<path d="M13.68 765.11A210.2 210.2 0 0 0 12.1 769.61L112.6 803.62A104.1 104.1 0 0 1 113.38 801.4Z" fill="url(#g2_68)"/>
<path d="M12.45 768.57A210.2 210.2 0 0 0 6.14 790.79L109.65 814.11A104.1 104.1 0 0 1 112.77 803.11Z" fill="url(#g2_69)"/>
<path d="M6.39 789.72A210.2 210.2 0 0 0 4.01 801.58L108.59 819.46A104.1 104.1 0 0 1 109.77 813.58Z" fill="url(#g2_70)"/>
<path d="M4.19 800.5A210.2 210.2 0 0 0 3.42 805.2L108.3 821.25A104.1 104.1 0 0 1 108.68 818.92Z" fill="url(#g2_71)"/>
<path d="M3.59 804.12A210.2 210.2 0 0 0 2.9 808.84L108.04 823.05A104.1 104.1 0 0 1 108.38 820.72Z" fill="url(#g2_72)"/>
<path d="M3.05 807.75A210.2 210.2 0 0 0 2.44 812.48L107.81 824.85A104.1 104.1 0 0 1 108.11 822.51Z" fill="url(#g2_73)"/>
<path d="M2.57 811.38A210.2 210.2 0 0 0 1.02 834.43L107.11 835.73A104.1 104.1 0 0 1 107.88 824.31Z" fill="url(#g2_74)"/>
<path d="M1.03 833.33A210.2 210.2 0 0 0 1 837L107.1 837A104.1 104.1 0 0 1 107.12 835.18Z" fill="url(#g2_75)"/>
<path d="M3.3 837l1 -20.4l3 -20.2l5 -19.8l6.8 -19.2l8.8 -18.5l10.4 -17.5l12.2 -16.4l13.7 -15.2l14.8 -13.3l16.1 -11.8l17.6 -10.4l18.9 -8.8l19.1 -6.9l19.8 -4.9l20.1 -3l20.4 -1.1l20.3 1l20.2 3l19.7 4.9l18.3 6.6l18.4 8.8l17.3 10.6l16.2 12.2l15.3 14l13.6 15.1l12 16.2l10.3 17.4l8.6 18.4l6.7 19l4.8 20.1l2.8 20l0.9 20.1M6.7 837l1 -20.1l2.9 -19.8l4.9 -19.5l7 -19.3l8.7 -18.6l10.4 -17.2l11.8 -16l13.4 -14.7l14 -12.5l16 -11.3l17.5 -9.9l19.4 -8.7l19.2 -6.7l18.9 -4.7l19.3 -2.8l19.9 -1l19.4 0.9l19.7 2.9l19.4 4.7l16.6 6l17.4 8.8l17.5 11l14.8 11.6l15.6 14.7l13.3 15l11.5 15.8l9.6 16.5l7.8 17.4l6.4 18.8l4.4 19.4l2.4 19.6l0.5 19.7M10.1 837l1 -19.7l2.9 -19.6l4.8 -19.1l6.8 -19l8.6 -18.3l10.3 -17.3l11.8 -15.9l13 -14.3l13.3 -11.6l15.2 -10.4l17.3 -9.4l19.9 -8.6l18.8 -6.5l18.1 -4.4l19.2 -2.8l19.4 -0.9l16.4 0.7l16.3 2l16.5 3.4l15.7 4.7l11.9 5.1l13.2 7.3l14.2 9.4l11.7 9.3l1.7 2.6l0.8 5.1l1.9 2.9l20.4 21.2l10.2 8.2l5.4 6l7.5 11.3l6.4 12.6l4 9.6l3.8 11l3 10.8l2.4 11.5l1.6 10.2l1.1 11.4l0.3 11.1l-0.2 10.4M13.7 837l1 -19.4l2.8 -19.2l4.7 -18.8l6.7 -18.6l8.6 -18.4l9.9 -16.7l11.3 -15.3l12.8 -14l12.1 -10.4l14.4 -9.5l16.8 -8.7l19.2 -7.8l19.2 -6.4l17.5 -4.1l18.7 -2.6l19.5 -0.8l16.2 0.7l15.7 1.9l16.3 3.3l15.1 4.5l9.9 4.4l10.7 6.3l14.8 10.5l9.6 8.1l1.3 2.4l1 7.2l1.6 4.3l11.1 13.8l7.2 10.3l8.2 13.3l6.6 13.3l-6.4 9l-0.1 1.7l0.8 0.7l1.3 0l6.9 -6.1l6 14l5.3 17.2l3.3 16.6l1.5 15.2l-0.1 18.1M372.3 837l-0.4 -0.7l-0.7 -0.2l-1 0.2l-0.2 0.7M212.8 732.3l0.3 -5.5l0.6 -0.9l1.3 -0.4l1.2 0.3l0.8 1.2l-0.1 5.4M190.9 734.3l-0.2 -7.7l0.5 -1l1.1 -0.7l1.5 0.3l1 1.2l0.3 7.2M156.9 747.5l-1.9 -5.7l0.3 -1.3l0.9 -0.9l1.3 -0.2l1.3 0.7l2 5.2M129.6 771.4l-3.1 -4.2l-0.1 -1.1l0.6 -1.2l1.3 -0.7l1.6 0.4l2.6 3.3M25.2 837l0.4 -12.6l1.3 -12.5l2 -11.6l2.7 -9.8l3.3 -7.9l3.9 -6.3l4.1 -3.6l4.3 -1.2l3.9 0.6l5.8 2l6.5 2.8l2.1 1.6l-0.4 1.3l-4.2 3.7l-2.5 3.4l-1.6 4l-1.1 5.1l1.6 3.7l7 7.9l1.5 2.8l-0.6 2.8l-5.7 7.2l-1 1.9l-0.3 2l0.5 3.3l1.4 3.1l2.5 3.4l3.1 2.9M112.1 803.3l-4.2 -2.7l-0.6 -1.2l0.1 -1.3l1 -1.1l1.4 -0.3l3.8 2.4M107.2 825.2l-6.7 -2.1l-1.2 -1.3l-0.2 -1.5l0.9 -1.7l1.7 -0.7l6.3 1.8" fill="none" stroke="#000" stroke-width="0.75"/>
<path d="M5 837l1 -20.2l3 -20.1l4.9 -19.6l7 -19.5l8.6 -18.3l10.4 -17.4l12.1 -16.2l13.6 -15l14.5 -12.9l16.1 -11.6l17.5 -10.1l19.1 -8.7l19 -6.8l19.6 -4.8l19.5 -2.9l20.1 -1l19.6 0.9l20 2.9l19.5 4.8l17.5 6.3l17.9 8.8l17.4 10.7l15.9 12.2l15.3 14.2l13.5 15.2l11.8 16.1l9.8 16.8l8.1 17.6l6.6 19.2l4.7 19.7l2.6 19.5l0.7 20.2M8.4 837l1 -19.9l2.9 -19.7l4.8 -19.3l6.9 -19.2l8.7 -18.4l10.2 -17.1l11.9 -16l13.1 -14.5l13.6 -12l15.6 -10.9l17.4 -9.6l19.6 -8.7l19 -6.7l18.7 -4.6l19.5 -2.9l19.7 -0.9l19.6 1l19.9 2.9l19.5 4.9l16 6l17.3 9.2l18.1 12l9.8 7.9l6.2 6.6l14.3 13.5l12 13.9l10.7 15.4l8.9 16l7.2 16.8l5.7 18.1l3.9 18.6l2.1 18.8l0.3 18.8M11.9 837l1 -19.6l2.8 -19.3l4.8 -19l6.7 -18.8l8.5 -18.2l10.3 -17.2l11.6 -15.8l13 -14.1l12.9 -11.1l14.8 -10l17.2 -9.1l19.8 -8.3l18.5 -6.4l18.3 -4.3l19 -2.7l19.1 -0.8l16.1 0.6l16 2l16.7 3.4l15 4.5l10.9 4.8l12.2 6.9l14.6 9.9l10.3 8.5l1.2 2.3l0 7l1.4 4l16.5 19.6l11.6 16l8.9 15.2l6.7 15.5l5.3 17.8l3.7 19.5l1.5 18.8l-0.5 18.4M319.3 837l-0.4 -8.8l29.7 6.1l10 2.7M16.1 837l0.6 -15.7l1.9 -15.3l3 -15l4.3 -15.1l5.9 -15.6l6.8 -14.6l7.7 -13.8l8.7 -12.7l8.8 -11l9.5 -9.9l8.7 -7.5l9.5 -6.6l11.5 -6.5l13.2 -6l13.4 -5.1l17.4 -5.6l17.7 -4.4l19.1 -2.6l22.4 -0.8l20.8 1.1l21.3 3.4l19.7 5.4l10.9 5l11.7 7.9l13.5 10.7l9 8.6l4.9 7.8l9.1 11.2l7.4 10.1l7.1 11.1l5.6 10.1l2.8 6.3l-4.6 6.9l-0.3 1.6l0.3 1.8l1.5 1.8l2.6 0.8l1.9 -0.5l3.5 -2.2l4.9 12.9l3.7 13.1l2.1 10.4l1.4 10.3l0.6 10.4l-0.2 8.7l-3.2 0.8l-23 -0.9l-22.6 -3l-2.5 -13.2l-3.1 -10.2l-4.1 -10l-5.1 -9.5l-8.2 -11.8l-7.2 -8.1l-5.8 -5.4l-2 -0.2l-1.5 0.9" fill="none" stroke="#000" stroke-width="1.0"/>
<path d="M1.6 837A209.6 209.6 0 0 1 420.8 837M106.5 837A104.7 104.7 0 0 1 315.9 837M0.7 837H107.4M315 837H421.7" fill="none" stroke="#000" stroke-width="1.9"/>
<path d="M421.4 1107A210.2 210.2 0 0 0 420.13 1083.93L314.67 1095.58A104.1 104.1 0 0 1 315.3 1107Z" fill="url(#g3_0)"/>
<path d="M420.25 1085.03A210.2 210.2 0 0 0 417.33 1065.81L313.28 1086.6A104.1 104.1 0 0 1 314.73 1096.12Z" fill="url(#g3_1)"/>
<path d="M417.54 1066.89A210.2 210.2 0 0 0 412.95 1048L311.12 1077.78A104.1 104.1 0 0 1 313.39 1087.14Z" fill="url(#g3_2)"/>
<path d="M413.26 1049.06A210.2 210.2 0 0 0 411.89 1044.49L310.59 1076.04A104.1 104.1 0 0 1 311.27 1078.31Z" fill="url(#g3_3)"/>
<path d="M412.22 1045.54A210.2 210.2 0 0 0 410.77 1041L310.04 1074.31A104.1 104.1 0 0 1 310.75 1076.56Z" fill="url(#g3_4)"/>
<path d="M411.11 1042.04A210.2 210.2 0 0 0 409.59 1037.53L309.45 1072.59A104.1 104.1 0 0 1 310.2 1074.83Z" fill="url(#g3_5)"/>
<path d="M409.95 1038.57A210.2 210.2 0 0 0 408.34 1034.07L308.83 1070.88A104.1 104.1 0 0 1 309.63 1073.11Z" fill="url(#g3_6)"/>
<path d="M408.72 1035.11A210.2 210.2 0 0 0 407.04 1030.64L308.19 1069.19A104.1 104.1 0 0 1 309.02 1071.4Z" fill="url(#g3_7)"/>
<path d="M407.44 1031.67A210.2 210.2 0 0 0 405.68 1027.24L307.51 1067.5A104.1 104.1 0 0 1 308.39 1069.69Z" fill="url(#g3_8)"/>
<path d="M406.09 1028.26A210.2 210.2 0 0 0 404.26 1023.86L306.81 1065.82A104.1 104.1 0 0 1 307.72 1068Z" fill="url(#g3_9)"/>
<path d="M404.69 1024.87A210.2 210.2 0 0 0 402.78 1020.5L306.08 1064.16A104.1 104.1 0 0 1 307.02 1066.32Z" fill="url(#g3_10)"/>
<path d="M403.23 1021.5A210.2 210.2 0 0 0 401.24 1017.17L305.31 1062.51A104.1 104.1 0 0 1 306.3 1064.66Z" fill="url(#g3_11)"/>
<path d="M401.71 1018.17A210.2 210.2 0 0 0 399.64 1013.87L304.52 1060.88A104.1 104.1 0 0 1 305.55 1063.01Z" fill="url(#g3_12)"/>
<path d="M400.13 1014.85A210.2 210.2 0 0 0 397.99 1010.59L303.71 1059.25A104.1 104.1 0 0 1 304.76 1061.37Z" fill="url(#g3_13)"/>
<path d="M398.49 1011.57A210.2 210.2 0 0 0 396.28 1007.35L302.86 1057.65A104.1 104.1 0 0 1 303.95 1059.74Z" fill="url(#g3_14)"/>
<path d="M396.8 1008.32A210.2 210.2 0 0 0 394.51 1004.13L301.98 1056.06A104.1 104.1 0 0 1 303.11 1058.13Z" fill="url(#g3_15)"/>
<path d="M395.05 1005.09A210.2 210.2 0 0 0 392.69 1000.95L301.08 1054.48A104.1 104.1 0 0 1 302.25 1056.53Z" fill="url(#g3_16)"/>
<path d="M393.24 1001.9A210.2 210.2 0 0 0 390.81 997.8L300.15 1052.92A104.1 104.1 0 0 1 301.35 1054.95Z" fill="url(#g3_17)"/>
<path d="M391.38 998.74A210.2 210.2 0 0 0 388.87 994.68L299.19 1051.37A104.1 104.1 0 0 1 300.43 1053.38Z" fill="url(#g3_18)"/>
<path d="M389.46 995.61A210.2 210.2 0 0 0 386.89 991.6L298.21 1049.85A104.1 104.1 0 0 1 299.48 1051.84Z" fill="url(#g3_19)"/>
<path d="M387.49 992.52A210.2 210.2 0 0 0 382.75 985.53L296.16 1046.85A104.1 104.1 0 0 1 298.51 1050.3Z" fill="url(#g3_20)"/>
<path d="M383.39 986.43A210.2 210.2 0 0 0 380.61 982.56L295.1 1045.37A104.1 104.1 0 0 1 296.47 1047.29Z" fill="url(#g3_21)"/>
<path d="M381.26 983.45A210.2 210.2 0 0 0 378.41 979.62L294.01 1043.92A104.1 104.1 0 0 1 295.42 1045.81Z" fill="url(#g3_22)"/>
<path d="M379.07 980.5A210.2 210.2 0 0 0 373.86 973.86L291.76 1041.07A104.1 104.1 0 0 1 294.34 1044.35Z" fill="url(#g3_23)"/>
<path d="M374.56 974.72A210.2 210.2 0 0 0 369.12 968.27L289.41 1038.29A104.1 104.1 0 0 1 292.1 1041.49Z" fill="url(#g3_24)"/>
<path d="M369.84 969.1A210.2 210.2 0 0 0 364.18 962.84L286.96 1035.61A104.1 104.1 0 0 1 289.77 1038.7Z" fill="url(#g3_25)"/>
<path d="M364.93 963.64A210.2 210.2 0 0 0 361.64 960.19L285.7 1034.29A104.1 104.1 0 0 1 287.33 1036Z" fill="url(#g3_26)"/>
<path d="M362.41 960.98A210.2 210.2 0 0 0 356.42 955.03L283.12 1031.74A104.1 104.1 0 0 1 286.08 1034.69Z" fill="url(#g3_27)"/>
<path d="M357.22 955.79A210.2 210.2 0 0 0 353.75 952.52L281.8 1030.5A104.1 104.1 0 0 1 283.51 1032.12Z" fill="url(#g3_28)"/>
<path d="M354.56 953.27A210.2 210.2 0 0 0 351.03 950.06L280.45 1029.27A104.1 104.1 0 0 1 282.2 1030.87Z" fill="url(#g3_29)"/>
<path d="M351.85 950.79A210.2 210.2 0 0 0 348.27 947.64L279.08 1028.08A104.1 104.1 0 0 1 280.86 1029.64Z" fill="url(#g3_30)"/>
<path d="M349.1 948.36A210.2 210.2 0 0 0 342.63 942.95L276.29 1025.76A104.1 104.1 0 0 1 279.5 1028.43Z" fill="url(#g3_31)"/>
<path d="M343.48 943.64A210.2 210.2 0 0 0 336.82 938.47L273.41 1023.54A104.1 104.1 0 0 1 276.71 1026.1Z" fill="url(#g3_32)"/>
<path d="M337.7 939.13A210.2 210.2 0 0 0 333.86 936.3L271.95 1022.46A104.1 104.1 0 0 1 273.85 1023.86Z" fill="url(#g3_33)"/>
<path d="M334.75 936.94A210.2 210.2 0 0 0 330.86 934.19L270.46 1021.41A104.1 104.1 0 0 1 272.39 1022.78Z" fill="url(#g3_34)"/>
<path d="M331.77 934.81A210.2 210.2 0 0 0 327.83 932.12L268.96 1020.39A104.1 104.1 0 0 1 270.91 1021.73Z" fill="url(#g3_35)"/>
<path d="M328.74 932.74A210.2 210.2 0 0 0 324.76 930.11L267.44 1019.4A104.1 104.1 0 0 1 269.41 1020.7Z" fill="url(#g3_36)"/>
<path d="M325.68 930.71A210.2 210.2 0 0 0 315.35 924.41L262.78 1016.58A104.1 104.1 0 0 1 267.9 1019.69Z" fill="url(#g3_37)"/>
<path d="M316.3 924.96A210.2 210.2 0 0 0 302.36 917.59L256.34 1013.2A104.1 104.1 0 0 1 263.25 1016.85Z" fill="url(#g3_38)"/>
<path d="M303.35 918.07A210.2 210.2 0 0 0 288.92 911.7L249.69 1010.28A104.1 104.1 0 0 1 256.83 1013.44Z" fill="url(#g3_39)"/>
<path d="M289.94 912.11A210.2 210.2 0 0 0 275.11 906.75L242.85 1007.83A104.1 104.1 0 0 1 250.2 1010.48Z" fill="url(#g3_40)"/>
<path d="M276.16 907.09A210.2 210.2 0 0 0 257.41 901.94L234.09 1005.45A104.1 104.1 0 0 1 243.37 1008Z" fill="url(#g3_41)"/>
<path d="M258.48 902.19A210.2 210.2 0 0 0 235.72 898.24L223.35 1003.61A104.1 104.1 0 0 1 234.62 1005.57Z" fill="url(#g3_42)"/>
<path d="M236.82 898.37A210.2 210.2 0 0 0 213.77 896.82L212.47 1002.91A104.1 104.1 0 0 1 223.89 1003.68Z" fill="url(#g3_43)"/>
<path d="M214.87 896.83A210.2 210.2 0 0 0 191.78 897.7L201.58 1003.35A104.1 104.1 0 0 1 213.02 1002.92Z" fill="url(#g3_44)"/>
<path d="M192.88 897.6A210.2 210.2 0 0 0 170.01 900.87L190.8 1004.92A104.1 104.1 0 0 1 202.13 1003.3Z" fill="url(#g3_45)"/>
<path d="M171.09 900.66A210.2 210.2 0 0 0 152.2 905.25L181.98 1007.08A104.1 104.1 0 0 1 191.34 1004.81Z" fill="url(#g3_46)"/>
<path d="M153.26 904.94A210.2 210.2 0 0 0 134.84 911.16L173.39 1010.01A104.1 104.1 0 0 1 182.51 1006.93Z" fill="url(#g3_47)"/>
<path d="M135.87 910.76A210.2 210.2 0 0 0 128.06 913.94L170.02 1011.39A104.1 104.1 0 0 1 173.89 1009.81Z" fill="url(#g3_48)"/>
<path d="M129.07 913.51A210.2 210.2 0 0 0 124.7 915.42L168.36 1012.12A104.1 104.1 0 0 1 170.52 1011.18Z" fill="url(#g3_49)"/>
<path d="M125.7 914.97A210.2 210.2 0 0 0 121.37 916.96L166.71 1012.89A104.1 104.1 0 0 1 168.86 1011.9Z" fill="url(#g3_50)"/>
<path d="M122.37 916.49A210.2 210.2 0 0 0 114.79 920.21L163.45 1014.49A104.1 104.1 0 0 1 167.21 1012.65Z" fill="url(#g3_51)"/>
<path d="M115.77 919.71A210.2 210.2 0 0 0 108.33 923.69L160.26 1016.22A104.1 104.1 0 0 1 163.94 1014.25Z" fill="url(#g3_52)"/>
<path d="M109.29 923.15A210.2 210.2 0 0 0 102 927.39L157.12 1018.05A104.1 104.1 0 0 1 160.73 1015.95Z" fill="url(#g3_53)"/>
<path d="M102.94 926.82A210.2 210.2 0 0 0 95.8 931.31L154.05 1019.99A104.1 104.1 0 0 1 157.58 1017.77Z" fill="url(#g3_54)"/>
<path d="M96.72 930.71A210.2 210.2 0 0 0 89.73 935.45L151.05 1022.04A104.1 104.1 0 0 1 154.5 1019.69Z" fill="url(#g3_55)"/>
<path d="M90.63 934.81A210.2 210.2 0 0 0 83.82 939.79L148.12 1024.19A104.1 104.1 0 0 1 151.49 1021.73Z" fill="url(#g3_56)"/>
<path d="M84.7 939.13A210.2 210.2 0 0 0 78.06 944.34L145.27 1026.44A104.1 104.1 0 0 1 148.55 1023.86Z" fill="url(#g3_57)"/>
<path d="M78.92 943.64A210.2 210.2 0 0 0 72.47 949.08L142.49 1028.79A104.1 104.1 0 0 1 145.69 1026.1Z" fill="url(#g3_58)"/>
<path d="M73.3 948.36A210.2 210.2 0 0 0 64.39 956.56L138.49 1032.5A104.1 104.1 0 0 1 142.9 1028.43Z" fill="url(#g3_59)"/>
<path d="M65.18 955.79A210.2 210.2 0 0 0 49.47 972.73L131.11 1040.5A104.1 104.1 0 0 1 138.89 1032.12Z" fill="url(#g3_60)"/>
<path d="M50.18 971.89A210.2 210.2 0 0 0 36.32 990.37L124.59 1049.24A104.1 104.1 0 0 1 131.45 1040.09Z" fill="url(#g3_61)"/>
<path d="M36.94 989.46A210.2 210.2 0 0 0 25.09 1009.29L119.03 1058.61A104.1 104.1 0 0 1 124.9 1048.79Z" fill="url(#g3_62)"/>
<path d="M25.6 1008.32A210.2 210.2 0 0 0 15.9 1029.28L114.48 1068.51A104.1 104.1 0 0 1 119.29 1058.13Z" fill="url(#g3_63)"/>
<path d="M16.31 1028.26A210.2 210.2 0 0 0 8.84 1050.12L110.98 1078.83A104.1 104.1 0 0 1 114.68 1068Z" fill="url(#g3_64)"/>
<path d="M9.14 1049.06A210.2 210.2 0 0 0 4.01 1071.58L108.59 1089.46A104.1 104.1 0 0 1 111.13 1078.31Z" fill="url(#g3_65)"/>
<path d="M4.19 1070.5A210.2 210.2 0 0 0 1.44 1093.44L107.32 1100.28A104.1 104.1 0 0 1 108.68 1088.92Z" fill="url(#g3_66)"/>
<path d="M1.51 1092.34A210.2 210.2 0 0 0 1 1107L107.1 1107A104.1 104.1 0 0 1 107.35 1099.74Z" fill="url(#g3_67)"/>
<path d="M3.4 1107l1 -20.4l3 -20.2l5 -19.8l6.8 -19.2l8.8 -18.4l10.4 -17.6l12.2 -16.4l13.7 -15.1l14.8 -13.4l16.1 -11.7l17.6 -10.4l18.9 -8.8l19.1 -6.8l19.8 -4.9l20.1 -3l20.3 -1l20.3 1l19.7 3l19.3 4.8l19.1 6.9l18.3 8.7l17.4 10.4l16.2 12.2l15 13.6l13.5 15.1l11.9 16.3l10.3 17.4l8.8 18.7l6.7 19l4.9 19.5l2.8 19.9l1 20.6M6.9 1107l1 -20l2.9 -19.9l4.9 -19.5l6.9 -19.3l8.6 -18.1l10.3 -17.2l12 -16.2l13.5 -14.8l14 -12.5l15.6 -11.1l17.4 -9.8l18.6 -8.4l19.2 -6.7l19.2 -4.7l19.3 -2.8l19.8 -1l19.8 1l19.2 2.9l18.3 4.7l18.2 6.6l17.7 8.6l16.8 10.3l16 12.1l14 13.1l12.6 14.3l11.3 15.9l10.1 17.6l8.1 18l6.6 19.1l4.6 18.7l2.2 16.9l1.2 22.2M10.4 1107l1 -19.7l2.9 -19.5l4.8 -19.1l6.8 -19l8.6 -18.2l10.1 -17l11.7 -15.8l13 -14.3l12.9 -11.3l14.7 -10.3l16.8 -9.2l18.3 -8l19.2 -6.6l18.8 -4.6l19.1 -2.9l19.3 -0.9l21 1.1l20.6 3.5l19.3 5.6l19.2 8l15.6 8.5l14 9.4l2.8 2.8l3.1 5.5l2.2 2.5l18.3 16l6.6 6.3l4.3 5.1l6 8.3l10.1 16.5l6.7 13.9l6.7 17.5l5.3 17.5l2.6 13.5l0.8 7.2l1 27.7M14.3 1107l0.9 -19.3l2.9 -19.1l4.7 -18.8l6.5 -18.2l8.2 -17.5l9.8 -16.7l11.2 -15.3l12.7 -14l11.7 -10.2l13.5 -9.2l15.5 -8.2l17.1 -7.1l20.7 -6.8l17.4 -4.1l18.4 -2.7l18.9 -0.9l14 0.5l13.8 1.7l13.6 2.7l12.5 3.7l12.8 5l13.1 6.3l13.7 8.2l10 7.2l1.4 2.3l1.6 7.6l1.7 4l10.7 13.1l7.2 10l1 3l8.2 15.8l1.3 0.9l1.6 -0.3l5 9.8l8.1 18.4l2.5 7.2l-3.1 8.8l-3.2 3l-0.7 1.3l5.9 -2.4l3.2 -4.8l4.6 17.5l1.9 10.1l1.7 17.2l0.3 10.3" fill="none" stroke="#000" stroke-width="0.75"/>
<path d="M5.1 1107l1 -20.2l3 -20l4.9 -19.7l7 -19.4l8.6 -18.3l10.5 -17.4l12 -16.2l13.7 -15l14.4 -12.9l15.7 -11.3l17.4 -10.1l18.8 -8.6l18.9 -6.7l19.6 -4.8l19.8 -3l20.1 -1l20.1 1l19.4 2.9l19 4.9l18.4 6.6l18.1 8.7l17.1 10.4l15.9 11.9l14.7 13.5l12.9 14.6l11.6 16.1l10.2 17.4l8.5 18.4l6.7 19l4.7 19.2l2.7 19l1 21M8.6 1107l1 -19.9l2.9 -19.6l4.8 -19.3l6.9 -19.2l8.7 -18.4l10.2 -17l11.9 -16l13.1 -14.4l13.6 -12l15.2 -10.7l16.9 -9.5l18.4 -8.1l19 -6.6l19 -4.8l19.4 -2.9l19.6 -0.9l19.5 0.9l18.9 2.9l18.5 4.8l17.9 6.6l17.8 8.8l16.7 10.5l6.2 4.6l13 11.2l9.9 9.4l11.7 13.5l10.9 15.7l9.7 17.3l7.9 18l6.5 19.1l4.2 17.9l1.8 13.6l1.3 24.5M12.3 1107l1 -19.5l2.8 -19.3l4.8 -19l6.6 -18.4l8.4 -18.1l10 -16.8l11.6 -15.8l12.9 -14.1l12.4 -10.9l14.3 -9.8l16.3 -8.8l17.8 -7.6l19.7 -6.7l18.2 -4.4l18.9 -2.8l19.1 -0.9l14.4 0.5l14.7 1.7l13.9 2.9l13.3 3.8l13.6 5.3l13.5 6.5l14.6 8.6l8.9 6.6l1.4 2.3l1.2 6.1l1.4 2.9l16.8 17.5l6.2 7.7l5.7 8.2l8.4 14.7l7.8 16.9l7.5 21.4l5.4 20.9l1.5 11l1.1 27.4M17.6 1107l0.9 -18.6l2.7 -18.4l4.4 -18l6.1 -17.6l7.9 -17.3l9.2 -16.1l10.4 -14.5l11.8 -13.2l10.1 -9.1l11.8 -8.1l12.8 -6.7l15.6 -6.3l18.4 -5.6l19.9 -4.7l17.1 -2.3l17.6 -0.9l17.8 0.8l15 2.1l15.2 3.8l13.9 5.2l14.7 7.6l15.8 10.3l13.9 11l11.3 11.2l6.3 7.5l5.9 8.4l5.7 9.5l4.7 9.5l7.7 20.4l3.7 13.2l0.2 3.4l-0.4 0.9l-0.9 0.5l-4.5 0.5l-7.7 -4.5l-8.8 -8.3l-4.6 -3.5l-2 -0.1l-1.8 1.1l-1.1 1.9l0.1 2l0.8 1.4l11.6 11.9l9.4 7.1l1.6 0.8l8.2 1.8l3 1.1l1.1 1l1.2 5.2l0.8 7.8l-0.6 11.1l0.6 13.8M281.6 1029.5l1 -2.7l-0.3 -1.7l-0.8 -1.2l-8 -6l-8 -5.1l-8.4 -4.3l-8.8 -3.6l-9.1 -2.8l-9.3 -2l-9.8 -1.2l-10.2 -0.4l-9.9 0.6l-10.1 1.6l-9.9 2.4l-9.8 3.5l-1.7 2.1l0.1 2.7" fill="none" stroke="#000" stroke-width="1.0"/>
<path d="M1.6 1107A209.6 209.6 0 0 1 420.8 1107M106.5 1107A104.7 104.7 0 0 1 315.9 1107M0.7 1107H107.4M315 1107H421.7" fill="none" stroke="#000" stroke-width="1.9"/>
<path d="M421.4 1377A210.2 210.2 0 0 0 420.13 1353.93L314.67 1365.58A104.1 104.1 0 0 1 315.3 1377Z" fill="url(#g4_0)"/>
<path d="M420.25 1355.03A210.2 210.2 0 0 0 417.33 1335.81L313.28 1356.6A104.1 104.1 0 0 1 314.73 1366.12Z" fill="url(#g4_1)"/>
<path d="M417.54 1336.89A210.2 210.2 0 0 0 415.76 1328.64L312.51 1353.05A104.1 104.1 0 0 1 313.39 1357.14Z" fill="url(#g4_2)"/>
<path d="M416.01 1329.72A210.2 210.2 0 0 0 414.89 1325.08L312.07 1351.29A104.1 104.1 0 0 1 312.63 1353.58Z" fill="url(#g4_3)"/>
<path d="M415.16 1326.15A210.2 210.2 0 0 0 413.95 1321.53L311.61 1349.53A104.1 104.1 0 0 1 312.21 1351.82Z" fill="url(#g4_4)"/>
<path d="M414.24 1322.6A210.2 210.2 0 0 0 412.95 1318L311.12 1347.78A104.1 104.1 0 0 1 311.75 1350.06Z" fill="url(#g4_5)"/>
<path d="M413.26 1319.06A210.2 210.2 0 0 0 411.89 1314.49L310.59 1346.04A104.1 104.1 0 0 1 311.27 1348.31Z" fill="url(#g4_6)"/>
<path d="M412.22 1315.54A210.2 210.2 0 0 0 410.77 1311L310.04 1344.31A104.1 104.1 0 0 1 310.75 1346.56Z" fill="url(#g4_7)"/>
<path d="M411.11 1312.04A210.2 210.2 0 0 0 409.59 1307.53L309.45 1342.59A104.1 104.1 0 0 1 310.2 1344.83Z" fill="url(#g4_8)"/>
<path d="M409.95 1308.57A210.2 210.2 0 0 0 408.34 1304.07L308.83 1340.88A104.1 104.1 0 0 1 309.63 1343.11Z" fill="url(#g4_9)"/>
<path d="M408.72 1305.11A210.2 210.2 0 0 0 399.64 1283.87L304.52 1330.88A104.1 104.1 0 0 1 309.02 1341.4Z" fill="url(#g4_10)"/>
<path d="M400.13 1284.85A210.2 210.2 0 0 0 390.81 1267.8L300.15 1322.92A104.1 104.1 0 0 1 304.76 1331.37Z" fill="url(#g4_11)"/>
<path d="M391.38 1268.74A210.2 210.2 0 0 0 382.75 1255.53L296.16 1316.85A104.1 104.1 0 0 1 300.43 1323.38Z" fill="url(#g4_12)"/>
<path d="M383.39 1256.43A210.2 210.2 0 0 0 373.86 1243.86L291.76 1311.07A104.1 104.1 0 0 1 296.47 1317.29Z" fill="url(#g4_13)"/>
<path d="M374.56 1244.72A210.2 210.2 0 0 0 371.51 1241.04L290.59 1309.67A104.1 104.1 0 0 1 292.1 1311.49Z" fill="url(#g4_14)"/>
<path d="M372.22 1241.89A210.2 210.2 0 0 0 369.12 1238.27L289.41 1308.29A104.1 104.1 0 0 1 290.95 1310.09Z" fill="url(#g4_15)"/>
<path d="M369.84 1239.1A210.2 210.2 0 0 0 364.18 1232.84L286.96 1305.61A104.1 104.1 0 0 1 289.77 1308.7Z" fill="url(#g4_16)"/>
<path d="M364.93 1233.64A210.2 210.2 0 0 0 356.42 1225.03L283.12 1301.74A104.1 104.1 0 0 1 287.33 1306Z" fill="url(#g4_17)"/>
<path d="M357.22 1225.79A210.2 210.2 0 0 0 351.03 1220.06L280.45 1299.27A104.1 104.1 0 0 1 283.51 1302.12Z" fill="url(#g4_18)"/>
<path d="M351.85 1220.79A210.2 210.2 0 0 0 345.47 1215.27L277.7 1296.91A104.1 104.1 0 0 1 280.86 1299.64Z" fill="url(#g4_19)"/>
<path d="M346.31 1215.98A210.2 210.2 0 0 0 339.74 1210.68L274.86 1294.63A104.1 104.1 0 0 1 278.11 1297.25Z" fill="url(#g4_20)"/>
<path d="M340.61 1211.36A210.2 210.2 0 0 0 333.86 1206.3L271.95 1292.46A104.1 104.1 0 0 1 275.29 1294.97Z" fill="url(#g4_21)"/>
<path d="M334.75 1206.94A210.2 210.2 0 0 0 327.83 1202.12L268.96 1290.39A104.1 104.1 0 0 1 272.39 1292.78Z" fill="url(#g4_22)"/>
<path d="M328.74 1202.74A210.2 210.2 0 0 0 324.76 1200.11L267.44 1289.4A104.1 104.1 0 0 1 269.41 1290.7Z" fill="url(#g4_23)"/>
<path d="M325.68 1200.71A210.2 210.2 0 0 0 321.65 1198.16L265.9 1288.43A104.1 104.1 0 0 1 267.9 1289.69Z" fill="url(#g4_24)"/>
<path d="M322.59 1198.74A210.2 210.2 0 0 0 302.36 1187.59L256.34 1283.2A104.1 104.1 0 0 1 266.36 1288.72Z" fill="url(#g4_25)"/>
<path d="M303.35 1188.07A210.2 210.2 0 0 0 282.06 1179.1L246.29 1278.99A104.1 104.1 0 0 1 256.83 1283.44Z" fill="url(#g4_26)"/>
<path d="M283.09 1179.48A210.2 210.2 0 0 0 260.98 1172.78L235.85 1275.86A104.1 104.1 0 0 1 246.8 1279.18Z" fill="url(#g4_27)"/>
<path d="M262.05 1173.04A210.2 210.2 0 0 0 239.36 1168.7L225.15 1273.84A104.1 104.1 0 0 1 236.38 1275.99Z" fill="url(#g4_28)"/>
<path d="M240.45 1168.85A210.2 210.2 0 0 0 217.44 1166.89L214.29 1272.95A104.1 104.1 0 0 1 225.69 1273.91Z" fill="url(#g4_29)"/>
<path d="M218.54 1166.93A210.2 210.2 0 0 0 206.43 1166.85L208.84 1272.93A104.1 104.1 0 0 1 214.83 1272.96Z" fill="url(#g4_30)"/>
<path d="M207.53 1166.83A210.2 210.2 0 0 0 202.76 1166.97L207.02 1272.98A104.1 104.1 0 0 1 209.38 1272.92Z" fill="url(#g4_31)"/>
<path d="M203.86 1166.93A210.2 210.2 0 0 0 199.1 1167.15L205.21 1273.07A104.1 104.1 0 0 1 207.57 1272.96Z" fill="url(#g4_32)"/>
<path d="M200.2 1167.09A210.2 210.2 0 0 0 184.49 1168.5L197.97 1273.74A104.1 104.1 0 0 1 205.75 1273.04Z" fill="url(#g4_33)"/>
<path d="M185.58 1168.37A210.2 210.2 0 0 0 170.01 1170.87L190.8 1274.92A104.1 104.1 0 0 1 198.51 1273.68Z" fill="url(#g4_34)"/>
<path d="M171.09 1170.66A210.2 210.2 0 0 0 155.73 1174.25L183.73 1276.59A104.1 104.1 0 0 1 191.34 1274.81Z" fill="url(#g4_35)"/>
<path d="M156.8 1173.96A210.2 210.2 0 0 0 141.73 1178.61L176.79 1278.75A104.1 104.1 0 0 1 184.26 1276.45Z" fill="url(#g4_36)"/>
<path d="M142.77 1178.25A210.2 210.2 0 0 0 128.06 1183.94L170.02 1281.39A104.1 104.1 0 0 1 177.31 1278.57Z" fill="url(#g4_37)"/>
<path d="M129.07 1183.51A210.2 210.2 0 0 0 124.7 1185.42L168.36 1282.12A104.1 104.1 0 0 1 170.52 1281.18Z" fill="url(#g4_38)"/>
<path d="M125.7 1184.97A210.2 210.2 0 0 0 121.37 1186.96L166.71 1282.89A104.1 104.1 0 0 1 168.86 1281.9Z" fill="url(#g4_39)"/>
<path d="M122.37 1186.49A210.2 210.2 0 0 0 118.07 1188.56L165.08 1283.68A104.1 104.1 0 0 1 167.21 1282.65Z" fill="url(#g4_40)"/>
<path d="M119.05 1188.07A210.2 210.2 0 0 0 105.15 1195.51L158.68 1287.12A104.1 104.1 0 0 1 165.57 1283.44Z" fill="url(#g4_41)"/>
<path d="M106.1 1194.96A210.2 210.2 0 0 0 92.75 1203.35L152.54 1291A104.1 104.1 0 0 1 159.15 1286.85Z" fill="url(#g4_42)"/>
<path d="M93.66 1202.74A210.2 210.2 0 0 0 80.92 1212.04L146.68 1295.3A104.1 104.1 0 0 1 152.99 1290.7Z" fill="url(#g4_43)"/>
<path d="M81.79 1211.36A210.2 210.2 0 0 0 69.73 1221.53L141.14 1300A104.1 104.1 0 0 1 147.11 1294.97Z" fill="url(#g4_44)"/>
<path d="M70.55 1220.79A210.2 210.2 0 0 0 64.39 1226.56L138.49 1302.5A104.1 104.1 0 0 1 141.54 1299.64Z" fill="url(#g4_45)"/>
<path d="M65.18 1225.79A210.2 210.2 0 0 0 61.79 1229.15L137.21 1303.78A104.1 104.1 0 0 1 138.89 1302.12Z" fill="url(#g4_46)"/>
<path d="M62.57 1228.37A210.2 210.2 0 0 0 59.23 1231.78L135.94 1305.08A104.1 104.1 0 0 1 137.59 1303.39Z" fill="url(#g4_47)"/>
<path d="M59.99 1230.98A210.2 210.2 0 0 0 47.15 1245.57L129.96 1311.91A104.1 104.1 0 0 1 136.32 1304.69Z" fill="url(#g4_48)"/>
<path d="M47.84 1244.72A210.2 210.2 0 0 0 34.31 1263.44L123.6 1320.76A104.1 104.1 0 0 1 130.3 1311.49Z" fill="url(#g4_49)"/>
<path d="M34.91 1262.52A210.2 210.2 0 0 0 30.46 1269.68L121.69 1323.85A104.1 104.1 0 0 1 123.89 1320.3Z" fill="url(#g4_50)"/>
<path d="M31.02 1268.74A210.2 210.2 0 0 0 28.61 1272.85L120.78 1325.42A104.1 104.1 0 0 1 121.97 1323.38Z" fill="url(#g4_51)"/>
<path d="M29.16 1271.9A210.2 210.2 0 0 0 26.82 1276.06L119.89 1327.01A104.1 104.1 0 0 1 121.05 1324.95Z" fill="url(#g4_52)"/>
<path d="M27.35 1275.09A210.2 210.2 0 0 0 17.28 1295.88L115.16 1336.83A104.1 104.1 0 0 1 120.15 1326.53Z" fill="url(#g4_53)"/>
<path d="M17.71 1294.87A210.2 210.2 0 0 0 9.87 1316.6L111.49 1347.09A104.1 104.1 0 0 1 115.38 1336.32Z" fill="url(#g4_54)"/>
<path d="M10.18 1315.54A210.2 210.2 0 0 0 5.37 1334.37L109.26 1355.89A104.1 104.1 0 0 1 111.65 1346.56Z" fill="url(#g4_55)"/>
<path d="M5.59 1333.3A210.2 210.2 0 0 0 4.65 1337.97L108.91 1357.67A104.1 104.1 0 0 1 109.37 1355.36Z" fill="url(#g4_56)"/>
<path d="M4.86 1336.89A210.2 210.2 0 0 0 4.01 1341.58L108.59 1359.46A104.1 104.1 0 0 1 109.01 1357.14Z" fill="url(#g4_57)"/>
<path d="M4.19 1340.5A210.2 210.2 0 0 0 3.42 1345.2L108.3 1361.25A104.1 104.1 0 0 1 108.68 1358.92Z" fill="url(#g4_58)"/>
<path d="M3.59 1344.12A210.2 210.2 0 0 0 1.44 1363.44L107.32 1370.28A104.1 104.1 0 0 1 108.38 1360.72Z" fill="url(#g4_59)"/>
<path d="M1.51 1362.34A210.2 210.2 0 0 0 1 1377L107.1 1377A104.1 104.1 0 0 1 107.35 1369.74Z" fill="url(#g4_60)"/>
<path d="M3.2 1377l1 -20.4l3 -20.2l5 -19.8l6.9 -19.2l8.6 -18l10.5 -17.6l12.1 -16.3l13.8 -15.1l14.8 -13.4l16.3 -12.1l17.5 -10.5l18.5 -8.7l19.1 -6.8l19.8 -4.9l20.1 -3l20.3 -1l20.3 1l20.5 3.1l19.8 4.9l19.1 6.8l18.4 8.7l17 10.2l16.3 12.1l15.1 13.6l13.6 15.1l12.1 16.3l10.6 17.8l8.6 18.3l6.8 19.1l4.9 19.7l2.9 20.1l0.9 20.2M6.5 1377l1 -19.6l2.9 -19.9l4.8 -19.1l6.8 -18.9l8.4 -17.7l10.3 -17.2l11.7 -15.8l13.5 -14.8l14.5 -13.1l16.1 -11.9l17.2 -10.2l18 -8.4l18.8 -6.7l18.9 -4.6l19.6 -2.9l19.8 -0.9l20.2 1l20.5 2.9l19.2 4.7l18.7 6.6l17.5 8.1l16.7 9.9l15.5 11.5l14.6 13.3l13.6 14.9l11.9 16.2l10.3 17.3l8.6 18.2l6.7 19l4.7 19.5l2.4 18.6l0.6 20M9.7 1377l1 -19.3l2.8 -19.1l4.8 -18.8l6.6 -18.6l8.3 -17.4l9.9 -16.5l11.5 -15.5l13 -14.2l14.2 -12.9l15.5 -11.3l16.4 -9.8l17.7 -8.2l18.4 -6.6l18.4 -4.5l19.2 -2.8l19.3 -0.9l20.5 1l20.3 2.9l19.1 4.6l18.2 6.4l15.9 7.4l14.4 8.3l6.2 6.1l16.8 12.2l9.8 8.8l12.7 14.3l11.5 15.8l10 17.2l8 17.7l6.3 18.4l4.2 18.4l2.1 17.6l0.3 19.3M13.6 1377l0.9 -18.5l2.9 -18.8l4.6 -18.3l6.4 -17.9l8.1 -17l9.5 -15.9l11.3 -15.1l12.6 -13.9l13.6 -12.3l15.2 -11l16.2 -9.5l17.1 -7.9l17.9 -6.3l17.5 -4.3l18.7 -2.6l18.7 -0.9l14.1 0.5l14 1.5l14.6 2.6l13.2 3.4l12.9 4.3l12.5 5.3l13.8 7.2l10.1 6.3l4 7.2l14.7 15.4l18.3 23.4l9.7 15.4l9.5 19.1l4.9 11.9l2.9 9l-4.7 8.6l1.1 -0.4l4.8 -4.2l3.8 16.1l2.4 18.6l0.4 19" fill="none" stroke="#000" stroke-width="0.75"/>
<path d="M4.8 1377l1 -19.8l2.9 -20l5 -19.7l6.8 -19l8.5 -17.9l10.4 -17.4l12.1 -16.2l13.6 -15l14.6 -13.2l16.3 -12l17.3 -10.3l18.3 -8.5l19 -6.8l19.1 -4.7l19.8 -2.9l20.1 -0.9l20.5 1l20.3 3l19.4 4.8l18.9 6.6l18.2 8.5l16.8 10.1l15.7 11.7l14.9 13.4l13.4 14.8l12.2 16.5l10.5 17.5l8.7 18.5l6.7 19.3l4.8 19.4l2.6 19.3l0.7 19.9M8.1 1377l1 -19.5l2.9 -19.7l4.8 -18.9l6.7 -18.7l8.4 -17.6l10 -16.7l11.6 -15.6l13.4 -14.7l14.4 -13l15.6 -11.4l17 -10.1l17.9 -8.3l18.5 -6.6l18.7 -4.6l19.4 -2.7l19.5 -1l20 1l20.2 2.9l19 4.5l18.4 6.4l16.9 7.8l15.8 9.1l17 12.7l14 12.6l13.4 14.9l11.8 16l10.3 17.4l8.4 17.9l6.5 18.7l4.6 19.2l2.3 18.3l0.4 19.7M11.5 1377l1 -19.2l2.8 -18.9l4.7 -18.6l6.5 -18l8.2 -17.3l9.9 -16.3l11.3 -15.3l12.9 -14.1l13.8 -12.5l15.3 -11.2l16.6 -9.8l17.5 -8.1l17.8 -6.3l18 -4.4l18.9 -2.7l19.2 -0.9l21.1 1.1l21.7 3.3l19.5 5l18.9 7.2l13.6 6.6l12 7l1.4 1.6l2.9 4.7l12.8 10.4l15.1 14.1l15.6 16.9l9.1 11.8l8.5 14.2l7.6 16.5l6.4 18.7l4.2 18.5l1.8 17.2l-0.1 18.8M205.4 1272.5l0.9 -6.8l0.8 -1l1 -0.3l1.5 0.4l0.8 1.2l-0.8 6.4M165.2 1283l-1.4 -5.6l0.3 -1.1l0.9 -0.8l1.3 -0.1l1.1 0.8l1.4 5.1M135.8 1304.4l-2.6 -4.3l0.6 -2l1.1 -0.5l1.4 0.4l2.3 3.6M119.6 1326.4l-4.4 -3.8l-0.4 -1l0.3 -1.2l1 -0.8l1.4 0l4.1 3.4M24.2 1377l0.1 -13.1l1 -12.6l2.2 -12.5l3.3 -12.7l3.7 -10.4l3.9 -7.3l4.2 -4.5l2.1 -1.1l2.2 -0.3l3.2 0.5l4.6 1.7l32.4 15l6.9 3.7l3.9 3.7l1.5 2.7l1 2.7l0.3 2.6l-0.4 2.6l-1.7 3.8l-6.6 9.3l-1.3 3l-0.5 2.4l1.5 2.9l7.8 7.6l2.2 6l0.6 4.3M107.7 1361.2l-6.5 -2.3l-0.9 -1l-0.2 -1.5l0.8 -1.4l1.6 -0.6l6 2" fill="none" stroke="#000" stroke-width="1.0"/>
<path d="M1.6 1377A209.6 209.6 0 0 1 420.8 1377M106.5 1377A104.7 104.7 0 0 1 315.9 1377M0.7 1377H107.4M315 1377H421.7" fill="none" stroke="#000" stroke-width="1.9"/>
<g fill="#000"><text class="a" font-size="11" text-anchor="middle" transform="translate(231.3 93.7) rotate(12)" dy="3.9">0.2</text><text class="a" font-size="11" text-anchor="middle" transform="translate(242.6 101.4) rotate(15)" dy="3.9">0.3</text><text class="a" font-size="11" text-anchor="middle" transform="translate(248.7 109.5) rotate(18)" dy="3.9">0.4</text><text class="a" font-size="11" text-anchor="middle" transform="translate(255.9 118.7) rotate(20)" dy="3.9">0.5</text><text class="a" font-size="11" text-anchor="middle" transform="translate(263.8 137.5) rotate(22)" dy="3.9">0.6</text><text class="a" font-size="11" text-anchor="middle" transform="translate(300.7 244.4) rotate(58)" dy="3.9">0.7</text><text class="a" font-size="11" text-anchor="middle" transform="translate(231.3 363.7) rotate(12)" dy="3.9">0.2</text><text class="a" font-size="11" text-anchor="middle" transform="translate(242.6 371.4) rotate(15)" dy="3.9">0.3</text><text class="a" font-size="11" text-anchor="middle" transform="translate(248.7 379.5) rotate(18)" dy="3.9">0.4</text><text class="a" font-size="11" text-anchor="middle" transform="translate(255.9 388.7) rotate(20)" dy="3.9">0.5</text><text class="a" font-size="11" text-anchor="middle" transform="translate(272.5 412.5) rotate(10)" dy="3.9">0.6</text><text class="a" font-size="11" text-anchor="middle" transform="translate(346.5 485) rotate(-78)" dy="3.9">0.6</text><text class="a" font-size="11" text-anchor="middle" transform="translate(231.3 633.7) rotate(12)" dy="3.9">0.2</text><text class="a" font-size="11" text-anchor="middle" transform="translate(242.6 641.4) rotate(15)" dy="3.9">0.3</text><text class="a" font-size="11" text-anchor="middle" transform="translate(248.7 649.5) rotate(18)" dy="3.9">0.4</text><text class="a" font-size="11" text-anchor="middle" transform="translate(258.7 662.5) rotate(15)" dy="3.9">0.5</text><text class="a" font-size="11" text-anchor="middle" transform="translate(300.5 758.5) rotate(65)" dy="3.9">0.5</text><text class="a" font-size="11" text-anchor="middle" transform="translate(231.3 903.7) rotate(12)" dy="3.9">0.2</text><text class="a" font-size="11" text-anchor="middle" transform="translate(242.6 911.4) rotate(15)" dy="3.9">0.3</text><text class="a" font-size="11" text-anchor="middle" transform="translate(248.7 919.5) rotate(18)" dy="3.9">0.4</text><text class="a" font-size="11" text-anchor="middle" transform="translate(260.4 937.5) rotate(15)" dy="3.9">0.5</text><text class="a" font-size="11" text-anchor="middle" transform="translate(242 1006) rotate(15)" dy="3.9">0.5</text><text class="a" font-size="11" text-anchor="middle" transform="translate(377.9 1076) rotate(-80)" dy="3.9">0.5</text><text class="a" font-size="11" text-anchor="middle" transform="translate(231.3 1173.7) rotate(12)" dy="3.9">0.2</text><text class="a" font-size="11" text-anchor="middle" transform="translate(242.6 1181.4) rotate(15)" dy="3.9">0.3</text><text class="a" font-size="11" text-anchor="middle" transform="translate(247 1188.5) rotate(15)" dy="3.9">0.4</text><text class="a" font-size="11" text-anchor="middle" transform="translate(303.5 1330.5) rotate(65)" dy="3.9">0.5</text></g>
<path d="M470.2 95.2C470.61 95.49 471.83 96.38 472.64 96.97C473.46 97.56 474.27 98.15 475.09 98.73C475.91 99.32 476.73 99.91 477.54 100.49C478.36 101.08 479.18 101.66 480 102.24C480.82 102.83 481.63 103.41 482.45 104.01C483.26 104.6 484.07 105.19 484.88 105.79C485.68 106.39 486.49 106.99 487.28 107.61C488.08 108.22 488.87 108.84 489.66 109.46C490.45 110.09 491.23 110.72 492.01 111.36C492.78 112 493.55 112.64 494.32 113.29C495.09 113.94 495.85 114.6 496.6 115.26C497.36 115.92 498.11 116.59 498.86 117.26C499.61 117.93 500.36 118.6 501.1 119.28C501.85 119.95 502.6 120.62 503.34 121.3C504.09 121.97 504.84 122.65 505.58 123.32C506.33 124 507.07 124.67 507.82 125.35C508.56 126.03 509.3 126.71 510.04 127.39C510.77 128.08 511.5 128.77 512.23 129.46C512.96 130.15 513.68 130.85 514.41 131.55C515.13 132.25 515.84 132.95 516.56 133.66C517.29 134.36 518 135.06 518.73 135.76C519.45 136.46 520.17 137.15 520.9 137.85C521.63 138.54 522.36 139.23 523.09 139.93C523.81 140.62 524.54 141.31 525.26 142.01C525.98 142.71 526.7 143.42 527.4 144.13C528.11 144.85 528.81 145.57 529.49 146.3C530.18 147.04 530.85 147.78 531.52 148.53C532.18 149.29 532.83 150.05 533.48 150.82C534.13 151.59 534.77 152.36 535.4 153.14C536.04 153.92 536.67 154.7 537.3 155.49C537.93 156.27 538.56 157.06 539.18 157.85C539.8 158.64 540.42 159.43 541.03 160.22C541.65 161.02 542.26 161.82 542.86 162.63C543.46 163.43 544.06 164.24 544.64 165.06C545.23 165.87 545.81 166.69 546.38 167.52C546.95 168.34 547.51 169.18 548.05 170.02C548.59 170.86 549.12 171.72 549.63 172.58C550.14 173.44 550.63 174.32 551.1 175.2C551.58 176.08 552.04 176.98 552.49 177.87C552.94 178.77 553.38 179.67 553.8 180.58C554.23 181.49 554.64 182.41 555.03 183.33C555.43 184.25 555.81 185.18 556.18 186.12C556.55 187.05 556.9 187.99 557.23 188.94C557.57 189.88 557.88 190.83 558.18 191.79C558.48 192.75 558.76 193.71 559.01 194.68C559.27 195.65 559.51 196.62 559.72 197.6C559.94 198.58 560.13 199.56 560.31 200.55C560.49 201.54 560.64 202.53 560.78 203.52C560.91 204.51 561.03 205.51 561.12 206.51C561.22 207.5 561.29 208.5 561.35 209.51C561.41 210.51 561.45 211.51 561.48 212.51C561.52 213.52 561.55 214.52 561.57 215.53C561.6 216.53 561.62 217.54 561.63 218.54C561.65 219.55 561.67 220.56 561.68 221.56C561.69 222.57 561.7 223.57 561.7 224.58C561.7 225.58 561.7 226.59 561.68 227.59C561.67 228.6 561.64 229.6 561.61 230.6C561.57 231.61 561.52 232.61 561.45 233.61C561.38 234.61 561.3 235.61 561.18 236.6C561.07 237.6 560.94 238.59 560.78 239.57C560.62 240.56 560.46 241.54 560.25 242.52C560.03 243.49 559.76 244.46 559.5 245.43C559.23 246.39 558.93 247.35 558.64 248.31C558.36 249.28 558.07 250.24 557.78 251.2C557.5 252.16 557.21 253.13 556.94 254.1C556.66 255.07 556.3 256.03 556.13 257C555.95 257.97 555.82 258.96 555.89 259.92C555.96 260.89 556.12 262.01 556.56 262.81C556.99 263.6 557.73 264.17 558.51 264.69C559.29 265.21 560.32 265.55 561.25 265.93C562.18 266.31 563.11 266.67 564.07 266.96C565.03 267.24 566.02 267.44 567.01 267.64C567.99 267.83 568.98 268.02 569.97 268.14C570.97 268.26 571.98 268.3 572.98 268.37C573.98 268.45 574.99 268.52 575.99 268.59C576.99 268.66 578.5 268.76 579 268.8L579 268.8C578.75 268.36 578.02 267.04 577.53 266.17C577.03 265.29 576.43 264.47 576.04 263.55C575.65 262.64 575.43 261.66 575.19 260.69C574.94 259.72 574.74 258.72 574.58 257.73C574.43 256.74 574.3 255.74 574.26 254.74C574.23 253.74 574.33 252.73 574.37 251.72C574.4 250.71 574.43 249.71 574.47 248.7C574.51 247.69 574.54 246.69 574.59 245.68C574.64 244.67 574.7 243.67 574.76 242.66C574.82 241.66 574.89 240.65 574.96 239.65C575.03 238.64 575.11 237.64 575.18 236.63C575.25 235.63 575.33 234.62 575.41 233.62C575.49 232.61 575.57 231.61 575.66 230.6C575.74 229.6 575.83 228.6 575.92 227.59C576.01 226.59 576.1 225.59 576.19 224.58C576.28 223.58 576.38 222.58 576.47 221.57C576.57 220.57 576.67 219.57 576.76 218.56C576.86 217.56 576.96 216.56 577.06 215.55C577.16 214.55 577.26 213.55 577.36 212.55C577.46 211.54 577.56 210.54 577.66 209.54C577.76 208.53 577.86 207.53 577.96 206.53C578.06 205.53 578.16 204.52 578.26 203.52C578.36 202.52 578.45 201.51 578.55 200.51C578.65 199.51 578.75 198.51 578.85 197.5C578.94 196.5 579.04 195.5 579.14 194.49C579.24 193.49 579.33 192.49 579.43 191.48C579.52 190.48 579.62 189.48 579.71 188.47C579.8 187.47 579.89 186.47 579.96 185.46C580.04 184.46 580.11 183.45 580.17 182.45C580.23 181.44 580.28 180.44 580.31 179.43C580.35 178.43 580.37 177.42 580.37 176.42C580.37 175.41 580.36 174.41 580.32 173.4C580.28 172.4 580.23 171.4 580.14 170.4C580.06 169.4 579.96 168.4 579.83 167.41C579.7 166.41 579.55 165.42 579.37 164.44C579.19 163.45 578.98 162.47 578.74 161.51C578.5 160.54 578.23 159.58 577.92 158.63C577.61 157.69 577.25 156.75 576.88 155.83C576.5 154.9 576.09 153.99 575.66 153.08C575.23 152.18 574.78 151.28 574.31 150.39C573.83 149.51 573.34 148.63 572.83 147.77C572.32 146.9 571.79 146.05 571.24 145.21C570.7 144.36 570.13 143.53 569.55 142.71C568.97 141.9 568.37 141.09 567.74 140.32C567.12 139.54 566.47 138.77 565.79 138.04C565.12 137.31 564.41 136.6 563.69 135.92C562.96 135.24 562.2 134.58 561.43 133.95C560.66 133.31 559.86 132.69 559.06 132.09C558.26 131.48 557.44 130.9 556.62 130.31C555.8 129.73 554.97 129.16 554.14 128.6C553.31 128.03 552.46 127.48 551.62 126.93C550.77 126.39 549.92 125.85 549.06 125.33C548.2 124.81 547.33 124.3 546.46 123.8C545.58 123.3 544.7 122.82 543.81 122.35C542.92 121.88 542.03 121.42 541.12 120.97C540.22 120.53 539.31 120.1 538.4 119.68C537.48 119.26 536.56 118.86 535.63 118.46C534.71 118.07 533.78 117.68 532.85 117.3C531.91 116.92 530.98 116.55 530.04 116.19C529.1 115.82 528.16 115.46 527.21 115.11C526.27 114.75 525.33 114.4 524.38 114.06C523.43 113.71 522.48 113.38 521.54 113.04C520.59 112.7 519.64 112.36 518.69 112.02C517.74 111.68 516.79 111.34 515.84 111C514.89 110.66 513.95 110.31 513 109.97C512.06 109.62 511.11 109.27 510.17 108.92C509.22 108.57 508.28 108.22 507.33 107.88C506.38 107.54 505.44 107.2 504.48 106.88C503.53 106.56 502.57 106.25 501.61 105.96C500.65 105.66 499.68 105.39 498.72 105.11C497.75 104.84 496.78 104.57 495.81 104.3C494.84 104.03 493.87 103.76 492.9 103.48C491.93 103.2 490.97 102.91 490.01 102.61C489.05 102.31 488.09 102 487.13 101.68C486.18 101.36 485.23 101.03 484.28 100.69C483.33 100.35 482.39 99.99 481.45 99.64C480.51 99.28 479.57 98.91 478.63 98.55C477.69 98.18 476.75 97.81 475.82 97.44C474.88 97.07 473.94 96.69 473.01 96.32C472.07 95.95 470.67 95.39 470.2 95.2Z" fill="#bebebe"/>
<path d="M470.2 95.2C470.64 95.45 471.95 96.19 472.83 96.67C473.7 97.15 474.59 97.63 475.48 98.09C476.37 98.55 477.27 99 478.17 99.42C479.08 99.85 479.99 100.26 480.91 100.67C481.83 101.07 482.76 101.45 483.68 101.84C484.61 102.23 485.54 102.6 486.47 102.98C487.4 103.36 488.33 103.74 489.26 104.13C490.19 104.51 491.11 104.9 492.03 105.3C492.95 105.7 493.87 106.1 494.79 106.52C495.7 106.94 496.61 107.37 497.51 107.8C498.41 108.24 499.31 108.69 500.21 109.14C501.11 109.59 502 110.05 502.89 110.52C503.78 110.99 504.66 111.46 505.55 111.94C506.43 112.41 507.31 112.9 508.19 113.39C509.06 113.88 509.93 114.38 510.8 114.89C511.67 115.39 512.53 115.91 513.39 116.43C514.25 116.95 515.1 117.48 515.95 118.01C516.81 118.54 517.66 119.08 518.51 119.61C519.36 120.14 520.22 120.67 521.07 121.19C521.93 121.72 522.78 122.24 523.64 122.77C524.49 123.29 525.35 123.81 526.2 124.35C527.05 124.88 527.9 125.41 528.74 125.96C529.58 126.51 530.41 127.08 531.23 127.65C532.05 128.23 532.85 128.83 533.65 129.44C534.44 130.05 535.23 130.67 536 131.31C536.78 131.95 537.54 132.6 538.3 133.25C539.06 133.91 539.81 134.58 540.55 135.26C541.29 135.94 542.02 136.62 542.74 137.32C543.46 138.01 544.18 138.72 544.88 139.44C545.57 140.16 546.26 140.89 546.93 141.63C547.6 142.38 548.25 143.14 548.88 143.92C549.51 144.69 550.12 145.49 550.71 146.29C551.3 147.1 551.88 147.92 552.44 148.75C553 149.58 553.55 150.42 554.09 151.27C554.63 152.11 555.15 152.97 555.68 153.82C556.2 154.68 556.72 155.54 557.24 156.4C557.75 157.27 558.26 158.13 558.76 159C559.26 159.87 559.75 160.75 560.22 161.63C560.69 162.52 561.15 163.41 561.58 164.31C562.01 165.21 562.43 166.12 562.81 167.05C563.2 167.97 563.56 168.9 563.89 169.84C564.23 170.78 564.53 171.74 564.82 172.7C565.1 173.66 565.36 174.62 565.59 175.6C565.83 176.57 566.04 177.55 566.24 178.53C566.44 179.51 566.62 180.5 566.79 181.49C566.96 182.48 567.11 183.47 567.26 184.47C567.41 185.46 567.54 186.45 567.67 187.45C567.8 188.45 567.92 189.44 568.02 190.44C568.13 191.44 568.23 192.44 568.32 193.44C568.41 194.44 568.49 195.44 568.56 196.44C568.63 197.44 568.69 198.45 568.74 199.45C568.79 200.45 568.83 201.45 568.87 202.46C568.9 203.46 568.93 204.47 568.95 205.47C568.97 206.48 568.98 207.48 569 208.48C569.01 209.49 569.01 210.49 569.02 211.5C569.02 212.5 569.01 213.51 569 214.51C568.99 215.52 568.98 216.52 568.96 217.52C568.93 218.53 568.91 219.53 568.87 220.54C568.84 221.54 568.8 222.54 568.76 223.55C568.71 224.55 568.67 225.56 568.61 226.56C568.56 227.56 568.5 228.57 568.44 229.57C568.38 230.57 568.31 231.57 568.24 232.57C568.16 233.58 568.08 234.58 567.99 235.58C567.9 236.58 567.8 237.58 567.7 238.57C567.59 239.57 567.47 240.57 567.35 241.57C567.22 242.56 567.1 243.56 566.95 244.55C566.8 245.54 566.63 246.53 566.45 247.52C566.26 248.51 566.05 249.49 565.84 250.47C565.64 251.45 565.39 252.43 565.22 253.42C565.04 254.4 564.9 255.4 564.77 256.4C564.65 257.39 564.42 258.41 564.49 259.38C564.55 260.35 564.79 261.34 565.16 262.21C565.53 263.08 566.04 263.98 566.74 264.6C567.43 265.23 568.43 265.59 569.34 265.97C570.25 266.34 571.23 266.6 572.2 266.85C573.17 267.11 574.17 267.25 575.15 267.49C576.12 267.72 577.41 268.08 578.05 268.27C578.69 268.45 578.84 268.54 579 268.6" fill="none" stroke="#f00" stroke-width="3.3" stroke-linejoin="round"/>
<path d="M568 95.1V269.3" stroke="#4a4a4a" stroke-width="1.3" stroke-dasharray="6.6 3"/>
<path d="M477.1 179.9H644.3" stroke="#000" stroke-width="1.6" stroke-dasharray="1.6 6.2"/>
<path d="M470.1 269.3v8.2M470.1 95.1v-8.2M470.1 269.3h-8.2M644.3 269.3h8.2M487.52 269.3v4.4M487.52 95.1v-4.4M470.1 251.88h-4.4M644.3 251.88h4.4M504.94 269.3v4.4M504.94 95.1v-4.4M470.1 234.46h-4.4M644.3 234.46h4.4M522.36 269.3v4.4M522.36 95.1v-4.4M470.1 217.04h-4.4M644.3 217.04h4.4M539.78 269.3v4.4M539.78 95.1v-4.4M470.1 199.62h-4.4M644.3 199.62h4.4M557.2 269.3v4.4M557.2 95.1v-4.4M470.1 182.2h-4.4M644.3 182.2h4.4M574.62 269.3v4.4M574.62 95.1v-4.4M470.1 164.78h-4.4M644.3 164.78h4.4M592.04 269.3v4.4M592.04 95.1v-4.4M470.1 147.36h-4.4M644.3 147.36h4.4M609.46 269.3v4.4M609.46 95.1v-4.4M470.1 129.94h-4.4M644.3 129.94h4.4M626.88 269.3v4.4M626.88 95.1v-4.4M470.1 112.52h-4.4M644.3 112.52h4.4M644.3 269.3v8.2M644.3 95.1v-8.2M470.1 95.1h-8.2M644.3 95.1h8.2" stroke="#000" stroke-width="1.1" fill="none"/>
<rect x="470.1" y="95.1" width="174.2" height="174.2" fill="none" stroke="#000" stroke-width="1.9"/>
<path d="M470.2 365.2C470.61 365.49 471.85 366.34 472.68 366.91C473.5 367.49 474.33 368.06 475.15 368.64C475.97 369.21 476.8 369.79 477.61 370.38C478.43 370.96 479.25 371.55 480.06 372.14C480.87 372.73 481.68 373.32 482.48 373.93C483.29 374.53 484.09 375.13 484.88 375.74C485.68 376.36 486.47 376.98 487.25 377.6C488.04 378.23 488.81 378.87 489.58 379.51C490.35 380.15 491.12 380.81 491.88 381.46C492.64 382.12 493.39 382.78 494.14 383.45C494.9 384.11 495.65 384.78 496.39 385.45C497.14 386.12 497.89 386.79 498.64 387.46C499.39 388.13 500.14 388.8 500.88 389.47C501.63 390.15 502.38 390.82 503.12 391.49C503.87 392.16 504.62 392.83 505.37 393.5C506.11 394.17 506.86 394.85 507.61 395.51C508.36 396.18 509.11 396.85 509.86 397.52C510.61 398.19 511.37 398.85 512.12 399.52C512.87 400.18 513.63 400.84 514.38 401.51C515.13 402.17 515.89 402.84 516.64 403.5C517.39 404.17 518.14 404.84 518.89 405.5C519.64 406.17 520.39 406.84 521.14 407.51C521.89 408.19 522.63 408.86 523.37 409.53C524.12 410.21 524.86 410.89 525.59 411.58C526.32 412.26 527.05 412.95 527.76 413.66C528.47 414.36 529.18 415.08 529.86 415.8C530.55 416.53 531.23 417.27 531.89 418.03C532.55 418.78 533.19 419.55 533.83 420.32C534.46 421.1 535.09 421.88 535.7 422.68C536.31 423.47 536.91 424.28 537.49 425.09C538.07 425.91 538.64 426.73 539.19 427.57C539.75 428.4 540.29 429.25 540.81 430.1C541.33 430.96 541.84 431.82 542.33 432.69C542.83 433.57 543.3 434.45 543.76 435.34C544.21 436.23 544.65 437.13 545.07 438.04C545.48 438.95 545.88 439.87 546.25 440.8C546.63 441.72 546.98 442.66 547.3 443.6C547.63 444.55 547.93 445.5 548.21 446.46C548.49 447.42 548.73 448.39 548.97 449.36C549.21 450.33 549.42 451.31 549.63 452.29C549.85 453.27 550.05 454.25 550.25 455.24C550.45 456.22 550.65 457.2 550.84 458.19C551.04 459.17 551.23 460.16 551.41 461.14C551.58 462.13 551.75 463.12 551.9 464.11C552.05 465.1 552.19 466.1 552.32 467.09C552.46 468.09 552.58 469.08 552.7 470.08C552.81 471.08 552.93 472.07 553.04 473.07C553.14 474.07 553.25 475.07 553.35 476.07C553.44 477.07 553.53 478.07 553.61 479.07C553.69 480.07 553.75 481.07 553.81 482.07C553.86 483.07 553.89 484.08 553.92 485.08C553.95 486.08 553.96 487.09 553.97 488.09C553.99 489.09 553.99 490.1 553.99 491.1C554 492.11 554 493.11 554 494.12C554 495.12 554 496.13 554 497.13C554 498.13 554 499.14 553.99 500.14C553.99 501.15 553.99 502.15 553.97 503.16C553.96 504.16 553.94 505.16 553.9 506.16C553.86 507.16 553.81 508.16 553.74 509.16C553.67 510.16 553.61 511.16 553.49 512.15C553.38 513.14 553.22 514.13 553.06 515.12C552.89 516.11 552.7 517.09 552.51 518.08C552.32 519.06 552.12 520.05 551.93 521.03C551.73 522.02 551.58 523.02 551.34 523.99C551.1 524.96 550.8 525.92 550.47 526.86C550.14 527.81 549.67 528.74 549.37 529.67C549.06 530.59 548.54 531.56 548.65 532.41C548.75 533.27 549.36 534.16 550 534.8C550.65 535.45 551.62 535.86 552.5 536.29C553.39 536.72 554.37 537.05 555.32 537.35C556.27 537.66 557.23 537.93 558.21 538.11C559.2 538.3 560.21 538.35 561.2 538.47C562.2 538.58 563.7 538.74 564.2 538.8L564.2 538.8C563.79 538.52 562.46 537.78 561.73 537.11C561.01 536.45 560.4 535.63 559.86 534.81C559.33 533.99 558.81 533.11 558.52 532.18C558.22 531.25 558.2 530.23 558.08 529.23C557.96 528.24 557.85 527.23 557.81 526.23C557.77 525.23 557.81 524.23 557.85 523.22C557.89 522.22 557.98 521.22 558.04 520.21C558.11 519.21 558.16 518.21 558.23 517.2C558.29 516.2 558.35 515.2 558.41 514.19C558.48 513.19 558.54 512.19 558.61 511.19C558.67 510.18 558.74 509.18 558.81 508.18C558.88 507.17 558.95 506.17 559.03 505.17C559.11 504.17 559.19 503.17 559.28 502.16C559.36 501.16 559.45 500.16 559.55 499.16C559.64 498.16 559.74 497.16 559.83 496.16C559.93 495.16 560.03 494.16 560.13 493.16C560.23 492.16 560.33 491.16 560.43 490.16C560.53 489.16 560.63 488.16 560.74 487.16C560.84 486.15 560.94 485.15 561.04 484.15C561.15 483.16 561.25 482.16 561.36 481.16C561.47 480.16 561.58 479.16 561.69 478.16C561.8 477.16 561.91 476.16 562.02 475.16C562.13 474.16 562.24 473.16 562.36 472.16C562.47 471.16 562.58 470.16 562.7 469.17C562.81 468.17 562.93 467.17 563.04 466.17C563.16 465.17 563.28 464.17 563.4 463.18C563.52 462.18 563.65 461.18 563.76 460.18C563.88 459.18 564 458.19 564.11 457.19C564.22 456.19 564.32 455.19 564.41 454.19C564.5 453.19 564.59 452.19 564.66 451.19C564.74 450.18 564.8 449.18 564.86 448.18C564.93 447.18 564.98 446.17 565.03 445.17C565.08 444.16 565.13 443.16 565.17 442.16C565.21 441.15 565.25 440.15 565.27 439.14C565.29 438.14 565.3 437.14 565.3 436.13C565.29 435.13 565.28 434.13 565.24 433.12C565.21 432.12 565.16 431.12 565.09 430.12C565.02 429.12 564.94 428.12 564.82 427.13C564.71 426.13 564.58 425.14 564.42 424.15C564.26 423.16 564.08 422.18 563.86 421.21C563.64 420.24 563.4 419.27 563.12 418.32C562.84 417.36 562.52 416.42 562.16 415.5C561.81 414.57 561.41 413.66 560.98 412.76C560.55 411.87 560.08 410.99 559.59 410.12C559.09 409.26 558.57 408.41 558.02 407.58C557.46 406.75 556.88 405.93 556.28 405.14C555.68 404.34 555.05 403.56 554.41 402.8C553.76 402.04 553.09 401.29 552.41 400.56C551.72 399.84 551.02 399.13 550.29 398.43C549.57 397.74 548.83 397.07 548.08 396.41C547.32 395.76 546.55 395.12 545.76 394.5C544.98 393.89 544.18 393.28 543.36 392.71C542.55 392.14 541.72 391.59 540.87 391.08C540.01 390.57 539.14 390.09 538.26 389.63C537.37 389.18 536.47 388.76 535.55 388.36C534.64 387.95 533.71 387.57 532.78 387.19C531.86 386.82 530.92 386.45 529.98 386.09C529.05 385.72 528.11 385.36 527.17 385C526.23 384.64 525.29 384.28 524.35 383.92C523.41 383.57 522.47 383.21 521.53 382.86C520.59 382.51 519.65 382.16 518.7 381.81C517.76 381.46 516.81 381.12 515.87 380.78C514.92 380.44 513.98 380.1 513.03 379.77C512.08 379.43 511.13 379.1 510.18 378.77C509.23 378.44 508.29 378.1 507.34 377.77C506.39 377.45 505.44 377.12 504.49 376.79C503.54 376.46 502.59 376.13 501.63 375.8C500.68 375.48 499.73 375.15 498.78 374.82C497.83 374.49 496.88 374.16 495.93 373.83C494.98 373.5 494.03 373.17 493.08 372.84C492.13 372.52 491.18 372.19 490.23 371.86C489.28 371.54 488.33 371.21 487.38 370.89C486.43 370.57 485.47 370.25 484.52 369.93C483.56 369.61 482.61 369.3 481.66 368.98C480.7 368.66 479.75 368.35 478.79 368.03C477.84 367.72 476.88 367.4 475.93 367.09C474.97 366.77 474.02 366.46 473.06 366.14C472.11 365.83 470.68 365.36 470.2 365.2Z" fill="#bebebe"/>
<path d="M470.2 365.2C470.63 365.44 471.91 366.16 472.78 366.62C473.66 367.07 474.54 367.51 475.44 367.93C476.33 368.35 477.25 368.73 478.17 369.12C479.09 369.51 480.03 369.87 480.96 370.25C481.89 370.62 482.83 370.99 483.76 371.37C484.69 371.74 485.63 372.12 486.56 372.51C487.49 372.9 488.41 373.29 489.34 373.69C490.27 374.08 491.19 374.48 492.11 374.89C493.03 375.3 493.95 375.71 494.87 376.12C495.79 376.54 496.7 376.96 497.61 377.39C498.52 377.81 499.43 378.25 500.34 378.68C501.25 379.12 502.15 379.56 503.06 380.01C503.96 380.46 504.86 380.91 505.76 381.37C506.65 381.82 507.55 382.29 508.44 382.75C509.33 383.22 510.22 383.69 511.11 384.17C511.99 384.65 512.88 385.13 513.76 385.62C514.64 386.11 515.51 386.61 516.38 387.11C517.25 387.62 518.12 388.13 518.98 388.66C519.83 389.18 520.68 389.72 521.53 390.27C522.37 390.82 523.21 391.37 524.04 391.94C524.87 392.51 525.69 393.09 526.5 393.68C527.32 394.27 528.13 394.87 528.92 395.48C529.72 396.1 530.5 396.73 531.28 397.36C532.05 398 532.82 398.66 533.57 399.32C534.33 399.98 535.07 400.66 535.8 401.35C536.53 402.04 537.25 402.74 537.94 403.46C538.63 404.18 539.31 404.92 539.96 405.68C540.61 406.44 541.24 407.22 541.85 408.01C542.46 408.81 543.04 409.62 543.61 410.45C544.18 411.27 544.73 412.11 545.26 412.96C545.8 413.81 546.31 414.68 546.81 415.55C547.31 416.42 547.79 417.3 548.26 418.19C548.72 419.08 549.17 419.98 549.6 420.89C550.04 421.79 550.45 422.71 550.85 423.63C551.25 424.55 551.63 425.48 551.99 426.42C552.35 427.36 552.69 428.3 553.01 429.25C553.33 430.21 553.63 431.16 553.92 432.13C554.2 433.09 554.47 434.06 554.72 435.03C554.96 436.01 555.2 436.99 555.41 437.97C555.63 438.95 555.82 439.94 556.01 440.92C556.19 441.91 556.36 442.9 556.51 443.9C556.67 444.89 556.8 445.89 556.93 446.89C557.05 447.88 557.16 448.89 557.26 449.89C557.35 450.89 557.44 451.89 557.51 452.89C557.59 453.9 557.65 454.9 557.7 455.91C557.75 456.91 557.79 457.92 557.83 458.93C557.87 459.93 557.9 460.94 557.92 461.94C557.95 462.95 557.97 463.96 557.99 464.97C558.01 465.97 558.02 466.98 558.04 467.99C558.05 468.99 558.06 470 558.07 471.01C558.08 472.02 558.08 473.02 558.09 474.03C558.09 475.04 558.09 476.04 558.09 477.05C558.08 478.06 558.08 479.07 558.07 480.07C558.07 481.08 558.06 482.09 558.05 483.1C558.04 484.1 558.02 485.11 558.01 486.12C557.99 487.12 557.97 488.13 557.96 489.14C557.94 490.15 557.92 491.15 557.9 492.16C557.88 493.17 557.86 494.17 557.84 495.18C557.82 496.19 557.79 497.2 557.76 498.2C557.73 499.21 557.69 500.21 557.65 501.22C557.6 502.22 557.54 503.23 557.48 504.23C557.41 505.24 557.33 506.24 557.25 507.24C557.16 508.25 557.07 509.25 556.97 510.25C556.87 511.25 556.76 512.25 556.65 513.25C556.54 514.26 556.43 515.26 556.3 516.26C556.18 517.25 556.05 518.25 555.88 519.24C555.71 520.23 555.5 521.22 555.3 522.2C555.09 523.19 554.85 524.17 554.66 525.16C554.46 526.15 554.21 527.13 554.13 528.12C554.05 529.12 554.06 530.16 554.15 531.13C554.25 532.1 554.27 533.14 554.69 533.96C555.12 534.78 555.92 535.49 556.7 536.06C557.47 536.63 558.4 537.03 559.32 537.37C560.25 537.72 561.43 537.91 562.24 538.12C563.06 538.32 563.87 538.52 564.2 538.6" fill="none" stroke="#f00" stroke-width="3.3" stroke-linejoin="round"/>
<path d="M556.3 365.1V539.3" stroke="#4a4a4a" stroke-width="1.3" stroke-dasharray="6.6 3"/>
<path d="M477.1 437.8H644.3" stroke="#000" stroke-width="1.6" stroke-dasharray="1.6 6.2"/>
<path d="M470.1 539.3v8.2M470.1 365.1v-8.2M470.1 539.3h-8.2M644.3 539.3h8.2M487.52 539.3v4.4M487.52 365.1v-4.4M470.1 521.88h-4.4M644.3 521.88h4.4M504.94 539.3v4.4M504.94 365.1v-4.4M470.1 504.46h-4.4M644.3 504.46h4.4M522.36 539.3v4.4M522.36 365.1v-4.4M470.1 487.04h-4.4M644.3 487.04h4.4M539.78 539.3v4.4M539.78 365.1v-4.4M470.1 469.62h-4.4M644.3 469.62h4.4M557.2 539.3v4.4M557.2 365.1v-4.4M470.1 452.2h-4.4M644.3 452.2h4.4M574.62 539.3v4.4M574.62 365.1v-4.4M470.1 434.78h-4.4M644.3 434.78h4.4M592.04 539.3v4.4M592.04 365.1v-4.4M470.1 417.36h-4.4M644.3 417.36h4.4M609.46 539.3v4.4M609.46 365.1v-4.4M470.1 399.94h-4.4M644.3 399.94h4.4M626.88 539.3v4.4M626.88 365.1v-4.4M470.1 382.52h-4.4M644.3 382.52h4.4M644.3 539.3v8.2M644.3 365.1v-8.2M470.1 365.1h-8.2M644.3 365.1h8.2" stroke="#000" stroke-width="1.1" fill="none"/>
<rect x="470.1" y="365.1" width="174.2" height="174.2" fill="none" stroke="#000" stroke-width="1.9"/>
<path d="M470.2 635.2C470.61 635.49 471.86 636.34 472.68 636.92C473.51 637.49 474.34 638.06 475.16 638.64C475.98 639.22 476.8 639.8 477.62 640.38C478.44 640.97 479.26 641.55 480.07 642.14C480.89 642.74 481.7 643.33 482.51 643.93C483.32 644.52 484.13 645.12 484.93 645.72C485.74 646.32 486.55 646.92 487.35 647.52C488.16 648.13 488.97 648.73 489.77 649.33C490.58 649.93 491.38 650.53 492.19 651.14C492.99 651.74 493.8 652.34 494.6 652.95C495.41 653.55 496.21 654.16 497.01 654.77C497.81 655.38 498.61 655.99 499.41 656.6C500.2 657.22 501 657.83 501.79 658.45C502.58 659.07 503.38 659.69 504.16 660.32C504.95 660.95 505.73 661.58 506.51 662.22C507.28 662.86 508.05 663.5 508.82 664.15C509.58 664.81 510.34 665.47 511.09 666.14C511.84 666.81 512.58 667.49 513.31 668.17C514.05 668.86 514.78 669.55 515.5 670.25C516.21 670.95 516.92 671.66 517.62 672.38C518.31 673.11 518.99 673.84 519.66 674.59C520.33 675.34 520.98 676.11 521.62 676.88C522.27 677.65 522.9 678.43 523.53 679.21C524.16 679.99 524.78 680.79 525.4 681.58C526.02 682.37 526.64 683.16 527.26 683.95C527.88 684.74 528.5 685.54 529.11 686.34C529.72 687.13 530.33 687.93 530.92 688.74C531.52 689.55 532.1 690.37 532.67 691.19C533.24 692.02 533.79 692.86 534.32 693.71C534.85 694.56 535.36 695.42 535.84 696.29C536.33 697.17 536.8 698.06 537.23 698.95C537.67 699.85 538.08 700.76 538.47 701.69C538.85 702.61 539.21 703.54 539.54 704.49C539.88 705.43 540.18 706.38 540.47 707.34C540.76 708.3 541.02 709.27 541.27 710.24C541.51 711.21 541.74 712.19 541.94 713.17C542.15 714.15 542.33 715.14 542.5 716.13C542.66 717.12 542.8 718.11 542.92 719.11C543.05 720.1 543.15 721.1 543.24 722.1C543.33 723.1 543.39 724.1 543.46 725.11C543.52 726.11 543.57 727.11 543.62 728.12C543.67 729.12 543.71 730.13 543.76 731.13C543.8 732.14 543.84 733.14 543.88 734.15C543.92 735.15 543.95 736.16 543.99 737.16C544.03 738.17 544.06 739.17 544.1 740.18C544.13 741.19 544.17 742.19 544.2 743.2C544.23 744.2 544.26 745.21 544.3 746.21C544.33 747.22 544.36 748.22 544.39 749.23C544.42 750.23 544.45 751.24 544.48 752.25C544.5 753.25 544.53 754.26 544.54 755.26C544.56 756.27 544.57 757.27 544.57 758.28C544.57 759.28 544.57 760.29 544.56 761.3C544.54 762.3 544.52 763.31 544.5 764.31C544.48 765.32 544.45 766.32 544.42 767.33C544.39 768.33 544.36 769.34 544.33 770.34C544.29 771.35 544.26 772.35 544.22 773.36C544.18 774.36 544.13 775.37 544.08 776.37C544.02 777.38 543.96 778.38 543.89 779.38C543.82 780.38 543.75 781.38 543.65 782.38C543.55 783.38 543.43 784.38 543.3 785.38C543.18 786.38 543.04 787.37 542.9 788.37C542.77 789.37 542.63 790.36 542.48 791.36C542.34 792.35 542.2 793.35 542.06 794.35C541.92 795.34 541.78 796.34 541.64 797.33C541.49 798.33 541.35 799.33 541.2 800.32C541.05 801.31 540.66 802.39 540.75 803.26C540.84 804.13 541.15 804.91 541.74 805.54C542.33 806.17 543.4 806.6 544.3 807.03C545.19 807.46 546.32 807.82 547.11 808.12C547.89 808.41 548.68 808.69 549 808.8L551.3 808.8C550.88 808.55 549.51 807.92 548.8 807.29C548.09 806.65 547.43 805.87 547.04 805C546.66 804.14 546.62 803.09 546.49 802.1C546.37 801.12 546.3 800.11 546.3 799.11C546.3 798.11 546.41 797.1 546.48 796.1C546.56 795.1 546.65 794.1 546.73 793.09C546.8 792.09 546.88 791.09 546.96 790.09C547.04 789.09 547.12 788.08 547.19 787.08C547.27 786.08 547.34 785.08 547.41 784.07C547.48 783.07 547.54 782.07 547.59 781.06C547.65 780.06 547.69 779.06 547.74 778.05C547.79 777.05 547.83 776.04 547.87 775.04C547.9 774.03 547.94 773.03 547.97 772.03C548.01 771.02 548.04 770.02 548.07 769.01C548.11 768.01 548.14 767 548.18 766C548.21 764.99 548.25 763.99 548.29 762.98C548.33 761.98 548.37 760.97 548.42 759.97C548.46 758.97 548.52 757.96 548.57 756.96C548.63 755.95 548.69 754.95 548.75 753.95C548.81 752.94 548.88 751.94 548.94 750.94C549.01 749.94 549.08 748.93 549.14 747.93C549.21 746.93 549.28 745.92 549.35 744.92C549.41 743.92 549.48 742.91 549.54 741.91C549.61 740.91 549.67 739.9 549.72 738.9C549.78 737.9 549.84 736.89 549.89 735.89C549.94 734.88 549.98 733.88 550.02 732.88C550.07 731.87 550.11 730.87 550.14 729.86C550.18 728.86 550.22 727.85 550.26 726.85C550.3 725.84 550.33 724.84 550.37 723.83C550.41 722.83 550.45 721.83 550.49 720.82C550.53 719.82 550.57 718.81 550.61 717.81C550.66 716.8 550.7 715.8 550.75 714.79C550.79 713.79 550.84 712.79 550.88 711.78C550.93 710.78 550.97 709.77 551.02 708.77C551.06 707.76 551.1 706.76 551.14 705.76C551.18 704.75 551.22 703.75 551.25 702.74C551.27 701.74 551.3 700.73 551.3 699.73C551.31 698.73 551.31 697.72 551.29 696.72C551.27 695.72 551.24 694.71 551.19 693.71C551.14 692.71 551.08 691.71 550.99 690.71C550.9 689.71 550.8 688.71 550.67 687.72C550.54 686.73 550.39 685.74 550.21 684.75C550.03 683.77 549.83 682.79 549.61 681.81C549.38 680.84 549.13 679.87 548.85 678.91C548.57 677.96 548.26 677.01 547.92 676.07C547.58 675.14 547.2 674.21 546.8 673.31C546.39 672.4 545.95 671.51 545.47 670.64C544.99 669.77 544.47 668.93 543.92 668.1C543.37 667.28 542.78 666.48 542.16 665.7C541.55 664.93 540.9 664.17 540.23 663.43C539.56 662.7 538.87 661.98 538.15 661.31C537.43 660.63 536.69 659.98 535.91 659.38C535.13 658.77 534.33 658.21 533.49 657.69C532.65 657.17 531.78 656.7 530.9 656.26C530.01 655.81 529.1 655.41 528.18 655.02C527.26 654.63 526.32 654.28 525.38 653.93C524.45 653.57 523.5 653.24 522.55 652.91C521.6 652.58 520.65 652.27 519.69 651.95C518.74 651.64 517.78 651.33 516.82 651.03C515.86 650.72 514.9 650.43 513.94 650.13C512.98 649.83 512.02 649.53 511.06 649.23C510.1 648.94 509.14 648.64 508.18 648.34C507.22 648.03 506.27 647.73 505.31 647.43C504.35 647.13 503.39 646.82 502.43 646.52C501.47 646.21 500.52 645.91 499.56 645.61C498.6 645.31 497.64 645.01 496.68 644.71C495.72 644.41 494.76 644.11 493.8 643.81C492.84 643.5 491.88 643.2 490.93 642.89C489.97 642.58 489.02 642.26 488.07 641.93C487.12 641.6 486.18 641.26 485.23 640.92C484.29 640.58 483.35 640.23 482.4 639.87C481.46 639.52 480.52 639.16 479.58 638.8C478.65 638.45 477.71 638.09 476.77 637.73C475.83 637.37 474.89 637 473.95 636.64C473.02 636.28 471.76 635.8 471.14 635.56C470.51 635.32 470.36 635.26 470.2 635.2Z" fill="#bebebe"/>
<path d="M470.2 635.2C470.63 635.44 471.9 636.2 472.77 636.67C473.64 637.14 474.51 637.6 475.4 638.04C476.3 638.48 477.21 638.89 478.12 639.3C479.03 639.7 479.96 640.09 480.89 640.49C481.81 640.89 482.74 641.28 483.66 641.68C484.59 642.07 485.52 642.47 486.44 642.88C487.37 643.28 488.29 643.68 489.21 644.09C490.14 644.5 491.06 644.9 491.98 645.32C492.9 645.73 493.82 646.14 494.73 646.57C495.65 646.99 496.56 647.41 497.47 647.85C498.38 648.28 499.29 648.72 500.2 649.16C501.1 649.61 502 650.06 502.9 650.51C503.8 650.97 504.7 651.43 505.6 651.89C506.49 652.35 507.39 652.82 508.28 653.28C509.17 653.75 510.07 654.22 510.95 654.7C511.84 655.18 512.72 655.66 513.59 656.17C514.46 656.67 515.32 657.18 516.17 657.72C517.02 658.26 517.86 658.81 518.68 659.39C519.5 659.96 520.31 660.56 521.1 661.18C521.9 661.79 522.68 662.42 523.44 663.08C524.2 663.73 524.95 664.4 525.67 665.09C526.4 665.78 527.11 666.49 527.8 667.22C528.5 667.94 529.17 668.69 529.83 669.45C530.49 670.2 531.13 670.98 531.75 671.77C532.36 672.56 532.96 673.36 533.53 674.19C534.1 675.01 534.64 675.85 535.17 676.71C535.69 677.56 536.19 678.43 536.67 679.31C537.15 680.2 537.61 681.09 538.05 681.99C538.49 682.9 538.91 683.81 539.32 684.73C539.72 685.65 540.11 686.58 540.48 687.52C540.85 688.45 541.2 689.4 541.54 690.34C541.88 691.29 542.2 692.24 542.51 693.2C542.81 694.16 543.1 695.13 543.38 696.09C543.65 697.06 543.91 698.04 544.15 699.01C544.38 699.99 544.6 700.97 544.81 701.96C545.01 702.94 545.19 703.93 545.36 704.93C545.52 705.92 545.67 706.91 545.81 707.91C545.94 708.91 546.06 709.91 546.17 710.91C546.28 711.91 546.37 712.92 546.45 713.92C546.53 714.92 546.59 715.93 546.65 716.94C546.7 717.94 546.74 718.95 546.78 719.96C546.81 720.96 546.83 721.97 546.85 722.98C546.87 723.99 546.88 724.99 546.88 726C546.89 727.01 546.89 728.02 546.89 729.03C546.9 730.04 546.89 731.05 546.89 732.05C546.89 733.06 546.89 734.07 546.88 735.08C546.88 736.09 546.87 737.1 546.86 738.11C546.86 739.11 546.85 740.12 546.83 741.13C546.82 742.14 546.81 743.15 546.8 744.16C546.79 745.17 546.77 746.17 546.76 747.18C546.74 748.19 546.73 749.2 546.71 750.21C546.7 751.22 546.68 752.22 546.66 753.23C546.64 754.24 546.62 755.25 546.6 756.26C546.57 757.27 546.54 758.27 546.51 759.28C546.48 760.29 546.44 761.3 546.4 762.3C546.36 763.31 546.31 764.32 546.26 765.33C546.22 766.33 546.17 767.34 546.12 768.35C546.07 769.36 546.02 770.36 545.97 771.37C545.91 772.38 545.86 773.39 545.81 774.39C545.75 775.4 545.69 776.41 545.63 777.41C545.57 778.42 545.51 779.43 545.44 780.43C545.37 781.44 545.3 782.44 545.22 783.45C545.14 784.45 545.05 785.46 544.96 786.46C544.87 787.47 544.78 788.47 544.68 789.48C544.59 790.48 544.5 791.48 544.41 792.49C544.31 793.49 544.2 794.5 544.13 795.5C544.05 796.51 543.98 797.51 543.93 798.52C543.88 799.53 543.77 800.56 543.81 801.54C543.85 802.53 543.85 803.54 544.18 804.42C544.51 805.31 545.09 806.26 545.78 806.87C546.47 807.48 547.41 807.78 548.33 808.06C549.25 808.35 550.8 808.51 551.3 808.6" fill="none" stroke="#f00" stroke-width="3.3" stroke-linejoin="round"/>
<path d="M545.9 635.1V809.3" stroke="#4a4a4a" stroke-width="1.3" stroke-dasharray="6.6 3"/>
<path d="M477.1 700.35H644.3" stroke="#000" stroke-width="1.6" stroke-dasharray="1.6 6.2"/>
<path d="M470.1 809.3v8.2M470.1 635.1v-8.2M470.1 809.3h-8.2M644.3 809.3h8.2M487.52 809.3v4.4M487.52 635.1v-4.4M470.1 791.88h-4.4M644.3 791.88h4.4M504.94 809.3v4.4M504.94 635.1v-4.4M470.1 774.46h-4.4M644.3 774.46h4.4M522.36 809.3v4.4M522.36 635.1v-4.4M470.1 757.04h-4.4M644.3 757.04h4.4M539.78 809.3v4.4M539.78 635.1v-4.4M470.1 739.62h-4.4M644.3 739.62h4.4M557.2 809.3v4.4M557.2 635.1v-4.4M470.1 722.2h-4.4M644.3 722.2h4.4M574.62 809.3v4.4M574.62 635.1v-4.4M470.1 704.78h-4.4M644.3 704.78h4.4M592.04 809.3v4.4M592.04 635.1v-4.4M470.1 687.36h-4.4M644.3 687.36h4.4M609.46 809.3v4.4M609.46 635.1v-4.4M470.1 669.94h-4.4M644.3 669.94h4.4M626.88 809.3v4.4M626.88 635.1v-4.4M470.1 652.52h-4.4M644.3 652.52h4.4M644.3 809.3v8.2M644.3 635.1v-8.2M470.1 635.1h-8.2M644.3 635.1h8.2" stroke="#000" stroke-width="1.1" fill="none"/>
<rect x="470.1" y="635.1" width="174.2" height="174.2" fill="none" stroke="#000" stroke-width="1.9"/>
<path d="M470.2 905.2C470.63 905.47 471.91 906.27 472.76 906.81C473.61 907.35 474.47 907.9 475.31 908.44C476.16 908.99 477.01 909.54 477.85 910.09C478.7 910.65 479.54 911.21 480.37 911.77C481.21 912.33 482.04 912.9 482.87 913.48C483.7 914.05 484.53 914.63 485.36 915.21C486.18 915.78 487.01 916.37 487.83 916.95C488.66 917.53 489.48 918.12 490.3 918.71C491.12 919.3 491.93 919.89 492.75 920.49C493.56 921.08 494.38 921.68 495.19 922.28C496 922.88 496.81 923.48 497.61 924.09C498.41 924.7 499.22 925.32 500.01 925.94C500.81 926.56 501.6 927.18 502.39 927.81C503.18 928.44 503.97 929.07 504.75 929.71C505.53 930.35 506.31 930.99 507.08 931.64C507.85 932.29 508.61 932.95 509.37 933.61C510.13 934.28 510.88 934.95 511.63 935.63C512.37 936.31 513.11 936.99 513.84 937.69C514.57 938.38 515.3 939.08 516.02 939.79C516.73 940.5 517.45 941.21 518.14 941.94C518.84 942.67 519.52 943.41 520.19 944.16C520.86 944.91 521.52 945.67 522.16 946.45C522.8 947.22 523.43 948.01 524.05 948.8C524.67 949.6 525.27 950.4 525.86 951.22C526.45 952.04 527.02 952.86 527.58 953.7C528.13 954.54 528.66 955.39 529.18 956.26C529.69 957.12 530.18 958 530.65 958.88C531.13 959.77 531.58 960.67 532.01 961.57C532.44 962.48 532.85 963.4 533.23 964.33C533.62 965.26 533.98 966.19 534.31 967.14C534.65 968.09 534.96 969.04 535.25 970.01C535.54 970.97 535.8 971.94 536.05 972.91C536.3 973.89 536.52 974.87 536.72 975.85C536.93 976.84 537.11 977.83 537.29 978.82C537.46 979.81 537.61 980.81 537.76 981.81C537.9 982.81 538.04 983.81 538.16 984.81C538.29 985.81 538.41 986.81 538.52 987.81C538.63 988.81 538.74 989.82 538.84 990.82C538.95 991.83 539.04 992.83 539.14 993.83C539.24 994.84 539.34 995.84 539.43 996.85C539.53 997.85 539.62 998.86 539.71 999.86C539.79 1000.87 539.88 1001.87 539.95 1002.88C540.03 1003.89 540.1 1004.89 540.15 1005.9C540.2 1006.9 540.24 1007.91 540.28 1008.92C540.31 1009.93 540.32 1010.94 540.34 1011.94C540.35 1012.95 540.35 1013.96 540.35 1014.97C540.36 1015.98 540.35 1016.99 540.35 1018C540.35 1019.01 540.34 1020.02 540.34 1021.03C540.33 1022.04 540.33 1023.05 540.32 1024.05C540.31 1025.06 540.3 1026.07 540.29 1027.08C540.28 1028.09 540.27 1029.1 540.25 1030.11C540.24 1031.12 540.22 1032.13 540.2 1033.14C540.18 1034.15 540.15 1035.16 540.13 1036.16C540.11 1037.17 540.08 1038.18 540.05 1039.19C540.03 1040.2 540 1041.21 539.97 1042.22C539.95 1043.23 539.92 1044.24 539.89 1045.25C539.87 1046.25 539.84 1047.26 539.81 1048.27C539.78 1049.28 539.75 1050.29 539.72 1051.3C539.69 1052.31 539.65 1053.31 539.61 1054.32C539.58 1055.33 539.55 1056.34 539.49 1057.34C539.44 1058.35 539.42 1059.36 539.3 1060.36C539.19 1061.36 539 1062.35 538.82 1063.34C538.65 1064.33 538.43 1065.32 538.24 1066.31C538.04 1067.3 537.84 1068.29 537.64 1069.28C537.45 1070.27 537.11 1071.29 537.08 1072.24C537.05 1073.2 537.09 1074.19 537.45 1075.02C537.82 1075.86 538.5 1076.73 539.26 1077.25C540.03 1077.77 541.09 1077.9 542.04 1078.16C543 1078.42 544.51 1078.69 545 1078.8L546.9 1078.8C546.48 1078.53 545.09 1077.79 544.37 1077.17C543.64 1076.56 542.92 1075.94 542.54 1075.11C542.15 1074.28 542.17 1073.18 542.06 1072.19C541.95 1071.21 541.88 1070.19 541.87 1069.19C541.86 1068.19 541.95 1067.18 541.99 1066.18C542.04 1065.18 542.1 1064.17 542.14 1063.17C542.19 1062.16 542.24 1061.16 542.27 1060.15C542.31 1059.15 542.33 1058.14 542.36 1057.14C542.38 1056.13 542.41 1055.13 542.43 1054.12C542.46 1053.12 542.48 1052.11 542.51 1051.11C542.53 1050.1 542.55 1049.1 542.58 1048.09C542.6 1047.09 542.62 1046.08 542.65 1045.08C542.67 1044.07 542.7 1043.07 542.72 1042.06C542.74 1041.06 542.77 1040.05 542.79 1039.05C542.81 1038.04 542.84 1037.04 542.86 1036.03C542.89 1035.03 542.92 1034.02 542.95 1033.02C542.98 1032.01 543.01 1031.01 543.04 1030C543.07 1029 543.11 1027.99 543.15 1026.99C543.18 1025.99 543.23 1024.98 543.27 1023.98C543.31 1022.97 543.35 1021.97 543.39 1020.96C543.44 1019.96 543.48 1018.95 543.52 1017.95C543.57 1016.95 543.61 1015.94 543.66 1014.94C543.7 1013.93 543.75 1012.93 543.79 1011.92C543.84 1010.92 543.89 1009.92 543.94 1008.91C543.99 1007.91 544.05 1006.9 544.11 1005.9C544.17 1004.9 544.23 1003.89 544.29 1002.89C544.35 1001.89 544.42 1000.88 544.49 999.88C544.55 998.88 544.62 997.87 544.69 996.87C544.76 995.87 544.82 994.86 544.89 993.86C544.96 992.86 545.03 991.86 545.09 990.85C545.16 989.85 545.22 988.85 545.29 987.84C545.35 986.84 545.41 985.84 545.47 984.83C545.52 983.83 545.58 982.82 545.63 981.82C545.68 980.82 545.73 979.81 545.78 978.81C545.83 977.8 545.88 976.8 545.93 975.8C545.98 974.79 546.02 973.79 546.07 972.78C546.11 971.78 546.16 970.77 546.19 969.77C546.22 968.77 546.26 967.76 546.28 966.76C546.29 965.75 546.3 964.75 546.3 963.75C546.29 962.74 546.27 961.74 546.24 960.74C546.2 959.73 546.15 958.73 546.08 957.73C546.01 956.73 545.93 955.73 545.82 954.73C545.71 953.74 545.59 952.74 545.44 951.75C545.29 950.76 545.12 949.78 544.92 948.8C544.72 947.82 544.5 946.85 544.24 945.89C543.97 944.94 543.68 943.99 543.34 943.06C543 942.13 542.62 941.22 542.19 940.33C541.77 939.44 541.3 938.56 540.79 937.72C540.29 936.88 539.74 936.06 539.14 935.27C538.55 934.49 537.92 933.74 537.24 933.02C536.57 932.3 535.85 931.62 535.11 930.97C534.37 930.32 533.59 929.7 532.79 929.11C532 928.51 531.17 927.95 530.34 927.4C529.5 926.86 528.64 926.34 527.78 925.84C526.91 925.34 526.03 924.87 525.14 924.4C524.25 923.94 523.35 923.5 522.45 923.07C521.54 922.63 520.63 922.22 519.71 921.81C518.79 921.41 517.86 921.02 516.93 920.64C516 920.26 515.07 919.9 514.13 919.54C513.19 919.19 512.25 918.85 511.3 918.52C510.35 918.19 509.4 917.87 508.44 917.57C507.48 917.26 506.52 916.97 505.56 916.69C504.6 916.4 503.63 916.13 502.66 915.85C501.7 915.58 500.73 915.31 499.76 915.03C498.79 914.76 497.83 914.48 496.86 914.2C495.9 913.92 494.93 913.64 493.97 913.35C493.01 913.05 492.05 912.76 491.09 912.46C490.13 912.15 489.17 911.85 488.22 911.53C487.26 911.22 486.31 910.9 485.36 910.57C484.41 910.25 483.46 909.92 482.51 909.58C481.56 909.25 480.62 908.91 479.67 908.58C478.72 908.24 477.77 907.9 476.83 907.57C475.88 907.23 474.93 906.89 473.99 906.55C473.04 906.21 471.78 905.76 471.15 905.54C470.52 905.31 470.36 905.26 470.2 905.2Z" fill="#bebebe"/>
<path d="M470.2 905.2C470.63 905.44 471.91 906.16 472.79 906.62C473.66 907.08 474.55 907.52 475.45 907.93C476.35 908.35 477.27 908.74 478.19 909.12C479.11 909.51 480.05 909.88 480.98 910.25C481.91 910.63 482.85 911 483.79 911.38C484.72 911.76 485.65 912.14 486.59 912.52C487.52 912.91 488.45 913.3 489.37 913.7C490.3 914.1 491.23 914.5 492.15 914.91C493.07 915.32 493.99 915.73 494.91 916.15C495.83 916.57 496.74 916.99 497.66 917.42C498.57 917.85 499.48 918.29 500.38 918.73C501.29 919.18 502.19 919.63 503.09 920.09C503.99 920.55 504.88 921.01 505.77 921.49C506.65 921.97 507.54 922.46 508.41 922.95C509.29 923.45 510.16 923.96 511.02 924.49C511.88 925.01 512.73 925.54 513.58 926.09C514.42 926.64 515.25 927.2 516.07 927.79C516.89 928.37 517.69 928.97 518.48 929.59C519.26 930.22 520.02 930.86 520.77 931.54C521.51 932.21 522.23 932.9 522.93 933.62C523.64 934.33 524.32 935.07 524.98 935.82C525.64 936.57 526.28 937.34 526.9 938.13C527.52 938.92 528.11 939.73 528.68 940.56C529.25 941.38 529.79 942.23 530.32 943.08C530.84 943.94 531.34 944.81 531.82 945.69C532.31 946.57 532.77 947.47 533.21 948.37C533.65 949.28 534.07 950.19 534.47 951.11C534.87 952.03 535.26 952.97 535.63 953.9C535.99 954.84 536.34 955.78 536.67 956.73C537 957.68 537.31 958.64 537.6 959.61C537.9 960.57 538.17 961.54 538.43 962.51C538.68 963.48 538.92 964.46 539.15 965.44C539.37 966.43 539.58 967.41 539.77 968.4C539.96 969.39 540.13 970.38 540.3 971.38C540.46 972.37 540.6 973.37 540.74 974.37C540.88 975.37 541 976.37 541.11 977.37C541.22 978.37 541.32 979.37 541.41 980.38C541.5 981.38 541.58 982.39 541.65 983.39C541.71 984.4 541.77 985.41 541.82 986.41C541.87 987.42 541.91 988.43 541.94 989.44C541.98 990.45 542 991.45 542.02 992.46C542.05 993.47 542.07 994.48 542.09 995.49C542.11 996.5 542.13 997.51 542.14 998.52C542.16 999.53 542.17 1000.53 542.19 1001.54C542.2 1002.55 542.21 1003.56 542.21 1004.57C542.22 1005.58 542.22 1006.59 542.21 1007.6C542.21 1008.61 542.2 1009.61 542.19 1010.62C542.17 1011.63 542.16 1012.64 542.14 1013.65C542.12 1014.66 542.1 1015.67 542.07 1016.68C542.05 1017.69 542.03 1018.69 542.01 1019.7C541.98 1020.71 541.96 1021.72 541.94 1022.73C541.91 1023.74 541.89 1024.75 541.86 1025.76C541.84 1026.77 541.81 1027.77 541.78 1028.78C541.75 1029.79 541.73 1030.8 541.7 1031.81C541.67 1032.82 541.64 1033.83 541.6 1034.84C541.57 1035.84 541.54 1036.85 541.51 1037.86C541.48 1038.87 541.45 1039.88 541.41 1040.89C541.38 1041.9 541.35 1042.9 541.31 1043.91C541.28 1044.92 541.25 1045.93 541.21 1046.94C541.18 1047.95 541.14 1048.96 541.11 1049.96C541.07 1050.97 541.03 1051.98 540.99 1052.99C540.95 1054 540.91 1055.01 540.86 1056.01C540.82 1057.02 540.77 1058.03 540.73 1059.04C540.68 1060.05 540.64 1061.05 540.6 1062.06C540.55 1063.07 540.55 1064.08 540.47 1065.09C540.38 1066.09 540.26 1067.09 540.09 1068.08C539.92 1069.07 539.55 1070.06 539.43 1071.03C539.31 1072 539.16 1072.98 539.36 1073.91C539.56 1074.83 540.02 1075.88 540.62 1076.56C541.21 1077.23 542.05 1077.64 542.93 1077.95C543.81 1078.27 545.24 1078.34 545.9 1078.45C546.56 1078.55 546.73 1078.57 546.9 1078.6" fill="none" stroke="#f00" stroke-width="3.3" stroke-linejoin="round"/>
<path d="M541.2 905.1V1079.3" stroke="#4a4a4a" stroke-width="1.3" stroke-dasharray="6.6 3"/>
<path d="M477.1 964.85H644.3" stroke="#000" stroke-width="1.6" stroke-dasharray="1.6 6.2"/>
<path d="M470.1 1079.3v8.2M470.1 905.1v-8.2M470.1 1079.3h-8.2M644.3 1079.3h8.2M487.52 1079.3v4.4M487.52 905.1v-4.4M470.1 1061.88h-4.4M644.3 1061.88h4.4M504.94 1079.3v4.4M504.94 905.1v-4.4M470.1 1044.46h-4.4M644.3 1044.46h4.4M522.36 1079.3v4.4M522.36 905.1v-4.4M470.1 1027.04h-4.4M644.3 1027.04h4.4M539.78 1079.3v4.4M539.78 905.1v-4.4M470.1 1009.62h-4.4M644.3 1009.62h4.4M557.2 1079.3v4.4M557.2 905.1v-4.4M470.1 992.2h-4.4M644.3 992.2h4.4M574.62 1079.3v4.4M574.62 905.1v-4.4M470.1 974.78h-4.4M644.3 974.78h4.4M592.04 1079.3v4.4M592.04 905.1v-4.4M470.1 957.36h-4.4M644.3 957.36h4.4M609.46 1079.3v4.4M609.46 905.1v-4.4M470.1 939.94h-4.4M644.3 939.94h4.4M626.88 1079.3v4.4M626.88 905.1v-4.4M470.1 922.52h-4.4M644.3 922.52h4.4M644.3 1079.3v8.2M644.3 905.1v-8.2M470.1 905.1h-8.2M644.3 905.1h8.2" stroke="#000" stroke-width="1.1" fill="none"/>
<rect x="470.1" y="905.1" width="174.2" height="174.2" fill="none" stroke="#000" stroke-width="1.9"/>
<path d="M470.2 1175.2C470.63 1175.47 471.91 1176.27 472.76 1176.81C473.61 1177.35 474.46 1177.89 475.3 1178.43C476.15 1178.98 477 1179.53 477.84 1180.08C478.68 1180.63 479.51 1181.19 480.35 1181.76C481.18 1182.32 482.01 1182.89 482.84 1183.47C483.66 1184.05 484.48 1184.63 485.3 1185.22C486.11 1185.81 486.92 1186.41 487.73 1187.01C488.53 1187.62 489.33 1188.23 490.12 1188.85C490.91 1189.47 491.7 1190.09 492.49 1190.71C493.29 1191.33 494.07 1191.95 494.87 1192.56C495.67 1193.17 496.48 1193.77 497.29 1194.36C498.11 1194.95 498.93 1195.52 499.75 1196.1C500.57 1196.68 501.4 1197.24 502.21 1197.83C503.02 1198.42 503.83 1199.01 504.62 1199.62C505.41 1200.24 506.19 1200.87 506.95 1201.52C507.71 1202.17 508.45 1202.85 509.19 1203.53C509.92 1204.21 510.65 1204.91 511.36 1205.62C512.07 1206.32 512.78 1207.04 513.48 1207.77C514.17 1208.49 514.86 1209.23 515.53 1209.97C516.21 1210.72 516.87 1211.47 517.53 1212.24C518.18 1213 518.83 1213.77 519.46 1214.55C520.1 1215.33 520.73 1216.12 521.34 1216.91C521.95 1217.71 522.55 1218.52 523.13 1219.33C523.72 1220.15 524.29 1220.98 524.84 1221.82C525.39 1222.66 525.93 1223.5 526.44 1224.36C526.96 1225.22 527.46 1226.09 527.93 1226.98C528.4 1227.86 528.86 1228.75 529.28 1229.66C529.7 1230.56 530.1 1231.48 530.46 1232.41C530.83 1233.34 531.17 1234.29 531.48 1235.24C531.79 1236.19 532.08 1237.15 532.34 1238.12C532.6 1239.08 532.83 1240.06 533.04 1241.04C533.26 1242.02 533.45 1243.01 533.62 1243.99C533.8 1244.98 533.96 1245.98 534.11 1246.97C534.26 1247.97 534.4 1248.96 534.53 1249.96C534.66 1250.96 534.78 1251.96 534.9 1252.96C535.02 1253.96 535.12 1254.96 535.23 1255.96C535.33 1256.96 535.43 1257.96 535.52 1258.97C535.61 1259.97 535.69 1260.97 535.77 1261.98C535.85 1262.98 535.92 1263.98 535.99 1264.99C536.05 1265.99 536.11 1267 536.16 1268C536.21 1269.01 536.26 1270.01 536.3 1271.02C536.34 1272.03 536.38 1273.03 536.42 1274.04C536.46 1275.05 536.5 1276.05 536.53 1277.06C536.57 1278.07 536.61 1279.07 536.64 1280.08C536.68 1281.08 536.71 1282.09 536.74 1283.1C536.77 1284.1 536.8 1285.11 536.83 1286.12C536.85 1287.12 536.88 1288.13 536.89 1289.14C536.9 1290.14 536.91 1291.15 536.92 1292.16C536.92 1293.16 536.92 1294.17 536.91 1295.18C536.91 1296.19 536.9 1297.19 536.89 1298.2C536.87 1299.21 536.86 1300.21 536.85 1301.22C536.84 1302.23 536.82 1303.23 536.81 1304.24C536.8 1305.25 536.78 1306.26 536.77 1307.26C536.76 1308.27 536.74 1309.28 536.73 1310.28C536.71 1311.29 536.7 1312.3 536.68 1313.3C536.66 1314.31 536.64 1315.32 536.62 1316.32C536.59 1317.33 536.56 1318.34 536.53 1319.34C536.49 1320.35 536.46 1321.36 536.42 1322.36C536.37 1323.37 536.32 1324.37 536.26 1325.38C536.2 1326.38 536.14 1327.39 536.08 1328.4C536.02 1329.4 535.96 1330.41 535.9 1331.41C535.84 1332.42 535.78 1333.42 535.72 1334.43C535.65 1335.43 535.62 1336.44 535.5 1337.44C535.38 1338.44 535.17 1339.43 535.02 1340.42C534.86 1341.4 534.52 1342.41 534.58 1343.36C534.64 1344.31 534.95 1345.32 535.38 1346.13C535.81 1346.94 536.38 1347.78 537.15 1348.21C537.92 1348.64 539.35 1348.61 540 1348.71C540.64 1348.81 540.83 1348.79 541 1348.8L543.3 1348.8C542.87 1348.55 541.46 1347.85 540.7 1347.28C539.94 1346.71 539.12 1346.18 538.74 1345.38C538.35 1344.59 538.48 1343.49 538.41 1342.51C538.35 1341.53 538.35 1340.51 538.34 1339.5C538.33 1338.5 538.34 1337.49 538.36 1336.49C538.39 1335.48 538.44 1334.48 538.48 1333.48C538.52 1332.47 538.56 1331.47 538.6 1330.46C538.63 1329.46 538.67 1328.45 538.71 1327.45C538.75 1326.45 538.79 1325.44 538.82 1324.44C538.86 1323.43 538.89 1322.43 538.93 1321.43C538.96 1320.42 538.99 1319.42 539.02 1318.41C539.05 1317.41 539.07 1316.4 539.1 1315.4C539.13 1314.39 539.15 1313.39 539.18 1312.39C539.2 1311.38 539.22 1310.38 539.25 1309.37C539.27 1308.37 539.29 1307.36 539.32 1306.36C539.34 1305.35 539.37 1304.35 539.39 1303.34C539.41 1302.34 539.44 1301.33 539.46 1300.33C539.48 1299.33 539.51 1298.32 539.53 1297.32C539.55 1296.31 539.58 1295.31 539.6 1294.3C539.62 1293.3 539.65 1292.29 539.67 1291.29C539.69 1290.28 539.72 1289.28 539.74 1288.28C539.77 1287.27 539.79 1286.27 539.81 1285.26C539.84 1284.26 539.86 1283.25 539.89 1282.25C539.91 1281.24 539.93 1280.24 539.96 1279.23C539.98 1278.23 540.01 1277.23 540.03 1276.22C540.06 1275.22 540.08 1274.21 540.11 1273.21C540.13 1272.2 540.16 1271.2 540.19 1270.19C540.22 1269.19 540.26 1268.19 540.3 1267.18C540.34 1266.18 540.38 1265.17 540.43 1264.17C540.48 1263.17 540.54 1262.16 540.6 1261.16C540.65 1260.16 540.72 1259.16 540.78 1258.15C540.85 1257.15 540.91 1256.15 540.98 1255.14C541.04 1254.14 541.11 1253.14 541.18 1252.14C541.24 1251.13 541.3 1250.13 541.37 1249.13C541.43 1248.13 541.49 1247.12 541.55 1246.12C541.61 1245.12 541.67 1244.11 541.72 1243.11C541.78 1242.11 541.83 1241.1 541.87 1240.1C541.91 1239.1 541.95 1238.09 541.98 1237.09C542.01 1236.08 542.04 1235.08 542.05 1234.08C542.06 1233.07 542.06 1232.07 542.05 1231.06C542.04 1230.06 542.02 1229.06 541.99 1228.06C541.95 1227.05 541.9 1226.05 541.83 1225.05C541.76 1224.05 541.67 1223.06 541.55 1222.06C541.44 1221.07 541.3 1220.08 541.13 1219.1C540.96 1218.12 540.76 1217.14 540.52 1216.17C540.28 1215.21 540.01 1214.25 539.7 1213.31C539.39 1212.37 539.04 1211.44 538.64 1210.54C538.25 1209.64 537.81 1208.75 537.32 1207.9C536.83 1207.04 536.3 1206.21 535.72 1205.41C535.15 1204.61 534.52 1203.84 533.87 1203.11C533.21 1202.37 532.51 1201.66 531.79 1200.99C531.07 1200.31 530.31 1199.66 529.53 1199.04C528.75 1198.42 527.95 1197.83 527.13 1197.26C526.31 1196.7 525.47 1196.16 524.62 1195.64C523.76 1195.12 522.89 1194.62 522.02 1194.14C521.14 1193.66 520.25 1193.2 519.35 1192.75C518.46 1192.31 517.55 1191.88 516.63 1191.47C515.72 1191.06 514.79 1190.68 513.87 1190.3C512.94 1189.92 512 1189.56 511.06 1189.21C510.12 1188.85 509.18 1188.51 508.23 1188.17C507.29 1187.83 506.34 1187.49 505.39 1187.16C504.45 1186.83 503.5 1186.5 502.55 1186.18C501.59 1185.85 500.64 1185.53 499.69 1185.22C498.73 1184.9 497.78 1184.59 496.82 1184.28C495.87 1183.98 494.91 1183.68 493.95 1183.37C492.99 1183.07 492.03 1182.77 491.08 1182.46C490.12 1182.16 489.16 1181.85 488.21 1181.53C487.26 1181.22 486.3 1180.89 485.35 1180.57C484.4 1180.24 483.45 1179.91 482.51 1179.58C481.56 1179.25 480.61 1178.91 479.66 1178.58C478.72 1178.24 477.77 1177.9 476.82 1177.57C475.88 1177.23 474.93 1176.89 473.99 1176.55C473.04 1176.21 471.78 1175.76 471.15 1175.54C470.52 1175.31 470.36 1175.26 470.2 1175.2Z" fill="#bebebe"/>
<path d="M470.2 1175.2C470.63 1175.44 471.91 1176.16 472.78 1176.62C473.65 1177.07 474.53 1177.51 475.43 1177.93C476.33 1178.34 477.24 1178.73 478.16 1179.12C479.08 1179.5 480.01 1179.87 480.94 1180.24C481.87 1180.62 482.81 1180.99 483.74 1181.37C484.67 1181.75 485.6 1182.13 486.53 1182.52C487.45 1182.91 488.38 1183.31 489.3 1183.71C490.22 1184.12 491.13 1184.53 492.05 1184.95C492.96 1185.37 493.87 1185.8 494.78 1186.23C495.68 1186.67 496.58 1187.11 497.48 1187.57C498.38 1188.02 499.27 1188.49 500.16 1188.96C501.04 1189.43 501.92 1189.91 502.8 1190.4C503.68 1190.89 504.56 1191.39 505.43 1191.89C506.3 1192.39 507.17 1192.89 508.04 1193.4C508.9 1193.91 509.77 1194.42 510.63 1194.95C511.48 1195.47 512.34 1196 513.18 1196.55C514.02 1197.1 514.85 1197.65 515.67 1198.23C516.49 1198.81 517.29 1199.4 518.08 1200.02C518.86 1200.64 519.63 1201.28 520.38 1201.94C521.13 1202.61 521.85 1203.29 522.55 1204C523.25 1204.71 523.93 1205.45 524.58 1206.2C525.23 1206.96 525.86 1207.74 526.46 1208.53C527.06 1209.33 527.64 1210.15 528.19 1210.98C528.74 1211.81 529.26 1212.67 529.76 1213.53C530.26 1214.4 530.74 1215.28 531.18 1216.17C531.63 1217.06 532.05 1217.97 532.44 1218.89C532.83 1219.81 533.19 1220.75 533.53 1221.69C533.87 1222.63 534.18 1223.58 534.47 1224.54C534.75 1225.5 535.02 1226.47 535.26 1227.44C535.5 1228.41 535.72 1229.39 535.92 1230.37C536.13 1231.36 536.31 1232.34 536.47 1233.33C536.64 1234.32 536.79 1235.32 536.92 1236.31C537.06 1237.31 537.18 1238.3 537.28 1239.3C537.39 1240.3 537.49 1241.3 537.57 1242.31C537.66 1243.31 537.74 1244.31 537.81 1245.31C537.88 1246.32 537.94 1247.32 537.99 1248.32C538.05 1249.33 538.1 1250.33 538.14 1251.34C538.19 1252.34 538.23 1253.35 538.26 1254.35C538.3 1255.36 538.33 1256.36 538.36 1257.37C538.39 1258.37 538.41 1259.38 538.43 1260.38C538.45 1261.39 538.46 1262.4 538.47 1263.4C538.48 1264.41 538.49 1265.41 538.49 1266.42C538.49 1267.42 538.5 1268.43 538.5 1269.44C538.5 1270.44 538.49 1271.45 538.49 1272.45C538.49 1273.46 538.49 1274.47 538.48 1275.47C538.48 1276.48 538.47 1277.48 538.46 1278.49C538.45 1279.5 538.44 1280.5 538.43 1281.51C538.42 1282.51 538.41 1283.52 538.39 1284.53C538.38 1285.53 538.37 1286.54 538.35 1287.54C538.34 1288.55 538.33 1289.56 538.31 1290.56C538.3 1291.57 538.28 1292.57 538.26 1293.58C538.25 1294.58 538.23 1295.59 538.21 1296.6C538.18 1297.6 538.16 1298.61 538.13 1299.61C538.11 1300.62 538.08 1301.62 538.05 1302.63C538.01 1303.63 537.98 1304.64 537.95 1305.65C537.91 1306.65 537.87 1307.66 537.84 1308.66C537.8 1309.67 537.77 1310.67 537.73 1311.68C537.69 1312.68 537.66 1313.69 537.62 1314.69C537.58 1315.7 537.54 1316.7 537.5 1317.71C537.46 1318.71 537.43 1319.72 537.39 1320.72C537.35 1321.73 537.31 1322.74 537.26 1323.74C537.22 1324.75 537.18 1325.75 537.13 1326.76C537.09 1327.76 537.04 1328.76 537 1329.77C536.95 1330.77 536.91 1331.78 536.87 1332.78C536.82 1333.79 536.82 1334.8 536.73 1335.8C536.63 1336.8 536.48 1337.79 536.31 1338.78C536.15 1339.77 535.84 1340.77 535.75 1341.74C535.65 1342.72 535.54 1343.71 535.74 1344.63C535.95 1345.56 536.38 1346.65 536.97 1347.28C537.56 1347.92 538.41 1348.22 539.3 1348.44C540.18 1348.65 541.63 1348.54 542.29 1348.57C542.96 1348.59 543.13 1348.59 543.3 1348.6" fill="none" stroke="#f00" stroke-width="3.3" stroke-linejoin="round"/>
<path d="M537.4 1175.1V1349.3" stroke="#4a4a4a" stroke-width="1.3" stroke-dasharray="6.6 3"/>
<path d="M477.1 1232.25H644.3" stroke="#000" stroke-width="1.6" stroke-dasharray="1.6 6.2"/>
<path d="M470.1 1349.3v8.2M470.1 1175.1v-8.2M470.1 1349.3h-8.2M644.3 1349.3h8.2M487.52 1349.3v4.4M487.52 1175.1v-4.4M470.1 1331.88h-4.4M644.3 1331.88h4.4M504.94 1349.3v4.4M504.94 1175.1v-4.4M470.1 1314.46h-4.4M644.3 1314.46h4.4M522.36 1349.3v4.4M522.36 1175.1v-4.4M470.1 1297.04h-4.4M644.3 1297.04h4.4M539.78 1349.3v4.4M539.78 1175.1v-4.4M470.1 1279.62h-4.4M644.3 1279.62h4.4M557.2 1349.3v4.4M557.2 1175.1v-4.4M470.1 1262.2h-4.4M644.3 1262.2h4.4M574.62 1349.3v4.4M574.62 1175.1v-4.4M470.1 1244.78h-4.4M644.3 1244.78h4.4M592.04 1349.3v4.4M592.04 1175.1v-4.4M470.1 1227.36h-4.4M644.3 1227.36h4.4M609.46 1349.3v4.4M609.46 1175.1v-4.4M470.1 1209.94h-4.4M644.3 1209.94h4.4M626.88 1349.3v4.4M626.88 1175.1v-4.4M470.1 1192.52h-4.4M644.3 1192.52h4.4M644.3 1349.3v8.2M644.3 1175.1v-8.2M470.1 1175.1h-8.2M644.3 1175.1h8.2" stroke="#000" stroke-width="1.1" fill="none"/>
<rect x="470.1" y="1175.1" width="174.2" height="174.2" fill="none" stroke="#000" stroke-width="1.9"/>
<rect x="35.8" y="1396.4" width="349.3" height="11.2" fill="url(#cb)" stroke="#000" stroke-width="2.6"/>
<path d="M35.6 1408.5V1415M385.3 1408.5V1415" stroke="#444" stroke-width="1"/>
<text class="a" font-size="17.32" transform="matrix(1.07 0 0 1 17.46 1435.33)">0.10</text>
<text class="a" font-size="17.32" transform="matrix(1.08 0 0 1 366.85 1435.33)">0.72</text>
<g fill="#000" stroke="#fff" stroke-width="0.5">
<text class="s" font-size="41.56" transform="matrix(0.87 0 0 1 153.08 29.27)">(</text>
<text class="s" font-size="37.05" transform="matrix(1.14 0 0 1 165.72 28.13)">a</text>
<text class="s" font-size="41.56" transform="matrix(0.84 0 0 1 184.35 29.27)">)</text>
<text class="i" font-size="38" transform="matrix(1.13 0 0 1 207.9 28.5)">T</text>
<text class="s" font-size="25.45" transform="matrix(1.15 0 0 1 230.76 32.95)">pot</text>
<text class="s" font-size="41.56" transform="matrix(0.86 0 0 1 475.89 29.27)">(</text>
<text class="s" font-size="36.57" transform="matrix(1.11 0 0 1 489.2 28.13)">b</text>
<text class="s" font-size="41.56" transform="matrix(0.81 0 0 1 509 29.27)">)</text>
<text stroke-width="1.4" class="d" font-size="40.45" transform="matrix(1.26 0 0 1 531.22 31.94)">⟨</text>
<text class="i" font-size="38" transform="matrix(1.31 0 0 1 546.17 28.5)">T</text>
<text class="s" font-size="25.97" transform="matrix(1.12 0 0 1 570.26 32.85)">pot</text>
<text stroke-width="1.4" class="d" font-size="40.45" transform="matrix(0.83 0 0 1 610.01 31.94)">⟩</text>
<text class="i" font-size="39.54" transform="matrix(1.03 0 0 1 2.31 73.1)">M</text>
<text class="s" font-size="54.59" transform="matrix(1.04 0 0 1 38.4 81.05)">/</text>
<text class="i" font-size="39.54" transform="matrix(1 0 0 1 55.29 73.1)">M</text>
<text class="s" font-size="26.52" transform="matrix(1.09 0 0 1 89.63 77.93)">Earth</text>
<text class="s" font-size="37.2" transform="matrix(1.42 0 0 1 164.55 75.93)">=</text>
<text class="s" font-size="37.2" transform="matrix(1.44 0 0 1 303.62 75.93)">=</text>
<text class="s" font-size="37.2" transform="matrix(1.44 0 0 1 558.92 75.93)">=</text>
<text class="s" font-size="36.64" transform="matrix(0.96 0 0 1 203.44 73.2)">1</text>
<text class="s" font-size="40.56" transform="matrix(0.93 0 0 1 234.71 73.18)">(</text>
<text class="i" font-size="37.88" transform="matrix(1.06 0 0 1 249.5 72.62)">Ra</text>
<text class="s" font-size="37.48" transform="matrix(0.95 0 0 1 343.49 72.94)">4.6</text>
<text class="s" font-size="44.44" transform="matrix(1.03 0 0 1 398.35 78.08)">×</text>
<text class="s" font-size="37.04" transform="matrix(1.01 0 0 1 433.22 72.53)">10</text>
<text class="s" font-size="26.62" transform="matrix(1.13 0 0 1 468.94 60.23)">7</text>
<text class="s" font-size="45.88" transform="matrix(0.84 0 0 1 485.16 73.12)">,</text>
<text class="i" font-size="37.12" transform="matrix(1.09 0 0 1 508.61 72.5)">Di</text>
<text class="s" font-size="37.5" transform="matrix(0.99 0 0 1 597.61 72.94)">0.83</text>
<text class="s" font-size="42.78" transform="matrix(0.84 0 0 1 662.83 74.42)">)</text>
<text class="s" font-size="35.74" transform="matrix(1.01 0 0 1 455.56 304.36)">0.1</text>
<text class="s" font-size="37.01" transform="matrix(1.01 0 0 1 610.25 304.54)">1.1</text>
<text class="s" font-size="37.63" transform="matrix(1.06 0 0 1 656.71 282.42)">0</text>
<text class="s" font-size="37.56" transform="matrix(0.93 0 0 1 657.56 107.5)">1</text>
<text class="i" font-size="36.56" transform="matrix(0 -1.15 1 0 679.88 235.38)">r</text>
<text class="s" font-size="40" transform="matrix(0 -1.2 1 0 683.2 208.81)">−</text>
<text class="i" font-size="36.56" transform="matrix(0 -1.19 1 0 679.88 174.04)">r</text>
<text class="s" font-size="27.12" transform="matrix(0 -1.04 1 0 685.5 156.26)">min</text>
<text class="i" font-size="39.54" transform="matrix(1.03 0 0 1 2.31 343.1)">M</text>
<text class="s" font-size="54.59" transform="matrix(1.04 0 0 1 38.4 351.05)">/</text>
<text class="i" font-size="39.54" transform="matrix(1 0 0 1 55.29 343.1)">M</text>
<text class="s" font-size="26.52" transform="matrix(1.09 0 0 1 89.63 347.93)">Earth</text>
<text class="s" font-size="37.2" transform="matrix(1.42 0 0 1 164.55 345.93)">=</text>
<text class="s" font-size="37.2" transform="matrix(1.44 0 0 1 303.62 345.93)">=</text>
<text class="s" font-size="37.2" transform="matrix(1.44 0 0 1 558.92 345.93)">=</text>
<text class="s" font-size="36.64" transform="matrix(0.96 0 0 1 203.44 343.2)">2</text>
<text class="s" font-size="40.56" transform="matrix(0.93 0 0 1 234.71 343.18)">(</text>
<text class="i" font-size="37.88" transform="matrix(1.06 0 0 1 249.5 342.62)">Ra</text>
<text class="s" font-size="37.48" transform="matrix(0.95 0 0 1 343.49 342.94)">1.2</text>
<text class="s" font-size="44.44" transform="matrix(1.03 0 0 1 398.35 348.08)">×</text>
<text class="s" font-size="37.04" transform="matrix(1.01 0 0 1 433.22 342.53)">10</text>
<text class="s" font-size="26.62" transform="matrix(1.13 0 0 1 468.94 330.23)">8</text>
<text class="s" font-size="45.88" transform="matrix(0.84 0 0 1 485.16 343.12)">,</text>
<text class="i" font-size="37.12" transform="matrix(1.09 0 0 1 508.61 342.5)">Di</text>
<text class="s" font-size="37.5" transform="matrix(0.99 0 0 1 597.61 342.94)">1.42</text>
<text class="s" font-size="42.78" transform="matrix(0.84 0 0 1 662.83 344.42)">)</text>
<text class="s" font-size="35.74" transform="matrix(1.01 0 0 1 455.56 574.36)">0.1</text>
<text class="s" font-size="37.01" transform="matrix(1.01 0 0 1 610.25 574.54)">1.1</text>
<text class="s" font-size="37.63" transform="matrix(1.06 0 0 1 656.71 552.42)">0</text>
<text class="s" font-size="37.56" transform="matrix(0.93 0 0 1 657.56 377.5)">1</text>
<text class="i" font-size="36.56" transform="matrix(0 -1.15 1 0 679.88 505.38)">r</text>
<text class="s" font-size="40" transform="matrix(0 -1.2 1 0 683.2 478.81)">−</text>
<text class="i" font-size="36.56" transform="matrix(0 -1.19 1 0 679.88 444.04)">r</text>
<text class="s" font-size="27.12" transform="matrix(0 -1.04 1 0 685.5 426.26)">min</text>
<text class="i" font-size="39.54" transform="matrix(1.03 0 0 1 2.31 613.1)">M</text>
<text class="s" font-size="54.59" transform="matrix(1.04 0 0 1 38.4 621.05)">/</text>
<text class="i" font-size="39.54" transform="matrix(1 0 0 1 55.29 613.1)">M</text>
<text class="s" font-size="26.52" transform="matrix(1.09 0 0 1 89.63 617.93)">Earth</text>
<text class="s" font-size="37.2" transform="matrix(1.42 0 0 1 164.55 615.93)">=</text>
<text class="s" font-size="37.2" transform="matrix(1.44 0 0 1 303.62 615.93)">=</text>
<text class="s" font-size="37.2" transform="matrix(1.44 0 0 1 558.92 615.93)">=</text>
<text class="s" font-size="36.64" transform="matrix(0.96 0 0 1 203.44 613.2)">4</text>
<text class="s" font-size="40.56" transform="matrix(0.93 0 0 1 234.71 613.18)">(</text>
<text class="i" font-size="37.88" transform="matrix(1.06 0 0 1 249.5 612.62)">Ra</text>
<text class="s" font-size="37.48" transform="matrix(0.95 0 0 1 343.49 612.94)">2.9</text>
<text class="s" font-size="44.44" transform="matrix(1.03 0 0 1 398.35 618.08)">×</text>
<text class="s" font-size="37.04" transform="matrix(1.01 0 0 1 433.22 612.53)">10</text>
<text class="s" font-size="26.62" transform="matrix(1.13 0 0 1 468.94 600.23)">8</text>
<text class="s" font-size="45.88" transform="matrix(0.84 0 0 1 485.16 613.12)">,</text>
<text class="i" font-size="37.12" transform="matrix(1.09 0 0 1 508.61 612.5)">Di</text>
<text class="s" font-size="37.5" transform="matrix(0.99 0 0 1 597.61 612.94)">2.45</text>
<text class="s" font-size="42.78" transform="matrix(0.84 0 0 1 662.83 614.42)">)</text>
<text class="s" font-size="35.74" transform="matrix(1.01 0 0 1 455.56 844.36)">0.1</text>
<text class="s" font-size="37.01" transform="matrix(1.01 0 0 1 610.25 844.54)">1.1</text>
<text class="s" font-size="37.63" transform="matrix(1.06 0 0 1 656.71 822.42)">0</text>
<text class="s" font-size="37.56" transform="matrix(0.93 0 0 1 657.56 647.5)">1</text>
<text class="i" font-size="36.56" transform="matrix(0 -1.15 1 0 679.88 775.38)">r</text>
<text class="s" font-size="40" transform="matrix(0 -1.2 1 0 683.2 748.81)">−</text>
<text class="i" font-size="36.56" transform="matrix(0 -1.19 1 0 679.88 714.04)">r</text>
<text class="s" font-size="27.12" transform="matrix(0 -1.04 1 0 685.5 696.26)">min</text>
<text class="i" font-size="39.54" transform="matrix(1.03 0 0 1 2.31 883.1)">M</text>
<text class="s" font-size="54.59" transform="matrix(1.04 0 0 1 38.4 891.05)">/</text>
<text class="i" font-size="39.54" transform="matrix(1 0 0 1 55.29 883.1)">M</text>
<text class="s" font-size="26.52" transform="matrix(1.09 0 0 1 89.63 887.93)">Earth</text>
<text class="s" font-size="37.2" transform="matrix(1.42 0 0 1 164.55 885.93)">=</text>
<text class="s" font-size="37.2" transform="matrix(1.44 0 0 1 303.62 885.93)">=</text>
<text class="s" font-size="37.2" transform="matrix(1.44 0 0 1 558.92 885.93)">=</text>
<text class="s" font-size="36.64" transform="matrix(0.96 0 0 1 203.44 883.2)">6</text>
<text class="s" font-size="40.56" transform="matrix(0.93 0 0 1 234.71 883.18)">(</text>
<text class="i" font-size="37.88" transform="matrix(1.06 0 0 1 249.5 882.62)">Ra</text>
<text class="s" font-size="37.48" transform="matrix(0.95 0 0 1 343.49 882.94)">5.0</text>
<text class="s" font-size="44.44" transform="matrix(1.03 0 0 1 398.35 888.08)">×</text>
<text class="s" font-size="37.04" transform="matrix(1.01 0 0 1 433.22 882.53)">10</text>
<text class="s" font-size="26.62" transform="matrix(1.13 0 0 1 468.94 870.23)">8</text>
<text class="s" font-size="45.88" transform="matrix(0.84 0 0 1 485.16 883.12)">,</text>
<text class="i" font-size="37.12" transform="matrix(1.09 0 0 1 508.61 882.5)">Di</text>
<text class="s" font-size="37.5" transform="matrix(0.99 0 0 1 597.61 882.94)">3.36</text>
<text class="s" font-size="42.78" transform="matrix(0.84 0 0 1 662.83 884.42)">)</text>
<text class="s" font-size="35.74" transform="matrix(1.01 0 0 1 455.56 1114.36)">0.1</text>
<text class="s" font-size="37.01" transform="matrix(1.01 0 0 1 610.25 1114.54)">1.1</text>
<text class="s" font-size="37.63" transform="matrix(1.06 0 0 1 656.71 1092.42)">0</text>
<text class="s" font-size="37.56" transform="matrix(0.93 0 0 1 657.56 917.5)">1</text>
<text class="i" font-size="36.56" transform="matrix(0 -1.15 1 0 679.88 1045.38)">r</text>
<text class="s" font-size="40" transform="matrix(0 -1.2 1 0 683.2 1018.81)">−</text>
<text class="i" font-size="36.56" transform="matrix(0 -1.19 1 0 679.88 984.04)">r</text>
<text class="s" font-size="27.12" transform="matrix(0 -1.04 1 0 685.5 966.26)">min</text>
<text class="i" font-size="39.54" transform="matrix(1.03 0 0 1 2.31 1153.1)">M</text>
<text class="s" font-size="54.59" transform="matrix(1.04 0 0 1 38.4 1161.05)">/</text>
<text class="i" font-size="39.54" transform="matrix(1 0 0 1 55.29 1153.1)">M</text>
<text class="s" font-size="26.52" transform="matrix(1.09 0 0 1 89.63 1157.93)">Earth</text>
<text class="s" font-size="37.2" transform="matrix(1.42 0 0 1 164.55 1155.93)">=</text>
<text class="s" font-size="37.2" transform="matrix(1.44 0 0 1 303.62 1155.93)">=</text>
<text class="s" font-size="37.2" transform="matrix(1.44 0 0 1 558.92 1155.93)">=</text>
<text class="s" font-size="36.64" transform="matrix(0.96 0 0 1 203.44 1153.2)">8</text>
<text class="s" font-size="40.56" transform="matrix(0.93 0 0 1 234.71 1153.18)">(</text>
<text class="i" font-size="37.88" transform="matrix(1.06 0 0 1 249.5 1152.62)">Ra</text>
<text class="s" font-size="37.48" transform="matrix(0.95 0 0 1 343.49 1152.94)">7.4</text>
<text class="s" font-size="44.44" transform="matrix(1.03 0 0 1 398.35 1158.08)">×</text>
<text class="s" font-size="37.04" transform="matrix(1.01 0 0 1 433.22 1152.53)">10</text>
<text class="s" font-size="26.62" transform="matrix(1.13 0 0 1 468.94 1140.23)">8</text>
<text class="s" font-size="45.88" transform="matrix(0.84 0 0 1 485.16 1153.12)">,</text>
<text class="i" font-size="37.12" transform="matrix(1.09 0 0 1 508.61 1152.5)">Di</text>
<text class="s" font-size="37.5" transform="matrix(0.99 0 0 1 597.61 1152.94)">4.20</text>
<text class="s" font-size="42.78" transform="matrix(0.84 0 0 1 662.83 1154.42)">)</text>
<text class="s" font-size="35.74" transform="matrix(1.01 0 0 1 455.56 1384.36)">0.1</text>
<text class="s" font-size="37.01" transform="matrix(1.01 0 0 1 610.25 1384.54)">1.1</text>
<text class="s" font-size="37.63" transform="matrix(1.06 0 0 1 656.71 1362.42)">0</text>
<text class="s" font-size="37.56" transform="matrix(0.93 0 0 1 657.56 1187.5)">1</text>
<text class="i" font-size="36.56" transform="matrix(0 -1.15 1 0 679.88 1315.38)">r</text>
<text class="s" font-size="40" transform="matrix(0 -1.2 1 0 683.2 1288.81)">−</text>
<text class="i" font-size="36.56" transform="matrix(0 -1.19 1 0 679.88 1254.04)">r</text>
<text class="s" font-size="27.12" transform="matrix(0 -1.04 1 0 685.5 1236.26)">min</text>
</g>
</svg>
</body></html>
